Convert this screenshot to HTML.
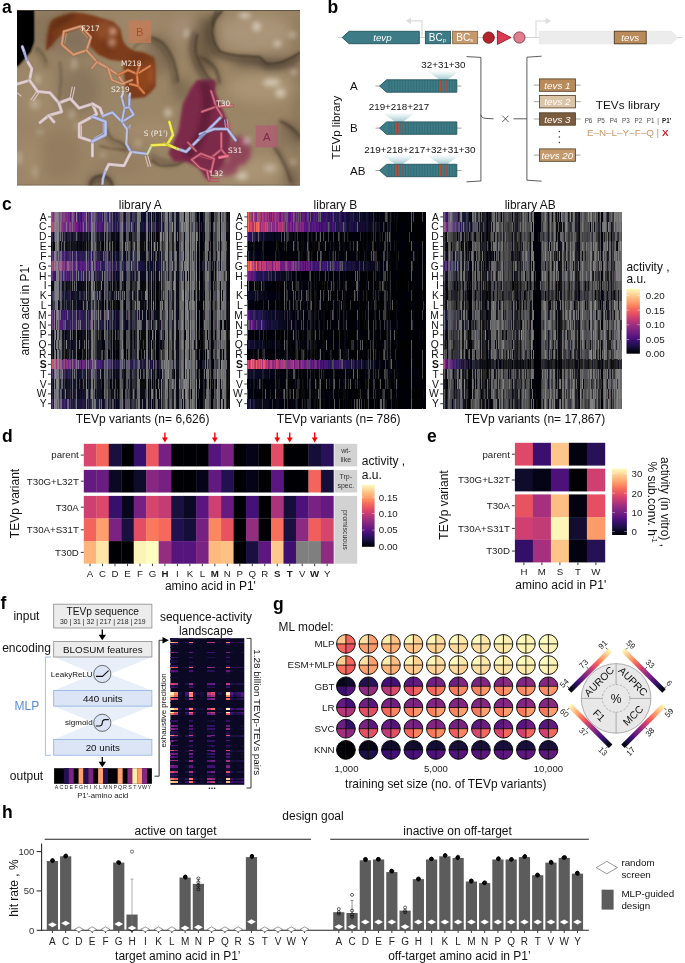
<!DOCTYPE html>
<html lang="en"><head><meta charset="utf-8"><title>Figure</title>
<style>
html,body{margin:0;padding:0;background:#fff}
body{width:685px;height:963px;overflow:hidden}
svg{display:block;font-family:"Liberation Sans",Arial,Helvetica,sans-serif}
</style></head><body>
<svg width="685" height="963" viewBox="0 0 685 963">
<defs>
<linearGradient id="magV" x1="0" y1="0" x2="0" y2="1"><stop offset="0" stop-color="#fcfdbf"/><stop offset="0.06" stop-color="#fde2a3"/><stop offset="0.12" stop-color="#fec488"/><stop offset="0.19" stop-color="#fea772"/><stop offset="0.25" stop-color="#fc8961"/><stop offset="0.31" stop-color="#f56b5c"/><stop offset="0.38" stop-color="#e75263"/><stop offset="0.44" stop-color="#d0416f"/><stop offset="0.5" stop-color="#b73779"/><stop offset="0.56" stop-color="#9c2e7f"/><stop offset="0.62" stop-color="#832681"/><stop offset="0.69" stop-color="#6a1c81"/><stop offset="0.75" stop-color="#51127c"/><stop offset="0.81" stop-color="#36106b"/><stop offset="0.88" stop-color="#1d1147"/><stop offset="0.94" stop-color="#0a0822"/><stop offset="1" stop-color="#000004"/></linearGradient>
<linearGradient id="magH" x1="0" y1="0" x2="1" y2="0"><stop offset="0" stop-color="#000004"/><stop offset="0.06" stop-color="#0a0822"/><stop offset="0.12" stop-color="#1d1147"/><stop offset="0.19" stop-color="#36106b"/><stop offset="0.25" stop-color="#51127c"/><stop offset="0.31" stop-color="#6a1c81"/><stop offset="0.38" stop-color="#832681"/><stop offset="0.44" stop-color="#9c2e7f"/><stop offset="0.5" stop-color="#b73779"/><stop offset="0.56" stop-color="#d0416f"/><stop offset="0.62" stop-color="#e75263"/><stop offset="0.69" stop-color="#f56b5c"/><stop offset="0.75" stop-color="#fc8961"/><stop offset="0.81" stop-color="#fea772"/><stop offset="0.88" stop-color="#fec488"/><stop offset="0.94" stop-color="#fde2a3"/><stop offset="1" stop-color="#fcfdbf"/></linearGradient>
<linearGradient id="fanG" x1="0" y1="0" x2="0" y2="1"><stop offset="0" stop-color="#a9d0d5" stop-opacity="0"/><stop offset="1" stop-color="#9cc8ce" stop-opacity=".95"/></linearGradient>
<filter id="bl6" x="-50%" y="-50%" width="200%" height="200%"><feGaussianBlur stdDeviation="6"/></filter>
<filter id="bl3" x="-50%" y="-50%" width="200%" height="200%"><feGaussianBlur stdDeviation="2.6"/></filter>
<filter id="bl2" x="-20%" y="-20%" width="140%" height="140%"><feGaussianBlur stdDeviation="1.8"/></filter>
<filter id="bl1" x="-20%" y="-20%" width="140%" height="140%"><feGaussianBlur stdDeviation=".8"/></filter>
<clipPath id="clipA"><rect x="17" y="10" width="283" height="175.6"/></clipPath>
</defs>
<text x="2" y="13.2" font-size="17.5" font-weight="bold">a</text>
<g clip-path="url(#clipA)">
<rect x="17" y="10" width="283" height="175.6" fill="#9b8567"/>
<g filter="url(#bl6)">
<ellipse cx="55" cy="30" rx="32" ry="22" fill="#86735b" opacity="0.85"/>
<ellipse cx="80" cy="45" rx="16" ry="12" fill="#7f6f5a" opacity="0.8"/>
<ellipse cx="205" cy="45" rx="11" ry="30" fill="#66553f" opacity="0.85"/>
<ellipse cx="160" cy="55" rx="14" ry="20" fill="#7b6952" opacity="0.7"/>
<ellipse cx="182" cy="90" rx="10" ry="12" fill="#6b5a46" opacity="0.6"/>
<ellipse cx="255" cy="33" rx="36" ry="19" fill="#ab967a" opacity="0.95"/>
<ellipse cx="182" cy="28" rx="11" ry="15" fill="#a5907a" opacity="0.7"/>
<ellipse cx="140" cy="22" rx="18" ry="10" fill="#a08b70" opacity="0.6"/>
<ellipse cx="264" cy="63" rx="32" ry="5" fill="#54453a" opacity="0.85"/>
<ellipse cx="262" cy="88" rx="34" ry="15" fill="#ab9677" opacity="0.85"/>
<ellipse cx="290" cy="135" rx="14" ry="12" fill="#7a6851" opacity="0.7"/>
<ellipse cx="250" cy="170" rx="38" ry="14" fill="#ab9678" opacity="0.85"/>
<ellipse cx="292" cy="178" rx="12" ry="10" fill="#7b6850" opacity="0.7"/>
<ellipse cx="40" cy="95" rx="22" ry="25" fill="#a48d6e" opacity="0.6"/>
<ellipse cx="60" cy="85" rx="5" ry="28" fill="#7d6b55" opacity="0.55"/>
<ellipse cx="82" cy="90" rx="17" ry="24" fill="#82705a" opacity="0.7"/>
<ellipse cx="60" cy="155" rx="20" ry="25" fill="#8d775b" opacity="0.6"/>
<ellipse cx="30" cy="160" rx="12" ry="22" fill="#a58e6e" opacity="0.6"/>
<ellipse cx="150" cy="130" rx="24" ry="10" fill="#a8916f" opacity="0.6"/>
<ellipse cx="120" cy="165" rx="25" ry="10" fill="#8f7a5f" opacity="0.55"/>
<ellipse cx="100" cy="182" rx="10" ry="5" fill="#55463a" opacity="0.85"/>
<ellipse cx="298" cy="100" rx="3" ry="90" fill="#6b5a46" opacity="0.6"/>
</g>
<path d="M17 10 H34 L34 42 L30.5 52 L17 67.5 Z" fill="#000" filter="url(#bl1)"/>
<path d="M17 10 H33.4 L33.4 41 L30 51 L17 66 Z" fill="#000"/>
<g filter="url(#bl3)">
<ellipse cx="187" cy="33.5" rx="2.4" ry="4" fill="#ddd3c2" opacity="0.8"/>
<ellipse cx="244.7" cy="15.4" rx="6" ry="3" fill="#ddd3c2" opacity="0.8"/>
<ellipse cx="256.6" cy="26.6" rx="4" ry="4.5" fill="#ddd3c2" opacity="0.85"/>
<ellipse cx="277.4" cy="43.7" rx="3.6" ry="3" fill="#ddd3c2" opacity="0.85"/>
<ellipse cx="292.3" cy="34.8" rx="4" ry="2.6" fill="#ddd3c2" opacity="0.6"/>
<ellipse cx="293.8" cy="72" rx="3" ry="2.6" fill="#ddd3c2" opacity="0.7"/>
<ellipse cx="271.5" cy="82.5" rx="9" ry="4" fill="#ddd3c2" opacity="0.75"/>
<ellipse cx="280.4" cy="93" rx="5" ry="4.5" fill="#ddd3c2" opacity="0.8"/>
<ellipse cx="37.6" cy="79" rx="3" ry="5" fill="#ddd3c2" opacity="0.45"/>
<ellipse cx="34.7" cy="104" rx="5" ry="5" fill="#ddd3c2" opacity="0.4"/>
<ellipse cx="74" cy="64" rx="2.6" ry="6" fill="#ddd3c2" opacity="0.45"/>
<ellipse cx="72" cy="114" rx="3" ry="5" fill="#ddd3c2" opacity="0.4"/>
<ellipse cx="168" cy="112.7" rx="3.6" ry="4.4" fill="#ddd3c2" opacity="0.7"/>
<ellipse cx="246" cy="141" rx="3.6" ry="3.4" fill="#ddd3c2" opacity="0.75"/>
<ellipse cx="242" cy="176" rx="6" ry="4" fill="#ddd3c2" opacity="0.7"/>
<ellipse cx="270" cy="168" rx="6" ry="4" fill="#ddd3c2" opacity="0.45"/>
<ellipse cx="293" cy="162" rx="2.6" ry="2.6" fill="#ddd3c2" opacity="0.6"/>
<ellipse cx="103" cy="155" rx="3" ry="2.4" fill="#ddd3c2" opacity="0.4"/>
<ellipse cx="77" cy="126" rx="2.4" ry="4" fill="#ddd3c2" opacity="0.3"/>
<ellipse cx="40" cy="132" rx="3.6" ry="2.6" fill="#ddd3c2" opacity="0.35"/>
<ellipse cx="138" cy="143" rx="3" ry="3" fill="#ddd3c2" opacity="0.45"/>
<ellipse cx="19" cy="158" rx="2.4" ry="7" fill="#ddd3c2" opacity="0.5"/>
<ellipse cx="35" cy="172" rx="3" ry="6" fill="#ddd3c2" opacity="0.3"/>
</g>
<g filter="url(#bl3)" fill="none" stroke="#4a3c2d" stroke-linecap="round">
<path d="M219 12 Q209 20 208.5 30 Q208 42 216 53 Q226 58.5 237 59 L259 60.5 Q264 66 268 67 Q277 67.5 284 65 Q292 62 300 56.5" stroke-width="6" opacity=".6"/>
<path d="M194 34 Q191.5 44 192.5 53 Q195 62 199 69 Q204 79 212 87" stroke-width="6" opacity=".55"/>
<path d="M149 39 Q156 41 161 46 Q167 53 170.5 62 Q174 72 175 82" stroke-width="6" opacity=".5"/>
<path d="M203 59 Q211 64 216 71 Q219 77 219.4 84" stroke-width="4" opacity=".45"/>
<path d="M283 123 Q292 128 300 139" stroke-width="6" opacity=".45"/>
<path d="M277 149 Q286 162 293 184" stroke-width="6" opacity=".4"/>
<path d="M91 186 Q92 179 101 178 Q109 178 111.5 186" stroke-width="5" opacity=".6"/>
<path d="M152 157 Q160 162 170 163 Q178 162 184 156" stroke-width="6" opacity=".45"/>
<path d="M36 50 Q44 55 46 66" stroke-width="5" opacity=".35"/>
<path d="M105 131 Q106 140 116 143.5 Q124 145 127 152" stroke-width="4" opacity=".4"/>
</g>
<g filter="url(#bl1)" fill="none" stroke="#33291f" stroke-linecap="round">
<path d="M222.3 10.2 Q214 18 212.5 28 Q211 40 219.4 51.2 Q228 55 237.2 55.6 L259.6 57 Q264 62 267 63.8 Q276 64 283.4 61.6 Q292 58 300 52.7" stroke-width="1.8" opacity=".8"/>
<path d="M216.5 11 Q212 20 212 25.7" stroke-width="1.4" opacity=".6"/>
<path d="M197.3 34.5 Q195 44 195.8 52.2 Q198 60 201.7 67 Q207 77 215 84.7" stroke-width="1.6" opacity=".7"/>
<path d="M200 57 Q209 61 214.9 67.6 Q219 75 219.4 82.5" stroke-width="1.4" opacity=".55"/>
<path d="M151.6 37.5 Q158 39 163.4 43.4 Q170 51 173.7 61 Q177 71 178.1 81.7" stroke-width="1.6" opacity=".7"/>
<path d="M133 49 Q138 42 146 41" stroke-width="1.2" opacity=".5"/>
<path d="M280 121 Q290 125 300 136" stroke-width="1.5" opacity=".6"/>
<path d="M274 147 Q284 160 291 182" stroke-width="1.5" opacity=".55"/>
<path d="M90 185.5 Q91 177 101 175.5 Q110 176 112.5 185.5" stroke-width="1.5" opacity=".85"/>
<path d="M100 146 Q110 149 125 150" stroke-width="1.3" opacity=".6"/>
<path d="M151.7 160.4 Q156 164 160 165.5 Q170 166.5 178 164.5 Q182 162.5 184.5 159.4" stroke-width="1.4" opacity=".7"/>
<path d="M60 62 Q62 80 59 100" stroke-width="1.6" opacity=".35"/>
<path d="M107 129 Q108 138 117 141 Q125 143 128 150" stroke-width="1.3" opacity=".55"/>
<path d="M36 48 Q44 52 46 62" stroke-width="1.3" opacity=".4"/>
</g>
<g filter="url(#bl1)">
<path d="M46.6 49.4 L48.8 31.9 L51.7 21.7 L56 18.5 L61.9 16.6 L69 14.6 L76.5 13.6 L84 14.2 L91.1 15.8 L101.3 18.8 L113 22.4 L119.6 29 L121.8 39.2 L124 44 L127.6 48 L134 51.5 L143.2 53.3 L153.4 57.6 L154.9 66 L154.9 86.3 L150 92 L144.6 96.5 L131.5 98 L126.4 89.2 L125 77 L124.2 64.4 L121.8 60.4 L110 58.9 L98.4 53.8 L91.1 46.5 L90.4 37.7 L80.9 26.8 L69.2 30.4 L61.9 33.4 L54.6 40.7Z" fill="#7d3c1c" stroke="#7d3c1c" stroke-width="1.5" stroke-linejoin="round"/>
</g>
<g filter="url(#bl3)">
<ellipse cx="62" cy="21" rx="15" ry="4" fill="#5a2913" opacity="0.8" transform="rotate(-28 62 21)"/>
<ellipse cx="50.5" cy="38" rx="3" ry="10" fill="#5e2a12" opacity="0.6" transform="rotate(8 50.5 38)"/>
<ellipse cx="104" cy="30" rx="9" ry="9" fill="#99552e" opacity="0.65"/>
<ellipse cx="106" cy="48" rx="6" ry="8" fill="#6f3318" opacity="0.6" transform="rotate(-30 106 48)"/>
<ellipse cx="143" cy="78" rx="8" ry="13" fill="#96481d" opacity="0.7"/>
<ellipse cx="151.5" cy="74" rx="2.2" ry="11" fill="#b96030" opacity="0.6"/>
<ellipse cx="138" cy="57" rx="9" ry="3" fill="#6a2f14" opacity="0.6"/>
<ellipse cx="113.5" cy="31.5" rx="2.6" ry="3.2" fill="#f0c8aa" opacity="0.95"/>
<ellipse cx="112.5" cy="42" rx="2.6" ry="3.2" fill="#f0c8aa" opacity="0.85"/>
</g>
<g filter="url(#bl3)">
<ellipse cx="239" cy="151" rx="12" ry="15" fill="#8d3856" opacity="0.85"/>
<ellipse cx="226" cy="168" rx="12" ry="8" fill="#8d3856" opacity="0.8"/>
</g>
<g filter="url(#bl2)">
<path d="M196.8 80 H215.2 V92.3 L221.3 106.6 L227.4 121 L231 137 L229 152 L222 166 L210 178 L207 180 L198.8 168 L186.6 161.7 L174.3 161.7 L168.2 153.6 L178.4 131 L182.5 104.5 L190.7 88.2 Z" fill="#7b2b49"/>
</g>
<g filter="url(#bl3)">
<path d="M204 82 L208 100 L204 126 L196 146 L186 156" fill="none" stroke="#571c33" stroke-width="9" opacity=".8"/>
<ellipse cx="246" cy="141.5" rx="3" ry="3" fill="#e6cfd0" opacity="0.7"/>
</g>
<rect x="128.6" y="20.4" width="22.6" height="22.6" fill="#c97c55" opacity=".72"/>
<text x="139.9" y="35.8" font-size="11.4" text-anchor="middle" fill="#a4512c">B</text>
<rect x="255.6" y="125.4" width="22.5" height="22" fill="#b05c72" opacity=".75"/>
<text x="266.9" y="140.6" font-size="11.4" text-anchor="middle" fill="#7e2a4b">A</text>
<path d="M63.9 31.4 L80.7 26.2 L90.9 37.2 L86.5 50.3 L73.4 54.7 L61.7 44.5 L63.9 31.4" fill="none" stroke="#895b40" stroke-width="3.5" stroke-linecap="round" stroke-linejoin="round" opacity="0.47"/><path d="M63.9 31.4 L80.7 26.2 L90.9 37.2 L86.5 50.3 L73.4 54.7 L61.7 44.5 L63.9 31.4" fill="none" stroke="#d48d63" stroke-width="2.6" stroke-linecap="round" stroke-linejoin="round" opacity="0.85"/><path d="M63.9 31.4 L80.7 26.2 L90.9 37.2 L86.5 50.3 L73.4 54.7 L61.7 44.5 L63.9 31.4" fill="none" stroke="#e5baa1" stroke-width="0.99" stroke-linecap="round" stroke-linejoin="round" opacity="0.59"/>
<path d="M66.5 33.2 L64.8 43.5" fill="none" stroke="#d48d63" stroke-width="1.1" stroke-linecap="round" stroke-linejoin="round" opacity="0.8"/>
<path d="M80 29 L87.6 37.6" fill="none" stroke="#d48d63" stroke-width="1.1" stroke-linecap="round" stroke-linejoin="round" opacity="0.8"/>
<path d="M86.5 50.3 L97 62 L108 68 L118 75 L124 84" fill="none" stroke="#895b40" stroke-width="3.5" stroke-linecap="round" stroke-linejoin="round" opacity="0.47"/><path d="M86.5 50.3 L97 62 L108 68 L118 75 L124 84" fill="none" stroke="#d48d63" stroke-width="2.6" stroke-linecap="round" stroke-linejoin="round" opacity="0.85"/><path d="M86.5 50.3 L97 62 L108 68 L118 75 L124 84" fill="none" stroke="#e5baa1" stroke-width="0.99" stroke-linecap="round" stroke-linejoin="round" opacity="0.59"/>
<path d="M97 62 L92 68" fill="none" stroke="#895b40" stroke-width="3.4" stroke-linecap="round" stroke-linejoin="round" opacity="0.44"/><path d="M97 62 L92 68" fill="none" stroke="#d48d63" stroke-width="2.5" stroke-linecap="round" stroke-linejoin="round" opacity="0.8"/><path d="M97 62 L92 68" fill="none" stroke="#e5baa1" stroke-width="0.95" stroke-linecap="round" stroke-linejoin="round" opacity="0.56"/>
<path d="M108 68 L112 80 L122 84 L132 80" fill="none" stroke="#895b40" stroke-width="3.3" stroke-linecap="round" stroke-linejoin="round" opacity="0.44"/><path d="M108 68 L112 80 L122 84 L132 80" fill="none" stroke="#d48d63" stroke-width="2.4" stroke-linecap="round" stroke-linejoin="round" opacity="0.8"/><path d="M108 68 L112 80 L122 84 L132 80" fill="none" stroke="#e5baa1" stroke-width="0.91" stroke-linecap="round" stroke-linejoin="round" opacity="0.56"/>
<path d="M108.5 72 L111 79" fill="none" stroke="#d48d63" stroke-width="1" stroke-linecap="round" stroke-linejoin="round" opacity="0.8"/>
<path d="M118 75 L128 70 L137 74 L150 66" fill="none" stroke="#874825" stroke-width="3.5" stroke-linecap="round" stroke-linejoin="round" opacity="0.5"/><path d="M118 75 L128 70 L137 74 L150 66" fill="none" stroke="#d0703a" stroke-width="2.6" stroke-linecap="round" stroke-linejoin="round" opacity="0.9"/><path d="M118 75 L128 70 L137 74 L150 66" fill="none" stroke="#e2a988" stroke-width="0.99" stroke-linecap="round" stroke-linejoin="round" opacity="0.63"/>
<path d="M137 74 L138 86 L144 93" fill="none" stroke="#874825" stroke-width="3.5" stroke-linecap="round" stroke-linejoin="round" opacity="0.5"/><path d="M137 74 L138 86 L144 93" fill="none" stroke="#d0703a" stroke-width="2.6" stroke-linecap="round" stroke-linejoin="round" opacity="0.9"/><path d="M137 74 L138 86 L144 93" fill="none" stroke="#e2a988" stroke-width="0.99" stroke-linecap="round" stroke-linejoin="round" opacity="0.63"/>
<path d="M138 86 L130 84" fill="none" stroke="#874825" stroke-width="3.4" stroke-linecap="round" stroke-linejoin="round" opacity="0.5"/><path d="M138 86 L130 84" fill="none" stroke="#d0703a" stroke-width="2.5" stroke-linecap="round" stroke-linejoin="round" opacity="0.9"/><path d="M138 86 L130 84" fill="none" stroke="#e2a988" stroke-width="0.95" stroke-linecap="round" stroke-linejoin="round" opacity="0.63"/>
<path d="M137 74 L140 64" fill="none" stroke="#874825" stroke-width="3.4" stroke-linecap="round" stroke-linejoin="round" opacity="0.44"/><path d="M137 74 L140 64" fill="none" stroke="#d0703a" stroke-width="2.5" stroke-linecap="round" stroke-linejoin="round" opacity="0.8"/><path d="M137 74 L140 64" fill="none" stroke="#e2a988" stroke-width="0.95" stroke-linecap="round" stroke-linejoin="round" opacity="0.56"/>
<path d="M26.7 60 L31.8 68.8 L29.6 80.4 L17.2 84" fill="none" stroke="#8c7e7e" stroke-width="3.9" stroke-linecap="round" stroke-linejoin="round" opacity="0.55"/><path d="M26.7 60 L31.8 68.8 L29.6 80.4 L17.2 84" fill="none" stroke="#d8c2c3" stroke-width="3" stroke-linecap="round" stroke-linejoin="round"/><path d="M26.7 60 L31.8 68.8 L29.6 80.4 L17.2 84" fill="none" stroke="#e7dadb" stroke-width="1.14" stroke-linecap="round" stroke-linejoin="round" opacity="0.7"/>
<path d="M29.6 80.4 L37.6 91.4 L50 92.8 L58.8 103 L70.5 98.7 L79.2 108.2 L92.4 103.8 L96.8 114 L92.4 116.6" fill="none" stroke="#8c7e7e" stroke-width="3.9" stroke-linecap="round" stroke-linejoin="round" opacity="0.55"/><path d="M29.6 80.4 L37.6 91.4 L50 92.8 L58.8 103 L70.5 98.7 L79.2 108.2 L92.4 103.8 L96.8 114 L92.4 116.6" fill="none" stroke="#d8c2c3" stroke-width="3" stroke-linecap="round" stroke-linejoin="round"/><path d="M29.6 80.4 L37.6 91.4 L50 92.8 L58.8 103 L70.5 98.7 L79.2 108.2 L92.4 103.8 L96.8 114 L92.4 116.6" fill="none" stroke="#e7dadb" stroke-width="1.14" stroke-linecap="round" stroke-linejoin="round" opacity="0.7"/>
<path d="M36.6 91.6 L31 99.6" fill="none" stroke="#d8c2c3" stroke-width="1.1" stroke-linecap="round" stroke-linejoin="round"/>
<path d="M38.9 92.6 L33.4 100.6" fill="none" stroke="#d8c2c3" stroke-width="1.1" stroke-linecap="round" stroke-linejoin="round"/>
<path d="M70 98 L72.2 87" fill="none" stroke="#d8c2c3" stroke-width="1.1" stroke-linecap="round" stroke-linejoin="round"/>
<path d="M72.4 98.4 L74.6 87.4" fill="none" stroke="#d8c2c3" stroke-width="1.1" stroke-linecap="round" stroke-linejoin="round"/>
<path d="M58.8 103 L61.7 111.8 L48.6 115.5 L40 122.6" fill="none" stroke="#8c7e7e" stroke-width="3.9" stroke-linecap="round" stroke-linejoin="round" opacity="0.55"/><path d="M58.8 103 L61.7 111.8 L48.6 115.5 L40 122.6" fill="none" stroke="#d8c2c3" stroke-width="3" stroke-linecap="round" stroke-linejoin="round"/><path d="M58.8 103 L61.7 111.8 L48.6 115.5 L40 122.6" fill="none" stroke="#e7dadb" stroke-width="1.14" stroke-linecap="round" stroke-linejoin="round" opacity="0.7"/>
<path d="M48.6 115.5 L54 122" fill="none" stroke="#8c7e7e" stroke-width="3.9" stroke-linecap="round" stroke-linejoin="round" opacity="0.55"/><path d="M48.6 115.5 L54 122" fill="none" stroke="#d8c2c3" stroke-width="3" stroke-linecap="round" stroke-linejoin="round"/><path d="M48.6 115.5 L54 122" fill="none" stroke="#e7dadb" stroke-width="1.14" stroke-linecap="round" stroke-linejoin="round" opacity="0.7"/>
<path d="M17.5 93 L21 96" fill="none" stroke="#d8c2c3" stroke-width="1.1" stroke-linecap="round" stroke-linejoin="round"/>
<path d="M92.4 116.6 L79.2 123.9 L79.2 137 L92.4 141.4 L92.4 156" fill="none" stroke="#8c7e7e" stroke-width="3.9" stroke-linecap="round" stroke-linejoin="round" opacity="0.55"/><path d="M92.4 116.6 L79.2 123.9 L79.2 137 L92.4 141.4 L92.4 156" fill="none" stroke="#d8c2c3" stroke-width="3" stroke-linecap="round" stroke-linejoin="round"/><path d="M92.4 116.6 L79.2 123.9 L79.2 137 L92.4 141.4 L92.4 156" fill="none" stroke="#e7dadb" stroke-width="1.14" stroke-linecap="round" stroke-linejoin="round" opacity="0.7"/>
<path d="M81.5 125.6 L81.5 135.6" fill="none" stroke="#d8c2c3" stroke-width="1" stroke-linecap="round" stroke-linejoin="round"/>
<path d="M92.4 103.8 L100 108 L103 116" fill="none" stroke="#8c7e7e" stroke-width="3.9" stroke-linecap="round" stroke-linejoin="round" opacity="0.55"/><path d="M92.4 103.8 L100 108 L103 116" fill="none" stroke="#d8c2c3" stroke-width="3" stroke-linecap="round" stroke-linejoin="round"/><path d="M92.4 103.8 L100 108 L103 116" fill="none" stroke="#e7dadb" stroke-width="1.14" stroke-linecap="round" stroke-linejoin="round" opacity="0.7"/>
<path d="M22.3 46.7 L24.6 53" fill="none" stroke="#787a9c" stroke-width="3.5" stroke-linecap="round" stroke-linejoin="round" opacity="0.55"/><path d="M22.3 46.7 L24.6 53" fill="none" stroke="#b9bdf0" stroke-width="2.6" stroke-linecap="round" stroke-linejoin="round"/><path d="M22.3 46.7 L24.6 53" fill="none" stroke="#d5d7f6" stroke-width="0.99" stroke-linecap="round" stroke-linejoin="round" opacity="0.7"/>
<path d="M24.6 53 L26.7 60" fill="none" stroke="#64688c" stroke-width="3.3" stroke-linecap="round" stroke-linejoin="round" opacity="0.55"/><path d="M24.6 53 L26.7 60" fill="none" stroke="#9aa0d8" stroke-width="2.4" stroke-linecap="round" stroke-linejoin="round"/><path d="M24.6 53 L26.7 60" fill="none" stroke="#c2c6e7" stroke-width="0.91" stroke-linecap="round" stroke-linejoin="round" opacity="0.7"/>
<path d="M92.4 116.6 L105.5 121.7 L105.5 134.8 L92.4 141.4" fill="none" stroke="#6d7392" stroke-width="3.9" stroke-linecap="round" stroke-linejoin="round" opacity="0.55"/><path d="M92.4 116.6 L105.5 121.7 L105.5 134.8 L92.4 141.4" fill="none" stroke="#a9b1e2" stroke-width="3" stroke-linecap="round" stroke-linejoin="round"/><path d="M92.4 116.6 L105.5 121.7 L105.5 134.8 L92.4 141.4" fill="none" stroke="#cbd0ed" stroke-width="1.14" stroke-linecap="round" stroke-linejoin="round" opacity="0.7"/>
<path d="M103.2 123.5 L103.2 133.2 L94 138" fill="none" stroke="#a9b1e2" stroke-width="1" stroke-linecap="round" stroke-linejoin="round"/>
<path d="M102.9 116 L112.4 112.4 L121.9 121.9 L127 129.2 L126.3 143.8 L130.7 151.8 L147.4 154" fill="none" stroke="#6d7392" stroke-width="3.4" stroke-linecap="round" stroke-linejoin="round" opacity="0.55"/><path d="M102.9 116 L112.4 112.4 L121.9 121.9 L127 129.2 L126.3 143.8 L130.7 151.8 L147.4 154" fill="none" stroke="#a9b1e2" stroke-width="2.5" stroke-linecap="round" stroke-linejoin="round"/><path d="M102.9 116 L112.4 112.4 L121.9 121.9 L127 129.2 L126.3 143.8 L130.7 151.8 L147.4 154" fill="none" stroke="#cbd0ed" stroke-width="0.95" stroke-linecap="round" stroke-linejoin="round" opacity="0.7"/>
<path d="M121.9 121.9 L133.6 114.6 L129.2 107.3 L129.4 96" fill="none" stroke="#6d7392" stroke-width="3.3" stroke-linecap="round" stroke-linejoin="round" opacity="0.55"/><path d="M121.9 121.9 L133.6 114.6 L129.2 107.3 L129.4 96" fill="none" stroke="#a9b1e2" stroke-width="2.4" stroke-linecap="round" stroke-linejoin="round"/><path d="M121.9 121.9 L133.6 114.6 L129.2 107.3 L129.4 96" fill="none" stroke="#cbd0ed" stroke-width="0.91" stroke-linecap="round" stroke-linejoin="round" opacity="0.7"/>
<path d="M121.9 121.9 L124.5 108 L121.5 97" fill="none" stroke="#6d7392" stroke-width="3.1" stroke-linecap="round" stroke-linejoin="round" opacity="0.55"/><path d="M121.9 121.9 L124.5 108 L121.5 97" fill="none" stroke="#a9b1e2" stroke-width="2.2" stroke-linecap="round" stroke-linejoin="round"/><path d="M121.9 121.9 L124.5 108 L121.5 97" fill="none" stroke="#cbd0ed" stroke-width="0.84" stroke-linecap="round" stroke-linejoin="round" opacity="0.7"/>
<path d="M124.5 108 L129.2 107.3" fill="none" stroke="#6d7392" stroke-width="2.9" stroke-linecap="round" stroke-linejoin="round" opacity="0.55"/><path d="M124.5 108 L129.2 107.3" fill="none" stroke="#a9b1e2" stroke-width="2" stroke-linecap="round" stroke-linejoin="round"/><path d="M124.5 108 L129.2 107.3" fill="none" stroke="#cbd0ed" stroke-width="0.76" stroke-linecap="round" stroke-linejoin="round" opacity="0.7"/>
<path d="M127.5 128 L130.5 125 L129.6 128.4" fill="none" stroke="#a9b1e2" stroke-width="1" stroke-linecap="round" stroke-linejoin="round"/>
<path d="M121.5 97 L123 93" fill="none" stroke="#827c8c" stroke-width="3.1" stroke-linecap="round" stroke-linejoin="round" opacity="0.55"/><path d="M121.5 97 L123 93" fill="none" stroke="#c8bfd8" stroke-width="2.2" stroke-linecap="round" stroke-linejoin="round"/><path d="M121.5 97 L123 93" fill="none" stroke="#ded8e7" stroke-width="0.84" stroke-linecap="round" stroke-linejoin="round" opacity="0.7"/>
<path d="M129.4 96 L130 93.6" fill="none" stroke="#827c8c" stroke-width="3.1" stroke-linecap="round" stroke-linejoin="round" opacity="0.55"/><path d="M129.4 96 L130 93.6" fill="none" stroke="#c8bfd8" stroke-width="2.2" stroke-linecap="round" stroke-linejoin="round"/><path d="M129.4 96 L130 93.6" fill="none" stroke="#ded8e7" stroke-width="0.84" stroke-linecap="round" stroke-linejoin="round" opacity="0.7"/>
<path d="M130.7 152.6 L124.1 165.7 L108.8 164.2 L105 172" fill="none" stroke="#8c7e7e" stroke-width="3.9" stroke-linecap="round" stroke-linejoin="round" opacity="0.55"/><path d="M130.7 152.6 L124.1 165.7 L108.8 164.2 L105 172" fill="none" stroke="#d8c2c3" stroke-width="3" stroke-linecap="round" stroke-linejoin="round"/><path d="M130.7 152.6 L124.1 165.7 L108.8 164.2 L105 172" fill="none" stroke="#e7dadb" stroke-width="1.14" stroke-linecap="round" stroke-linejoin="round" opacity="0.7"/>
<path d="M105 172 L102.9 178.8 L102.5 184" fill="none" stroke="#6d7392" stroke-width="3.4" stroke-linecap="round" stroke-linejoin="round" opacity="0.55"/><path d="M105 172 L102.9 178.8 L102.5 184" fill="none" stroke="#a9b1e2" stroke-width="2.5" stroke-linecap="round" stroke-linejoin="round"/><path d="M105 172 L102.9 178.8 L102.5 184" fill="none" stroke="#cbd0ed" stroke-width="0.95" stroke-linecap="round" stroke-linejoin="round" opacity="0.7"/>
<path d="M145.3 156.2 L148.2 166.6" fill="none" stroke="#d8c2c3" stroke-width="1.1" stroke-linecap="round" stroke-linejoin="round"/>
<path d="M147.7 155.6 L150.6 166" fill="none" stroke="#d8c2c3" stroke-width="1.1" stroke-linecap="round" stroke-linejoin="round"/>
<path d="M147.4 154 L151.8 145.3" fill="none" stroke="#828664" stroke-width="3.3" stroke-linecap="round" stroke-linejoin="round" opacity="0.55"/><path d="M147.4 154 L151.8 145.3" fill="none" stroke="#c9cf9a" stroke-width="2.4" stroke-linecap="round" stroke-linejoin="round"/><path d="M147.4 154 L151.8 145.3" fill="none" stroke="#dee2c2" stroke-width="0.91" stroke-linecap="round" stroke-linejoin="round" opacity="0.7"/>
<path d="M169.3 121.9 L173 135 L167.2 144.5" fill="none" stroke="#9b9628" stroke-width="3.4" stroke-linecap="round" stroke-linejoin="round" opacity="0.55"/><path d="M169.3 121.9 L173 135 L167.2 144.5" fill="none" stroke="#efe73e" stroke-width="2.5" stroke-linecap="round" stroke-linejoin="round"/><path d="M169.3 121.9 L173 135 L167.2 144.5" fill="none" stroke="#f5f08b" stroke-width="0.95" stroke-linecap="round" stroke-linejoin="round" opacity="0.7"/>
<path d="M151.8 145.3 L167.2 144.5 L177.4 148.9" fill="none" stroke="#9b9628" stroke-width="3.4" stroke-linecap="round" stroke-linejoin="round" opacity="0.55"/><path d="M151.8 145.3 L167.2 144.5 L177.4 148.9" fill="none" stroke="#efe73e" stroke-width="2.5" stroke-linecap="round" stroke-linejoin="round"/><path d="M151.8 145.3 L167.2 144.5 L177.4 148.9" fill="none" stroke="#f5f08b" stroke-width="0.95" stroke-linecap="round" stroke-linejoin="round" opacity="0.7"/>
<path d="M164 142.5 L170 147" fill="none" stroke="#c9c22a" stroke-width="1.2" stroke-linecap="round" stroke-linejoin="round"/>
<path d="M177.4 148.9 L181 150" fill="none" stroke="#8a8958" stroke-width="3.3" stroke-linecap="round" stroke-linejoin="round" opacity="0.55"/><path d="M177.4 148.9 L181 150" fill="none" stroke="#d5d488" stroke-width="2.4" stroke-linecap="round" stroke-linejoin="round"/><path d="M177.4 148.9 L181 150" fill="none" stroke="#e5e5b7" stroke-width="0.91" stroke-linecap="round" stroke-linejoin="round" opacity="0.7"/>
<path d="M181 150 L186.1 151.8 L196.8 141.3 L221.3 116.8" fill="none" stroke="#6d7392" stroke-width="3.5" stroke-linecap="round" stroke-linejoin="round" opacity="0.55"/><path d="M181 150 L186.1 151.8 L196.8 141.3 L221.3 116.8" fill="none" stroke="#a9b1e2" stroke-width="2.6" stroke-linecap="round" stroke-linejoin="round"/><path d="M181 150 L186.1 151.8 L196.8 141.3 L221.3 116.8" fill="none" stroke="#cbd0ed" stroke-width="0.99" stroke-linecap="round" stroke-linejoin="round" opacity="0.7"/>
<path d="M199.9 134.2 L214.2 129 L227.4 129 L235.6 140.3" fill="none" stroke="#6d7392" stroke-width="3.5" stroke-linecap="round" stroke-linejoin="round" opacity="0.55"/><path d="M199.9 134.2 L214.2 129 L227.4 129 L235.6 140.3" fill="none" stroke="#a9b1e2" stroke-width="2.6" stroke-linecap="round" stroke-linejoin="round"/><path d="M199.9 134.2 L214.2 129 L227.4 129 L235.6 140.3" fill="none" stroke="#cbd0ed" stroke-width="0.99" stroke-linecap="round" stroke-linejoin="round" opacity="0.7"/>
<path d="M199.5 137.5 L205 133.5" fill="none" stroke="#515577" stroke-width="3.1" stroke-linecap="round" stroke-linejoin="round" opacity="0.55"/><path d="M199.5 137.5 L205 133.5" fill="none" stroke="#7d84b8" stroke-width="2.2" stroke-linecap="round" stroke-linejoin="round"/><path d="M199.5 137.5 L205 133.5" fill="none" stroke="#b1b5d4" stroke-width="0.84" stroke-linecap="round" stroke-linejoin="round" opacity="0.7"/>
<path d="M224.6 120 L225.6 128" fill="none" stroke="#a9b1e2" stroke-width="1" stroke-linecap="round" stroke-linejoin="round"/>
<path d="M227.2 119.6 L228.2 127.6" fill="none" stroke="#a9b1e2" stroke-width="1" stroke-linecap="round" stroke-linejoin="round"/>
<path d="M211.1 91.2 L216.2 106.6 L201.9 111.7" fill="none" stroke="#7c3444" stroke-width="3.5" stroke-linecap="round" stroke-linejoin="round" opacity="0.5"/><path d="M211.1 91.2 L216.2 106.6 L201.9 111.7" fill="none" stroke="#bf5069" stroke-width="2.6" stroke-linecap="round" stroke-linejoin="round" opacity="0.9"/><path d="M211.1 91.2 L216.2 106.6 L201.9 111.7" fill="none" stroke="#d896a5" stroke-width="0.99" stroke-linecap="round" stroke-linejoin="round" opacity="0.63"/>
<path d="M216.2 106.6 L232.6 105.5" fill="none" stroke="#824144" stroke-width="3.5" stroke-linecap="round" stroke-linejoin="round" opacity="0.5"/><path d="M216.2 106.6 L232.6 105.5" fill="none" stroke="#c9646a" stroke-width="2.6" stroke-linecap="round" stroke-linejoin="round" opacity="0.9"/><path d="M216.2 106.6 L232.6 105.5" fill="none" stroke="#dea2a5" stroke-width="0.99" stroke-linecap="round" stroke-linejoin="round" opacity="0.63"/>
<path d="M216.2 106.6 L222 116" fill="none" stroke="#7c3444" stroke-width="3.5" stroke-linecap="round" stroke-linejoin="round" opacity="0.5"/><path d="M216.2 106.6 L222 116" fill="none" stroke="#bf5069" stroke-width="2.6" stroke-linecap="round" stroke-linejoin="round" opacity="0.9"/><path d="M216.2 106.6 L222 116" fill="none" stroke="#d896a5" stroke-width="0.99" stroke-linecap="round" stroke-linejoin="round" opacity="0.63"/>
<path d="M226 124.5 L233 125.5" fill="none" stroke="#c9646a" stroke-width="1.1" stroke-linecap="round" stroke-linejoin="round"/>
<path d="M226 127.2 L233 128.2" fill="none" stroke="#c9646a" stroke-width="1.1" stroke-linecap="round" stroke-linejoin="round"/>
<path d="M221.3 133.1 L221.3 149.5 L211.1 157.7" fill="none" stroke="#7c3444" stroke-width="3.5" stroke-linecap="round" stroke-linejoin="round" opacity="0.52"/><path d="M221.3 133.1 L221.3 149.5 L211.1 157.7" fill="none" stroke="#bf5069" stroke-width="2.6" stroke-linecap="round" stroke-linejoin="round" opacity="0.95"/><path d="M221.3 133.1 L221.3 149.5 L211.1 157.7" fill="none" stroke="#d896a5" stroke-width="0.99" stroke-linecap="round" stroke-linejoin="round" opacity="0.66"/>
<path d="M221.3 149.5 L226 155" fill="none" stroke="#7c3444" stroke-width="3.5" stroke-linecap="round" stroke-linejoin="round" opacity="0.55"/><path d="M221.3 149.5 L226 155" fill="none" stroke="#bf5069" stroke-width="2.6" stroke-linecap="round" stroke-linejoin="round"/><path d="M221.3 149.5 L226 155" fill="none" stroke="#d896a5" stroke-width="0.99" stroke-linecap="round" stroke-linejoin="round" opacity="0.7"/>
<path d="M219.5 157.5 L227.5 156" fill="none" stroke="#913e50" stroke-width="4.1" stroke-linecap="round" stroke-linejoin="round" opacity="0.55"/><path d="M219.5 157.5 L227.5 156" fill="none" stroke="#e0607c" stroke-width="3.2" stroke-linecap="round" stroke-linejoin="round"/><path d="M219.5 157.5 L227.5 156" fill="none" stroke="#ec9fb0" stroke-width="1.22" stroke-linecap="round" stroke-linejoin="round" opacity="0.7"/>
<path d="M191.7 159.7 L200.9 153.6 L214.2 158.7 L211.1 172 L199.9 167.9 L191.7 159.7" fill="none" stroke="#7c3444" stroke-width="3.4" stroke-linecap="round" stroke-linejoin="round" opacity="0.52"/><path d="M191.7 159.7 L200.9 153.6 L214.2 158.7 L211.1 172 L199.9 167.9 L191.7 159.7" fill="none" stroke="#bf5069" stroke-width="2.5" stroke-linecap="round" stroke-linejoin="round" opacity="0.95"/><path d="M191.7 159.7 L200.9 153.6 L214.2 158.7 L211.1 172 L199.9 167.9 L191.7 159.7" fill="none" stroke="#d896a5" stroke-width="0.95" stroke-linecap="round" stroke-linejoin="round" opacity="0.66"/>
<path d="M188 142.5 L196 151" fill="none" stroke="#7c3444" stroke-width="3.4" stroke-linecap="round" stroke-linejoin="round" opacity="0.5"/><path d="M188 142.5 L196 151" fill="none" stroke="#bf5069" stroke-width="2.5" stroke-linecap="round" stroke-linejoin="round" opacity="0.9"/><path d="M188 142.5 L196 151" fill="none" stroke="#d896a5" stroke-width="0.95" stroke-linecap="round" stroke-linejoin="round" opacity="0.63"/>
<path d="M200 156.5 L211 159.5" fill="none" stroke="#bf5069" stroke-width="1" stroke-linecap="round" stroke-linejoin="round" opacity="0.9"/>
<path d="M207 170.5 L209 180" fill="none" stroke="#7c3444" stroke-width="3.4" stroke-linecap="round" stroke-linejoin="round" opacity="0.55"/><path d="M207 170.5 L209 180" fill="none" stroke="#bf5069" stroke-width="2.5" stroke-linecap="round" stroke-linejoin="round"/><path d="M207 170.5 L209 180" fill="none" stroke="#d896a5" stroke-width="0.95" stroke-linecap="round" stroke-linejoin="round" opacity="0.7"/>
<path d="M209 178.6 L219.3 178.6" fill="none" stroke="#bf5069" stroke-width="1.1" stroke-linecap="round" stroke-linejoin="round"/>
<path d="M209 181.2 L219.3 181.2" fill="none" stroke="#bf5069" stroke-width="1.1" stroke-linecap="round" stroke-linejoin="round"/>
<rect x="17" y="184.8" width="283" height="0.9" fill="#4f4335" opacity=".8"/>
<rect x="17" y="10" width="283" height="1" fill="#4f4335" opacity=".75"/>
<text x="81.4" y="30.6" font-size="7.4" fill="#f1ece6" font-family="DejaVu Sans, sans-serif">F217</text>
<text x="121" y="65.8" font-size="7.4" fill="#f1ece6" font-family="DejaVu Sans, sans-serif">M218</text>
<text x="111" y="92.4" font-size="7.4" fill="#f1ece6" font-family="DejaVu Sans, sans-serif">S219</text>
<text x="143.8" y="136.2" font-size="7.4" fill="#f1ece6" font-family="DejaVu Sans, sans-serif">S (P1')</text>
<text x="216.2" y="106.2" font-size="7.4" fill="#f1ece6" font-family="DejaVu Sans, sans-serif">T30</text>
<text x="228" y="153" font-size="7.4" fill="#f1ece6" font-family="DejaVu Sans, sans-serif">S31</text>
<text x="210" y="175.6" font-size="7.4" fill="#f1ece6" font-family="DejaVu Sans, sans-serif">L32</text>
</g>
<text x="327.5" y="13" font-size="17.5" font-weight="bold">b</text>
<line x1="338" y1="37.5" x2="682" y2="37.5" stroke="#cfcfcf" stroke-width="0.9"/>
<path d="M342.2 37.5 L349.1 31.3 H419.3 V43.7 H349.1 Z" fill="#3d7c86" stroke="#24525a" stroke-width=".9"/>
<text x="382.4" y="41.2" font-size="9.7" text-anchor="middle" font-style="italic" fill="#fff">tevp</text>
<path d="M422 37.5 V20.8 H410.5" fill="none" stroke="#dcdcdc" stroke-width="1.2"/><path d="M411 17.6 L406 20.8 L411 24 Z" fill="#dcdcdc"/>
<rect x="425.4" y="31.3" width="25" height="12.4" fill="#3d7c86" stroke="#24525a" stroke-width=".9"/>
<text x="437.3" y="41.2" font-size="10" text-anchor="middle" fill="#fff">BC<tspan font-size="5.5" dy="1">p</tspan></text>
<rect x="452.6" y="31.3" width="25" height="12.4" fill="#c49a6c" stroke="#8a6a45" stroke-width=".9"/>
<text x="464.6" y="41.2" font-size="10" text-anchor="middle" fill="#fff">BC<tspan font-size="5.5" dy="1">s</tspan></text>
<circle cx="488.7" cy="37.6" r="5.6" fill="#b2232b" stroke="#6e1218" stroke-width=".9"/>
<path d="M497.4 30.6 L511 37.5 L497.4 44.4 Z" fill="#dc3a52" stroke="#8e1a2a" stroke-width=".9" stroke-linejoin="round"/>
<circle cx="519.4" cy="37.5" r="5.6" fill="#e27e90" stroke="#7a3444" stroke-width=".9"/>
<path d="M536 37.5 V21 H546" fill="none" stroke="#dcdcdc" stroke-width="1.2"/><path d="M545.6 17.8 L551 21 L545.6 24.2 Z" fill="#dcdcdc"/>
<path d="M539.4 31.3 H671.1 L678 37.5 L671.1 43.8 H539.4 Z" fill="#ececec" stroke="#e0e0e0" stroke-width=".6"/>
<rect x="614.3" y="31.2" width="31.9" height="12.6" fill="#b98b5b" stroke="#4e3a22" stroke-width=".9"/>
<text x="630.2" y="41.2" font-size="9.7" text-anchor="middle" font-style="italic" fill="#fff">tevs</text>
<text font-size="11.6" text-anchor="middle" fill="#111" transform="translate(339.6 127.5) rotate(-90)">TEVp library</text>
<text x="350" y="90.2" font-size="11.6" fill="#111">A</text>
<text x="350" y="132.2" font-size="11.6" fill="#111">B</text>
<text x="350" y="174.8" font-size="11.6" fill="#111">AB</text>
<text x="443.4" y="68" font-size="9.8" text-anchor="middle" fill="#111">32+31+30</text>
<path d="M426.4 70.5 L460.4 70.5 L447 80 L439.8 80 Z" fill="url(#fanG)"/>
<line x1="375.5" y1="86" x2="461.5" y2="86" stroke="#9a9a9a" stroke-width="0.9"/><path d="M379.6 86 L386.6 79.8 H456.8 V92.2 H386.6 Z" fill="#3d7c86" stroke="#24525a" stroke-width=".9"/><path d="M389 80.4V91.6M391.75 80.4V91.6M394.5 80.4V91.6M397.25 80.4V91.6M400 80.4V91.6M402.75 80.4V91.6M405.5 80.4V91.6M408.25 80.4V91.6M411 80.4V91.6M413.75 80.4V91.6M416.5 80.4V91.6M419.25 80.4V91.6M422 80.4V91.6M424.75 80.4V91.6M427.5 80.4V91.6M430.25 80.4V91.6M433 80.4V91.6M435.75 80.4V91.6M438.5 80.4V91.6M441.25 80.4V91.6M444 80.4V91.6M446.75 80.4V91.6M449.5 80.4V91.6M452.25 80.4V91.6M455 80.4V91.6" stroke="#2c626b" stroke-width=".55" fill="none"/><path d="M440.7 80.3V91.7M443.45 80.3V91.7M446.2 80.3V91.7" stroke="#d5402a" stroke-width="1.05" fill="none"/>
<text x="399" y="110.3" font-size="9.8" text-anchor="middle" fill="#111">219+218+217</text>
<path d="M382 112.5 L416 112.5 L402.6 122 L395.4 122 Z" fill="url(#fanG)"/>
<line x1="375.5" y1="128.1" x2="461.5" y2="128.1" stroke="#9a9a9a" stroke-width="0.9"/><path d="M379.6 128.1 L386.6 121.9 H456.8 V134.3 H386.6 Z" fill="#3d7c86" stroke="#24525a" stroke-width=".9"/><path d="M389 122.5V133.7M391.75 122.5V133.7M394.5 122.5V133.7M397.25 122.5V133.7M400 122.5V133.7M402.75 122.5V133.7M405.5 122.5V133.7M408.25 122.5V133.7M411 122.5V133.7M413.75 122.5V133.7M416.5 122.5V133.7M419.25 122.5V133.7M422 122.5V133.7M424.75 122.5V133.7M427.5 122.5V133.7M430.25 122.5V133.7M433 122.5V133.7M435.75 122.5V133.7M438.5 122.5V133.7M441.25 122.5V133.7M444 122.5V133.7M446.75 122.5V133.7M449.5 122.5V133.7M452.25 122.5V133.7M455 122.5V133.7" stroke="#2c626b" stroke-width=".55" fill="none"/><path d="M396.3 122.4V133.8M399.05 122.4V133.8M401.8 122.4V133.8" stroke="#d5402a" stroke-width="1.05" fill="none"/>
<text x="419.9" y="152.5" font-size="9.9" text-anchor="middle" fill="#111">219+218+217+32+31+30</text>
<path d="M382 154.8 L416 154.8 L402.6 164.3 L395.4 164.3 Z" fill="url(#fanG)"/>
<path d="M426.4 154.8 L460.4 154.8 L447 164.3 L439.8 164.3 Z" fill="url(#fanG)"/>
<line x1="375.5" y1="170.5" x2="461.5" y2="170.5" stroke="#9a9a9a" stroke-width="0.9"/><path d="M379.6 170.5 L386.6 164.3 H456.8 V176.7 H386.6 Z" fill="#3d7c86" stroke="#24525a" stroke-width=".9"/><path d="M389 164.9V176.1M391.75 164.9V176.1M394.5 164.9V176.1M397.25 164.9V176.1M400 164.9V176.1M402.75 164.9V176.1M405.5 164.9V176.1M408.25 164.9V176.1M411 164.9V176.1M413.75 164.9V176.1M416.5 164.9V176.1M419.25 164.9V176.1M422 164.9V176.1M424.75 164.9V176.1M427.5 164.9V176.1M430.25 164.9V176.1M433 164.9V176.1M435.75 164.9V176.1M438.5 164.9V176.1M441.25 164.9V176.1M444 164.9V176.1M446.75 164.9V176.1M449.5 164.9V176.1M452.25 164.9V176.1M455 164.9V176.1" stroke="#2c626b" stroke-width=".55" fill="none"/><path d="M396.3 164.8V176.2M399.05 164.8V176.2M401.8 164.8V176.2" stroke="#d5402a" stroke-width="1.05" fill="none"/><path d="M440.7 164.8V176.2M443.45 164.8V176.2M446.2 164.8V176.2" stroke="#d5402a" stroke-width="1.05" fill="none"/>
<path d="M466.5 56.6 L480.9 57.4 V114.5 Q480.9 118 486 118.4 L493.5 118.8 M480.9 114.5 V181 L466.5 181.8" fill="none" stroke="#333" stroke-width=".8"/>
<path d="M502.3 115.6 L508.6 122 M508.6 115.6 L502.3 122" stroke="#333" stroke-width=".8" fill="none"/>
<path d="M541.6 56.2 L526.9 57.2 V180.2 L541.6 181.2 M526.9 118.8 L513.5 118.8" fill="none" stroke="#333" stroke-width=".8"/>
<line x1="533.8" y1="85.1" x2="580.6" y2="85.1" stroke="#9a9a9a" stroke-width="0.9"/>
<rect x="539.4" y="78.9" width="36" height="12.4" fill="#b98b5b" stroke="#4e3a22" stroke-width=".8"/>
<text x="557.4" y="88.6" font-size="9.8" text-anchor="middle" font-style="italic" fill="#fff">tevs 1</text>
<line x1="533.8" y1="101.7" x2="580.6" y2="101.7" stroke="#9a9a9a" stroke-width="0.9"/>
<rect x="539.4" y="95.5" width="36" height="12.4" fill="#dcc4a6" stroke="#4e3a22" stroke-width=".8"/>
<text x="557.4" y="105.2" font-size="9.8" text-anchor="middle" font-style="italic" fill="#fff">tevs 2</text>
<line x1="533.8" y1="119" x2="580.6" y2="119" stroke="#9a9a9a" stroke-width="0.9"/>
<rect x="539.4" y="112.8" width="36" height="12.4" fill="#7c5c3e" stroke="#4e3a22" stroke-width=".8"/>
<text x="557.4" y="122.5" font-size="9.8" text-anchor="middle" font-style="italic" fill="#fff">tevs 3</text>
<line x1="533.8" y1="155.1" x2="580.6" y2="155.1" stroke="#9a9a9a" stroke-width="0.9"/>
<rect x="539.4" y="148.9" width="36" height="12.4" fill="#c49a6c" stroke="#4e3a22" stroke-width=".8"/>
<text x="557.4" y="158.6" font-size="9.8" text-anchor="middle" font-style="italic" fill="#fff">tevs 20</text>
<circle cx="559.4" cy="131.4" r=".75" fill="#333"/>
<circle cx="559.4" cy="136.9" r=".75" fill="#333"/>
<circle cx="559.4" cy="142.4" r=".75" fill="#333"/>
<text x="627.9" y="109.2" font-size="11.8" text-anchor="middle" fill="#111">TEVs library</text>
<text x="588.5" y="122.5" font-size="6.3" text-anchor="middle" fill="#4a4a4a">P6</text>
<text x="601" y="122.5" font-size="6.3" text-anchor="middle" fill="#4a4a4a">P5</text>
<text x="613.5" y="122.5" font-size="6.3" text-anchor="middle" fill="#4a4a4a">P4</text>
<text x="625.9" y="122.5" font-size="6.3" text-anchor="middle" fill="#4a4a4a">P3</text>
<text x="638.4" y="122.5" font-size="6.3" text-anchor="middle" fill="#4a4a4a">P2</text>
<text x="650.6" y="122.5" font-size="6.3" text-anchor="middle" fill="#4a4a4a">P1</text>
<text x="658" y="122.5" font-size="6.3" text-anchor="middle" fill="#4a4a4a">|</text>
<text x="666.6" y="122.5" font-size="6.3" text-anchor="middle" font-weight="bold" fill="#222">P1'</text>
<text x="586.9" y="136" font-size="9.9" fill="#c9976b">E–N–L–Y–F–Q | <tspan font-weight="bold" fill="#c8202c">X</tspan></text>
<text x="2" y="210" font-size="17.5" font-weight="bold">c</text>
<rect x="51" y="212" width="178.5" height="196.6" fill="#1a1a1a"/>
<g fill="none" stroke-width="10.13" shape-rendering="crispEdges"><path d="M51 216.91h1" stroke="#be4678"/><path d="M52 216.91h1M63.03 216.91h1M69.05 266.06h1M69.05 364.37h1" stroke="#8c3c82"/><path d="M53.01 216.91h1M71.06 226.75h1M71.06 266.06h1" stroke="#8c2882"/><path d="M54.01 216.91h1" stroke="#8c5a82"/><path d="M55.01 216.91h3.01M76.07 216.91h1M86.1 216.91h1M91.11 216.91h1M54.01 226.75h2.01M58.02 226.75h1M86.1 226.75h1M56.01 266.06h1M58.02 275.89h1M56.01 325.05h1M95.12 364.37h1" stroke="#8c828c"/><path d="M58.02 216.91h1M91.11 226.75h2.01M86.1 266.06h1M57.02 275.89h1M54.01 315.22h1M56.01 315.22h1M58.02 315.22h1M54.01 325.05h1M58.02 325.05h1M78.08 364.37h1M86.1 364.37h1M92.12 364.37h1M55.01 403.69h1" stroke="#82788c"/><path d="M59.02 216.91h1M64.04 216.91h1M73.06 216.91h1M59.02 226.75h1M70.05 226.75h1M67.04 364.37h1M70.05 364.37h1" stroke="#824682"/><path d="M60.03 216.91h2.01M72.06 216.91h1M72.06 226.75h1M72.06 266.06h1M61.03 364.37h1" stroke="#82648c"/><path d="M62.03 216.91h1M67.04 216.91h1M74.06 226.75h1M62.03 364.37h1" stroke="#823282"/><path d="M65.04 216.91h1M65.04 226.75h1M67.04 226.75h1" stroke="#783282"/><path d="M66.04 216.91h1M66.04 266.06h1M77.07 364.37h1" stroke="#822882"/><path d="M68.05 216.91h2.01M74.06 216.91h1M84.09 216.91h1M64.04 226.75h1M80.08 364.37h1M82.09 364.37h1" stroke="#6e2882"/><path d="M70.05 216.91h1M78.08 226.75h1M53.01 256.24h1M53.01 315.22h1M60.03 325.05h1M87.1 364.37h1" stroke="#5a1482"/><path d="M71.06 216.91h1M63.03 226.75h1M73.06 226.75h1M77.07 266.06h1M83.09 364.37h1" stroke="#782882"/><path d="M75.07 216.91h1M71.06 275.89h1" stroke="#46146e"/><path d="M77.07 216.91h1M77.07 226.75h1M80.08 226.75h1M85.1 226.75h1M87.1 226.75h1M81.08 266.06h1M51 315.22h1M91.11 364.37h1" stroke="#641e82"/><path d="M78.08 216.91h1M81.08 216.91h1M55.01 325.05h1M103.15 364.37h1" stroke="#32146e"/><path d="M79.08 216.91h1M89.11 216.91h1M97.13 216.91h1M99.13 216.91h1M89.11 226.75h1M100.14 226.75h1M69.05 256.24h1M83.09 266.06h1M97.13 266.06h2.01M68.05 275.89h1M65.04 315.22h1M79.08 364.37h1M97.13 364.37h1" stroke="#501e78"/><path d="M80.08 216.91h1M79.08 226.75h1M81.08 226.75h1M102.14 226.75h1M51 256.24h1M78.08 266.06h1M53.01 275.89h1M51 403.69h1" stroke="#461478"/><path d="M82.09 216.91h2.01M90.11 226.75h1M65.04 266.06h1" stroke="#5a2882"/><path d="M85.1 216.91h1M52 256.24h1M57.02 256.24h1M52 275.89h1" stroke="#643282"/><path d="M87.1 216.91h1M103.15 226.75h1M89.11 266.06h1M96.13 266.06h1M54.01 275.89h2.01M55.01 315.22h1M61.03 315.22h1M64.04 315.22h1" stroke="#3c146e"/><path d="M88.1 216.91h1M88.1 226.75h1M109.16 226.75h1M59.02 256.24h1M70.05 275.89h1M63.03 325.05h1" stroke="#5a3c78"/><path d="M90.11 216.91h1M85.1 256.24h1" stroke="#46286e"/><path d="M92.12 216.91h1" stroke="#6e5082"/><path d="M93.12 216.91h1M105.15 266.06h1" stroke="#645082"/><path d="M94.12 216.91h1M121.2 226.75h1M72.06 275.89h1M76.07 275.89h1" stroke="#6e6e82"/><path d="M95.12 216.91h1M95.12 266.06h1" stroke="#644682"/><path d="M96.13 216.91h1M108.16 226.75h1M132.23 226.75h1M88.1 315.22h1M88.1 325.05h1M95.12 325.05h1M133.23 364.37h1M70.05 403.69h1" stroke="#463c64"/><path d="M98.13 216.91h1M67.04 256.24h1M62.03 275.89h1M75.07 275.89h1M75.07 315.22h1M80.08 315.22h1M119.19 364.37h1" stroke="#3c1e64"/><path d="M100.14 216.91h1M84.09 226.75h1M101.14 226.75h1M62.03 256.24h2.01M82.09 266.06h1M51 325.05h1M74.06 325.05h2.01M98.13 364.37h1M101.14 364.37h1" stroke="#461e78"/><path d="M101.14 216.91h1M111.17 226.75h1M99.13 266.06h1M80.08 275.89h1M68.05 315.22h1M62.03 403.69h1" stroke="#321e64"/><path d="M102.14 216.91h1M106.15 216.91h1M100.14 266.06h1M93.12 364.37h1" stroke="#5a5078"/><path d="M103.15 216.91h1M125.21 226.75h1M118.19 266.06h1M125.21 266.06h1M81.08 325.05h1M118.19 364.37h1M132.23 364.37h1M53.01 403.69h1" stroke="#1e1450"/><path d="M104.15 216.91h1M56.01 256.24h1M60.03 256.24h1M76.07 256.24h1M107.16 266.06h1M63.03 275.89h1M104.15 364.37h1M120.19 364.37h1M60.03 374.19h1M68.05 403.69h1" stroke="#6e6482"/><path d="M105.15 216.91h1M127.21 216.91h1M106.15 226.75h1M127.21 226.75h1M106.15 364.37h1" stroke="#5a506e"/><path d="M107.16 216.91h1M119.19 216.91h1M119.19 266.06h1M52 295.56h1M75.07 403.69h1" stroke="#3c325a"/><path d="M108.16 216.91h1M113.17 226.75h2.01M124.21 226.75h1M102.14 266.06h1M113.17 266.06h1M87.1 275.89h1M71.06 315.22h1M78.08 315.22h1M71.06 325.05h1M77.07 325.05h1M102.14 364.37h1M53.01 374.19h1M66.04 403.69h1" stroke="#28145a"/><path d="M109.16 216.91h1M137.24 216.91h1M146.27 216.91h1M167.33 216.91h1M131.22 226.75h1M147.27 226.75h1M151.28 226.75h1M214.46 226.75h1M56.01 236.57h1M186.38 236.57h1M55.01 246.41h1M157.3 246.41h1M58.02 256.24h1M91.11 256.24h1M122.2 256.24h1M137.24 266.06h1M167.33 266.06h1M188.38 266.06h1M206.44 266.06h1M78.08 275.89h1M83.09 275.89h1M89.11 275.89h1M91.11 275.89h2.01M102.14 275.89h1M146.27 275.89h1M175.35 275.89h1M181.37 275.89h1M56.01 285.73h1M58.02 285.73h1M167.33 285.73h1M58.02 295.56h1M132.23 295.56h1M224.49 295.56h1M94.12 315.22h1M122.2 315.22h1M142.26 315.22h1M146.27 315.22h1M80.08 325.05h1M86.1 325.05h1M91.11 325.05h1M94.12 325.05h1M151.28 325.05h1M76.07 344.71h1M175.35 354.53h1M122.2 364.37h1M147.27 364.37h1M54.01 374.19h1M56.01 374.19h1M165.32 374.19h1M206.44 374.19h1M56.01 393.86h1M76.07 393.86h1M174.35 393.86h1M193.4 393.86h1M76.07 403.69h1M94.12 403.69h1" stroke="#787882"/><path d="M110.17 216.91h1" stroke="#50466e"/><path d="M111.17 216.91h1M115.18 226.75h1M123.2 226.75h1M115.18 266.06h1M108.16 275.89h1M136.24 364.37h1" stroke="#322850"/><path d="M112.17 216.91h1M105.15 226.75h1M72.06 325.05h1M78.08 325.05h1M112.17 364.37h1M128.22 364.37h1" stroke="#645a78"/><path d="M113.17 216.91h1M117.19 216.91h1M73.06 256.24h1M87.1 256.24h1M92.12 256.24h1M114.18 266.06h1M83.09 315.22h1M66.04 325.05h1" stroke="#281450"/><path d="M114.18 216.91h1M125.21 216.91h1M145.26 226.75h1M148.27 226.75h1M101.14 256.24h1M124.21 266.06h1M142.26 266.06h1M66.04 295.56h1M114.18 325.05h1M125.21 364.37h1M81.08 374.19h1M73.06 403.69h1M78.08 403.69h1M81.08 403.69h1" stroke="#14143c"/><path d="M115.18 216.91h1M90.11 256.24h1M123.2 266.06h1M64.04 403.69h1" stroke="#3c2864"/><path d="M116.18 216.91h1M116.18 226.75h1M118.19 226.75h1M143.26 226.75h1M117.19 266.06h1M140.25 266.06h1M99.13 275.89h1M51 295.56h1M77.07 315.22h1M87.1 315.22h1M87.1 325.05h1M102.14 325.05h1M113.17 364.37h2.01M116.18 364.37h1M141.25 364.37h1M71.06 403.69h1M80.08 403.69h1M87.1 403.69h1" stroke="#1e1446"/><path d="M118.19 216.91h1M135.24 266.06h1M113.17 315.22h1M70.05 374.19h1" stroke="#323250"/><path d="M120.19 216.91h2.01M129.22 216.91h1M112.17 266.06h1M121.2 266.06h1M126.21 266.06h1M129.22 266.06h1M81.08 275.89h1M121.2 315.22h1M127.21 364.37h1" stroke="#645a6e"/><path d="M122.2 216.91h1M181.37 216.91h1M100.14 315.22h1M104.15 315.22h1M194.4 334.88h1M181.37 364.37h1M99.13 403.69h1" stroke="#786e78"/><path d="M123.2 216.91h1M135.24 216.91h1M162.31 226.75h1M52 236.57h1M108.16 256.24h1M138.24 266.06h1M119.19 315.22h1M119.19 325.05h1M135.24 364.37h1M52 393.86h1" stroke="#322846"/><path d="M124.21 216.91h1M134.23 226.75h1M150.28 226.75h1M156.29 226.75h1M53.01 236.57h1M117.19 256.24h1M157.3 266.06h2.01M113.17 275.89h2.01M117.19 275.89h1M72.06 295.56h1M77.07 295.56h1M103.15 315.22h1M118.19 315.22h1M150.28 364.37h1M152.28 364.37h1M154.29 364.37h1M157.3 364.37h2.01M78.08 374.19h1M87.1 374.19h1M53.01 393.86h1M103.15 403.69h1" stroke="#140a32"/><path d="M126.21 216.91h1M128.22 216.91h1M171.34 216.91h1M222.48 216.91h2.01M171.34 226.75h1M180.36 226.75h1M61.03 246.41h1M121.2 256.24h1M126.21 256.24h1M128.22 256.24h2.01M169.33 256.24h1M171.34 266.06h1M180.36 266.06h1M191.39 266.06h1M121.2 275.89h1M127.21 275.89h1M129.22 275.89h1M169.33 275.89h1M180.36 275.89h1M61.03 285.73h1M121.2 285.73h1M127.21 285.73h1M129.22 285.73h1M61.03 295.56h1M107.16 295.56h1M120.19 295.56h1M127.21 295.56h1M169.33 295.56h1M60.03 305.38h2.01M126.21 305.38h1M128.22 305.38h1M170.33 305.38h1M209.44 305.38h1M120.19 315.22h1M129.22 315.22h1M151.28 315.22h1M112.17 325.05h1M120.19 325.05h1M170.33 325.05h1M180.36 325.05h1M171.34 334.88h1M129.22 344.71h1M218.47 344.71h1M60.03 354.53h1M72.06 354.53h1M112.17 354.53h1M169.33 354.53h1M170.33 364.37h1M191.39 364.37h1M93.12 374.19h1M112.17 374.19h1M121.2 374.19h1M127.21 374.19h1M169.33 384.02h1M182.37 384.02h1M61.03 393.86h1M72.06 393.86h1M216.46 393.86h1M112.17 403.69h1M121.2 403.69h1M125.21 403.69h1M127.21 403.69h1M179.36 403.69h2.01M191.39 403.69h1" stroke="#5a5a64"/><path d="M130.22 216.91h1M82.09 256.24h2.01M89.11 256.24h1M82.09 275.89h1M85.1 275.89h1M90.11 275.89h1M100.14 275.89h1M62.03 295.56h1M84.09 315.22h1M90.11 315.22h1M101.14 315.22h1M99.13 325.05h1M101.14 325.05h1M130.22 364.37h1M67.04 374.19h1M73.06 374.19h1M75.07 374.19h1M83.09 374.19h1M69.05 403.69h1M74.06 403.69h1M82.09 403.69h1" stroke="#281e46"/><path d="M131.22 216.91h1M142.26 216.91h1M140.25 226.75h1M142.26 226.75h1M157.3 226.75h1M160.31 226.75h1M71.06 236.57h1M116.18 256.24h1M141.25 266.06h1M143.26 266.06h2.01M151.28 266.06h1M160.31 266.06h1M73.06 295.56h1M106.15 325.05h1M113.17 325.05h1M124.21 325.05h1M140.25 364.37h1M145.26 364.37h1M71.06 374.19h1M79.08 374.19h2.01M85.1 374.19h1M101.14 374.19h1M111.17 374.19h1M77.07 403.69h1M85.1 403.69h1" stroke="#141432"/><path d="M132.23 216.91h2.01M96.13 256.24h1M133.23 266.06h2.01M88.1 275.89h1M95.12 275.89h1M110.17 275.89h1M96.13 325.05h1M64.04 374.19h1M96.13 374.19h1" stroke="#463c5a"/><path d="M134.23 216.91h1M133.23 226.75h1M59.02 236.57h1M64.04 236.57h1M110.17 256.24h1M132.23 256.24h1M134.23 256.24h1M132.23 266.06h1M153.29 266.06h1M134.23 275.89h1M64.04 295.56h1M79.08 295.56h1M84.09 295.56h1M53.01 305.38h2.01M66.04 305.38h1M128.22 325.05h1M88.1 403.69h1M109.16 403.69h1" stroke="#3c3c50"/><path d="M136.24 216.91h1M119.19 256.24h1M136.24 266.06h1M98.13 275.89h1M115.18 275.89h1M115.18 315.22h1M115.18 325.05h1M72.06 403.69h1M90.11 403.69h1" stroke="#282846"/><path d="M138.24 216.91h1M169.33 216.91h1M190.39 216.91h1M192.4 216.91h1M205.43 216.91h2.01M218.47 216.91h2.01M224.49 216.91h1M138.24 226.75h2.01M161.31 226.75h1M165.32 226.75h3.01M174.35 226.75h2.01M184.37 226.75h1M188.38 226.75h1M190.39 226.75h1M194.4 226.75h1M208.44 226.75h1M217.47 226.75h1M221.48 226.75h1M223.48 226.75h1M122.2 236.57h1M137.24 236.57h1M147.27 236.57h1M151.28 236.57h1M163.31 236.57h1M166.32 236.57h1M185.38 236.57h1M192.4 236.57h3.01M217.47 236.57h1M222.48 236.57h2.01M225.49 236.57h1M58.02 246.41h1M92.12 246.41h1M125.21 246.41h1M127.21 246.41h1M134.23 246.41h1M137.24 246.41h1M160.31 246.41h1M181.37 246.41h1M187.38 246.41h1M192.4 246.41h1M207.44 246.41h1M223.48 246.41h2.01M137.24 256.24h1M139.25 256.24h1M151.28 256.24h1M161.31 256.24h1M171.34 256.24h1M186.38 256.24h1M196.41 256.24h1M205.43 256.24h1M219.47 256.24h1M221.48 256.24h3.01M225.49 256.24h1M155.29 266.06h1M166.32 266.06h1M175.35 266.06h1M181.37 266.06h1M184.37 266.06h1M186.38 266.06h1M190.39 266.06h1M192.4 266.06h2.01M86.1 275.89h1M139.25 275.89h1M151.28 275.89h1M161.31 275.89h1M165.32 275.89h1M194.4 275.89h1M205.43 275.89h1M208.44 275.89h1M222.48 275.89h1M94.12 285.73h1M138.24 285.73h1M161.31 285.73h1M169.33 285.73h1M175.35 285.73h1M181.37 285.73h2.01M185.38 285.73h1M192.4 285.73h2.01M206.44 285.73h1M217.47 285.73h1M221.48 285.73h1M92.12 295.56h1M147.27 295.56h1M151.28 295.56h1M167.33 295.56h1M175.35 295.56h1M186.38 295.56h1M190.39 295.56h1M192.4 295.56h2.01M196.41 295.56h1M205.43 295.56h1M223.48 295.56h1M55.01 305.38h2.01M94.12 305.38h1M122.2 305.38h1M135.24 305.38h1M137.24 305.38h1M139.25 305.38h1M151.28 305.38h1M160.31 305.38h1M166.32 305.38h2.01M174.35 305.38h2.01M190.39 305.38h1M206.44 305.38h1M208.44 305.38h1M222.48 305.38h2.01M225.49 305.38h1M86.1 315.22h1M137.24 315.22h1M160.31 315.22h1M166.32 315.22h1M172.34 315.22h1M174.35 315.22h1M181.37 315.22h2.01M186.38 315.22h1M190.39 315.22h1M218.47 315.22h1M221.48 315.22h1M156.29 325.05h1M165.32 325.05h2.01M181.37 325.05h1M185.38 325.05h2.01M192.4 325.05h2.01M204.43 325.05h1M222.48 325.05h1M91.11 334.88h1M104.15 334.88h1M137.24 334.88h2.01M146.27 334.88h1M161.31 334.88h1M165.32 334.88h1M182.37 334.88h1M187.38 334.88h1M196.41 334.88h1M218.47 334.88h1M221.48 334.88h1M223.48 334.88h1M225.49 334.88h1M56.01 344.71h1M59.02 344.71h2.01M137.24 344.71h1M147.27 344.71h1M151.28 344.71h1M187.38 344.71h1M205.43 344.71h1M207.44 344.71h1M221.48 344.71h1M76.07 354.53h1M86.1 354.53h1M91.11 354.53h1M121.2 354.53h1M146.27 354.53h2.01M165.32 354.53h2.01M174.35 354.53h1M186.38 354.53h2.01M190.39 354.53h1M193.4 354.53h2.01M207.44 354.53h1M217.47 354.53h2.01M225.49 354.53h1M146.27 364.37h1M182.37 364.37h1M189.39 364.37h1M193.4 364.37h1M207.44 364.37h1M219.47 364.37h1M222.48 364.37h1M146.27 374.19h1M151.28 374.19h1M166.32 374.19h2.01M175.35 374.19h1M190.39 374.19h1M194.4 374.19h1M208.44 374.19h1M223.48 374.19h1M225.49 374.19h1M91.11 384.02h2.01M94.12 384.02h1M138.24 384.02h1M147.27 384.02h1M167.33 384.02h1M183.37 384.02h1M187.38 384.02h2.01M199.42 384.02h1M208.44 384.02h1M223.48 384.02h3.01M65.04 393.86h1M87.1 393.86h1M122.2 393.86h1M133.23 393.86h1M151.28 393.86h1M156.29 393.86h1M159.3 393.86h1M167.33 393.86h1M187.38 393.86h1M192.4 393.86h1M207.44 393.86h1M219.47 393.86h1M223.48 393.86h1M122.2 403.69h1M138.24 403.69h2.01M147.27 403.69h1M166.32 403.69h1M186.38 403.69h1M190.39 403.69h1M222.48 403.69h1M224.49 403.69h2.01" stroke="#787878"/><path d="M139.25 216.91h2.01M174.35 216.91h2.01M183.37 216.91h1M126.21 226.75h1M185.38 226.75h1M193.4 226.75h1M207.44 226.75h1M60.03 236.57h1M92.12 236.57h1M94.12 236.57h1M139.25 236.57h1M146.27 236.57h1M224.49 236.57h1M94.12 256.24h1M174.35 256.24h1M182.37 256.24h1M161.31 266.06h1M224.49 266.06h1M104.15 275.89h1M120.19 275.89h1M167.33 275.89h1M151.28 285.73h1M187.38 285.73h1M60.03 295.56h1M91.11 295.56h1M94.12 295.56h1M99.13 295.56h1M104.15 295.56h1M116.18 295.56h1M118.19 295.56h1M122.2 295.56h1M163.31 295.56h1M165.32 295.56h1M188.38 295.56h1M83.09 305.38h1M87.1 305.38h1M219.47 305.38h1M76.07 315.22h1M107.16 315.22h1M139.25 315.22h1M175.35 315.22h1M188.38 315.22h1M208.44 315.22h1M104.15 325.05h1M107.16 325.05h1M137.24 325.05h3.01M205.43 325.05h1M54.01 334.88h1M70.05 334.88h1M147.27 334.88h1M192.4 334.88h1M217.47 334.88h1M181.37 344.71h1M54.01 354.53h1M161.31 354.53h1M138.24 364.37h1M161.31 364.37h2.01M165.32 364.37h1M174.35 364.37h2.01M187.38 364.37h2.01M190.39 364.37h1M224.49 364.37h1M72.06 374.19h1M74.06 374.19h1M92.12 374.19h1M107.16 374.19h1M140.25 374.19h1M192.4 374.19h1M224.49 374.19h1M137.24 384.02h1M55.01 393.86h1M58.02 393.86h1M138.24 393.86h1M208.44 393.86h1M61.03 403.69h1M95.12 403.69h1M101.14 403.69h1M107.16 403.69h1M142.26 403.69h1M175.35 403.69h1M219.47 403.69h1" stroke="#6e6e78"/><path d="M141.25 216.91h1M143.26 216.91h2.01M148.27 216.91h1M150.28 216.91h1M157.3 216.91h1M87.1 236.57h1M109.16 256.24h1M114.18 256.24h1M118.19 256.24h1M124.21 256.24h2.01M145.26 266.06h1M148.27 266.06h1M150.28 266.06h1M152.28 266.06h1M156.29 266.06h1M103.15 275.89h1M118.19 275.89h1M124.21 275.89h2.01M133.23 275.89h1M58.02 305.38h1M102.14 315.22h1M114.18 315.22h1M108.16 325.05h1M116.18 325.05h3.01M125.21 325.05h2.01M142.26 325.05h1M145.26 325.05h1M103.15 374.19h1M118.19 374.19h1M62.03 393.86h1M102.14 403.69h1M117.19 403.69h2.01" stroke="#0a0a28"/><path d="M145.26 216.91h1M158.3 226.75h1M66.04 236.57h1M72.06 236.57h1M113.17 256.24h1M116.18 315.22h2.01M138.24 315.22h1M77.07 374.19h1M71.06 393.86h1M79.08 393.86h1" stroke="#140a28"/><path d="M147.27 216.91h1M193.4 216.91h1M207.44 216.91h2.01M206.44 226.75h1M218.47 226.75h1M222.48 226.75h1M224.49 226.75h2.01M104.15 236.57h1M165.32 236.57h1M175.35 236.57h1M177.35 236.57h1M182.37 236.57h1M197.41 236.57h1M205.43 236.57h4.01M218.47 236.57h1M56.01 246.41h1M64.04 246.41h1M95.12 246.41h1M138.24 246.41h1M165.32 246.41h1M174.35 246.41h2.01M193.4 246.41h2.01M206.44 246.41h1M219.47 246.41h1M222.48 246.41h1M225.49 246.41h1M138.24 256.24h1M146.27 256.24h2.01M176.35 256.24h1M206.44 256.24h2.01M217.47 256.24h1M224.49 256.24h1M146.27 266.06h1M219.47 266.06h1M223.48 266.06h1M225.49 266.06h1M138.24 275.89h1M147.27 275.89h1M192.4 275.89h1M206.44 275.89h1M221.48 275.89h1M54.01 285.73h1M137.24 285.73h1M139.25 285.73h1M146.27 285.73h2.01M165.32 285.73h2.01M168.33 285.73h1M173.34 285.73h1M183.37 285.73h1M186.38 285.73h1M194.4 285.73h1M196.41 285.73h1M205.43 285.73h1M207.44 285.73h1M218.47 285.73h1M222.48 285.73h1M224.49 285.73h2.01M97.13 295.56h1M124.21 295.56h1M166.32 295.56h1M174.35 295.56h1M181.37 295.56h1M187.38 295.56h1M206.44 295.56h3.01M219.47 295.56h1M225.49 295.56h1M91.11 305.38h1M107.16 305.38h1M138.24 305.38h1M147.27 305.38h1M180.36 305.38h4.01M189.39 305.38h1M194.4 305.38h1M203.43 305.38h1M205.43 305.38h1M207.44 305.38h1M217.47 305.38h1M221.48 305.38h1M224.49 305.38h1M161.31 315.22h1M165.32 315.22h1M183.37 315.22h1M192.4 315.22h2.01M205.43 315.22h3.01M224.49 315.22h2.01M140.25 325.05h1M147.27 325.05h1M161.31 325.05h1M167.33 325.05h1M194.4 325.05h1M206.44 325.05h1M208.44 325.05h1M218.47 325.05h1M223.48 325.05h1M76.07 334.88h1M94.12 334.88h1M122.2 334.88h1M166.32 334.88h1M170.33 334.88h1M181.37 334.88h1M193.4 334.88h1M205.43 334.88h2.01M208.44 334.88h1M219.47 334.88h1M222.48 334.88h1M61.03 344.71h1M79.08 344.71h1M91.11 344.71h1M138.24 344.71h1M146.27 344.71h1M165.32 344.71h2.01M183.37 344.71h1M185.38 344.71h1M190.39 344.71h1M193.4 344.71h1M206.44 344.71h1M217.47 344.71h1M219.47 344.71h1M223.48 344.71h1M225.49 344.71h1M107.16 354.53h1M138.24 354.53h1M182.37 354.53h1M192.4 354.53h1M219.47 354.53h1M222.48 354.53h1M153.29 364.37h1M167.33 364.37h1M192.4 364.37h1M194.4 364.37h1M205.43 364.37h1M223.48 364.37h1M226.49 364.37h1M104.15 374.19h1M137.24 374.19h2.01M147.27 374.19h1M181.37 374.19h1M193.4 374.19h1M204.43 374.19h1M207.44 374.19h1M218.47 374.19h2.01M222.48 374.19h1M139.25 384.02h1M158.3 384.02h1M192.4 384.02h1M194.4 384.02h1M207.44 384.02h1M218.47 384.02h2.01M104.15 393.86h1M107.16 393.86h1M139.25 393.86h1M147.27 393.86h1M166.32 393.86h1M175.35 393.86h1M183.37 393.86h1M194.4 393.86h1M218.47 393.86h1M222.48 393.86h1M224.49 393.86h2.01M146.27 403.69h1M151.28 403.69h1M156.29 403.69h1M161.31 403.69h1M165.32 403.69h1M181.37 403.69h1M188.38 403.69h1M193.4 403.69h1M206.44 403.69h3.01M218.47 403.69h1" stroke="#6e6e6e"/><path d="M149.28 216.91h1M162.31 216.91h1M136.24 226.75h1M189.39 226.75h1M77.07 236.57h1M136.24 256.24h1M162.31 266.06h1M183.37 266.06h1M189.39 266.06h1M119.19 275.89h1M123.2 275.89h1M137.24 275.89h1M149.28 275.89h1M80.08 295.56h1M52 305.38h1M123.2 315.22h1M135.24 315.22h1M123.2 325.05h1M52 344.71h1M151.28 364.37h1M159.3 364.37h1M52 384.02h1M55.01 384.02h1M70.05 384.02h1M64.04 393.86h1M119.19 403.69h1M135.24 403.69h1" stroke="#28283c"/><path d="M151.28 216.91h1M161.31 216.91h1M165.32 216.91h2.01M180.36 216.91h1M182.37 216.91h1M186.38 216.91h3.01M137.24 226.75h1M181.37 226.75h1M187.38 226.75h1M205.43 226.75h1M219.47 226.75h1M55.01 236.57h1M91.11 236.57h1M161.31 236.57h1M187.38 236.57h2.01M190.39 236.57h1M219.47 236.57h1M221.48 236.57h1M91.11 246.41h1M122.2 246.41h1M146.27 246.41h1M151.28 246.41h1M166.32 246.41h1M182.37 246.41h1M185.38 246.41h2.01M188.38 246.41h1M190.39 246.41h1M205.43 246.41h1M217.47 246.41h1M133.23 256.24h1M165.32 256.24h3.01M175.35 256.24h1M183.37 256.24h1M185.38 256.24h1M187.38 256.24h2.01M190.39 256.24h1M192.4 256.24h1M218.47 256.24h1M131.22 266.06h1M172.34 266.06h1M182.37 266.06h1M185.38 266.06h1M196.41 266.06h1M205.43 266.06h1M217.47 266.06h1M221.48 266.06h1M122.2 275.89h1M159.3 275.89h1M185.38 275.89h1M188.38 275.89h1M207.44 275.89h1M219.47 275.89h1M226.49 275.89h1M55.01 285.73h1M57.02 285.73h1M86.1 285.73h1M91.11 285.73h2.01M101.14 285.73h1M188.38 285.73h1M190.39 285.73h1M199.42 285.73h1M55.01 295.56h3.01M86.1 295.56h1M93.12 295.56h1M145.26 295.56h2.01M185.38 295.56h1M217.47 295.56h2.01M57.02 305.38h1M153.29 305.38h1M162.31 305.38h1M165.32 305.38h1M185.38 305.38h2.01M192.4 305.38h2.01M196.41 305.38h1M218.47 305.38h1M98.13 315.22h1M185.38 315.22h1M217.47 315.22h1M219.47 315.22h1M122.2 325.05h1M174.35 325.05h2.01M188.38 325.05h1M196.41 325.05h1M217.47 325.05h1M58.02 334.88h1M86.1 334.88h1M92.12 334.88h1M152.28 334.88h1M155.29 334.88h1M167.33 334.88h1M174.35 334.88h2.01M188.38 334.88h1M224.49 334.88h1M57.02 344.71h1M66.04 344.71h1M86.1 344.71h1M92.12 344.71h1M122.2 344.71h1M167.33 344.71h1M182.37 344.71h1M186.38 344.71h1M188.38 344.71h1M192.4 344.71h1M196.41 344.71h1M55.01 354.53h1M57.02 354.53h2.01M92.12 354.53h1M122.2 354.53h1M137.24 354.53h1M151.28 354.53h1M185.38 354.53h1M208.44 354.53h1M164.32 364.37h1M166.32 364.37h1M168.33 364.37h1M196.41 364.37h1M100.14 374.19h1M162.31 374.19h1M182.37 374.19h1M187.38 374.19h2.01M221.48 374.19h1M54.01 384.02h1M56.01 384.02h1M58.02 384.02h1M86.1 384.02h1M161.31 384.02h1M165.32 384.02h2.01M172.34 384.02h1M175.35 384.02h1M179.36 384.02h1M184.37 384.02h3.01M190.39 384.02h1M221.48 384.02h1M54.01 393.86h1M57.02 393.86h1M86.1 393.86h1M91.11 393.86h2.01M152.28 393.86h1M161.31 393.86h1M165.32 393.86h1M185.38 393.86h1M196.41 393.86h1M217.47 393.86h1M92.12 403.69h1M174.35 403.69h1M183.37 403.69h1M187.38 403.69h1M192.4 403.69h1M196.41 403.69h1M205.43 403.69h1" stroke="#828282"/><path d="M152.28 216.91h1M154.29 216.91h1M156.29 216.91h1M158.3 216.91h1M176.35 226.75h1M78.08 236.57h1M81.08 236.57h1M90.11 236.57h1M111.17 236.57h1M114.18 236.57h1M131.22 236.57h1M51 246.41h1M140.25 256.24h2.01M144.26 256.24h2.01M154.29 256.24h1M160.31 256.24h1M178.36 256.24h1M154.29 266.06h1M220.47 266.06h1M116.18 275.89h1M140.25 275.89h1M142.26 275.89h1M144.26 275.89h2.01M150.28 275.89h1M157.3 275.89h1M178.36 275.89h1M184.37 275.89h1M189.39 275.89h1M51 285.73h2.01M62.03 285.73h1M78.08 285.73h1M71.06 295.56h1M78.08 295.56h1M98.13 295.56h1M112.17 295.56h1M131.22 295.56h1M139.25 295.56h1M71.06 305.38h1M78.08 305.38h2.01M111.17 305.38h1M124.21 315.22h2.01M140.25 315.22h2.01M143.26 315.22h3.01M154.29 315.22h1M176.35 315.22h2.01M127.21 325.05h1M143.26 325.05h2.01M177.35 325.05h1M63.03 334.88h1M66.04 334.88h1M79.08 334.88h1M53.01 344.71h1M72.06 344.71h1M83.09 344.71h1M102.14 374.19h1M113.17 374.19h2.01M117.19 374.19h1M125.21 374.19h1M141.25 374.19h1M160.31 374.19h1M53.01 384.02h1M66.04 384.02h1M71.06 384.02h1M77.07 384.02h1M66.04 393.86h1M77.07 393.86h2.01M81.08 393.86h1M89.11 393.86h1M95.12 393.86h1M111.17 393.86h1M114.18 403.69h1M116.18 403.69h1M124.21 403.69h1M140.25 403.69h2.01M144.26 403.69h2.01" stroke="#0a0a1e"/><path d="M153.29 216.91h1M152.28 226.75h3.01M70.05 236.57h1M99.13 236.57h1M104.15 256.24h1M115.18 256.24h1M153.29 256.24h1M149.28 266.06h1M126.21 275.89h1M132.23 275.89h1M96.13 295.56h1M109.16 374.19h1M88.1 384.02h1M59.02 393.86h1M88.1 393.86h1M91.11 403.69h1" stroke="#323246"/><path d="M155.29 216.91h1M155.29 226.75h1M53.01 295.56h1M156.29 364.37h1M105.15 403.69h1M113.17 403.69h1" stroke="#50465a"/><path d="M159.3 216.91h1M172.34 216.91h1M168.33 226.75h1M69.05 236.57h1M74.06 236.57h1M83.09 236.57h1M86.1 236.57h1M108.16 236.57h1M130.22 256.24h1M147.27 266.06h1M168.33 266.06h1M173.34 266.06h1M202.42 266.06h1M130.22 275.89h1M75.07 295.56h2.01M83.09 295.56h1M108.16 295.56h1M130.22 315.22h1M136.24 315.22h1M159.3 315.22h1M130.22 325.05h1M150.28 325.05h1M159.3 325.05h1M173.34 364.37h1M204.43 364.37h1M89.11 374.19h1M98.13 374.19h1M108.16 374.19h1M115.18 374.19h1M122.2 374.19h2.01M136.24 374.19h1M60.03 384.02h1M68.05 393.86h1M75.07 393.86h1M97.13 403.69h2.01M123.2 403.69h1" stroke="#1e1e32"/><path d="M160.31 216.91h1M80.08 236.57h1M177.35 266.06h1M80.08 305.38h1M160.31 325.05h1M80.08 344.71h1M184.37 364.37h1M80.08 384.02h1" stroke="#140a1e"/><path d="M163.31 216.91h2.01M209.44 216.91h1M215.46 216.91h1M192.4 226.75h1M196.41 226.75h1M199.42 226.75h1M209.44 226.75h2.01M95.12 236.57h1M149.28 236.57h1M155.29 236.57h1M209.44 236.57h1M214.46 236.57h1M93.12 246.41h1M155.29 256.24h1M199.42 256.24h1M199.42 266.06h1M209.44 266.06h2.01M218.47 266.06h1M153.29 275.89h1M163.31 275.89h2.01M166.32 275.89h1M93.12 285.73h1M106.15 285.73h1M209.44 285.73h2.01M105.15 295.56h2.01M114.18 295.56h1M170.33 295.56h1M92.12 305.38h1M95.12 305.38h1M106.15 305.38h1M152.28 315.22h1M163.31 315.22h1M216.46 315.22h1M162.31 325.05h1M209.44 325.05h1M214.46 344.71h1M220.47 344.71h1M93.12 354.53h1M105.15 354.53h1M215.46 364.37h1M95.12 374.19h1M132.23 374.19h1M164.32 374.19h1M213.46 374.19h1M106.15 384.02h1M115.18 384.02h1M174.35 384.02h1M93.12 393.86h1M163.31 403.69h1M213.46 403.69h1" stroke="#464650"/><path d="M168.33 216.91h1M176.35 216.91h1M163.31 226.75h1M177.35 226.75h2.01M79.08 236.57h1M84.09 236.57h2.01M97.13 236.57h2.01M100.14 236.57h1M102.14 236.57h1M131.22 256.24h1M136.24 275.89h1M74.06 295.56h1M81.08 295.56h1M85.1 295.56h1M87.1 295.56h1M89.11 295.56h1M101.14 295.56h1M51 305.38h1M59.02 305.38h1M65.04 305.38h1M67.04 305.38h3.01M73.06 305.38h1M75.07 305.38h1M82.09 305.38h1M97.13 305.38h1M131.22 315.22h1M155.29 315.22h1M131.22 325.05h1M68.05 334.88h1M75.07 334.88h1M51 344.71h1M63.03 344.71h1M67.04 344.71h3.01M74.06 344.71h2.01M178.36 364.37h1M97.13 374.19h1M99.13 374.19h1M130.22 374.19h1M51 384.02h1M63.03 384.02h1M65.04 384.02h1M67.04 384.02h3.01M74.06 384.02h2.01M51 393.86h1M63.03 393.86h1M73.06 393.86h1M80.08 393.86h1M84.09 393.86h2.01M97.13 393.86h1M100.14 393.86h1M108.16 403.69h1M111.17 403.69h1M130.22 403.69h1" stroke="#141428"/><path d="M170.33 216.91h1M194.4 216.91h1M225.49 216.91h1M170.33 226.75h1M183.37 226.75h1M76.07 236.57h1M107.16 236.57h1M138.24 236.57h1M94.12 246.41h1M109.16 246.41h1M107.16 256.24h1M112.17 256.24h1M170.33 256.24h1M194.4 256.24h1M120.19 266.06h1M194.4 266.06h1M208.44 266.06h1M222.48 266.06h1M107.16 275.89h1M218.47 275.89h1M223.48 275.89h1M225.49 275.89h1M60.03 285.73h1M74.06 285.73h1M104.15 285.73h1M208.44 285.73h1M219.47 285.73h1M72.06 305.38h1M96.13 315.22h1M194.4 315.22h1M222.48 315.22h1M121.2 325.05h1M183.37 325.05h1M187.38 325.05h1M207.44 325.05h1M219.47 325.05h1M88.1 344.71h1M144.26 354.53h1M183.37 354.53h1M224.49 354.53h1M129.22 364.37h1M139.25 364.37h1M149.28 364.37h1M169.33 364.37h1M172.34 364.37h1M183.37 364.37h1M218.47 364.37h1M225.49 364.37h1M76.07 374.19h1M94.12 374.19h1M62.03 384.02h1M72.06 384.02h1M76.07 384.02h1M104.15 384.02h1M151.28 384.02h1M60.03 393.86h1M94.12 393.86h1M137.24 393.86h1M206.44 393.86h1M120.19 403.69h1M157.3 403.69h1" stroke="#64646e"/><path d="M173.34 216.91h1M173.34 226.75h1M204.43 226.75h1M227.49 226.75h1M115.18 236.57h1M123.2 236.57h1M159.3 236.57h1M203.43 236.57h1M210.45 236.57h1M63.03 246.41h1M123.2 246.41h1M159.3 246.41h1M189.39 246.41h1M204.43 246.41h1M172.34 256.24h2.01M204.43 266.06h1M172.34 275.89h2.01M108.16 285.73h1M115.18 285.73h1M123.2 285.73h1M136.24 285.73h1M159.3 285.73h1M203.43 285.73h1M90.11 295.56h1M115.18 295.56h1M121.2 295.56h1M136.24 295.56h1M159.3 295.56h1M172.34 295.56h1M203.43 295.56h1M90.11 305.38h1M123.2 305.38h1M136.24 305.38h1M144.26 305.38h1M172.34 325.05h2.01M108.16 334.88h1M117.19 334.88h1M123.2 334.88h1M136.24 334.88h1M159.3 334.88h1M189.39 334.88h1M203.43 334.88h1M55.01 344.71h1M123.2 344.71h1M136.24 344.71h1M197.41 344.71h1M203.43 344.71h1M136.24 354.53h1M159.3 354.53h1M189.39 354.53h1M203.43 354.53h1M202.42 364.37h2.01M159.3 374.19h1M172.34 374.19h2.01M203.43 374.19h1M93.12 384.02h1M123.2 384.02h1M128.22 384.02h1M136.24 384.02h1M189.39 384.02h1M204.43 384.02h1M136.24 393.86h1M172.34 393.86h1M189.39 393.86h1M159.3 403.69h1M172.34 403.69h1" stroke="#1e1e28"/><path d="M177.35 216.91h2.01M203.43 226.75h1M101.14 236.57h1M130.22 236.57h1M145.26 236.57h1M168.33 236.57h1M62.03 246.41h1M65.04 246.41h1M67.04 246.41h3.01M72.06 246.41h3.01M76.07 246.41h1M78.08 246.41h1M82.09 246.41h1M97.13 246.41h2.01M168.33 256.24h1M216.46 256.24h1M178.36 266.06h1M213.46 266.06h1M131.22 275.89h1M160.31 275.89h1M168.33 275.89h1M177.35 275.89h1M63.03 285.73h1M67.04 285.73h3.01M73.06 285.73h1M75.07 285.73h1M82.09 285.73h1M84.09 285.73h1M89.11 285.73h2.01M97.13 285.73h1M99.13 285.73h2.01M122.2 285.73h1M130.22 285.73h1M150.28 285.73h1M172.34 285.73h1M197.41 285.73h1M111.17 295.56h1M130.22 295.56h1M168.33 295.56h1M62.03 305.38h2.01M74.06 305.38h1M84.09 305.38h2.01M89.11 305.38h1M99.13 305.38h3.01M108.16 305.38h1M130.22 305.38h1M168.33 305.38h1M173.34 305.38h1M168.33 315.22h1M168.33 325.05h1M176.35 325.05h1M51 334.88h1M56.01 334.88h1M62.03 334.88h1M67.04 334.88h1M69.05 334.88h1M74.06 334.88h1M82.09 334.88h3.01M90.11 334.88h1M99.13 334.88h1M130.22 334.88h1M172.34 334.88h1M62.03 344.71h1M65.04 344.71h1M73.06 344.71h1M82.09 344.71h1M85.1 344.71h1M89.11 344.71h2.01M97.13 344.71h4.01M130.22 344.71h1M163.31 344.71h1M194.4 344.71h1M208.44 344.71h1M213.46 344.71h1M51 354.53h1M62.03 354.53h2.01M65.04 354.53h1M68.05 354.53h1M74.06 354.53h2.01M83.09 354.53h1M90.11 354.53h1M97.13 354.53h2.01M130.22 354.53h1M173.34 354.53h1M176.35 364.37h2.01M199.42 364.37h1M131.22 374.19h1M211.45 374.19h1M73.06 384.02h1M82.09 384.02h1M84.09 384.02h2.01M89.11 384.02h2.01M97.13 384.02h4.01M125.21 384.02h1M130.22 384.02h1M83.09 393.86h1M98.13 393.86h2.01M101.14 393.86h1M112.17 393.86h1M130.22 393.86h1M168.33 393.86h1M168.33 403.69h1M176.35 403.69h1M199.42 403.69h1" stroke="#14141e"/><path d="M179.36 216.91h1M164.32 226.75h1M179.36 226.75h1M191.39 226.75h1M213.46 226.75h1M93.12 236.57h1M106.15 236.57h1M128.22 236.57h1M169.33 246.41h1M214.46 246.41h1M180.36 256.24h1M164.32 266.06h1M174.35 266.06h1M179.36 266.06h1M128.22 275.89h1M135.24 275.89h1M155.29 275.89h1M191.39 275.89h1M180.36 285.73h1M126.21 295.56h1M128.22 295.56h1M214.46 295.56h1M86.1 305.38h1M129.22 305.38h1M169.33 305.38h1M179.36 305.38h1M210.45 305.38h1M126.21 315.22h1M171.34 315.22h1M179.36 315.22h1M191.39 315.22h1M199.42 315.22h1M210.45 315.22h1M213.46 315.22h1M141.25 325.05h1M155.29 325.05h1M179.36 325.05h1M214.46 325.05h1M160.31 334.88h1M191.39 334.88h1M93.12 344.71h1M106.15 344.71h1M112.17 344.71h1M102.14 354.53h1M120.19 354.53h1M129.22 354.53h1M163.31 364.37h1M179.36 364.37h2.01M106.15 374.19h1M129.22 374.19h1M143.26 374.19h1M148.27 374.19h1M155.29 374.19h1M169.33 374.19h1M196.41 374.19h1M83.09 384.02h1M105.15 384.02h1M112.17 384.02h1M170.33 384.02h1M180.36 384.02h1M126.21 393.86h1M146.27 393.86h1M93.12 403.69h1M106.15 403.69h1M128.22 403.69h1M167.33 403.69h1M169.33 403.69h1" stroke="#50505a"/><path d="M184.37 216.91h1M198.41 216.91h1M212.45 216.91h2.01M220.47 216.91h1M227.49 216.91h1M212.45 226.75h1M220.47 226.75h1M228.5 226.75h1M103.15 236.57h1M105.15 236.57h1M112.17 236.57h2.01M116.18 236.57h2.01M125.21 236.57h1M129.22 236.57h1M141.25 236.57h4.01M176.35 236.57h1M178.36 236.57h1M184.37 236.57h1M220.47 236.57h1M226.49 236.57h1M54.01 246.41h1M60.03 246.41h1M66.04 246.41h1M71.06 246.41h1M79.08 246.41h2.01M85.1 246.41h1M105.15 246.41h1M111.17 246.41h1M131.22 246.41h1M176.35 246.41h3.01M184.37 246.41h1M203.43 246.41h1M209.44 246.41h1M220.47 246.41h1M142.26 256.24h2.01M157.3 256.24h2.01M177.35 256.24h1M184.37 256.24h1M220.47 256.24h1M227.49 256.24h2.01M211.45 266.06h1M215.46 266.06h1M227.49 266.06h2.01M141.25 275.89h1M143.26 275.89h1M152.28 275.89h1M154.29 275.89h1M158.3 275.89h1M176.35 275.89h1M215.46 275.89h1M227.49 275.89h1M53.01 285.73h1M66.04 285.73h1M71.06 285.73h1M79.08 285.73h2.01M83.09 285.73h1M111.17 285.73h1M114.18 285.73h1M131.22 285.73h1M160.31 285.73h1M176.35 285.73h2.01M220.47 285.73h1M113.17 295.56h1M117.19 295.56h1M134.23 295.56h1M140.25 295.56h1M142.26 295.56h3.01M160.31 295.56h1M176.35 295.56h3.01M184.37 295.56h1M194.4 295.56h1M220.47 295.56h1M77.07 305.38h1M88.1 305.38h1M109.16 305.38h1M119.19 305.38h1M142.26 305.38h1M150.28 305.38h1M176.35 305.38h1M178.36 305.38h1M184.37 305.38h1M220.47 305.38h1M228.5 305.38h1M148.27 315.22h1M156.29 315.22h3.01M178.36 315.22h1M184.37 315.22h1M228.5 315.22h1M152.28 325.05h1M158.3 325.05h1M184.37 325.05h1M220.47 325.05h1M224.49 325.05h1M227.49 325.05h2.01M71.06 334.88h1M80.08 334.88h1M111.17 334.88h1M134.23 334.88h1M143.26 334.88h1M164.32 334.88h1M177.35 334.88h1M184.37 334.88h1M220.47 334.88h1M71.06 344.71h1M77.07 344.71h1M111.17 344.71h1M131.22 344.71h1M141.25 344.71h1M160.31 344.71h1M176.35 344.71h3.01M56.01 354.53h1M71.06 354.53h1M79.08 354.53h1M85.1 354.53h1M111.17 354.53h1M131.22 354.53h1M148.27 354.53h1M176.35 354.53h1M178.36 354.53h1M184.37 354.53h1M220.47 354.53h1M206.44 364.37h1M211.45 364.37h1M220.47 364.37h1M227.49 364.37h2.01M116.18 374.19h1M124.21 374.19h1M142.26 374.19h1M145.26 374.19h1M154.29 374.19h1M157.3 374.19h1M176.35 374.19h3.01M184.37 374.19h1M228.5 374.19h1M111.17 384.02h1M114.18 384.02h1M117.19 384.02h1M131.22 384.02h1M160.31 384.02h1M177.35 384.02h2.01M220.47 384.02h1M227.49 384.02h1M103.15 393.86h1M113.17 393.86h1M131.22 393.86h1M135.24 393.86h1M140.25 393.86h1M142.26 393.86h1M144.26 393.86h1M160.31 393.86h1M176.35 393.86h3.01M184.37 393.86h1M220.47 393.86h1M143.26 403.69h1M148.27 403.69h1M160.31 403.69h1M177.35 403.69h2.01M182.37 403.69h1M184.37 403.69h1M220.47 403.69h1M228.5 403.69h1" stroke="#0a0a14"/><path d="M185.38 216.91h1M221.48 216.91h1M172.34 226.75h1M182.37 226.75h1M186.38 226.75h1M57.02 236.57h1M160.31 236.57h1M167.33 236.57h1M174.35 236.57h1M196.41 236.57h1M57.02 246.41h1M154.29 246.41h1M167.33 246.41h1M196.41 246.41h1M187.38 266.06h1M174.35 275.89h1M190.39 275.89h1M196.41 275.89h1M217.47 275.89h1M174.35 285.73h1M182.37 295.56h2.01M221.48 295.56h1M187.38 305.38h1M57.02 315.22h1M167.33 315.22h1M187.38 315.22h1M196.41 315.22h1M182.37 325.05h1M190.39 325.05h1M55.01 334.88h1M57.02 334.88h1M186.38 334.88h1M190.39 334.88h1M174.35 344.71h1M167.33 354.53h1M185.38 364.37h2.01M221.48 364.37h1M55.01 374.19h1M86.1 374.19h1M168.33 374.19h1M185.38 374.19h1M217.47 374.19h1M57.02 384.02h1M196.41 384.02h1M217.47 384.02h1M182.37 393.86h1M186.38 393.86h1M54.01 403.69h1M217.47 403.69h1M221.48 403.69h1" stroke="#8c8c8c"/><path d="M189.39 216.91h1M196.41 216.91h1M203.43 216.91h2.01M226.49 216.91h1M201.42 226.75h1M226.49 226.75h1M119.19 236.57h1M135.24 236.57h1M162.31 236.57h1M52 246.41h1M119.19 246.41h1M149.28 246.41h1M149.28 256.24h1M159.3 256.24h1M162.31 256.24h1M203.43 266.06h1M162.31 275.89h1M65.04 285.73h1M70.05 285.73h1M119.19 285.73h1M226.49 285.73h1M119.19 295.56h1M135.24 295.56h1M141.25 295.56h1M149.28 295.56h1M226.49 295.56h1M93.12 305.38h1M215.46 305.38h1M226.49 305.38h1M127.21 315.22h1M149.28 315.22h1M162.31 315.22h1M203.43 315.22h1M226.49 315.22h1M136.24 325.05h1M203.43 325.05h1M52 334.88h1M162.31 334.88h1M228.5 334.88h1M70.05 344.71h1M108.16 344.71h1M119.19 344.71h1M135.24 344.71h1M162.31 344.71h1M70.05 354.53h1M104.15 354.53h1M160.31 364.37h1M197.41 364.37h1M135.24 374.19h1M149.28 374.19h2.01M189.39 374.19h1M209.44 374.19h1M101.14 384.02h1M119.19 384.02h1M149.28 384.02h1M162.31 384.02h1M215.46 384.02h1M119.19 393.86h1M149.28 393.86h1M162.31 393.86h1M115.18 403.69h1M131.22 403.69h1M149.28 403.69h1M162.31 403.69h1M189.39 403.69h1" stroke="#282832"/><path d="M191.39 216.91h1M214.46 216.91h1M217.47 216.91h1M169.33 226.75h1M126.21 236.57h2.01M170.33 236.57h2.01M120.19 246.41h2.01M133.23 246.41h1M161.31 246.41h1M170.33 246.41h2.01M179.36 246.41h1M183.37 246.41h1M213.46 246.41h1M179.36 256.24h1M214.46 256.24h1M169.33 266.06h1M214.46 275.89h1M112.17 285.73h1M126.21 285.73h1M128.22 285.73h1M170.33 285.73h2.01M191.39 285.73h1M213.46 285.73h1M161.31 295.56h1M180.36 295.56h1M112.17 305.38h1M120.19 305.38h1M127.21 305.38h1M161.31 305.38h1M213.46 305.38h1M169.33 315.22h2.01M180.36 315.22h1M223.48 315.22h1M169.33 325.05h1M171.34 325.05h1M191.39 325.05h1M213.46 325.05h1M72.06 334.88h1M112.17 334.88h1M115.18 334.88h1M128.22 334.88h1M169.33 334.88h1M179.36 334.88h1M107.16 344.71h1M120.19 344.71h2.01M126.21 344.71h1M169.33 344.71h1M175.35 344.71h1M180.36 344.71h1M191.39 344.71h1M128.22 354.53h1M170.33 354.53h1M214.46 354.53h1M126.21 374.19h1M128.22 374.19h1M171.34 374.19h1M179.36 374.19h1M214.46 374.19h1M220.47 374.19h1M107.16 384.02h1M121.2 384.02h1M127.21 384.02h1M146.27 384.02h1M171.34 384.02h1M222.48 384.02h1M114.18 393.86h1M120.19 393.86h1M169.33 393.86h1M180.36 393.86h1M214.46 393.86h1M136.24 403.69h1M171.34 403.69h1" stroke="#5a5a5a"/><path d="M195.4 216.91h1M195.4 236.57h1M70.05 246.41h1M96.13 246.41h1M130.22 246.41h1M132.23 246.41h1M144.26 246.41h1M224.49 275.89h1M96.13 285.73h1M132.23 285.73h3.01M153.29 285.73h1M195.4 285.73h1M153.29 295.56h1M132.23 305.38h1M188.38 305.38h1M195.4 315.22h1M96.13 334.88h1M100.14 334.88h1M109.16 334.88h2.01M132.23 334.88h2.01M195.4 334.88h1M195.4 344.71h1M141.25 354.53h1M195.4 354.53h2.01M215.46 354.53h1M133.23 384.02h2.01M153.29 384.02h1M195.4 384.02h1M145.26 393.86h1" stroke="#323232"/><path d="M197.41 216.91h1M200.42 216.91h1M202.42 216.91h1M202.42 226.75h1M211.45 226.75h1M118.19 236.57h1M124.21 236.57h1M53.01 246.41h1M152.28 256.24h1M198.41 266.06h1M200.42 266.06h1M148.27 275.89h1M197.41 275.89h1M77.07 285.73h1M81.08 285.73h1M103.15 295.56h1M81.08 305.38h1M102.14 305.38h1M105.15 305.38h1M198.41 315.22h1M53.01 334.88h1M65.04 334.88h1M73.06 334.88h1M77.07 334.88h1M81.08 344.71h1M87.1 344.71h1M104.15 344.71h1M53.01 354.53h1M77.07 354.53h1M198.41 364.37h1M200.42 364.37h2.01M212.45 364.37h1M139.25 374.19h1M152.28 374.19h1M158.3 374.19h1M78.08 384.02h1M81.08 384.02h1M87.1 384.02h1M124.21 384.02h1M102.14 393.86h1M150.28 403.69h1M152.28 403.69h1M154.29 403.69h1M158.3 403.69h1" stroke="#000014"/><path d="M199.42 216.91h1M179.36 236.57h1M191.39 236.57h1M199.42 236.57h1M213.46 236.57h1M126.21 246.41h1M128.22 246.41h2.01M180.36 246.41h1M191.39 246.41h1M199.42 246.41h1M221.48 246.41h1M226.49 246.41h1M191.39 256.24h1M210.45 256.24h1M213.46 256.24h1M214.46 266.06h1M171.34 275.89h1M199.42 275.89h1M105.15 285.73h1M155.29 285.73h1M179.36 285.73h1M155.29 295.56h1M179.36 295.56h1M191.39 295.56h1M213.46 295.56h1M155.29 305.38h1M171.34 305.38h1M214.46 305.38h1M214.46 315.22h1M220.47 315.22h1M178.36 325.05h1M199.42 325.05h1M210.45 325.05h1M98.13 334.88h1M105.15 334.88h1M126.21 334.88h2.01M129.22 334.88h1M180.36 334.88h1M213.46 334.88h2.01M105.15 344.71h1M127.21 344.71h2.01M170.33 344.71h1M179.36 344.71h1M209.44 344.71h1M106.15 354.53h1M123.2 354.53h1M126.21 354.53h1M155.29 354.53h1M171.34 354.53h1M179.36 354.53h2.01M213.46 354.53h1M214.46 364.37h1M186.38 374.19h1M191.39 374.19h1M199.42 374.19h1M210.45 374.19h1M122.2 384.02h1M126.21 384.02h1M129.22 384.02h1M191.39 384.02h1M210.45 384.02h1M214.46 384.02h1M105.15 393.86h2.01M125.21 393.86h1M128.22 393.86h1M170.33 393.86h2.01M179.36 393.86h1M155.29 403.69h1M214.46 403.69h1" stroke="#505050"/><path d="M201.42 216.91h1M198.41 226.75h1M200.42 226.75h1M150.28 256.24h1M156.29 275.89h1M102.14 295.56h1M147.27 315.22h1M150.28 315.22h1" stroke="#0a0014"/><path d="M210.45 216.91h1M88.1 236.57h1M133.23 236.57h1M215.46 246.41h1M120.19 256.24h1M148.27 256.24h1M163.31 256.24h2.01M216.46 266.06h1M179.36 275.89h1M210.45 275.89h1M64.04 285.73h1M215.46 285.73h1M59.02 295.56h1M88.1 295.56h1M95.12 295.56h1M100.14 295.56h1M109.16 295.56h1M129.22 295.56h1M138.24 295.56h1M209.44 295.56h1M216.46 295.56h1M64.04 305.38h1M76.07 305.38h1M146.27 305.38h1M132.23 315.22h3.01M153.29 315.22h1M164.32 315.22h1M132.23 325.05h1M134.23 325.05h1M148.27 325.05h1M163.31 325.05h2.01M95.12 334.88h1M210.45 334.88h1M58.02 344.71h1M64.04 344.71h1M143.26 344.71h1M59.02 354.53h1M210.45 354.53h1M216.46 364.37h2.01M110.17 374.19h1M144.26 374.19h1M216.46 374.19h1M64.04 384.02h1M79.08 384.02h1M95.12 384.02h2.01M164.32 384.02h1M90.11 393.86h1M117.19 393.86h1M129.22 393.86h1M215.46 393.86h1M110.17 403.69h1M132.23 403.69h2.01M137.24 403.69h1" stroke="#3c3c46"/><path d="M211.45 216.91h1M148.27 236.57h1M150.28 236.57h1M152.28 236.57h1M156.29 236.57h2.01M198.41 236.57h1M200.42 236.57h3.01M204.43 236.57h1M211.45 236.57h2.01M77.07 246.41h1M81.08 246.41h1M87.1 246.41h1M102.14 246.41h2.01M108.16 246.41h1M116.18 246.41h1M118.19 246.41h1M124.21 246.41h1M148.27 246.41h1M150.28 246.41h1M152.28 246.41h1M158.3 246.41h1M197.41 246.41h2.01M200.42 246.41h3.01M211.45 246.41h2.01M197.41 256.24h2.01M200.42 256.24h3.01M208.44 256.24h1M211.45 256.24h2.01M197.41 266.06h1M201.42 266.06h1M198.41 275.89h1M200.42 275.89h3.01M211.45 275.89h2.01M228.5 275.89h1M87.1 285.73h1M102.14 285.73h2.01M117.19 285.73h2.01M124.21 285.73h2.01M142.26 285.73h1M148.27 285.73h1M152.28 285.73h1M156.29 285.73h3.01M200.42 285.73h1M202.42 285.73h1M211.45 285.73h2.01M125.21 295.56h1M148.27 295.56h1M150.28 295.56h1M152.28 295.56h1M156.29 295.56h1M198.41 295.56h1M200.42 295.56h3.01M204.43 295.56h1M211.45 295.56h2.01M103.15 305.38h1M118.19 305.38h1M124.21 305.38h2.01M131.22 305.38h1M148.27 305.38h1M152.28 305.38h1M154.29 305.38h1M156.29 305.38h3.01M197.41 305.38h5.01M211.45 305.38h1M197.41 315.22h1M200.42 315.22h3.01M211.45 315.22h2.01M197.41 325.05h2.01M200.42 325.05h3.01M211.45 325.05h2.01M221.48 325.05h1M225.49 325.05h1M78.08 334.88h1M81.08 334.88h1M87.1 334.88h1M102.14 334.88h2.01M116.18 334.88h1M124.21 334.88h2.01M131.22 334.88h1M139.25 334.88h1M148.27 334.88h1M150.28 334.88h2.01M154.29 334.88h1M156.29 334.88h3.01M178.36 334.88h1M185.38 334.88h1M197.41 334.88h1M200.42 334.88h2.01M207.44 334.88h1M211.45 334.88h2.01M78.08 344.71h1M102.14 344.71h2.01M113.17 344.71h1M118.19 344.71h1M124.21 344.71h2.01M148.27 344.71h1M150.28 344.71h1M152.28 344.71h1M156.29 344.71h3.01M198.41 344.71h2.01M201.42 344.71h1M211.45 344.71h2.01M78.08 354.53h1M80.08 354.53h2.01M87.1 354.53h1M103.15 354.53h1M108.16 354.53h2.01M113.17 354.53h2.01M116.18 354.53h3.01M124.21 354.53h2.01M139.25 354.53h1M150.28 354.53h1M156.29 354.53h3.01M197.41 354.53h2.01M200.42 354.53h3.01M204.43 354.53h1M206.44 354.53h1M211.45 354.53h2.01M223.48 354.53h1M213.46 364.37h1M161.31 374.19h1M174.35 374.19h1M197.41 374.19h1M200.42 374.19h3.01M205.43 374.19h1M212.45 374.19h1M102.14 384.02h2.01M110.17 384.02h1M118.19 384.02h1M148.27 384.02h1M150.28 384.02h1M152.28 384.02h1M156.29 384.02h2.01M197.41 384.02h2.01M200.42 384.02h3.01M205.43 384.02h1M209.44 384.02h1M211.45 384.02h1M213.46 384.02h1M216.46 384.02h1M116.18 393.86h1M118.19 393.86h1M123.2 393.86h2.01M148.27 393.86h1M150.28 393.86h1M154.29 393.86h1M157.3 393.86h2.01M191.39 393.86h1M197.41 393.86h1M199.42 393.86h4.01M211.45 393.86h3.01M197.41 403.69h2.01M200.42 403.69h3.01M211.45 403.69h2.01" stroke="#00000a"/><path d="M216.46 216.91h1M215.46 226.75h2.01M164.32 236.57h1M216.46 236.57h1M86.1 246.41h1M100.14 246.41h1M155.29 246.41h1M163.31 246.41h2.01M210.45 246.41h1M209.44 256.24h1M215.46 256.24h1M209.44 275.89h1M216.46 275.89h1M163.31 285.73h2.01M164.32 295.56h1M199.42 295.56h1M215.46 295.56h1M164.32 305.38h1M209.44 315.22h1M215.46 315.22h1M93.12 334.88h1M106.15 334.88h1M140.25 334.88h1M199.42 334.88h1M209.44 334.88h1M216.46 334.88h1M164.32 344.71h1M210.45 344.71h1M215.46 344.71h1M101.14 354.53h1M152.28 354.53h1M164.32 354.53h1M191.39 354.53h1M199.42 354.53h1M209.44 354.53h1M209.44 364.37h2.01M163.31 374.19h1M180.36 374.19h1M155.29 384.02h1M163.31 384.02h1M155.29 393.86h1M163.31 393.86h2.01M209.44 393.86h2.01M164.32 403.69h1M209.44 403.69h2.01M215.46 403.69h1" stroke="#464646"/><path d="M228.5 216.91h1M140.25 236.57h1M154.29 236.57h1M227.49 236.57h2.01M83.09 246.41h1M113.17 246.41h2.01M140.25 246.41h4.01M145.26 246.41h1M156.29 246.41h1M227.49 246.41h2.01M187.38 275.89h1M95.12 285.73h1M109.16 285.73h1M113.17 285.73h1M140.25 285.73h2.01M143.26 285.73h3.01M178.36 285.73h1M184.37 285.73h1M227.49 285.73h2.01M154.29 295.56h1M158.3 295.56h1M227.49 295.56h2.01M113.17 305.38h2.01M116.18 305.38h2.01M140.25 305.38h2.01M143.26 305.38h1M145.26 305.38h1M227.49 305.38h1M227.49 315.22h1M113.17 334.88h2.01M141.25 334.88h2.01M144.26 334.88h2.01M176.35 334.88h1M215.46 334.88h1M227.49 334.88h1M114.18 344.71h1M116.18 344.71h2.01M134.23 344.71h1M140.25 344.71h1M142.26 344.71h1M144.26 344.71h2.01M161.31 344.71h1M184.37 344.71h1M227.49 344.71h2.01M66.04 354.53h1M127.21 354.53h1M140.25 354.53h1M142.26 354.53h2.01M145.26 354.53h1M227.49 354.53h2.01M227.49 374.19h1M113.17 384.02h1M116.18 384.02h1M140.25 384.02h6.02M154.29 384.02h1M176.35 384.02h1M228.5 384.02h1M141.25 393.86h1M143.26 393.86h1M205.43 393.86h1M227.49 393.86h2.01M223.48 403.69h1M227.49 403.69h1" stroke="#0a0a0a"/><path d="M51 226.75h1" stroke="#c84678"/><path d="M52 226.75h1" stroke="#be5078"/><path d="M53.01 226.75h1" stroke="#be3c78"/><path d="M56.01 226.75h2.01M57.02 364.37h1" stroke="#8c788c"/><path d="M60.03 226.75h1M60.03 266.06h2.01M60.03 364.37h1" stroke="#8c6e8c"/><path d="M61.03 226.75h1M59.02 364.37h1" stroke="#8c4682"/><path d="M62.03 226.75h1M63.03 266.06h1M63.03 364.37h1M75.07 364.37h1" stroke="#8c3282"/><path d="M66.04 226.75h1M76.07 266.06h1M91.11 266.06h1M76.07 364.37h1" stroke="#826e8c"/><path d="M68.05 226.75h1" stroke="#6e1e82"/><path d="M69.05 226.75h1" stroke="#963c82"/><path d="M75.07 226.75h1M82.09 226.75h1M51 275.89h1M65.04 364.37h1M68.05 364.37h1M84.09 364.37h1M90.11 364.37h1" stroke="#642882"/><path d="M76.07 226.75h1" stroke="#781e82"/><path d="M83.09 226.75h1M88.1 364.37h1" stroke="#78648c"/><path d="M93.12 226.75h1M60.03 275.89h1M72.06 315.22h1M65.04 325.05h1M57.02 403.69h1" stroke="#6e5a82"/><path d="M94.12 226.75h1M146.27 226.75h1M186.38 275.89h1M220.47 275.89h1M137.24 295.56h1M76.07 325.05h1M92.12 325.05h1M146.27 325.05h1M57.02 374.19h2.01M91.11 374.19h1M58.02 403.69h1" stroke="#827882"/><path d="M95.12 226.75h1" stroke="#5a3278"/><path d="M96.13 226.75h1M88.1 266.06h1M59.02 315.22h1" stroke="#643c82"/><path d="M97.13 226.75h1M74.06 256.24h2.01M101.14 266.06h1M67.04 275.89h1M62.03 315.22h1M100.14 364.37h1M111.17 364.37h1M65.04 403.69h1" stroke="#3c1e6e"/><path d="M98.13 226.75h1M65.04 256.24h1M68.05 256.24h1M73.06 275.89h2.01M69.05 315.22h1M62.03 325.05h1M89.11 364.37h1" stroke="#461e6e"/><path d="M99.13 226.75h1M73.06 266.06h2.01M80.08 266.06h1M84.09 266.06h2.01M71.06 364.37h1M74.06 364.37h1M85.1 364.37h1M99.13 364.37h1" stroke="#5a1e82"/><path d="M104.15 226.75h1M72.06 256.24h1M94.12 266.06h1M93.12 275.89h1M92.12 315.22h1M107.16 364.37h1" stroke="#786e82"/><path d="M107.16 226.75h1M60.03 315.22h1" stroke="#786e8c"/><path d="M110.17 226.75h1M64.04 325.05h1M109.16 364.37h2.01M59.02 403.69h1" stroke="#503c78"/><path d="M112.17 226.75h1" stroke="#5a5a78"/><path d="M117.19 226.75h1M70.05 325.05h1" stroke="#50326e"/><path d="M119.19 226.75h1" stroke="#463264"/><path d="M120.19 226.75h1M129.22 226.75h1M103.15 256.24h1M127.21 266.06h2.01M61.03 275.89h1M54.01 295.56h1M126.21 364.37h1M61.03 374.19h1M67.04 403.69h1" stroke="#646478"/><path d="M122.2 226.75h1M58.02 236.57h1M54.01 256.24h2.01M86.1 256.24h1M92.12 266.06h1M163.31 266.06h1M56.01 275.89h1M91.11 315.22h1M108.16 315.22h1M98.13 325.05h1M54.01 344.71h1M62.03 374.19h1M56.01 403.69h1M86.1 403.69h1" stroke="#82828c"/><path d="M128.22 226.75h1M112.17 315.22h1M121.2 364.37h1M124.21 364.37h1" stroke="#5a5a6e"/><path d="M130.22 226.75h1M51 236.57h1M84.09 256.24h1M99.13 256.24h1M104.15 266.06h1M111.17 266.06h1M101.14 275.89h1M70.05 315.22h1M73.06 315.22h1M82.09 315.22h1M83.09 325.05h2.01M89.11 325.05h1M51 374.19h1M63.03 374.19h1M69.05 374.19h1" stroke="#281e50"/><path d="M135.24 226.75h1M96.13 275.89h1M97.13 315.22h1M109.16 315.22h1M109.16 325.05h1M142.26 364.37h1" stroke="#3c3250"/><path d="M141.25 226.75h1M94.12 275.89h1M93.12 325.05h1M103.15 325.05h1M144.26 364.37h1M66.04 374.19h1M79.08 403.69h1" stroke="#1e143c"/><path d="M144.26 226.75h1M102.14 256.24h1" stroke="#140a3c"/><path d="M149.28 226.75h1M135.24 325.05h1M119.19 374.19h1" stroke="#32283c"/><path d="M159.3 226.75h1M157.3 325.05h1" stroke="#281e32"/><path d="M195.4 226.75h1M197.41 226.75h1M96.13 236.57h1M109.16 236.57h2.01M134.23 236.57h1M136.24 236.57h1M153.29 236.57h1M59.02 246.41h1M88.1 246.41h1M153.29 246.41h1M195.4 246.41h1M193.4 256.24h1M195.4 256.24h1M165.32 266.06h1M195.4 266.06h1M212.45 266.06h1M182.37 275.89h1M195.4 275.89h1M59.02 285.73h1M110.17 285.73h1M110.17 295.56h1M195.4 295.56h1M70.05 305.38h1M96.13 305.38h1M133.23 305.38h1M195.4 305.38h1M133.23 325.05h1M149.28 325.05h1M153.29 325.05h2.01M195.4 325.05h1M59.02 334.88h1M64.04 334.88h1M88.1 334.88h1M118.19 334.88h1M153.29 334.88h1M96.13 344.71h1M109.16 344.71h2.01M132.23 344.71h1M139.25 344.71h1M153.29 344.71h1M96.13 354.53h1M110.17 354.53h1M132.23 354.53h3.01M153.29 354.53h1M195.4 364.37h1M208.44 364.37h1M134.23 374.19h1M153.29 374.19h1M195.4 374.19h1M109.16 384.02h1M132.23 384.02h1M206.44 384.02h1M96.13 393.86h1M109.16 393.86h2.01M115.18 393.86h1M127.21 393.86h1M132.23 393.86h1M153.29 393.86h1M181.37 393.86h1M195.4 393.86h1M198.41 393.86h1M134.23 403.69h1M153.29 403.69h1M195.4 403.69h1" stroke="#32323c"/><path d="M54.01 236.57h1M95.12 256.24h1M106.15 256.24h1M116.18 266.06h1M137.24 364.37h1" stroke="#504664"/><path d="M61.03 236.57h1M122.2 266.06h1" stroke="#282850"/><path d="M62.03 236.57h1M67.04 315.22h1M60.03 403.69h1" stroke="#6e6478"/><path d="M63.03 236.57h1M82.09 236.57h1M89.11 236.57h1M100.14 256.24h1M111.17 256.24h1M123.2 256.24h1M127.21 256.24h1M139.25 266.06h1M111.17 275.89h1M63.03 295.56h1M65.04 295.56h1M67.04 295.56h1M82.09 295.56h1M67.04 393.86h1M69.05 393.86h1M74.06 393.86h1M82.09 393.86h1M89.11 403.69h1M104.15 403.69h1" stroke="#1e1432"/><path d="M65.04 236.57h1M159.3 266.06h1M97.13 275.89h1M131.22 364.37h1M90.11 374.19h1M84.09 403.69h1" stroke="#281e3c"/><path d="M67.04 236.57h2.01M73.06 236.57h1M75.07 236.57h1M98.13 256.24h1M130.22 266.06h1M68.05 295.56h2.01M89.11 315.22h1M99.13 315.22h1M97.13 325.05h1M100.14 325.05h1M143.26 364.37h1M148.27 364.37h1M84.09 374.19h1M83.09 403.69h1M96.13 403.69h1M100.14 403.69h1" stroke="#1e1e3c"/><path d="M120.19 236.57h2.01M169.33 236.57h1M181.37 236.57h1M183.37 236.57h1M104.15 246.41h1M106.15 246.41h2.01M112.17 246.41h1M139.25 246.41h1M147.27 246.41h1M156.29 256.24h1M181.37 256.24h1M170.33 266.06h1M176.35 266.06h1M170.33 275.89h1M183.37 275.89h1M72.06 285.73h1M76.07 285.73h1M107.16 285.73h1M120.19 285.73h1M223.48 285.73h1M171.34 295.56h1M210.45 295.56h1M98.13 305.38h1M104.15 305.38h1M121.2 305.38h1M191.39 305.38h1M60.03 334.88h2.01M107.16 334.88h1M120.19 334.88h2.01M183.37 334.88h1M84.09 344.71h1M94.12 344.71h1M155.29 344.71h1M171.34 344.71h1M222.48 344.71h1M224.49 344.71h1M61.03 354.53h1M94.12 354.53h1M181.37 354.53h1M188.38 354.53h1M205.43 354.53h1M171.34 364.37h1M120.19 374.19h1M170.33 374.19h1M183.37 374.19h1M215.46 374.19h1M61.03 384.02h1M120.19 384.02h1M173.34 384.02h1M181.37 384.02h1M193.4 384.02h1M121.2 393.86h1M190.39 393.86h1M170.33 403.69h1M185.38 403.69h1M194.4 403.69h1" stroke="#646464"/><path d="M132.23 236.57h1M215.46 236.57h1M110.17 246.41h1M216.46 246.41h1M218.47 246.41h1M88.1 285.73h1M216.46 285.73h1M133.23 295.56h1M110.17 305.38h1M134.23 305.38h1M216.46 305.38h1M215.46 325.05h1M163.31 334.88h1M95.12 344.71h1M133.23 344.71h1M64.04 354.53h1M69.05 354.53h1M82.09 354.53h1M88.1 354.53h1M95.12 354.53h1M160.31 354.53h1M163.31 354.53h1M216.46 354.53h1M133.23 374.19h1M156.29 374.19h1M134.23 393.86h1M216.46 403.69h1" stroke="#3c3c3c"/><path d="M158.3 236.57h1M117.19 246.41h1M154.29 285.73h1M201.42 285.73h1M157.3 295.56h1" stroke="#0a000a"/><path d="M172.34 236.57h2.01M90.11 246.41h1M115.18 246.41h1M136.24 246.41h1M172.34 246.41h2.01M213.46 275.89h1M204.43 285.73h1M173.34 295.56h1M115.18 305.38h1M159.3 305.38h1M172.34 305.38h1M204.43 305.38h1M212.45 305.38h1M173.34 315.22h1M173.34 334.88h1M115.18 344.71h1M154.29 344.71h1M159.3 344.71h1M172.34 344.71h2.01M67.04 354.53h1M115.18 354.53h1M172.34 354.53h1M198.41 374.19h1M159.3 384.02h1M173.34 393.86h1M173.34 403.69h1" stroke="#1e1e1e"/><path d="M180.36 236.57h1" stroke="#504650"/><path d="M189.39 236.57h1M135.24 246.41h1M162.31 246.41h1M189.39 256.24h1M203.43 256.24h2.01M226.49 256.24h1M207.44 266.06h1M226.49 266.06h1M203.43 275.89h2.01M116.18 285.73h1M135.24 285.73h1M149.28 285.73h1M162.31 285.73h1M189.39 285.73h1M214.46 285.73h1M123.2 295.56h1M162.31 295.56h1M189.39 295.56h1M189.39 315.22h1M189.39 325.05h1M226.49 325.05h1M119.19 334.88h1M135.24 334.88h1M149.28 334.88h1M204.43 334.88h1M226.49 334.88h1M149.28 344.71h1M189.39 344.71h1M204.43 344.71h1M226.49 344.71h1M52 354.53h1M119.19 354.53h1M135.24 354.53h1M162.31 354.53h1M226.49 354.53h1M226.49 374.19h1M108.16 384.02h1M135.24 384.02h1M203.43 384.02h1M212.45 384.02h1M226.49 384.02h1M108.16 393.86h1M203.43 393.86h2.01M226.49 393.86h1M203.43 403.69h2.01M226.49 403.69h1" stroke="#282828"/><path d="M75.07 246.41h1M84.09 246.41h1M89.11 246.41h1M99.13 246.41h1M168.33 246.41h1M98.13 285.73h1M197.41 295.56h1M222.48 295.56h1M163.31 305.38h1M177.35 305.38h1M89.11 334.88h1M97.13 334.88h1M101.14 334.88h1M168.33 334.88h1M198.41 334.88h1M101.14 344.71h1M168.33 344.71h1M200.42 344.71h1M73.06 354.53h1M84.09 354.53h1M89.11 354.53h1M99.13 354.53h2.01M154.29 354.53h1M168.33 354.53h1M177.35 354.53h1M168.33 384.02h1M221.48 393.86h1" stroke="#141414"/><path d="M101.14 246.41h1M85.1 285.73h1M85.1 334.88h1" stroke="#140a14"/><path d="M208.44 246.41h1M193.4 275.89h1" stroke="#6e646e"/><path d="M61.03 256.24h1M94.12 364.37h1" stroke="#786482"/><path d="M64.04 256.24h1M64.04 275.89h1" stroke="#5a3c82"/><path d="M66.04 256.24h1M66.04 315.22h1" stroke="#32145a"/><path d="M70.05 256.24h1M59.02 275.89h1" stroke="#463c6e"/><path d="M71.06 256.24h1M77.07 256.24h1M81.08 256.24h1M103.15 266.06h1M77.07 275.89h1M81.08 315.22h1M117.19 364.37h1" stroke="#321464"/><path d="M78.08 256.24h1" stroke="#281464"/><path d="M79.08 256.24h1M111.17 315.22h1M111.17 325.05h1" stroke="#1e1e46"/><path d="M80.08 256.24h1M65.04 275.89h1M69.05 275.89h1M84.09 275.89h1M85.1 315.22h1M67.04 325.05h3.01M73.06 325.05h1M82.09 325.05h1M65.04 374.19h1M68.05 374.19h1M63.03 403.69h1" stroke="#321e5a"/><path d="M88.1 256.24h1M134.23 364.37h1" stroke="#464664"/><path d="M93.12 256.24h1M105.15 275.89h1M129.22 325.05h1M155.29 364.37h1" stroke="#505064"/><path d="M97.13 256.24h1" stroke="#321e50"/><path d="M105.15 256.24h1M109.16 275.89h1M112.17 275.89h1M93.12 315.22h1M105.15 315.22h2.01M105.15 325.05h1" stroke="#5a5064"/><path d="M135.24 256.24h1M70.05 295.56h1M110.17 315.22h1M88.1 374.19h1M59.02 384.02h1M70.05 393.86h1" stroke="#3c3246"/><path d="M51 266.06h1M51 364.37h1" stroke="#a03282"/><path d="M52 266.06h1" stroke="#aa5082"/><path d="M53.01 266.06h1M56.01 364.37h1" stroke="#aa3278"/><path d="M54.01 266.06h1M57.02 266.06h1M54.01 364.37h1M58.02 364.37h1" stroke="#96828c"/><path d="M55.01 266.06h1" stroke="#a05a82"/><path d="M58.02 266.06h1M64.04 364.37h1" stroke="#8c5082"/><path d="M59.02 266.06h1M68.05 266.06h1M72.06 364.37h1" stroke="#8c648c"/><path d="M62.03 266.06h1M66.04 364.37h1" stroke="#963282"/><path d="M64.04 266.06h1" stroke="#784682"/><path d="M67.04 266.06h1" stroke="#965a82"/><path d="M70.05 266.06h1" stroke="#783c82"/><path d="M75.07 266.06h1M73.06 364.37h1" stroke="#6e3282"/><path d="M79.08 266.06h1M93.12 266.06h1M63.03 315.22h1" stroke="#501478"/><path d="M87.1 266.06h1M53.01 325.05h1" stroke="#641482"/><path d="M90.11 266.06h1" stroke="#462878"/><path d="M106.15 266.06h1" stroke="#50506e"/><path d="M108.16 266.06h1M79.08 325.05h1M108.16 364.37h1" stroke="#46326e"/><path d="M109.16 266.06h1" stroke="#504678"/><path d="M110.17 266.06h1M59.02 325.05h1M96.13 364.37h1" stroke="#503c6e"/><path d="M66.04 275.89h1M52 374.19h1M52 403.69h1" stroke="#503278"/><path d="M79.08 275.89h1M85.1 325.05h1" stroke="#281e5a"/><path d="M106.15 275.89h1M95.12 315.22h1M82.09 374.19h1M105.15 374.19h1" stroke="#46465a"/><path d="M198.41 285.73h1M202.42 305.38h1M202.42 334.88h1M202.42 344.71h1" stroke="#000000"/><path d="M149.28 305.38h1M204.43 315.22h1M149.28 354.53h1M221.48 354.53h1" stroke="#281e28"/><path d="M52 315.22h1M52 325.05h1M57.02 325.05h1" stroke="#6e3c82"/><path d="M74.06 315.22h1" stroke="#32285a"/><path d="M79.08 315.22h1M123.2 364.37h1" stroke="#3c3264"/><path d="M128.22 315.22h1M188.38 393.86h1M126.21 403.69h1" stroke="#5a505a"/><path d="M61.03 325.05h1" stroke="#5a1e78"/><path d="M90.11 325.05h1" stroke="#5a466e"/><path d="M110.17 325.05h1M59.02 374.19h1" stroke="#3c3c5a"/><path d="M216.46 325.05h1M216.46 344.71h1" stroke="#463c46"/><path d="M52 364.37h1" stroke="#d25a6e"/><path d="M53.01 364.37h1" stroke="#dc4664"/><path d="M55.01 364.37h1" stroke="#96788c"/><path d="M81.08 364.37h1" stroke="#3c1478"/><path d="M105.15 364.37h1" stroke="#644678"/><path d="M115.18 364.37h1" stroke="#3c285a"/><path d="M129.22 403.69h1" stroke="#645a64"/></g>
<rect x="247.3" y="212" width="178.2" height="196.6" fill="#000004"/>
<g fill="none" stroke-width="10.13" shape-rendering="crispEdges"><path d="M247.3 216.91h1" stroke="#8c5a6e"/><path d="M248.3 216.91h1M256.31 226.75h1M248.3 266.06h1M256.31 266.06h1M256.31 364.37h1" stroke="#f0645a"/><path d="M249.3 216.91h1M293.35 216.91h1M293.35 364.37h1" stroke="#6e646e"/><path d="M250.3 216.91h1M247.3 364.37h1" stroke="#826464"/><path d="M251.3 216.91h1M263.32 216.91h1M265.32 216.91h2M272.33 216.91h1M252.31 226.75h1M262.32 226.75h1M280.34 226.75h2M283.34 226.75h1M267.32 266.06h2M270.33 266.06h1M278.33 266.06h1M249.3 364.37h1M262.32 364.37h1M278.33 364.37h1M282.34 364.37h1" stroke="#aa3278"/><path d="M252.31 216.91h1M281.34 216.91h1M273.33 226.75h1M269.32 364.37h1M275.33 364.37h1M296.36 364.37h1" stroke="#962882"/><path d="M253.31 216.91h1M251.3 266.06h1M264.32 364.37h1" stroke="#f05a64"/><path d="M254.31 216.91h1" stroke="#aa3c78"/><path d="M255.31 216.91h1M264.32 216.91h1M267.32 216.91h1M260.31 226.75h1M270.33 226.75h1M290.35 226.75h1M300.36 226.75h1M257.31 266.06h1M261.32 266.06h1M287.34 266.06h1M272.33 364.37h1M287.34 364.37h1M289.35 364.37h1" stroke="#8c2882"/><path d="M256.31 216.91h1M277.33 226.75h1M291.35 226.75h1M299.36 266.06h1M306.37 364.37h1" stroke="#782882"/><path d="M257.31 216.91h1M271.33 226.75h1M260.31 266.06h1M248.3 364.37h1M250.3 364.37h1" stroke="#d2466e"/><path d="M258.31 216.91h1" stroke="#965a6e"/><path d="M259.31 216.91h1M259.31 266.06h1M265.32 266.06h1M257.31 364.37h1M270.33 364.37h2" stroke="#c83c6e"/><path d="M260.31 216.91h1M255.31 226.75h1M264.32 226.75h1M269.32 226.75h1M273.33 266.06h1M255.31 364.37h1M266.32 364.37h1M285.34 364.37h1" stroke="#b43278"/><path d="M261.32 216.91h1M270.33 216.91h1M272.33 226.75h1M274.33 226.75h1M276.33 226.75h1M287.34 226.75h1M302.36 226.75h2M266.32 266.06h1M249.3 325.05h1M268.32 364.37h1M273.33 364.37h1M288.35 364.37h1M302.36 364.37h2" stroke="#822882"/><path d="M262.32 216.91h1M284.34 364.37h1" stroke="#aa4678"/><path d="M268.32 216.91h1M285.34 216.91h1M269.32 266.06h1M285.34 266.06h1M274.33 364.37h1M292.35 364.37h1" stroke="#a03282"/><path d="M269.32 216.91h1M283.34 216.91h1M291.35 216.91h1M299.36 226.75h1M288.35 266.06h1M248.3 275.89h1M247.3 325.05h1" stroke="#781e82"/><path d="M271.33 216.91h1M279.34 216.91h1M292.35 216.91h1M297.36 216.91h1M302.36 216.91h1M272.33 266.06h1M280.34 266.06h1M282.34 266.06h1M284.34 266.06h1M306.37 266.06h1M308.37 266.06h1M249.3 275.89h2M252.31 325.05h1M294.35 364.37h1M300.36 364.37h1M305.37 364.37h1" stroke="#6e1e82"/><path d="M273.33 216.91h1M301.36 226.75h1M316.38 364.37h1" stroke="#6e2882"/><path d="M274.33 216.91h1M276.33 216.91h1M278.33 216.91h1M282.34 216.91h1M255.31 266.06h1M258.31 266.06h1M280.34 364.37h1M291.35 364.37h1" stroke="#963282"/><path d="M275.33 216.91h1" stroke="#8c4678"/><path d="M277.33 216.91h1M292.35 266.06h1" stroke="#8c3282"/><path d="M280.34 216.91h1M307.37 226.75h1M302.36 266.06h1" stroke="#641482"/><path d="M284.34 216.91h1" stroke="#644678"/><path d="M286.34 216.91h1M268.32 226.75h1M301.36 364.37h1" stroke="#784678"/><path d="M287.34 216.91h1M296.36 226.75h1M298.36 364.37h1" stroke="#824678"/><path d="M288.35 216.91h1M290.35 216.91h1M306.37 216.91h1M292.35 226.75h1M304.36 226.75h1M318.38 226.75h1M307.37 266.06h1M252.31 275.89h1M253.31 325.05h1M299.36 364.37h1" stroke="#5a1482"/><path d="M289.35 216.91h1M306.37 226.75h1M311.37 226.75h1M313.37 226.75h1M317.38 226.75h1M320.38 226.75h1M324.39 226.75h1M327.39 226.75h1M300.36 266.06h1M303.36 266.06h1M323.39 266.06h1M325.39 266.06h1M255.31 275.89h1M248.3 315.22h1M250.3 325.05h1M254.31 325.05h1M313.37 364.37h1M322.38 364.37h1M325.39 364.37h1M327.39 364.37h1" stroke="#501478"/><path d="M294.35 216.91h1M286.34 364.37h1M297.36 364.37h1" stroke="#6e4678"/><path d="M295.35 216.91h1M312.37 266.06h1M254.31 275.89h1M253.31 315.22h1M311.37 364.37h1" stroke="#501e78"/><path d="M296.36 216.91h1M275.33 266.06h1M298.36 266.06h1M309.37 364.37h1" stroke="#6e3c78"/><path d="M298.36 216.91h1M318.38 216.91h1" stroke="#64506e"/><path d="M299.36 216.91h1M285.34 226.75h1M288.35 226.75h1M294.35 226.75h1M281.34 266.06h1M283.34 266.06h1M289.35 266.06h2M297.36 266.06h1M304.36 266.06h1M309.37 266.06h1M304.36 364.37h1M312.37 364.37h1" stroke="#641e82"/><path d="M300.36 216.91h1M310.37 216.91h1M343.41 226.75h1M247.3 275.89h1" stroke="#645a6e"/><path d="M301.36 216.91h1M305.37 216.91h1M315.38 216.91h1M310.37 226.75h1M316.38 226.75h1M323.39 226.75h1M325.39 226.75h1M332.4 226.75h1M316.38 266.06h1M322.38 266.06h1M249.3 315.22h1M257.31 325.05h1M324.39 364.37h1M326.39 364.37h1M329.39 364.37h1M337.4 364.37h1" stroke="#461478"/><path d="M303.36 216.91h2M314.38 216.91h1M305.37 226.75h1M314.38 226.75h2" stroke="#5a1e78"/><path d="M307.37 216.91h1M309.37 226.75h1M296.36 266.06h1M308.37 364.37h1M315.38 364.37h1" stroke="#643c78"/><path d="M308.37 216.91h1M319.38 216.91h1" stroke="#5a3c78"/><path d="M309.37 216.91h1M312.37 216.91h1M317.38 216.91h1M322.38 216.91h1M322.38 226.75h1M248.3 236.57h1M310.37 266.06h1M313.37 266.06h1M318.38 266.06h1M324.39 266.06h1M329.39 266.06h1M331.39 266.06h1M258.31 325.05h1M317.38 364.37h1M320.38 364.37h2M331.39 364.37h1M335.4 364.37h2" stroke="#3c146e"/><path d="M311.37 216.91h1M321.38 216.91h1M324.39 216.91h2M327.39 216.91h1M330.39 216.91h1M340.4 216.91h1M321.38 226.75h1M330.39 226.75h1M334.4 226.75h1M339.4 226.75h2M326.39 266.06h1M335.4 266.06h1M250.3 315.22h1M259.31 315.22h1M259.31 325.05h1M263.32 325.05h1M323.39 364.37h1M334.4 364.37h1M338.4 364.37h1M345.41 364.37h1" stroke="#321464"/><path d="M313.37 216.91h1M251.3 275.89h1M318.38 364.37h1" stroke="#5a1478"/><path d="M316.38 216.91h1" stroke="#502878"/><path d="M320.38 216.91h1M320.38 266.06h1M330.39 266.06h1" stroke="#64646e"/><path d="M323.39 216.91h1M328.39 216.91h1" stroke="#281450"/><path d="M326.39 216.91h1M315.38 266.06h1" stroke="#461e6e"/><path d="M329.39 216.91h1M335.4 216.91h1M255.31 236.57h1M258.31 275.89h1M260.31 275.89h1M264.32 275.89h1M261.32 315.22h1M330.39 364.37h1M346.41 364.37h1" stroke="#1e1450"/><path d="M331.39 216.91h1M337.4 216.91h2M341.41 216.91h1M350.42 216.91h2M336.4 226.75h1M338.4 226.75h1M346.41 226.75h1M349.41 226.75h2M352.42 226.75h1M251.3 236.57h1M257.31 236.57h1M343.41 266.06h2M346.41 266.06h1M350.42 266.06h1M354.42 266.06h1M261.32 275.89h1M265.32 275.89h2M269.32 275.89h1M256.31 315.22h2M265.32 325.05h2M268.32 325.05h1M271.33 325.05h1M248.3 344.71h2M343.41 364.37h1M347.41 364.37h3M352.42 364.37h1M356.42 364.37h1" stroke="#1e1446"/><path d="M332.4 216.91h1M333.4 226.75h1M340.4 364.37h1" stroke="#3c1e64"/><path d="M333.4 216.91h1M332.4 266.06h2M332.4 364.37h1" stroke="#504664"/><path d="M334.4 216.91h1M344.41 216.91h1M331.39 226.75h1M337.4 226.75h1M249.3 236.57h1M321.38 266.06h1M338.4 266.06h1M259.31 275.89h1M262.32 275.89h1M251.3 315.22h2M258.31 315.22h1M260.31 315.22h1M328.39 364.37h1M344.41 364.37h1" stroke="#28145a"/><path d="M336.4 216.91h1M345.41 226.75h1" stroke="#281e50"/><path d="M339.4 216.91h1M339.4 266.06h1" stroke="#3c3250"/><path d="M342.41 216.91h2M347.41 216.91h2M354.42 216.91h1M356.42 216.91h1M348.41 226.75h1M353.42 226.75h1M358.42 226.75h1M360.43 226.75h5.01M256.31 236.57h1M261.32 236.57h1M264.32 236.57h2M351.42 266.06h1M355.42 266.06h1M358.42 266.06h1M360.43 266.06h1M273.33 275.89h1M266.32 315.22h1M269.32 315.22h1M267.32 325.05h1M269.32 325.05h2M273.33 325.05h1M275.33 325.05h1M247.3 344.71h1M251.3 344.71h2M350.42 364.37h1M358.42 364.37h1M362.43 364.37h2M249.3 374.19h1M252.31 374.19h1M252.31 403.69h1M257.31 403.69h1" stroke="#140a32"/><path d="M345.41 216.91h1M254.31 344.71h1M254.31 403.69h1" stroke="#1e1e3c"/><path d="M346.41 216.91h1M349.41 216.91h1M355.42 216.91h1M347.41 226.75h1M354.42 226.75h1M359.43 226.75h1M347.41 266.06h1" stroke="#140a3c"/><path d="M352.42 216.91h1M351.42 226.75h1M356.42 226.75h1M348.41 266.06h2M353.42 266.06h1M267.32 275.89h1M274.33 275.89h1M263.32 315.22h2M272.33 325.05h1M274.33 325.05h1M359.43 364.37h1M248.3 403.69h1" stroke="#14143c"/><path d="M353.42 216.91h1M357.42 364.37h1" stroke="#322846"/><path d="M357.42 216.91h1M355.42 226.75h1M259.31 236.57h2M270.33 275.89h1M354.42 364.37h1M249.3 403.69h1" stroke="#1e143c"/><path d="M358.42 216.91h1M362.43 216.91h1M364.43 216.91h1M368.44 216.91h1M365.43 226.75h1M369.44 226.75h1M262.32 236.57h1M268.32 236.57h2M356.42 266.06h2M361.43 266.06h2M365.43 266.06h1M368.44 266.06h1M272.33 275.89h1M276.33 275.89h2M279.34 275.89h1M281.34 275.89h1M247.3 295.56h1M249.3 295.56h5.01M268.32 315.22h1M270.33 315.22h1M272.33 315.22h1M274.33 315.22h1M276.33 315.22h2M279.34 325.05h2M250.3 344.71h1M255.31 344.71h1M258.31 344.71h1M355.42 364.37h1M360.43 364.37h1M365.43 364.37h1M369.44 364.37h1M248.3 374.19h1M251.3 374.19h1M256.31 374.19h1M258.31 374.19h1M251.3 403.69h1M255.31 403.69h1" stroke="#0a0a28"/><path d="M359.43 216.91h1" stroke="#46465a"/><path d="M360.43 216.91h1M363.43 216.91h1M365.43 216.91h1M370.44 216.91h2M368.44 226.75h1M370.44 226.75h2M266.32 236.57h2M270.33 236.57h4M276.33 236.57h4M247.3 256.24h1M249.3 256.24h2M252.31 256.24h1M364.43 266.06h1M369.44 266.06h1M371.44 266.06h3M282.34 275.89h4M289.35 275.89h1M254.31 295.56h1M256.31 295.56h1M260.31 295.56h4M273.33 315.22h1M279.34 315.22h4M278.33 325.05h1M281.34 325.05h5.01M289.35 325.05h2M256.31 344.71h2M260.31 344.71h1M263.32 344.71h2M271.33 344.71h1M364.43 364.37h1M371.44 364.37h2M374.44 364.37h1M255.31 374.19h1M257.31 374.19h1M259.31 374.19h3M264.32 374.19h3M274.33 374.19h1M256.31 403.69h1M258.31 403.69h4M264.32 403.69h1M267.32 403.69h2M276.33 403.69h1" stroke="#0a0a1e"/><path d="M361.43 216.91h1M366.43 226.75h2M280.34 275.89h1M248.3 295.56h1M265.32 315.22h1M267.32 315.22h1M276.33 325.05h2M367.43 364.37h1M247.3 403.69h1" stroke="#141432"/><path d="M366.43 216.91h2M376.44 226.75h1M366.43 266.06h2M295.35 275.89h1M295.35 315.22h1M259.31 344.71h1M366.43 364.37h1M250.3 374.19h1" stroke="#141428"/><path d="M369.44 216.91h1M372.44 216.91h1M377.45 216.91h2M380.45 216.91h2M380.45 226.75h3M274.33 236.57h1M280.34 236.57h1M282.34 236.57h1M251.3 256.24h1M256.31 256.24h5.01M265.32 256.24h1M381.45 266.06h2M384.45 266.06h1M292.35 275.89h1M294.35 275.89h1M299.36 275.89h1M301.36 275.89h1M267.32 295.56h6.01M274.33 295.56h1M248.3 305.38h2M251.3 305.38h1M288.35 315.22h1M292.35 315.22h1M286.34 325.05h1M294.35 325.05h1M297.36 325.05h4M306.37 325.05h1M265.32 344.71h1M267.32 344.71h1M270.33 344.71h1M272.33 344.71h1M276.33 344.71h1M376.44 364.37h2M381.45 364.37h1M386.46 364.37h1M268.32 374.19h1M270.33 374.19h4M283.34 374.19h1M248.3 384.02h1M252.31 384.02h1M255.31 384.02h1M248.3 393.86h2M251.3 393.86h2M270.33 403.69h1M273.33 403.69h3M280.34 403.69h1" stroke="#000014"/><path d="M373.44 216.91h1M373.44 226.75h1M286.34 236.57h1M288.35 236.57h1M286.34 275.89h1M345.41 285.73h1M422.5 305.38h1M275.33 315.22h1M287.34 315.22h1M298.36 315.22h1M287.34 325.05h1M412.49 325.05h1M275.33 344.71h1M286.34 344.71h1M296.36 344.71h1M264.32 354.53h1M373.44 364.37h1M275.33 374.19h1M287.34 374.19h1M321.38 374.19h1M333.4 374.19h1M272.33 403.69h1" stroke="#32323c"/><path d="M374.44 216.91h1M376.44 216.91h1M379.45 216.91h1M384.45 216.91h1M389.46 216.91h1M394.47 216.91h1M374.44 226.75h1M377.45 226.75h2M388.46 226.75h1M275.33 236.57h1M290.35 236.57h3M301.36 236.57h1M303.36 236.57h1M312.37 236.57h1M343.41 236.57h1M345.41 236.57h1M388.46 236.57h1M301.36 246.41h1M340.4 246.41h1M343.41 246.41h2M349.41 246.41h1M379.45 246.41h1M261.32 256.24h2M278.33 256.24h1M301.36 256.24h1M344.41 256.24h2M359.43 256.24h1M366.43 256.24h1M388.46 256.24h2M374.44 266.06h1M378.45 266.06h1M389.46 266.06h1M290.35 275.89h1M300.36 275.89h1M316.38 275.89h1M343.41 275.89h1M345.41 275.89h1M379.45 275.89h1M389.46 275.89h1M302.36 285.73h1M330.39 285.73h1M343.41 285.73h2M366.43 285.73h1M389.46 285.73h1M259.31 295.56h1M265.32 295.56h2M276.33 295.56h1M278.33 295.56h1M302.36 295.56h1M345.41 295.56h1M379.45 295.56h1M389.46 295.56h1M254.31 305.38h1M337.4 305.38h1M344.41 305.38h2M359.43 305.38h1M379.45 305.38h1M388.46 305.38h2M285.34 315.22h1M290.35 315.22h2M301.36 315.22h1M312.37 315.22h1M316.38 315.22h1M321.38 315.22h1M331.39 315.22h1M359.43 315.22h1M389.46 315.22h1M312.37 325.05h1M315.38 325.05h1M323.39 325.05h1M344.41 325.05h2M379.45 325.05h1M388.46 325.05h2M396.47 325.05h1M344.41 334.88h2M375.44 334.88h1M388.46 334.88h2M261.32 344.71h1M266.32 344.71h1M268.32 344.71h2M274.33 344.71h1M277.33 344.71h3M301.36 344.71h1M312.37 344.71h2M344.41 344.71h2M388.46 344.71h2M343.41 354.53h3M359.43 354.53h1M367.43 354.53h1M379.45 354.53h1M389.46 354.53h1M375.44 364.37h1M380.45 364.37h1M396.47 364.37h1M267.32 374.19h1M277.33 374.19h1M279.34 374.19h1M312.37 374.19h1M348.41 374.19h1M359.43 374.19h1M365.43 374.19h1M379.45 374.19h1M389.46 374.19h1M250.3 384.02h1M278.33 384.02h1M285.34 384.02h1M343.41 384.02h2M379.45 384.02h1M389.46 384.02h1M303.36 393.86h1M343.41 393.86h3M359.43 393.86h1M379.45 393.86h1M265.32 403.69h2M277.33 403.69h2M293.35 403.69h1M329.39 403.69h1M343.41 403.69h1M345.41 403.69h1M351.42 403.69h1M379.45 403.69h1" stroke="#0a0a14"/><path d="M375.44 216.91h1M255.31 256.24h1M370.44 266.06h1M264.32 295.56h1M283.34 315.22h1M286.34 315.22h1M288.35 325.05h1M292.35 325.05h2M378.45 364.37h1M269.32 403.69h1" stroke="#0a0014"/><path d="M382.45 216.91h2M388.46 216.91h1M392.46 216.91h2M395.47 216.91h1M398.47 216.91h2M403.48 216.91h1M405.48 216.91h1M408.48 216.91h1M410.48 216.91h1M412.49 216.91h1M414.49 216.91h1M419.49 216.91h2M422.5 216.91h2M385.46 226.75h2M391.46 226.75h5.01M400.47 226.75h3M404.48 226.75h1M406.48 226.75h1M409.48 226.75h1M412.49 226.75h2M415.49 226.75h1M420.49 226.75h2M423.5 226.75h1M283.34 236.57h1M285.34 236.57h1M293.35 236.57h1M296.36 236.57h1M298.36 236.57h3M302.36 236.57h1M304.36 236.57h3M309.37 236.57h2M313.37 236.57h2M317.38 236.57h2M321.38 236.57h2M325.39 236.57h3M329.39 236.57h4M334.4 236.57h4M340.4 236.57h2M346.41 236.57h1M349.41 236.57h2M352.42 236.57h1M354.42 236.57h1M356.42 236.57h4M361.43 236.57h2M365.43 236.57h2M369.44 236.57h1M372.44 236.57h1M374.44 236.57h1M376.44 236.57h2M381.45 236.57h1M384.45 236.57h1M392.46 236.57h2M395.47 236.57h2M398.47 236.57h3M404.48 236.57h1M408.48 236.57h1M411.48 236.57h5.01M417.49 236.57h1M421.5 236.57h1M248.3 246.41h5.01M255.31 246.41h7.01M264.32 246.41h5.01M270.33 246.41h6.01M279.34 246.41h1M281.34 246.41h3M287.34 246.41h6.01M295.35 246.41h2M299.36 246.41h1M304.36 246.41h3M309.37 246.41h1M311.37 246.41h1M313.37 246.41h1M315.38 246.41h1M317.38 246.41h1M320.38 246.41h1M326.39 246.41h1M328.39 246.41h2M334.4 246.41h3M341.41 246.41h2M347.41 246.41h2M351.42 246.41h1M354.42 246.41h1M359.43 246.41h1M362.43 246.41h1M364.43 246.41h1M368.44 246.41h4M375.44 246.41h1M377.45 246.41h2M380.45 246.41h2M383.45 246.41h1M386.46 246.41h1M388.46 246.41h2M392.46 246.41h2M395.47 246.41h1M397.47 246.41h8.01M406.48 246.41h1M412.49 246.41h3M416.49 246.41h3M420.49 246.41h1M264.32 256.24h1M266.32 256.24h9.01M277.33 256.24h1M280.34 256.24h6.01M287.34 256.24h7.01M295.35 256.24h3M300.36 256.24h1M303.36 256.24h3M310.37 256.24h1M314.38 256.24h2M318.38 256.24h1M322.38 256.24h1M327.39 256.24h2M330.39 256.24h2M336.4 256.24h2M341.41 256.24h3M348.41 256.24h1M351.42 256.24h2M354.42 256.24h2M358.42 256.24h1M361.43 256.24h3M365.43 256.24h1M367.43 256.24h1M370.44 256.24h1M372.44 256.24h1M379.45 256.24h4M385.46 256.24h1M391.46 256.24h3M395.47 256.24h1M400.47 256.24h1M404.48 256.24h2M407.48 256.24h3M411.48 256.24h2M415.49 256.24h1M418.49 256.24h3M423.5 256.24h2M380.45 266.06h1M385.46 266.06h1M388.46 266.06h1M391.46 266.06h5.01M398.47 266.06h5.01M406.48 266.06h1M408.48 266.06h1M413.49 266.06h2M416.49 266.06h1M418.49 266.06h1M420.49 266.06h1M423.5 266.06h1M293.35 275.89h1M297.36 275.89h2M302.36 275.89h7.01M311.37 275.89h3M315.38 275.89h1M317.38 275.89h2M320.38 275.89h4M326.39 275.89h2M329.39 275.89h4M334.4 275.89h5.01M340.4 275.89h3M344.41 275.89h1M346.41 275.89h2M349.41 275.89h4M354.42 275.89h1M358.42 275.89h1M360.43 275.89h2M363.43 275.89h4M371.44 275.89h1M374.44 275.89h1M377.45 275.89h2M380.45 275.89h1M382.45 275.89h1M388.46 275.89h1M391.46 275.89h1M393.46 275.89h2M396.47 275.89h4M403.48 275.89h1M405.48 275.89h1M407.48 275.89h4M412.49 275.89h3M416.49 275.89h2M420.49 275.89h1M422.5 275.89h3M247.3 285.73h1M249.3 285.73h5.01M255.31 285.73h1M257.31 285.73h1M259.31 285.73h2M262.32 285.73h1M265.32 285.73h11.01M277.33 285.73h1M280.34 285.73h2M283.34 285.73h1M285.34 285.73h1M287.34 285.73h2M290.35 285.73h1M293.35 285.73h2M300.36 285.73h1M303.36 285.73h5.01M309.37 285.73h1M312.37 285.73h1M317.38 285.73h2M323.39 285.73h1M325.39 285.73h1M329.39 285.73h1M332.4 285.73h1M336.4 285.73h1M338.4 285.73h1M341.41 285.73h2M348.41 285.73h2M351.42 285.73h3M355.42 285.73h1M360.43 285.73h1M363.43 285.73h1M365.43 285.73h1M367.43 285.73h1M369.44 285.73h3M374.44 285.73h2M377.45 285.73h1M381.45 285.73h1M388.46 285.73h1M391.46 285.73h5.01M397.47 285.73h1M399.47 285.73h1M403.48 285.73h1M405.48 285.73h1M407.48 285.73h1M411.48 285.73h6.01M418.49 285.73h2M423.5 285.73h1M273.33 295.56h1M275.33 295.56h1M277.33 295.56h1M280.34 295.56h4M285.34 295.56h1M288.35 295.56h5.01M294.35 295.56h1M296.36 295.56h2M300.36 295.56h1M304.36 295.56h2M309.37 295.56h1M313.37 295.56h1M318.38 295.56h2M321.38 295.56h2M326.39 295.56h2M331.39 295.56h3M335.4 295.56h2M339.4 295.56h2M343.41 295.56h1M346.41 295.56h2M349.41 295.56h3M353.42 295.56h1M356.42 295.56h1M358.42 295.56h1M360.43 295.56h1M370.44 295.56h2M374.44 295.56h1M377.45 295.56h1M380.45 295.56h1M388.46 295.56h1M391.46 295.56h1M393.46 295.56h5.01M399.47 295.56h2M404.48 295.56h1M406.48 295.56h1M408.48 295.56h1M410.48 295.56h1M413.49 295.56h1M418.49 295.56h3M250.3 305.38h1M252.31 305.38h2M255.31 305.38h8.01M264.32 305.38h4M269.32 305.38h6.01M277.33 305.38h2M280.34 305.38h1M283.34 305.38h1M285.34 305.38h1M287.34 305.38h2M291.35 305.38h2M294.35 305.38h1M298.36 305.38h1M302.36 305.38h1M304.36 305.38h3M308.37 305.38h1M317.38 305.38h2M321.38 305.38h4M329.39 305.38h4M334.4 305.38h3M338.4 305.38h1M340.4 305.38h1M346.41 305.38h2M351.42 305.38h1M355.42 305.38h4M361.43 305.38h1M364.43 305.38h2M369.44 305.38h2M372.44 305.38h1M377.45 305.38h2M381.45 305.38h1M383.45 305.38h1M387.46 305.38h1M393.46 305.38h1M395.47 305.38h1M398.47 305.38h7.01M408.48 305.38h1M411.48 305.38h4M416.49 305.38h2M419.49 305.38h1M421.5 305.38h1M423.5 305.38h2M293.35 315.22h2M296.36 315.22h1M299.36 315.22h1M302.36 315.22h1M304.36 315.22h4M313.37 315.22h1M317.38 315.22h1M319.38 315.22h2M322.38 315.22h1M325.39 315.22h5.01M334.4 315.22h3M340.4 315.22h3M348.41 315.22h1M350.42 315.22h1M354.42 315.22h1M358.42 315.22h1M361.43 315.22h1M363.43 315.22h2M366.43 315.22h1M369.44 315.22h5.01M376.44 315.22h2M380.45 315.22h1M382.45 315.22h1M391.46 315.22h1M393.46 315.22h3M397.47 315.22h2M402.47 315.22h1M405.48 315.22h1M408.48 315.22h2M412.49 315.22h1M418.49 315.22h1M423.5 315.22h2M302.36 325.05h1M304.36 325.05h2M308.37 325.05h1M313.37 325.05h1M316.38 325.05h2M320.38 325.05h3M325.39 325.05h2M328.39 325.05h2M331.39 325.05h7.01M340.4 325.05h3M347.41 325.05h5.01M353.42 325.05h4M358.42 325.05h1M361.43 325.05h1M363.43 325.05h1M365.43 325.05h1M369.44 325.05h3M374.44 325.05h1M377.45 325.05h2M382.45 325.05h2M392.46 325.05h4M398.47 325.05h8.01M409.48 325.05h2M413.49 325.05h5.01M421.5 325.05h4M248.3 334.88h6.01M255.31 334.88h4M260.31 334.88h3M264.32 334.88h2M267.32 334.88h4M272.33 334.88h3M278.33 334.88h2M281.34 334.88h1M285.34 334.88h2M289.35 334.88h4M294.35 334.88h1M297.36 334.88h1M299.36 334.88h3M304.36 334.88h3M316.38 334.88h2M320.38 334.88h1M326.39 334.88h2M330.39 334.88h3M335.4 334.88h1M337.4 334.88h1M341.41 334.88h1M343.41 334.88h1M346.41 334.88h1M349.41 334.88h2M353.42 334.88h1M358.42 334.88h1M360.43 334.88h1M362.43 334.88h2M365.43 334.88h3M370.44 334.88h2M374.44 334.88h1M376.44 334.88h4M381.45 334.88h3M392.46 334.88h2M397.47 334.88h1M400.47 334.88h1M402.47 334.88h2M405.48 334.88h3M410.48 334.88h4M418.49 334.88h1M420.49 334.88h1M273.33 344.71h1M280.34 344.71h4M285.34 344.71h1M288.35 344.71h2M291.35 344.71h4M298.36 344.71h1M300.36 344.71h1M302.36 344.71h1M304.36 344.71h1M306.37 344.71h1M309.37 344.71h1M318.38 344.71h3M322.38 344.71h1M325.39 344.71h1M327.39 344.71h2M331.39 344.71h2M335.4 344.71h2M338.4 344.71h1M342.41 344.71h2M346.41 344.71h2M349.41 344.71h1M354.42 344.71h1M358.42 344.71h2M363.43 344.71h1M365.43 344.71h1M367.43 344.71h3M371.44 344.71h1M374.44 344.71h2M377.45 344.71h3M382.45 344.71h2M393.46 344.71h3M398.47 344.71h2M401.47 344.71h1M407.48 344.71h1M412.49 344.71h2M415.49 344.71h1M418.49 344.71h1M420.49 344.71h1M247.3 354.53h6.01M254.31 354.53h3M259.31 354.53h3M265.32 354.53h5.01M271.33 354.53h4M276.33 354.53h3M280.34 354.53h4M285.34 354.53h1M288.35 354.53h3M293.35 354.53h2M305.37 354.53h2M308.37 354.53h1M315.38 354.53h1M317.38 354.53h2M321.38 354.53h2M325.39 354.53h2M328.39 354.53h2M332.4 354.53h2M336.4 354.53h1M342.41 354.53h1M350.42 354.53h2M353.42 354.53h1M355.42 354.53h1M360.43 354.53h1M364.43 354.53h2M369.44 354.53h1M371.44 354.53h1M377.45 354.53h2M381.45 354.53h1M388.46 354.53h1M391.46 354.53h4M396.47 354.53h1M399.47 354.53h2M405.48 354.53h1M408.48 354.53h2M412.49 354.53h2M416.49 354.53h1M419.49 354.53h2M422.5 354.53h3M382.45 364.37h3M387.46 364.37h1M392.46 364.37h4M397.47 364.37h3M401.47 364.37h2M404.48 364.37h2M409.48 364.37h2M412.49 364.37h4M417.49 364.37h1M419.49 364.37h1M422.5 364.37h2M276.33 374.19h1M278.33 374.19h1M280.34 374.19h3M284.34 374.19h2M288.35 374.19h1M290.35 374.19h1M292.35 374.19h1M296.36 374.19h2M299.36 374.19h2M303.36 374.19h4M308.37 374.19h2M311.37 374.19h1M313.37 374.19h1M315.38 374.19h1M317.38 374.19h2M320.38 374.19h1M322.38 374.19h1M325.39 374.19h2M328.39 374.19h5.01M335.4 374.19h2M338.4 374.19h7.01M346.41 374.19h2M349.41 374.19h4M356.42 374.19h1M361.43 374.19h4M366.43 374.19h1M370.44 374.19h3M374.44 374.19h1M377.45 374.19h1M380.45 374.19h4M388.46 374.19h1M390.46 374.19h4M398.47 374.19h6.01M406.48 374.19h5.01M412.49 374.19h8.01M422.5 374.19h1M247.3 384.02h1M249.3 384.02h1M251.3 384.02h1M256.31 384.02h1M258.31 384.02h1M261.32 384.02h1M263.32 384.02h12.01M280.34 384.02h5.01M289.35 384.02h1M291.35 384.02h4M296.36 384.02h1M300.36 384.02h2M304.36 384.02h3M311.37 384.02h2M314.38 384.02h1M321.38 384.02h1M323.39 384.02h1M325.39 384.02h1M327.39 384.02h1M330.39 384.02h3M335.4 384.02h1M337.4 384.02h2M340.4 384.02h3M349.41 384.02h1M353.42 384.02h2M356.42 384.02h1M360.43 384.02h1M363.43 384.02h2M371.44 384.02h2M376.44 384.02h2M383.45 384.02h1M391.46 384.02h2M395.47 384.02h1M398.47 384.02h2M403.48 384.02h3M407.48 384.02h1M409.48 384.02h2M412.49 384.02h4M418.49 384.02h5.01M424.5 384.02h1M250.3 393.86h1M254.31 393.86h8.01M263.32 393.86h2M266.32 393.86h4M271.33 393.86h4M280.34 393.86h3M285.34 393.86h1M291.35 393.86h1M295.35 393.86h1M299.36 393.86h1M305.37 393.86h2M308.37 393.86h1M311.37 393.86h1M313.37 393.86h2M317.38 393.86h1M322.38 393.86h1M324.39 393.86h5.01M330.39 393.86h3M334.4 393.86h4M341.41 393.86h2M348.41 393.86h2M351.42 393.86h3M355.42 393.86h1M357.42 393.86h1M361.43 393.86h1M364.43 393.86h3M370.44 393.86h1M374.44 393.86h1M376.44 393.86h2M380.45 393.86h2M385.46 393.86h1M387.46 393.86h1M389.46 393.86h1M393.46 393.86h3M397.47 393.86h2M400.47 393.86h2M404.48 393.86h5.01M412.49 393.86h2M417.49 393.86h1M423.5 393.86h1M271.33 403.69h1M279.34 403.69h1M281.34 403.69h3M285.34 403.69h2M288.35 403.69h2M292.35 403.69h1M294.35 403.69h1M298.36 403.69h3M303.36 403.69h1M306.37 403.69h1M311.37 403.69h3M316.38 403.69h1M321.38 403.69h2M325.39 403.69h4M330.39 403.69h4M335.4 403.69h4M341.41 403.69h1M344.41 403.69h1M346.41 403.69h1M349.41 403.69h1M352.42 403.69h2M355.42 403.69h1M360.43 403.69h1M369.44 403.69h5.01M377.45 403.69h2M382.45 403.69h1M387.46 403.69h3M392.46 403.69h3M396.47 403.69h1M399.47 403.69h1M402.47 403.69h5.01M408.48 403.69h1M412.49 403.69h2M415.49 403.69h1M418.49 403.69h1M420.49 403.69h2M423.5 403.69h2" stroke="#00000a"/><path d="M385.46 216.91h1M413.49 216.91h1M421.5 216.91h1M316.38 236.57h1M323.39 236.57h1M421.5 246.41h1M335.4 256.24h1M383.45 256.24h2M413.49 256.24h1M421.5 256.24h1M383.45 266.06h1M421.5 266.06h1M325.39 275.89h1M385.46 275.89h1M421.5 275.89h1M368.44 285.73h1M421.5 285.73h1M295.35 295.56h1M330.39 295.56h1M342.41 295.56h1M268.32 305.38h1M289.35 305.38h1M368.44 315.22h1M421.5 315.22h1M301.36 325.05h1M327.39 325.05h1M346.41 325.05h1M303.36 354.53h1M345.41 374.19h1M384.45 374.19h1M421.5 374.19h1M333.4 384.02h1M368.44 384.02h1M361.43 403.69h1M368.44 403.69h1" stroke="#464646"/><path d="M386.46 216.91h1M338.4 236.57h1M247.3 246.41h1M371.44 256.24h1M386.46 266.06h1M310.37 275.89h1M254.31 285.73h1M341.41 305.38h1M368.44 305.38h1M338.4 325.05h1M315.38 334.88h1M368.44 334.88h1M390.46 334.88h1M411.48 354.53h1M421.5 354.53h1M421.5 364.37h1M294.35 374.19h1M259.31 384.02h1M326.39 384.02h1M345.41 384.02h1M247.3 393.86h1M320.38 393.86h1M354.42 403.69h1" stroke="#505050"/><path d="M387.46 216.91h1M297.36 236.57h1M339.4 236.57h1M373.44 236.57h1M286.34 246.41h1M297.36 246.41h2M319.38 246.41h1M339.4 246.41h1M373.44 246.41h1M387.46 246.41h1M298.36 256.24h1M387.46 256.24h1M412.49 266.06h1M309.37 275.89h1M339.4 275.89h1M359.43 275.89h1M373.44 275.89h1M387.46 275.89h1M286.34 285.73h1M296.36 285.73h1M298.36 285.73h1M373.44 285.73h1M390.46 285.73h1M286.34 295.56h2M308.37 295.56h1M387.46 295.56h1M286.34 305.38h1M296.36 305.38h1M319.38 305.38h1M350.42 305.38h1M297.36 315.22h1M387.46 325.05h1M275.33 334.88h1M319.38 334.88h1M287.34 344.71h1M307.37 344.71h1M353.42 344.71h1M370.44 344.71h1M390.46 344.71h1M275.33 354.53h1M287.34 354.53h1M297.36 354.53h1M339.4 354.53h1M387.46 354.53h1M286.34 374.19h1M307.37 374.19h1M319.38 374.19h1M368.44 374.19h1M373.44 374.19h1M386.46 374.19h2M275.33 384.02h1M287.34 384.02h1M309.37 384.02h1M319.38 384.02h1M339.4 384.02h1M348.41 384.02h1M357.42 384.02h1M373.44 384.02h1M387.46 384.02h1M286.34 393.86h2M290.35 393.86h1M296.36 393.86h1M309.37 393.86h2M319.38 393.86h1M360.43 393.86h1M367.43 393.86h1M287.34 403.69h1M302.36 403.69h1M319.38 403.69h1" stroke="#323232"/><path d="M390.46 216.91h1M308.37 236.57h1M360.43 236.57h1M382.45 236.57h1M390.46 236.57h1M318.38 246.41h1M299.36 256.24h1M309.37 256.24h1M375.44 256.24h2M375.44 275.89h1M390.46 275.89h1M297.36 285.73h1M379.45 285.73h2M373.44 295.56h1M375.44 295.56h1M390.46 295.56h1M307.37 305.38h1M339.4 305.38h1M375.44 305.38h1M390.46 305.38h1M309.37 315.22h1M339.4 315.22h1M307.37 325.05h1M330.39 325.05h1M375.44 325.05h1M380.45 325.05h1M259.31 334.88h1M298.36 334.88h1M308.37 334.88h3M310.37 344.71h1M351.42 344.71h1M387.46 344.71h1M263.32 354.53h1M296.36 354.53h1M301.36 354.53h2M330.39 354.53h1M368.44 354.53h1M375.44 354.53h1M390.46 354.53h1M395.47 354.53h1M390.46 364.37h1M375.44 374.19h1M394.47 374.19h1M297.36 384.02h2M307.37 384.02h1M355.42 384.02h1M375.44 393.86h1M382.45 393.86h1M390.46 393.86h1M307.37 403.69h1M339.4 403.69h1M374.44 403.69h1M391.46 403.69h1" stroke="#282828"/><path d="M391.46 216.91h1M344.41 295.56h1M314.38 305.38h1M315.38 344.71h1M315.38 403.69h1" stroke="#140a14"/><path d="M396.47 216.91h2M396.47 226.75h1M289.35 236.57h1M324.39 236.57h1M342.41 236.57h1M348.41 236.57h1M363.43 236.57h1M367.43 236.57h1M371.44 236.57h1M379.45 236.57h1M277.33 246.41h2M302.36 246.41h2M312.37 246.41h1M314.38 246.41h1M323.39 246.41h2M363.43 246.41h1M366.43 246.41h2M376.44 246.41h1M396.47 246.41h1M276.33 256.24h1M279.34 256.24h1M286.34 256.24h1M302.36 256.24h1M306.37 256.24h1M312.37 256.24h1M324.39 256.24h1M396.47 256.24h1M417.49 256.24h1M390.46 266.06h1M396.47 266.06h2M324.39 275.89h1M376.44 275.89h1M276.33 285.73h1M279.34 285.73h1M289.35 285.73h1M291.35 285.73h1M299.36 285.73h1M301.36 285.73h1M316.38 285.73h1M322.38 285.73h1M340.4 285.73h1M359.43 285.73h1M376.44 285.73h1M387.46 285.73h1M396.47 285.73h1M279.34 295.56h1M303.36 295.56h1M316.38 295.56h1M324.39 295.56h1M334.4 295.56h1M359.43 295.56h1M367.43 295.56h1M372.44 295.56h1M376.44 295.56h1M383.45 295.56h1M412.49 295.56h1M276.33 305.38h1M279.34 305.38h1M290.35 305.38h1M301.36 305.38h1M303.36 305.38h1M309.37 305.38h1M316.38 305.38h1M326.39 305.38h2M366.43 305.38h2M371.44 305.38h1M396.47 305.38h2M323.39 315.22h2M344.41 315.22h1M347.41 315.22h1M362.43 315.22h1M367.43 315.22h1M387.46 315.22h1M396.47 315.22h1M413.49 315.22h1M309.37 325.05h1M324.39 325.05h1M359.43 325.05h1M364.43 325.05h1M366.43 325.05h2M385.46 325.05h1M280.34 334.88h1M302.36 334.88h2M311.37 334.88h2M322.38 334.88h2M347.41 334.88h1M359.43 334.88h1M396.47 334.88h1M419.49 334.88h1M421.5 334.88h1M290.35 344.71h1M303.36 344.71h1M305.37 344.71h1M316.38 344.71h1M323.39 344.71h2M366.43 344.71h1M376.44 344.71h1M396.47 344.71h2M279.34 354.53h1M284.34 354.53h1M291.35 354.53h1M298.36 354.53h1M312.37 354.53h1M316.38 354.53h1M323.39 354.53h2M338.4 354.53h1M347.41 354.53h1M376.44 354.53h1M388.46 364.37h2M289.35 374.19h1M291.35 374.19h1M301.36 374.19h2M324.39 374.19h1M367.43 374.19h1M376.44 374.19h1M396.47 374.19h2M276.33 384.02h2M303.36 384.02h1M324.39 384.02h1M346.41 384.02h1M359.43 384.02h1M366.43 384.02h2M390.46 384.02h1M397.47 384.02h1M276.33 393.86h2M279.34 393.86h1M301.36 393.86h2M304.36 393.86h1M307.37 393.86h1M312.37 393.86h1M316.38 393.86h1M323.39 393.86h1M338.4 393.86h1M347.41 393.86h1M358.42 393.86h1M362.43 393.86h1M388.46 393.86h1M422.5 393.86h1M291.35 403.69h1M301.36 403.69h1M323.39 403.69h2M366.43 403.69h2M376.44 403.69h1M395.47 403.69h1M397.47 403.69h1" stroke="#0a0a0a"/><path d="M400.47 216.91h3M404.48 216.91h1M406.48 216.91h2M409.48 216.91h1M415.49 216.91h4M424.5 216.91h1M397.47 226.75h3M403.48 226.75h1M405.48 226.75h1M407.48 226.75h2M410.48 226.75h1M414.49 226.75h1M416.49 226.75h4M422.5 226.75h1M424.5 226.75h1M351.42 236.57h1M353.42 236.57h1M355.42 236.57h1M364.43 236.57h1M368.44 236.57h1M370.44 236.57h1M378.45 236.57h1M383.45 236.57h1M391.46 236.57h1M394.47 236.57h1M397.47 236.57h1M401.47 236.57h3M405.48 236.57h3M410.48 236.57h1M416.49 236.57h1M418.49 236.57h3M423.5 236.57h2M269.32 246.41h1M280.34 246.41h1M285.34 246.41h1M300.36 246.41h1M310.37 246.41h1M321.38 246.41h2M327.39 246.41h1M331.39 246.41h2M337.4 246.41h2M345.41 246.41h2M352.42 246.41h1M355.42 246.41h1M358.42 246.41h1M360.43 246.41h2M365.43 246.41h1M374.44 246.41h1M382.45 246.41h1M391.46 246.41h1M405.48 246.41h1M407.48 246.41h4M415.49 246.41h1M419.49 246.41h1M422.5 246.41h3M294.35 256.24h1M313.37 256.24h1M316.38 256.24h1M319.38 256.24h1M325.39 256.24h2M334.4 256.24h1M339.4 256.24h2M347.41 256.24h1M349.41 256.24h2M353.42 256.24h1M360.43 256.24h1M368.44 256.24h2M377.45 256.24h2M390.46 256.24h1M394.47 256.24h1M397.47 256.24h1M399.47 256.24h1M401.47 256.24h3M406.48 256.24h1M410.48 256.24h1M416.49 256.24h1M422.5 256.24h1M403.48 266.06h3M407.48 266.06h1M409.48 266.06h2M415.49 266.06h1M417.49 266.06h1M419.49 266.06h1M422.5 266.06h1M424.5 266.06h1M348.41 275.89h1M353.42 275.89h1M356.42 275.89h1M362.43 275.89h1M368.44 275.89h3M372.44 275.89h1M381.45 275.89h1M386.46 275.89h1M392.46 275.89h1M395.47 275.89h1M400.47 275.89h3M404.48 275.89h1M406.48 275.89h1M415.49 275.89h1M418.49 275.89h2M282.34 285.73h1M313.37 285.73h1M315.38 285.73h1M319.38 285.73h3M326.39 285.73h1M328.39 285.73h1M335.4 285.73h1M347.41 285.73h1M350.42 285.73h1M354.42 285.73h1M361.43 285.73h2M364.43 285.73h1M372.44 285.73h1M378.45 285.73h1M385.46 285.73h1M398.47 285.73h1M400.47 285.73h3M404.48 285.73h1M406.48 285.73h1M409.48 285.73h2M417.49 285.73h1M420.49 285.73h1M422.5 285.73h1M424.5 285.73h1M312.37 295.56h1M317.38 295.56h1M325.39 295.56h1M329.39 295.56h1M338.4 295.56h1M341.41 295.56h1M348.41 295.56h1M352.42 295.56h1M361.43 295.56h1M364.43 295.56h2M368.44 295.56h2M381.45 295.56h2M392.46 295.56h1M398.47 295.56h1M401.47 295.56h3M405.48 295.56h1M407.48 295.56h1M409.48 295.56h1M414.49 295.56h4M422.5 295.56h3M281.34 305.38h2M299.36 305.38h1M312.37 305.38h2M325.39 305.38h1M328.39 305.38h1M342.41 305.38h1M348.41 305.38h2M352.42 305.38h3M360.43 305.38h1M362.43 305.38h2M373.44 305.38h1M380.45 305.38h1M382.45 305.38h1M391.46 305.38h1M394.47 305.38h1M405.48 305.38h3M409.48 305.38h2M415.49 305.38h1M418.49 305.38h1M420.49 305.38h1M338.4 315.22h1M345.41 315.22h1M349.41 315.22h1M351.42 315.22h3M355.42 315.22h2M360.43 315.22h1M378.45 315.22h1M381.45 315.22h1M388.46 315.22h1M390.46 315.22h1M392.46 315.22h1M399.47 315.22h3M403.48 315.22h2M406.48 315.22h2M410.48 315.22h1M414.49 315.22h4M419.49 315.22h2M422.5 315.22h1M352.42 325.05h1M360.43 325.05h1M362.43 325.05h1M372.44 325.05h1M381.45 325.05h1M391.46 325.05h1M406.48 325.05h3M418.49 325.05h3M271.33 334.88h1M276.33 334.88h1M282.34 334.88h2M288.35 334.88h1M313.37 334.88h1M318.38 334.88h1M321.38 334.88h1M324.39 334.88h2M328.39 334.88h2M334.4 334.88h1M336.4 334.88h1M338.4 334.88h1M340.4 334.88h1M342.41 334.88h1M348.41 334.88h1M351.42 334.88h2M354.42 334.88h2M361.43 334.88h1M364.43 334.88h1M372.44 334.88h1M384.45 334.88h2M391.46 334.88h1M395.47 334.88h1M398.47 334.88h2M401.47 334.88h1M404.48 334.88h1M408.48 334.88h2M414.49 334.88h4M422.5 334.88h3M317.38 344.71h1M321.38 344.71h1M329.39 344.71h2M334.4 344.71h1M337.4 344.71h1M340.4 344.71h2M348.41 344.71h1M350.42 344.71h1M355.42 344.71h2M361.43 344.71h1M364.43 344.71h1M380.45 344.71h2M391.46 344.71h2M400.47 344.71h1M402.47 344.71h5.01M408.48 344.71h3M414.49 344.71h1M416.49 344.71h2M419.49 344.71h1M421.5 344.71h4M270.33 354.53h1M292.35 354.53h1M299.36 354.53h2M309.37 354.53h1M313.37 354.53h1M327.39 354.53h1M334.4 354.53h2M337.4 354.53h1M341.41 354.53h1M349.41 354.53h1M352.42 354.53h1M354.42 354.53h1M356.42 354.53h1M358.42 354.53h1M361.43 354.53h2M366.43 354.53h1M372.44 354.53h1M374.44 354.53h1M380.45 354.53h1M382.45 354.53h1M397.47 354.53h2M401.47 354.53h4M406.48 354.53h2M410.48 354.53h1M414.49 354.53h2M417.49 354.53h2M400.47 364.37h1M403.48 364.37h1M406.48 364.37h3M416.49 364.37h1M418.49 364.37h1M420.49 364.37h1M424.5 364.37h1M316.38 374.19h1M327.39 374.19h1M337.4 374.19h1M354.42 374.19h2M358.42 374.19h1M360.43 374.19h1M395.47 374.19h1M404.48 374.19h2M420.49 374.19h1M423.5 374.19h2M288.35 384.02h1M290.35 384.02h1M308.37 384.02h1M313.37 384.02h1M317.38 384.02h2M322.38 384.02h1M328.39 384.02h1M336.4 384.02h1M347.41 384.02h1M351.42 384.02h2M358.42 384.02h1M361.43 384.02h2M369.44 384.02h2M375.44 384.02h1M378.45 384.02h1M381.45 384.02h2M384.45 384.02h1M393.46 384.02h1M400.47 384.02h3M406.48 384.02h1M408.48 384.02h1M416.49 384.02h2M423.5 384.02h1M288.35 393.86h1M292.35 393.86h1M294.35 393.86h1M300.36 393.86h1M321.38 393.86h1M329.39 393.86h1M339.4 393.86h2M346.41 393.86h1M350.42 393.86h1M354.42 393.86h1M356.42 393.86h1M363.43 393.86h1M369.44 393.86h1M371.44 393.86h2M378.45 393.86h1M386.46 393.86h1M392.46 393.86h1M399.47 393.86h1M402.47 393.86h2M409.48 393.86h2M414.49 393.86h3M418.49 393.86h4M424.5 393.86h1M318.38 403.69h1M340.4 403.69h1M342.41 403.69h1M348.41 403.69h1M350.42 403.69h1M358.42 403.69h1M362.43 403.69h2M365.43 403.69h1M375.44 403.69h1M390.46 403.69h1M398.47 403.69h1M400.47 403.69h2M407.48 403.69h1M409.48 403.69h2M414.49 403.69h1M416.49 403.69h2M419.49 403.69h1M422.5 403.69h1" stroke="#000000"/><path d="M411.48 216.91h1M387.46 236.57h1M389.46 236.57h1M307.37 246.41h1M325.39 246.41h1M411.48 246.41h1M308.37 256.24h1M317.38 256.24h1M320.38 256.24h1M346.41 256.24h1M373.44 256.24h1M387.46 266.06h1M411.48 266.06h1M355.42 275.89h1M411.48 275.89h1M248.3 285.73h1M261.32 285.73h1M356.42 285.73h1M382.45 285.73h1M301.36 295.56h1M306.37 295.56h1M354.42 295.56h1M247.3 305.38h1M284.34 305.38h1M300.36 305.38h1M311.37 305.38h1M392.46 305.38h1M357.42 315.22h1M291.35 325.05h1M368.44 325.05h1M411.48 325.05h1M247.3 334.88h1M357.42 334.88h1M394.47 334.88h1M362.43 344.71h1M411.48 344.71h1M340.4 354.53h1M357.42 354.53h1M384.45 354.53h1M357.42 374.19h1M411.48 374.19h1M286.34 384.02h1M315.38 384.02h1M334.4 384.02h1M350.42 384.02h1M380.45 384.02h1M396.47 384.02h1M411.48 384.02h1M265.32 393.86h1M318.38 393.86h1M368.44 393.86h1M320.38 403.69h1M334.4 403.69h1M357.42 403.69h1M383.45 403.69h1M411.48 403.69h1" stroke="#5a5a5a"/><path d="M247.3 226.75h1M247.3 266.06h1" stroke="#825a6e"/><path d="M248.3 226.75h1M258.31 226.75h1" stroke="#fa6e5a"/><path d="M249.3 226.75h1M263.32 266.06h1" stroke="#a04678"/><path d="M250.3 226.75h1M265.32 226.75h1M267.32 226.75h1" stroke="#dc466e"/><path d="M251.3 226.75h1M259.31 226.75h1M249.3 266.06h1" stroke="#dc4664"/><path d="M253.31 226.75h1" stroke="#963c78"/><path d="M254.31 226.75h1" stroke="#dc6e5a"/><path d="M257.31 226.75h1" stroke="#e6645a"/><path d="M261.32 226.75h1M274.33 266.06h1M277.33 364.37h1" stroke="#c83c78"/><path d="M263.32 226.75h1" stroke="#aa466e"/><path d="M266.32 226.75h1M278.33 226.75h1M282.34 226.75h1M252.31 266.06h1M262.32 266.06h1M264.32 266.06h1M276.33 266.06h2M279.34 266.06h1M254.31 364.37h1M260.31 364.37h1M265.32 364.37h1M267.32 364.37h1" stroke="#be3c78"/><path d="M275.33 226.75h1" stroke="#a0506e"/><path d="M279.34 226.75h1" stroke="#a03278"/><path d="M284.34 226.75h1" stroke="#6e506e"/><path d="M286.34 226.75h1" stroke="#825078"/><path d="M289.35 226.75h1M312.37 226.75h1" stroke="#5a1e82"/><path d="M293.35 226.75h1" stroke="#823c78"/><path d="M295.35 226.75h1M291.35 266.06h1" stroke="#6e3278"/><path d="M297.36 226.75h1" stroke="#64466e"/><path d="M298.36 226.75h1" stroke="#643278"/><path d="M308.37 226.75h1" stroke="#5a3278"/><path d="M319.38 226.75h1M341.41 226.75h1M314.38 266.06h1M336.4 266.06h1M255.31 315.22h1M255.31 325.05h1M260.31 325.05h1" stroke="#32146e"/><path d="M326.39 226.75h1M305.37 266.06h1M317.38 266.06h1" stroke="#3c1478"/><path d="M328.39 226.75h1M342.41 266.06h1M320.38 305.38h1" stroke="#5a5a64"/><path d="M329.39 226.75h1M339.4 364.37h1" stroke="#463264"/><path d="M335.4 226.75h1" stroke="#463c5a"/><path d="M342.41 226.75h1M253.31 236.57h1" stroke="#281e46"/><path d="M344.41 226.75h1M263.32 275.89h1M262.32 325.05h1M353.42 364.37h1" stroke="#322850"/><path d="M357.42 226.75h1M411.48 226.75h1M252.31 236.57h1M258.31 236.57h1M284.34 236.57h1M320.38 236.57h1M293.35 246.41h1M357.42 246.41h1M357.42 275.89h1M284.34 285.73h1M292.35 285.73h1M357.42 285.73h1M284.34 295.56h1M320.38 295.56h1M328.39 295.56h1M303.36 315.22h1M261.32 325.05h1M293.35 334.88h1M284.34 344.71h1M326.39 344.71h1M320.38 354.53h1M391.46 364.37h1M411.48 364.37h1M353.42 374.19h1M320.38 384.02h1M275.33 393.86h1M284.34 393.86h1M293.35 393.86h1M359.43 403.69h1M380.45 403.69h2" stroke="#646464"/><path d="M372.44 226.75h1M352.42 266.06h1M271.33 315.22h1" stroke="#1e1432"/><path d="M375.44 226.75h1" stroke="#281e32"/><path d="M379.45 226.75h1M384.45 226.75h1M294.35 236.57h2M311.37 236.57h1M319.38 236.57h1M294.35 246.41h1M330.39 246.41h1M333.4 246.41h1M394.47 246.41h1M254.31 256.24h1M329.39 256.24h1M338.4 256.24h1M386.46 256.24h1M379.45 266.06h1M287.34 275.89h1M264.32 285.73h1M295.35 285.73h1M337.4 285.73h1M358.42 285.73h1M386.46 285.73h1M258.31 295.56h1M386.46 295.56h1M295.35 305.38h1M343.41 305.38h1M386.46 305.38h1M300.36 315.22h1M311.37 315.22h1M346.41 315.22h1M296.36 325.05h1M311.37 325.05h1M314.38 325.05h1M318.38 325.05h1M386.46 325.05h1M295.35 334.88h1M295.35 344.71h1M311.37 344.71h1M386.46 344.71h1M253.31 354.53h1M257.31 354.53h1M295.35 354.53h1M331.39 354.53h1M386.46 354.53h1M379.45 364.37h1M295.35 374.19h1M253.31 384.02h2M295.35 384.02h1M365.43 384.02h1M386.46 384.02h1M253.31 393.86h1M295.35 403.69h1M317.38 403.69h1M386.46 403.69h1" stroke="#14141e"/><path d="M383.45 226.75h1M328.39 236.57h1M248.3 256.24h1M321.38 256.24h1M383.45 285.73h1M323.39 295.56h1M333.4 315.22h1M384.45 325.05h1M348.41 354.53h1M361.43 364.37h1M369.44 374.19h1M385.46 374.19h1M384.45 393.86h1M250.3 403.69h1M262.32 403.69h1" stroke="#3c3c46"/><path d="M387.46 226.75h1M390.46 226.75h1M307.37 236.57h1M375.44 236.57h1M308.37 246.41h1M390.46 246.41h1M275.33 256.24h1M307.37 256.24h1M375.44 266.06h1M296.36 275.89h1M319.38 275.89h1M328.39 275.89h1M308.37 285.73h1M310.37 285.73h1M339.4 285.73h1M298.36 295.56h1M307.37 295.56h1M310.37 295.56h1M275.33 305.38h1M297.36 305.38h1M284.34 315.22h1M308.37 315.22h1M310.37 315.22h1M310.37 325.05h1M390.46 325.05h1M263.32 334.88h1M287.34 334.88h1M296.36 334.88h1M307.37 334.88h1M339.4 334.88h1M387.46 334.88h1M297.36 344.71h1M308.37 344.71h1M339.4 344.71h1M352.42 344.71h1M286.34 354.53h1M310.37 374.19h1M260.31 384.02h1M310.37 384.02h1M297.36 393.86h1M296.36 403.69h1M308.37 403.69h3" stroke="#282832"/><path d="M389.46 226.75h1M315.38 236.57h1M380.45 236.57h1M386.46 236.57h1M253.31 246.41h2M311.37 256.24h1M314.38 275.89h1M367.43 275.89h1M256.31 285.73h1M258.31 285.73h1M311.37 285.73h1M314.38 285.73h1M324.39 285.73h1M334.4 285.73h1M384.45 285.73h1M408.48 285.73h1M299.36 295.56h1M311.37 295.56h1M314.38 295.56h2M421.5 295.56h1M315.38 305.38h1M314.38 315.22h2M330.39 315.22h1M337.4 315.22h1M374.44 315.22h1M386.46 315.22h1M339.4 325.05h1M376.44 325.05h1M397.47 325.05h1M254.31 334.88h1M266.32 334.88h1M314.38 334.88h1M356.42 334.88h1M386.46 334.88h1M299.36 344.71h1M314.38 344.71h1M304.36 354.53h1M310.37 354.53h2M314.38 354.53h1M319.38 354.53h1M346.41 354.53h1M385.46 354.53h1M314.38 374.19h1M257.31 384.02h1M279.34 384.02h1M302.36 384.02h1M316.38 384.02h1M388.46 384.02h1M394.47 384.02h1M315.38 393.86h1M297.36 403.69h1M304.36 403.69h2M314.38 403.69h1M385.46 403.69h1" stroke="#141414"/><path d="M247.3 236.57h1" stroke="#5a5a6e"/><path d="M250.3 236.57h1M328.39 266.06h1M256.31 275.89h2M264.32 325.05h1" stroke="#281464"/><path d="M254.31 236.57h1" stroke="#321e5a"/><path d="M263.32 236.57h1M288.35 275.89h1M255.31 295.56h1M257.31 295.56h1M262.32 315.22h1" stroke="#28283c"/><path d="M281.34 236.57h1M363.43 266.06h1M293.35 305.38h1M303.36 325.05h1M370.44 364.37h1M411.48 393.86h1M284.34 403.69h1" stroke="#464650"/><path d="M287.34 236.57h1M333.4 236.57h1M344.41 236.57h1M385.46 236.57h1M409.48 236.57h1M353.42 246.41h1M372.44 246.41h1M384.45 246.41h2M333.4 256.24h1M377.45 266.06h1M333.4 275.89h1M383.45 275.89h2M333.4 285.73h1M346.41 285.73h1M337.4 295.56h1M384.45 295.56h2M411.48 295.56h1M310.37 305.38h1M333.4 305.38h1M374.44 305.38h1M384.45 305.38h2M379.45 315.22h1M383.45 315.22h3M373.44 325.05h1M284.34 334.88h1M333.4 334.88h1M373.44 334.88h1M333.4 344.71h1M373.44 344.71h1M384.45 344.71h1M258.31 354.53h1M370.44 354.53h1M383.45 354.53h1M385.46 364.37h1M378.45 374.19h1M374.44 384.02h1M385.46 384.02h1M283.34 393.86h1M333.4 393.86h1M373.44 393.86h1M383.45 393.86h1M391.46 393.86h1M356.42 403.69h1M384.45 403.69h1" stroke="#3c3c3c"/><path d="M347.41 236.57h1M253.31 256.24h1M332.4 256.24h1M414.49 256.24h1M376.44 266.06h1M263.32 285.73h1M363.43 295.56h1M378.45 295.56h1M289.35 315.22h1M318.38 315.22h1M343.41 315.22h1M375.44 315.22h1M295.35 325.05h1M319.38 325.05h1M357.42 325.05h1M263.32 374.19h1M269.32 374.19h1M396.47 393.86h1" stroke="#1e1e28"/><path d="M422.5 236.57h1M316.38 246.41h1M323.39 256.24h1M278.33 285.73h1M362.43 295.56h1M277.33 334.88h1M363.43 354.53h1M278.33 393.86h1M290.35 403.69h1M347.41 403.69h1" stroke="#0a000a"/><path d="M262.32 246.41h2M276.33 246.41h1M284.34 246.41h1M350.42 246.41h1M356.42 246.41h1M263.32 256.24h1M356.42 256.24h2M364.43 256.24h1M398.47 256.24h1M327.39 285.73h1M355.42 295.56h1M366.43 295.56h1M263.32 305.38h1M376.44 305.38h1M365.43 315.22h1M343.41 325.05h1M369.44 334.88h1M380.45 334.88h1M357.42 344.71h1M372.44 344.71h1M262.32 354.53h1M307.37 354.53h1M298.36 374.19h1M323.39 374.19h1M334.4 374.19h1M262.32 384.02h1M299.36 384.02h1M329.39 384.02h1M262.32 393.86h1M270.33 393.86h1M289.35 393.86h1M298.36 393.86h1M364.43 403.69h1" stroke="#1e1e1e"/><path d="M374.44 256.24h1" stroke="#322832"/><path d="M250.3 266.06h1" stroke="#fa785a"/><path d="M253.31 266.06h1" stroke="#d25a64"/><path d="M254.31 266.06h1" stroke="#a03c78"/><path d="M271.33 266.06h1M295.35 266.06h1" stroke="#8c3c78"/><path d="M286.34 266.06h1" stroke="#8c5078"/><path d="M293.35 266.06h1M247.3 315.22h1M248.3 325.05h1" stroke="#6e5a6e"/><path d="M294.35 266.06h1M253.31 275.89h1M310.37 364.37h1" stroke="#5a2878"/><path d="M301.36 266.06h1" stroke="#642878"/><path d="M311.37 266.06h1" stroke="#6e2878"/><path d="M319.38 266.06h1M319.38 364.37h1M333.4 364.37h1M341.41 364.37h1" stroke="#503c64"/><path d="M327.39 266.06h1M251.3 325.05h1" stroke="#5a506e"/><path d="M334.4 266.06h1" stroke="#46286e"/><path d="M337.4 266.06h1" stroke="#3c2864"/><path d="M340.4 266.06h1" stroke="#5a5064"/><path d="M341.41 266.06h1" stroke="#3c325a"/><path d="M345.41 266.06h1" stroke="#282846"/><path d="M359.43 266.06h1M271.33 275.89h1" stroke="#323246"/><path d="M268.32 275.89h1" stroke="#463c50"/><path d="M275.33 275.89h1M368.44 364.37h1" stroke="#3c3c50"/><path d="M278.33 275.89h1M278.33 315.22h1M253.31 344.71h1" stroke="#140a28"/><path d="M291.35 275.89h1M262.32 344.71h1M253.31 374.19h2M262.32 374.19h1M253.31 403.69h1" stroke="#1e1e32"/><path d="M331.39 285.73h1M293.35 295.56h1M357.42 295.56h1M360.43 344.71h1M373.44 354.53h1M351.42 364.37h1M247.3 374.19h1M293.35 374.19h1" stroke="#50505a"/><path d="M254.31 315.22h1" stroke="#3c285a"/><path d="M332.4 315.22h1M411.48 315.22h1" stroke="#5a505a"/><path d="M256.31 325.05h1" stroke="#503c6e"/><path d="M385.46 344.71h1" stroke="#463c46"/><path d="M251.3 364.37h1" stroke="#f06e5a"/><path d="M252.31 364.37h1M259.31 364.37h1" stroke="#dc5064"/><path d="M253.31 364.37h1" stroke="#dc6464"/><path d="M258.31 364.37h1M276.33 364.37h1" stroke="#c8466e"/><path d="M261.32 364.37h1" stroke="#f05a5a"/><path d="M263.32 364.37h1" stroke="#e65a64"/><path d="M279.34 364.37h1" stroke="#823278"/><path d="M281.34 364.37h1" stroke="#b43c78"/><path d="M283.34 364.37h1" stroke="#96506e"/><path d="M290.35 364.37h1M295.35 364.37h1" stroke="#823282"/><path d="M307.37 364.37h1" stroke="#783c78"/><path d="M314.38 364.37h1" stroke="#642882"/><path d="M342.41 364.37h1" stroke="#645a64"/><path d="M263.32 403.69h1" stroke="#0a001e"/></g>
<rect x="443.3" y="212" width="178.7" height="196.6" fill="#1a1a1a"/>
<g fill="none" stroke-width="10.13" shape-rendering="crispEdges"><path d="M443.3 216.91h1" stroke="#643c82"/><path d="M444.3 216.91h1M448.29 216.91h1M448.29 266.06h1" stroke="#6e5a82"/><path d="M445.3 216.91h1M452.28 364.37h1" stroke="#502878"/><path d="M446.29 216.91h1" stroke="#3c146e"/><path d="M447.29 216.91h1" stroke="#321464"/><path d="M449.29 216.91h1" stroke="#646478"/><path d="M450.29 216.91h1M545.13 216.91h1M561.1 216.91h1M570.09 216.91h1M588.06 216.91h1M614.01 216.91h1M619.01 216.91h1M533.15 226.75h1M566.09 226.75h1M604.03 226.75h1M608.02 226.75h1M614.01 226.75h1M532.15 246.41h1M554.11 246.41h1M563.1 246.41h1M593.05 246.41h1M449.29 256.24h1M455.28 256.24h1M526.16 256.24h1M550.12 256.24h1M559.11 256.24h1M570.09 256.24h1M590.05 256.24h2M595.05 256.24h1M598.04 256.24h1M603.03 256.24h1M618.01 256.24h1M464.26 266.06h1M472.25 266.06h1M533.15 266.06h1M554.11 266.06h1M556.11 266.06h1M582.07 266.06h1M590.05 266.06h1M593.05 266.06h1M604.03 266.06h1M616.01 266.06h1M619.01 266.06h1M461.27 275.89h1M502.2 275.89h1M532.15 275.89h1M542.13 275.89h1M545.13 275.89h1M573.08 275.89h1M582.07 275.89h1M591.05 275.89h1M617.01 275.89h1M619.01 275.89h1M493.22 305.38h1M544.13 305.38h1M582.07 305.38h1M590.05 305.38h2M502.2 315.22h1M545.13 315.22h1M566.09 315.22h1M570.09 315.22h1M573.08 315.22h1M590.05 315.22h1M604.03 315.22h1M617.01 315.22h1M545.13 325.05h1M570.09 325.05h1M591.05 325.05h1M617.01 325.05h2M464.26 334.88h1M485.23 334.88h1M532.15 334.88h1M566.09 334.88h1M591.05 334.88h1M593.05 334.88h1M595.05 334.88h1M618.01 334.88h2M503.2 344.71h1M531.15 344.71h1M550.12 344.71h1M582.07 344.71h1M595.05 344.71h1M598.04 344.71h1M606.03 344.71h1M614.01 344.71h1M618.01 344.71h1M461.27 354.53h1M545.13 354.53h1M590.05 354.53h1M595.05 354.53h1M617.01 354.53h1M461.27 374.19h1M570.09 374.19h1M590.05 374.19h1M607.03 374.19h1M617.01 374.19h2.99M457.28 384.02h1M459.27 384.02h1M464.26 384.02h1M503.2 384.02h1M566.09 384.02h1M573.08 384.02h1M595.05 384.02h1M604.03 384.02h1M619.01 384.02h1M472.25 393.86h1M545.13 393.86h1M550.12 393.86h1M570.09 393.86h1M572.08 393.86h1M593.05 393.86h1M619.01 393.86h1M554.11 403.69h1M573.08 403.69h1M590.05 403.69h2.99M604.03 403.69h1M608.02 403.69h1M617.01 403.69h1" stroke="#828282"/><path d="M451.29 216.91h1M463.27 226.75h1M591.05 226.75h1M595.05 246.41h1M457.28 266.06h1M599.04 266.06h1M571.09 275.89h1M586.06 275.89h1M590.05 325.05h1M604.03 344.71h1" stroke="#787882"/><path d="M452.28 216.91h1M461.27 226.75h1M452.28 266.06h1" stroke="#5a5a6e"/><path d="M453.28 216.91h1" stroke="#503c64"/><path d="M454.28 216.91h1M456.28 226.75h1M446.29 266.06h1" stroke="#463c64"/><path d="M455.28 216.91h2M443.3 315.22h1" stroke="#463c5a"/><path d="M457.28 216.91h1M466.26 226.75h1M472.25 226.75h1M447.29 315.22h1M453.28 325.05h1" stroke="#3c3c50"/><path d="M458.27 216.91h1M447.29 275.89h1" stroke="#140a32"/><path d="M459.27 216.91h1M467.26 226.75h1M443.3 256.24h1M466.26 266.06h1M454.28 275.89h1M472.25 364.37h1" stroke="#323246"/><path d="M460.27 216.91h1M472.25 216.91h1M475.25 216.91h1M523.17 216.91h1M529.16 216.91h1M533.15 216.91h1M550.12 216.91h1M554.11 216.91h1M565.1 216.91h2M573.08 216.91h1M590.05 216.91h1M595.05 216.91h1M604.03 216.91h1M615.01 216.91h2.99M620 216.91h2M493.22 226.75h1M496.21 226.75h2.99M531.15 226.75h1M550.12 226.75h1M554.11 226.75h1M562.1 226.75h1M565.1 226.75h1M582.07 226.75h1M593.05 226.75h1M603.03 226.75h1M605.03 226.75h1M617.01 226.75h1M619.01 226.75h2M554.11 236.57h1M464.26 246.41h1M493.22 246.41h1M495.21 246.41h1M498.21 246.41h1M502.2 246.41h1M545.13 246.41h1M549.12 246.41h1M556.11 246.41h1M566.09 246.41h1M570.09 246.41h1M582.07 246.41h1M586.06 246.41h1M591.05 246.41h1M596.04 246.41h1M604.03 246.41h1M618.01 246.41h1M472.25 256.24h1M482.23 256.24h1M531.15 256.24h2.99M562.1 256.24h1M566.09 256.24h1M614.01 256.24h1M616.01 256.24h1M461.27 266.06h1M502.2 266.06h1M515.18 266.06h1M523.17 266.06h1M550.12 266.06h1M557.11 266.06h1M562.1 266.06h1M570.09 266.06h1M594.05 266.06h1M617.01 266.06h2M464.26 275.89h1M475.25 275.89h1M487.23 275.89h1M494.21 275.89h1M498.21 275.89h1M500.2 275.89h1M524.16 275.89h1M554.11 275.89h1M556.11 275.89h1M566.09 275.89h1M594.05 275.89h1M604.03 275.89h1M618.01 275.89h1M461.27 305.38h1M502.2 305.38h1M513.18 305.38h1M545.13 305.38h1M554.11 305.38h1M570.09 305.38h2M578.07 305.38h1M594.05 305.38h1M617.01 305.38h1M619.01 305.38h1M464.26 315.22h1M491.22 315.22h1M493.22 315.22h1M513.18 315.22h1M533.15 315.22h1M554.11 315.22h1M569.09 315.22h1M578.07 315.22h1M595.05 315.22h1M598.04 315.22h1M620 315.22h2M460.27 325.05h2M490.22 325.05h1M497.21 325.05h2M502.2 325.05h1M523.17 325.05h1M531.15 325.05h1M549.12 325.05h2M568.09 325.05h1M574.08 325.05h1M581.07 325.05h1M600.04 325.05h1M604.03 325.05h1M614.01 325.05h2M619.01 325.05h1M461.27 334.88h1M475.25 334.88h1M498.21 334.88h1M523.17 334.88h1M554.11 334.88h2M571.09 334.88h1M573.08 334.88h1M621 334.88h1M466.26 344.71h1M478.24 344.71h1M498.21 344.71h1M565.1 344.71h1M573.08 344.71h1M617.01 344.71h1M464.26 354.53h1M491.22 354.53h1M502.2 354.53h1M508.19 354.53h1M531.15 354.53h1M533.15 354.53h1M554.11 354.53h1M562.1 354.53h1M573.08 354.53h1M589.06 354.53h1M593.05 354.53h1M614.01 354.53h1M616.01 354.53h1M619.01 354.53h1M621 354.53h1M447.29 374.19h1M451.29 374.19h1M531.15 374.19h1M542.13 374.19h1M545.13 374.19h1M547.13 374.19h1M550.12 374.19h1M553.12 374.19h2M591.05 374.19h1M593.05 374.19h1M598.04 374.19h1M616.01 374.19h1M621 374.19h1M460.27 384.02h2M472.25 384.02h1M498.21 384.02h1M509.19 384.02h1M545.13 384.02h1M550.12 384.02h1M560.1 384.02h1M590.05 384.02h1M608.02 384.02h1M614.01 384.02h1M618.01 384.02h1M449.29 393.86h1M461.27 393.86h1M464.26 393.86h1M493.22 393.86h1M502.2 393.86h1M525.16 393.86h1M554.11 393.86h1M562.1 393.86h1M565.1 393.86h1M590.05 393.86h1M595.05 393.86h1M597.04 393.86h1M604.03 393.86h2M614.01 393.86h1M621 393.86h1M496.21 403.69h1M499.21 403.69h1M502.2 403.69h1M549.12 403.69h2M552.12 403.69h1M560.1 403.69h1M562.1 403.69h1M566.09 403.69h1M580.07 403.69h1M593.05 403.69h2M616.01 403.69h1M619.01 403.69h1" stroke="#787878"/><path d="M461.27 216.91h1M595.05 325.05h1M616.01 384.02h1" stroke="#82828c"/><path d="M462.27 216.91h1M445.3 315.22h1M467.26 364.37h1" stroke="#1e1e3c"/><path d="M463.27 216.91h1M466.26 364.37h1" stroke="#1e1432"/><path d="M464.26 216.91h1M468.26 226.75h1M459.27 266.06h1M463.27 364.37h1" stroke="#141432"/><path d="M465.26 216.91h1M468.26 216.91h1M470.25 226.75h1M445.3 275.89h1M457.28 325.05h1M477.24 364.37h1M445.3 403.69h1" stroke="#1e1e32"/><path d="M466.26 216.91h1M500.2 216.91h1M518.17 226.75h1M471.25 236.57h1M501.2 236.57h1M504.2 236.57h1M524.16 236.57h1M547.13 236.57h1M571.09 236.57h1M597.04 236.57h1M617.01 236.57h1M509.19 246.41h1M456.28 256.24h1M503.2 256.24h1M509.19 256.24h1M549.12 256.24h1M483.23 266.06h1M509.19 266.06h2M529.16 266.06h1M612.02 266.06h1M457.28 275.89h1M549.12 275.89h1M597.04 275.89h1M466.26 285.73h1M473.25 285.73h1M498.21 285.73h2M571.09 285.73h1M444.3 295.56h1M499.21 295.56h1M546.13 295.56h1M588.06 295.56h1M600.04 295.56h1M608.02 295.56h1M454.28 315.22h2M589.06 315.22h1M455.28 325.05h1M458.27 325.05h1M476.24 325.05h1M508.19 325.05h1M552.12 325.05h1M621 325.05h1M454.28 334.88h1M511.19 334.88h1M518.17 334.88h1M458.27 354.53h1M488.22 354.53h1M550.12 354.53h1M568.09 354.53h1M498.21 364.37h1M593.05 364.37h1M529.16 374.19h1M552.12 374.19h1M458.27 384.02h1M520.17 384.02h1M541.14 384.02h1M552.12 384.02h1M611.02 384.02h1M509.19 393.86h2M529.16 393.86h1M453.28 403.69h2M568.09 403.69h2" stroke="#3c3c46"/><path d="M467.26 216.91h1M476.24 216.91h1M491.22 216.91h1M518.17 216.91h2M521.17 226.75h1M542.13 226.75h1M571.09 226.75h1M509.19 236.57h1M569.09 236.57h1M614.01 236.57h1M481.24 246.41h1M514.18 246.41h1M613.02 246.41h1M459.27 256.24h1M465.26 256.24h1M467.26 256.24h1M514.18 256.24h1M602.03 256.24h1M613.02 256.24h1M467.26 266.06h1M498.21 266.06h2M518.17 266.06h2M455.28 275.89h1M488.22 275.89h1M568.09 275.89h1M452.28 285.73h1M476.24 285.73h1M485.23 285.73h1M500.2 285.73h1M506.19 285.73h1M531.15 285.73h1M476.24 295.56h1M506.19 295.56h1M543.13 295.56h1M612.02 295.56h1M455.28 305.38h1M511.19 305.38h1M519.17 305.38h1M555.11 305.38h1M457.28 315.22h1M459.27 315.22h1M467.26 315.22h1M592.05 315.22h1M609.02 315.22h1M466.26 325.05h1M471.25 325.05h2M487.23 325.05h1M543.13 325.05h1M620 325.05h1M505.2 334.88h1M530.15 334.88h1M552.12 334.88h1M592.05 334.88h1M568.09 344.71h1M581.07 344.71h1M592.05 344.71h1M455.28 354.53h2M555.11 354.53h1M494.21 364.37h1M562.1 364.37h1M573.08 364.37h1M456.28 374.19h1M464.26 374.19h1M518.17 374.19h1M455.28 384.02h1M568.09 384.02h2M617.01 384.02h1M453.28 393.86h1M466.26 393.86h1M456.28 403.69h1M518.17 403.69h2M570.09 403.69h1M595.05 403.69h1M607.03 403.69h1" stroke="#32323c"/><path d="M469.26 216.91h2M490.22 216.91h1M558.11 216.91h1M598.04 216.91h1M486.23 226.75h1M557.11 226.75h1M559.11 226.75h1M561.1 226.75h1M594.05 226.75h1M482.23 236.57h1M489.22 236.57h1M559.11 236.57h1M480.24 246.41h1M486.23 246.41h1M490.22 246.41h1M512.18 246.41h1M530.15 246.41h1M558.11 246.41h2M565.1 246.41h1M577.08 246.41h1M468.26 256.24h1M474.25 256.24h1M486.23 256.24h1M489.22 256.24h1M512.18 256.24h1M530.15 256.24h1M474.25 266.06h1M480.24 266.06h1M486.23 266.06h1M530.15 266.06h1M558.11 266.06h2M468.26 275.89h1M486.23 275.89h1M512.18 275.89h1M514.18 275.89h1M530.15 275.89h1M559.11 275.89h1M454.28 285.73h1M463.27 285.73h1M480.24 285.73h1M489.22 285.73h2M517.18 285.73h1M530.15 285.73h1M578.07 285.73h1M463.27 295.56h1M467.26 295.56h1M482.23 295.56h1M517.18 295.56h1M520.17 295.56h1M560.1 295.56h2M578.07 295.56h1M607.03 295.56h1M611.02 295.56h1M482.23 305.38h1M486.23 305.38h1M489.22 305.38h2M499.21 305.38h1M512.18 305.38h1M530.15 305.38h1M558.11 305.38h2M585.06 305.38h1M468.26 315.22h1M480.24 315.22h1M486.23 315.22h1M512.18 315.22h1M558.11 315.22h2M596.04 315.22h1M483.23 325.05h1M486.23 325.05h1M489.22 325.05h1M512.18 325.05h1M558.11 325.05h2M486.23 334.88h1M558.11 334.88h2M480.24 344.71h1M486.23 344.71h1M490.22 344.71h1M497.21 344.71h1M512.18 344.71h1M558.11 344.71h2M585.06 344.71h1M486.23 354.53h1M489.22 354.53h1M530.15 354.53h1M558.11 354.53h2M480.24 364.37h1M482.23 364.37h1M484.23 364.37h1M488.22 364.37h2M503.2 364.37h1M516.18 364.37h1M523.17 364.37h1M548.12 364.37h1M555.11 364.37h1M576.08 364.37h1M598.04 364.37h2M618.01 364.37h1M476.24 374.19h1M494.21 374.19h1M510.19 374.19h1M558.11 374.19h1M480.24 384.02h1M486.23 384.02h1M490.22 384.02h1M512.18 384.02h1M530.15 384.02h1M558.11 384.02h1M486.23 393.86h1M490.22 393.86h1M512.18 393.86h1M530.15 393.86h1M535.15 393.86h1M558.11 393.86h2M465.26 403.69h1M467.26 403.69h1M483.23 403.69h1M486.23 403.69h1M489.22 403.69h2M492.22 403.69h1M498.21 403.69h1M512.18 403.69h1M558.11 403.69h1" stroke="#0a0a14"/><path d="M471.25 216.91h1M470.25 266.06h2M452.28 403.69h1" stroke="#000014"/><path d="M473.25 216.91h1M481.24 216.91h1M492.22 216.91h1M513.18 216.91h1M525.16 216.91h1M544.13 216.91h1M559.11 216.91h1M567.09 216.91h1M583.07 216.91h1M593.05 216.91h1M603.03 216.91h1M477.24 226.75h1M512.18 226.75h1M522.17 226.75h1M530.15 226.75h1M543.13 226.75h1M555.11 226.75h1M567.09 226.75h1M583.07 226.75h1M595.05 226.75h1M606.03 226.75h1M609.02 226.75h1M621 226.75h1M461.27 236.57h1M495.21 236.57h2M531.15 236.57h2.99M555.11 236.57h1M560.1 236.57h1M590.05 236.57h1M594.05 236.57h2M615.01 236.57h2M619.01 236.57h2M449.29 246.41h1M479.24 246.41h1M491.22 246.41h1M525.16 246.41h1M544.13 246.41h1M551.12 246.41h1M567.09 246.41h1M583.07 246.41h1M588.06 246.41h1M603.03 246.41h1M460.27 256.24h1M464.26 256.24h1M471.25 256.24h1M476.24 256.24h1M496.21 256.24h1M501.2 256.24h1M543.13 256.24h1M548.12 256.24h1M572.08 256.24h1M580.07 256.24h1M583.07 256.24h1M596.04 256.24h1M600.04 256.24h1M620 256.24h1M477.24 266.06h2M491.22 266.06h1M495.21 266.06h1M525.16 266.06h1M527.16 266.06h1M563.1 266.06h1M565.1 266.06h1M574.08 266.06h1M581.07 266.06h1M583.07 266.06h1M588.06 266.06h1M591.05 266.06h1M601.04 266.06h1M603.03 266.06h1M605.03 266.06h1M610.02 266.06h1M450.29 275.89h1M463.27 275.89h1M478.24 275.89h2M481.24 275.89h1M491.22 275.89h1M513.18 275.89h1M521.17 275.89h1M551.12 275.89h1M603.03 275.89h1M609.02 275.89h1M464.26 285.73h1M472.25 285.73h1M475.25 285.73h1M540.14 285.73h1M553.12 285.73h2M573.08 285.73h1M591.05 285.73h1M593.05 285.73h1M595.05 285.73h2M618.01 285.73h2M621 285.73h1M532.15 295.56h1M573.08 295.56h1M450.29 305.38h1M460.27 305.38h1M476.24 305.38h1M479.24 305.38h1M491.22 305.38h1M494.21 305.38h1M501.2 305.38h1M563.1 305.38h1M580.07 305.38h2M603.03 305.38h1M605.03 305.38h1M609.02 305.38h1M466.26 315.22h1M477.24 315.22h2.99M492.22 315.22h1M498.21 315.22h1M567.09 315.22h1M580.07 315.22h2M594.05 315.22h1M599.04 315.22h1M610.02 315.22h1M456.28 325.05h1M479.24 325.05h1M495.21 325.05h2M501.2 325.05h1M503.2 325.05h1M505.2 325.05h1M511.19 325.05h1M522.17 325.05h1M567.09 325.05h1M572.08 325.05h1M603.03 325.05h1M610.02 325.05h1M448.29 334.88h1M458.27 334.88h1M465.26 334.88h1M472.25 334.88h1M477.24 334.88h1M492.22 334.88h2M512.18 334.88h1M551.12 334.88h1M553.12 334.88h1M565.1 334.88h1M572.08 334.88h1M577.08 334.88h1M580.07 334.88h2M590.05 334.88h1M594.05 334.88h1M596.04 334.88h1M609.02 334.88h1M449.29 344.71h1M460.27 344.71h1M488.22 344.71h1M491.22 344.71h2.99M496.21 344.71h1M501.2 344.71h1M522.17 344.71h2M544.13 344.71h1M556.11 344.71h1M567.09 344.71h1M574.08 344.71h1M580.07 344.71h1M591.05 344.71h1M600.04 344.71h1M603.03 344.71h1M605.03 344.71h1M615.01 344.71h1M619.01 344.71h1M621 344.71h1M444.3 354.53h1M481.24 354.53h1M493.22 354.53h1M501.2 354.53h1M510.19 354.53h1M544.13 354.53h1M553.12 354.53h1M572.08 354.53h1M580.07 354.53h1M594.05 354.53h1M598.04 354.53h1M602.03 354.53h1M610.02 354.53h1M615.01 354.53h1M460.27 374.19h1M477.24 374.19h1M481.24 374.19h1M491.22 374.19h1M496.21 374.19h1M513.18 374.19h1M522.17 374.19h1M563.1 374.19h1M565.1 374.19h1M567.09 374.19h1M603.03 374.19h2M610.02 374.19h1M615.01 374.19h1M448.29 384.02h1M475.25 384.02h1M478.24 384.02h1M492.22 384.02h1M494.21 384.02h2.99M523.17 384.02h1M580.07 384.02h1M594.05 384.02h1M598.04 384.02h1M603.03 384.02h1M609.02 384.02h1M615.01 384.02h1M620 384.02h1M475.25 393.86h2M491.22 393.86h2M498.21 393.86h1M505.2 393.86h1M518.17 393.86h1M522.17 393.86h1M543.13 393.86h1M551.12 393.86h1M553.12 393.86h1M567.09 393.86h1M574.08 393.86h1M594.05 393.86h1M603.03 393.86h1M609.02 393.86h1M612.02 393.86h1M448.29 403.69h1M461.27 403.69h1M471.25 403.69h1M476.24 403.69h1M478.24 403.69h1M495.21 403.69h1M501.2 403.69h1M525.16 403.69h1M559.11 403.69h1M563.1 403.69h1M583.07 403.69h1M605.03 403.69h1M621 403.69h1" stroke="#646464"/><path d="M474.25 216.91h1M474.25 226.75h1M476.24 226.75h1M483.23 226.75h1M585.06 226.75h1M587.06 226.75h1M563.1 236.57h1M583.07 236.57h1M621 236.57h1M587.06 246.41h1M600.04 246.41h1M452.28 256.24h1M551.12 256.24h1M571.09 256.24h1M504.2 266.06h1M526.16 266.06h1M452.28 275.89h1M522.17 275.89h1M527.16 275.89h1M564.1 275.89h1M572.08 275.89h1M492.22 285.73h1M574.08 285.73h1M580.07 285.73h1M531.15 295.56h1M582.07 295.56h1M473.25 305.38h1M527.16 305.38h1M547.13 305.38h1M597.04 305.38h1M451.29 315.22h2M456.28 315.22h1M526.16 315.22h1M588.06 315.22h1M452.28 325.05h1M477.24 325.05h1M563.1 325.05h1M476.24 334.88h1M588.06 334.88h1M507.19 344.71h1M543.13 344.71h1M586.06 344.71h1M448.29 354.53h1M496.21 354.53h1M524.16 354.53h1M551.12 354.53h1M566.09 354.53h1M584.06 354.53h1M512.18 374.19h1M546.13 374.19h1M557.11 374.19h1M584.06 374.19h1M449.29 384.02h1M479.24 384.02h1M557.11 384.02h1M450.29 393.86h1M479.24 393.86h1M589.06 393.86h1M596.04 393.86h1M450.29 403.69h1M462.27 403.69h1M485.23 403.69h1M523.17 403.69h1M596.04 403.69h1" stroke="#50505a"/><path d="M477.24 216.91h1M485.23 216.91h1M531.15 216.91h1M599.04 216.91h1M484.23 226.75h2M503.2 226.75h1M564.1 226.75h1M570.09 226.75h1M577.08 226.75h1M453.28 236.57h1M514.18 236.57h1M552.12 236.57h1M592.05 236.57h1M575.08 246.41h1M465.26 266.06h1M503.2 266.06h1M522.17 266.06h1M490.22 275.89h1M577.08 275.89h1M462.27 285.73h1M564.1 285.73h1M452.28 295.56h1M466.26 295.56h1M508.19 295.56h1M518.17 295.56h1M541.14 295.56h1M552.12 295.56h1M569.09 295.56h1M577.08 295.56h1M584.06 295.56h1M443.3 305.38h1M467.26 305.38h1M475.25 305.38h1M496.21 305.38h1M564.1 305.38h1M481.24 315.22h1M549.12 315.22h1M510.19 325.05h1M599.04 325.05h1M529.16 334.88h1M564.1 334.88h1M472.25 344.71h2M599.04 344.71h1M616.01 344.71h1M459.27 354.53h1M503.2 354.53h1M473.25 364.37h2M478.24 364.37h1M491.22 364.37h1M502.2 364.37h1M526.16 364.37h1M544.13 364.37h1M553.12 364.37h1M617.01 364.37h1M620 364.37h1M443.3 384.02h1M467.26 384.02h1M499.21 384.02h1M459.27 393.86h1M462.27 393.86h1M480.24 393.86h1M447.29 403.69h1M459.27 403.69h1M503.2 403.69h1" stroke="#282832"/><path d="M478.24 216.91h1M498.21 216.91h2M507.19 216.91h1M522.17 216.91h1M542.13 216.91h1M546.13 216.91h1M563.1 216.91h1M587.06 216.91h1M589.06 216.91h1M594.05 216.91h1M597.04 216.91h1M609.02 216.91h1M479.24 226.75h1M501.2 226.75h1M526.16 226.75h1M546.13 226.75h1M558.11 226.75h1M580.07 226.75h2M589.06 226.75h1M615.01 226.75h1M464.26 236.57h1M472.25 236.57h1M491.22 236.57h2.99M513.18 236.57h1M523.17 236.57h1M526.16 236.57h1M545.13 236.57h1M566.09 236.57h1M570.09 236.57h1M574.08 236.57h2M580.07 236.57h2M603.03 236.57h1M605.03 236.57h1M448.29 246.41h1M450.29 246.41h1M456.28 246.41h1M473.25 246.41h1M476.24 246.41h1M478.24 246.41h1M499.21 246.41h1M507.19 246.41h1M526.16 246.41h1M528.16 246.41h1M546.13 246.41h1M553.12 246.41h1M572.08 246.41h1M581.07 246.41h1M594.05 246.41h1M606.03 246.41h1M614.01 246.41h1M502.2 256.24h1M527.16 256.24h1M542.13 256.24h1M544.13 256.24h1M563.1 256.24h1M567.09 256.24h1M581.07 256.24h1M586.06 256.24h1M588.06 256.24h1M619.01 256.24h1M473.25 266.06h1M481.24 266.06h1M513.18 266.06h1M516.18 266.06h1M546.13 266.06h1M551.12 266.06h1M567.09 266.06h1M571.09 266.06h1M600.04 266.06h1M609.02 266.06h1M477.24 275.89h1M499.21 275.89h1M501.2 275.89h1M528.16 275.89h1M543.13 275.89h1M563.1 275.89h1M567.09 275.89h1M581.07 275.89h1M583.07 275.89h1M600.04 275.89h1M448.29 285.73h1M461.27 285.73h1M483.23 285.73h1M525.16 285.73h1M532.15 285.73h1M565.1 285.73h2M570.09 285.73h1M590.05 285.73h1M598.04 285.73h1M602.03 285.73h1M604.03 285.73h1M607.03 285.73h1M614.01 285.73h1M616.01 285.73h1M620 285.73h1M461.27 295.56h1M472.25 295.56h1M512.18 295.56h1M528.16 295.56h1M559.11 295.56h1M562.1 295.56h1M566.09 295.56h1M589.06 295.56h2M593.05 295.56h1M617.01 295.56h1M619.01 295.56h1M448.29 305.38h2M477.24 305.38h1M488.22 305.38h1M507.19 305.38h1M516.18 305.38h1M542.13 305.38h1M551.12 305.38h1M553.12 305.38h1M567.09 305.38h1M572.08 305.38h1M584.06 305.38h1M610.02 305.38h1M507.19 315.22h1M522.17 315.22h1M527.16 315.22h2M542.13 315.22h2M546.13 315.22h1M551.12 315.22h1M583.07 315.22h2.99M600.04 315.22h1M606.03 315.22h1M478.24 325.05h1M481.24 325.05h1M499.21 325.05h1M507.19 325.05h1M526.16 325.05h1M528.16 325.05h1M546.13 325.05h2M551.12 325.05h1M553.12 325.05h2M580.07 325.05h1M582.07 325.05h2M587.06 325.05h1M474.25 334.88h1M499.21 334.88h1M501.2 334.88h1M522.17 334.88h1M542.13 334.88h2M563.1 334.88h1M600.04 334.88h1M603.03 334.88h1M610.02 334.88h1M615.01 334.88h1M448.29 344.71h1M474.25 344.71h1M476.24 344.71h2M551.12 344.71h1M563.1 344.71h1M577.08 344.71h1M587.06 344.71h1M594.05 344.71h1M611.02 344.71h1M449.29 354.53h2M473.25 354.53h2M476.24 354.53h2.99M492.22 354.53h1M499.21 354.53h1M522.17 354.53h1M527.16 354.53h1M542.13 354.53h1M546.13 354.53h1M567.09 354.53h1M582.07 354.53h1M444.3 374.19h1M448.29 374.19h2M458.27 374.19h1M479.24 374.19h1M499.21 374.19h1M507.19 374.19h1M527.16 374.19h1M544.13 374.19h1M551.12 374.19h1M574.08 374.19h1M581.07 374.19h1M583.07 374.19h1M587.06 374.19h1M600.04 374.19h1M609.02 374.19h1M473.25 384.02h1M481.24 384.02h1M501.2 384.02h1M507.19 384.02h1M522.17 384.02h1M528.16 384.02h1M543.13 384.02h2M567.09 384.02h1M572.08 384.02h1M581.07 384.02h1M588.06 384.02h1M444.3 393.86h1M448.29 393.86h1M478.24 393.86h1M499.21 393.86h1M526.16 393.86h2M542.13 393.86h1M544.13 393.86h1M546.13 393.86h2.99M557.11 393.86h1M586.06 393.86h1M610.02 393.86h1M474.25 403.69h1M477.24 403.69h1M506.19 403.69h1M527.16 403.69h1M542.13 403.69h1M546.13 403.69h1M553.12 403.69h1M567.09 403.69h1M603.03 403.69h1M610.02 403.69h1M615.01 403.69h1" stroke="#5a5a5a"/><path d="M479.24 216.91h1M551.12 216.91h1M580.07 216.91h1M469.26 226.75h1M473.25 226.75h1M475.25 226.75h1M553.12 226.75h1M600.04 226.75h1M610.02 226.75h1M448.29 256.24h1M473.25 256.24h1M479.24 256.24h1M468.26 266.06h1M544.13 266.06h1M444.3 275.89h1M449.29 275.89h1M495.21 275.89h1M615.01 275.89h1M617.01 285.73h1M481.24 305.38h1M589.06 305.38h1M604.03 305.38h1M448.29 315.22h1M450.29 315.22h1M476.24 315.22h1M603.03 315.22h1M449.29 325.05h1M491.22 325.05h1M444.3 334.88h1M478.24 334.88h1M481.24 334.88h1M550.12 334.88h1M479.24 344.71h1M481.24 344.71h1M542.13 344.71h1M572.08 344.71h1M479.24 354.53h1M583.07 354.53h1M609.02 354.53h1M515.18 374.19h1M494.21 393.86h1M581.07 393.86h1M444.3 403.69h1M493.22 403.69h1M513.18 403.69h1M581.07 403.69h1" stroke="#5a5a64"/><path d="M480.24 216.91h1M578.07 216.91h1M489.22 226.75h1M513.18 226.75h1M517.18 226.75h1M548.12 226.75h1M560.1 226.75h1M563.1 226.75h1M578.07 226.75h1M445.3 236.57h1M463.27 236.57h1M465.26 236.57h1M474.25 236.57h1M488.22 236.57h1M520.17 236.57h1M538.14 236.57h1M548.12 236.57h1M578.07 236.57h1M608.02 236.57h1M462.27 246.41h1M482.23 246.41h1M488.22 246.41h1M517.18 246.41h1M520.17 246.41h1M561.1 246.41h1M616.01 246.41h1M481.24 256.24h1M511.19 256.24h1M517.18 256.24h1M558.11 256.24h1M560.1 256.24h1M482.23 266.06h1M512.18 266.06h1M517.18 266.06h1M520.17 266.06h1M560.1 266.06h2M573.08 266.06h1M462.27 275.89h1M469.26 275.89h1M480.24 275.89h1M482.23 275.89h1M496.21 275.89h1M517.18 275.89h1M520.17 275.89h1M561.1 275.89h1M576.08 275.89h1M578.07 275.89h1M445.3 285.73h1M488.22 285.73h1M501.2 285.73h1M520.17 285.73h1M535.15 285.73h1M548.12 285.73h1M560.1 285.73h2M579.07 285.73h1M608.02 285.73h1M611.02 285.73h1M465.26 295.56h1M485.23 295.56h1M488.22 295.56h1M497.21 295.56h1M502.2 295.56h1M515.18 295.56h2M525.16 295.56h1M548.12 295.56h1M603.03 295.56h1M618.01 295.56h1M462.27 305.38h2M520.17 305.38h1M561.1 305.38h1M618.01 305.38h1M482.23 315.22h1M490.22 315.22h1M496.21 315.22h1M503.2 315.22h1M517.18 315.22h1M520.17 315.22h1M560.1 315.22h2M614.01 315.22h1M480.24 325.05h1M482.23 325.05h1M520.17 325.05h1M560.1 325.05h2M578.07 325.05h1M462.27 334.88h2M469.26 334.88h1M482.23 334.88h1M489.22 334.88h2M517.18 334.88h1M520.17 334.88h1M561.1 334.88h1M567.09 334.88h1M578.07 334.88h1M608.02 334.88h1M462.27 344.71h2M482.23 344.71h1M489.22 344.71h1M517.18 344.71h1M520.17 344.71h1M560.1 344.71h2M578.07 344.71h1M590.05 344.71h1M462.27 354.53h1M482.23 354.53h1M506.19 354.53h1M517.18 354.53h1M520.17 354.53h1M560.1 354.53h2M596.04 354.53h1M599.04 354.53h1M483.23 364.37h1M497.21 364.37h1M506.19 364.37h1M508.19 364.37h1M514.18 364.37h2M519.17 364.37h1M525.16 364.37h1M529.16 364.37h1M547.13 364.37h1M549.12 364.37h1M568.09 364.37h1M612.02 364.37h2M462.27 374.19h2M480.24 374.19h1M482.23 374.19h1M486.23 374.19h1M488.22 374.19h1M490.22 374.19h1M517.18 374.19h1M578.07 374.19h1M462.27 384.02h2M466.26 384.02h1M482.23 384.02h1M488.22 384.02h1M561.1 384.02h1M578.07 384.02h1M463.27 393.86h1M482.23 393.86h1M488.22 393.86h2M517.18 393.86h1M531.15 393.86h1M560.1 393.86h2M480.24 403.69h1M482.23 403.69h1M509.19 403.69h1M517.18 403.69h1M520.17 403.69h1M530.15 403.69h1M536.14 403.69h1M561.1 403.69h1M578.07 403.69h1" stroke="#141414"/><path d="M482.23 216.91h1M486.23 216.91h1M488.22 216.91h1M517.18 216.91h1M528.16 216.91h1M548.12 216.91h1M568.09 216.91h1M607.03 216.91h2M480.24 226.75h1M482.23 226.75h1M488.22 226.75h1M492.22 226.75h1M607.03 226.75h1M611.02 226.75h1M515.18 236.57h1M465.26 246.41h1M522.17 246.41h1M548.12 246.41h1M560.1 246.41h1M578.07 246.41h1M611.02 246.41h1M462.27 256.24h2M488.22 256.24h1M561.1 256.24h1M578.07 256.24h1M607.03 256.24h1M611.02 256.24h1M476.24 266.06h1M488.22 266.06h1M456.28 275.89h1M560.1 275.89h1M593.05 275.89h1M607.03 275.89h1M611.02 275.89h1M470.25 285.73h1M494.21 285.73h1M515.18 285.73h1M569.09 285.73h1M588.06 285.73h1M483.23 295.56h2M575.08 295.56h2M445.3 305.38h1M465.26 305.38h1M483.23 305.38h1M608.02 305.38h1M460.27 315.22h1M462.27 315.22h1M488.22 315.22h1M531.15 315.22h1M548.12 315.22h1M607.03 315.22h2M611.02 315.22h1M462.27 325.05h1M475.25 325.05h1M488.22 325.05h1M445.3 334.88h1M488.22 334.88h1M548.12 334.88h1M560.1 334.88h1M611.02 334.88h1M445.3 344.71h1M548.12 344.71h1M607.03 344.71h1M509.19 354.53h1M548.12 354.53h1M570.09 354.53h1M578.07 354.53h1M485.23 364.37h1M510.19 364.37h1M518.17 364.37h1M521.17 364.37h2M551.12 364.37h1M592.05 364.37h1M600.04 364.37h1M607.03 364.37h1M445.3 374.19h1M465.26 374.19h1M548.12 374.19h1M555.11 374.19h1M608.02 374.19h1M611.02 374.19h1M445.3 384.02h1M548.12 384.02h1M577.08 384.02h1M607.03 384.02h1M454.28 393.86h1M611.02 393.86h1M463.27 403.69h2M548.12 403.69h1M611.02 403.69h1" stroke="#14141e"/><path d="M483.23 216.91h1M497.21 216.91h1M515.18 216.91h1M576.08 216.91h1M481.24 226.75h1M516.18 226.75h1M576.08 226.75h1M459.27 236.57h1M470.25 236.57h1M484.23 236.57h2M484.23 246.41h1M497.21 246.41h1M576.08 246.41h1M485.23 256.24h1M492.22 256.24h1M520.17 256.24h1M575.08 256.24h1M575.08 266.06h1M577.08 266.06h1M459.27 275.89h1M483.23 275.89h2.99M515.18 275.89h2M575.08 275.89h1M443.3 285.73h1M454.28 295.56h2M457.28 295.56h1M503.2 295.56h1M613.02 295.56h1M484.23 305.38h1M575.08 305.38h1M497.21 315.22h1M516.18 315.22h1M575.08 315.22h1M465.26 325.05h1M515.18 325.05h2M575.08 325.05h2M516.18 334.88h1M598.04 334.88h1M607.03 334.88h1M575.08 344.71h1M483.23 354.53h1M490.22 354.53h1M516.18 354.53h1M575.08 354.53h1M475.25 364.37h2M492.22 364.37h1M501.2 364.37h1M505.2 364.37h1M546.13 364.37h1M557.11 364.37h1M566.09 364.37h1M586.06 364.37h2M601.04 364.37h1M605.03 364.37h1M615.01 364.37h1M474.25 374.19h1M495.21 374.19h1M497.21 374.19h1M576.08 374.19h1M444.3 384.02h1M516.18 384.02h1M525.16 384.02h1M575.08 384.02h1M456.28 393.86h1M483.23 393.86h1M497.21 393.86h1M513.18 393.86h1M516.18 393.86h1M575.08 393.86h1M484.23 403.69h1M516.18 403.69h1M575.08 403.69h2" stroke="#1e1e28"/><path d="M484.23 216.91h1M495.21 216.91h1M503.2 216.91h1M516.18 216.91h1M521.17 216.91h1M598.04 226.75h2M612.02 226.75h1M443.3 236.57h1M467.26 236.57h1M543.13 236.57h1M564.1 236.57h1M618.01 236.57h1M459.27 246.41h1M467.26 246.41h1M483.23 246.41h1M485.23 246.41h1M503.2 246.41h1M516.18 246.41h1M598.04 246.41h1M477.24 256.24h1M484.23 256.24h1M516.18 256.24h1M565.1 256.24h1M568.09 256.24h1M577.08 256.24h1M599.04 256.24h1M479.24 266.06h1M485.23 266.06h1M576.08 266.06h1M598.04 266.06h1M614.01 266.06h1M466.26 275.89h1M497.21 275.89h1M503.2 275.89h1M598.04 275.89h2M453.28 285.73h1M456.28 285.73h1M459.27 285.73h2M510.19 285.73h1M518.17 285.73h1M555.11 285.73h1M577.08 285.73h1M453.28 295.56h1M509.19 295.56h1M511.19 295.56h1M514.18 295.56h1M519.17 295.56h1M529.16 295.56h1M555.11 295.56h1M564.1 295.56h1M568.09 295.56h1M478.24 305.38h1M480.24 305.38h1M503.2 305.38h1M579.07 305.38h1M598.04 305.38h1M484.23 315.22h2M505.2 315.22h1M601.04 315.22h1M605.03 315.22h1M485.23 325.05h1M518.17 325.05h1M565.1 325.05h1M598.04 325.05h1M453.28 334.88h1M459.27 334.88h1M483.23 334.88h2M503.2 334.88h1M513.18 334.88h1M575.08 334.88h2M599.04 334.88h1M620 334.88h1M446.29 344.71h1M454.28 344.71h1M459.27 344.71h1M484.23 344.71h2M571.09 344.71h1M602.03 344.71h1M484.23 354.53h2M497.21 354.53h1M525.16 354.53h2M574.08 354.53h1M607.03 354.53h1M611.02 354.53h1M507.19 364.37h1M524.16 364.37h1M542.13 364.37h1M552.12 364.37h1M554.11 364.37h1M563.1 364.37h1M567.09 364.37h1M570.09 364.37h2M580.07 364.37h1M584.06 364.37h1M589.06 364.37h1M594.05 364.37h1M606.03 364.37h1M616.01 364.37h1M483.23 374.19h2.99M503.2 374.19h1M516.18 374.19h1M564.1 374.19h1M573.08 374.19h1M483.23 384.02h2M591.05 384.02h1M596.04 384.02h1M599.04 384.02h2M474.25 393.86h1M485.23 393.86h1M496.21 393.86h1M503.2 393.86h1M598.04 393.86h1M598.04 403.69h2" stroke="#282828"/><path d="M487.23 216.91h1M501.2 216.91h1M512.18 216.91h1M534.15 216.91h2.99M538.14 216.91h2.99M560.1 216.91h1M487.23 226.75h1M532.15 226.75h1M534.15 226.75h1M536.14 226.75h1M538.14 226.75h2.99M590.05 226.75h1M601.04 226.75h1M457.28 236.57h1M462.27 236.57h1M469.26 236.57h1M487.23 236.57h1M534.15 236.57h3.99M539.14 236.57h1M556.11 236.57h1M601.04 236.57h2M611.02 236.57h1M446.29 246.41h2M451.29 246.41h1M461.27 246.41h1M470.25 246.41h1M534.15 246.41h1M536.14 246.41h1M538.14 246.41h2.99M550.12 246.41h1M602.03 246.41h1M617.01 246.41h1M466.26 256.24h1M470.25 256.24h1M475.25 256.24h1M487.23 256.24h1M490.22 256.24h1M493.22 256.24h1M495.21 256.24h1M536.14 256.24h4.99M484.23 266.06h1M487.23 266.06h1M535.15 266.06h5.99M566.09 266.06h1M470.25 275.89h2M534.15 275.89h1M536.14 275.89h2M540.14 275.89h1M601.04 275.89h2M446.29 285.73h2M457.28 285.73h1M467.26 285.73h1M513.18 285.73h1M534.15 285.73h1M536.14 285.73h2.99M601.04 285.73h1M446.29 295.56h2M469.26 295.56h2.99M487.23 295.56h1M493.22 295.56h1M524.16 295.56h1M534.15 295.56h1M536.14 295.56h2.99M540.14 295.56h1M545.13 295.56h1M595.05 295.56h1M601.04 295.56h2M446.29 305.38h1M469.26 305.38h1M471.25 305.38h1M485.23 305.38h1M517.18 305.38h1M533.15 305.38h2M536.14 305.38h2M539.14 305.38h2M574.08 305.38h1M600.04 305.38h1M602.03 305.38h1M606.03 305.38h1M469.26 315.22h2.99M487.23 315.22h1M535.15 315.22h5.99M602.03 315.22h1M469.26 325.05h2M521.17 325.05h1M534.15 325.05h6.99M589.06 325.05h1M601.04 325.05h2M446.29 334.88h1M487.23 334.88h1M506.19 334.88h1M535.15 334.88h2M539.14 334.88h2M447.29 344.71h1M534.15 344.71h1M536.14 344.71h2.99M540.14 344.71h1M601.04 344.71h1M447.29 354.53h1M466.26 354.53h1M475.25 354.53h1M487.23 354.53h1M513.18 354.53h1M532.15 354.53h1M535.15 354.53h2.99M539.14 354.53h2M601.04 354.53h1M487.23 364.37h1M496.21 364.37h1M500.2 364.37h1M512.18 364.37h1M536.14 364.37h2M539.14 364.37h2M556.11 364.37h1M559.11 364.37h1M561.1 364.37h1M579.07 364.37h1M602.03 364.37h1M446.29 374.19h1M453.28 374.19h1M459.27 374.19h1M469.26 374.19h1M471.25 374.19h1M487.23 374.19h1M508.19 374.19h1M534.15 374.19h1M536.14 374.19h2M539.14 374.19h2M601.04 374.19h2M446.29 384.02h2M454.28 384.02h1M468.26 384.02h2M474.25 384.02h1M476.24 384.02h1M533.15 384.02h1M535.15 384.02h2.99M540.14 384.02h1M583.07 384.02h1M602.03 384.02h1M469.26 393.86h1M471.25 393.86h1M481.24 393.86h1M533.15 393.86h2M536.14 393.86h4.99M578.07 393.86h1M469.26 403.69h1M487.23 403.69h1M491.22 403.69h1M532.15 403.69h1M534.15 403.69h2M539.14 403.69h2M601.04 403.69h2" stroke="#00000a"/><path d="M489.22 216.91h1M490.22 226.75h1M463.27 246.41h1M490.22 266.06h1M482.23 285.73h1M489.22 315.22h1M530.15 325.05h1M480.24 354.53h1" stroke="#140a14"/><path d="M493.22 216.91h2M496.21 216.91h1M502.2 216.91h1M530.15 216.91h1M532.15 216.91h1M574.08 216.91h1M600.04 216.91h1M611.02 216.91h1M618.01 216.91h1M491.22 226.75h1M494.21 226.75h1M502.2 226.75h1M520.17 226.75h1M523.17 226.75h1M525.16 226.75h1M544.13 226.75h2M572.08 226.75h2M602.03 226.75h1M618.01 226.75h1M447.29 236.57h1M502.2 236.57h1M505.2 236.57h1M561.1 236.57h1M565.1 236.57h1M573.08 236.57h1M593.05 236.57h1M607.03 236.57h1M457.28 246.41h1M472.25 246.41h1M475.25 246.41h1M494.21 246.41h1M501.2 246.41h1M523.17 246.41h1M531.15 246.41h1M573.08 246.41h2M590.05 246.41h1M605.03 246.41h1M615.01 246.41h1M619.01 246.41h1M621 246.41h1M461.27 256.24h1M523.17 256.24h1M525.16 256.24h1M574.08 256.24h1M594.05 256.24h1M605.03 256.24h1M609.02 256.24h2M615.01 256.24h1M621 256.24h1M460.27 266.06h1M475.25 266.06h1M492.22 266.06h2M501.2 266.06h1M531.15 266.06h1M572.08 266.06h1M615.01 266.06h1M620 266.06h2M460.27 275.89h1M472.25 275.89h1M493.22 275.89h1M523.17 275.89h1M531.15 275.89h1M544.13 275.89h1M550.12 275.89h1M553.12 275.89h1M558.11 275.89h1M562.1 275.89h1M565.1 275.89h1M570.09 275.89h1M574.08 275.89h1M580.07 275.89h1M620 275.89h2M502.2 285.73h1M550.12 285.73h1M582.07 285.73h1M464.26 305.38h1M472.25 305.38h1M492.22 305.38h1M495.21 305.38h1M498.21 305.38h1M532.15 305.38h1M543.13 305.38h1M556.11 305.38h1M560.1 305.38h1M562.1 305.38h1M565.1 305.38h1M615.01 305.38h2M620 305.38h2M463.27 315.22h1M475.25 315.22h1M494.21 315.22h2M501.2 315.22h1M532.15 315.22h1M544.13 315.22h1M563.1 315.22h1M565.1 315.22h1M593.05 315.22h1M615.01 315.22h2M618.01 315.22h1M459.27 325.05h1M492.22 325.05h1M494.21 325.05h1M513.18 325.05h1M525.16 325.05h1M532.15 325.05h1M548.12 325.05h1M594.05 325.05h1M596.04 325.05h1M605.03 325.05h1M607.03 325.05h1M460.27 334.88h1M491.22 334.88h1M494.21 334.88h2M525.16 334.88h1M531.15 334.88h1M533.15 334.88h1M544.13 334.88h1M562.1 334.88h1M574.08 334.88h1M583.07 334.88h1M605.03 334.88h1M616.01 334.88h2M450.29 344.71h1M461.27 344.71h1M464.26 344.71h1M475.25 344.71h1M502.2 344.71h1M513.18 344.71h1M525.16 344.71h1M532.15 344.71h1M554.11 344.71h1M566.09 344.71h1M583.07 344.71h1M593.05 344.71h1M613.02 344.71h1M620 344.71h1M460.27 354.53h1M472.25 354.53h1M494.21 354.53h1M512.18 354.53h1M523.17 354.53h1M549.12 354.53h1M600.04 354.53h1M605.03 354.53h2M618.01 354.53h1M620 354.53h1M457.28 374.19h1M472.25 374.19h1M475.25 374.19h1M492.22 374.19h1M498.21 374.19h1M501.2 374.19h2M525.16 374.19h1M532.15 374.19h2M562.1 374.19h1M566.09 374.19h1M572.08 374.19h1M580.07 374.19h1M582.07 374.19h1M588.06 374.19h1M594.05 374.19h1M605.03 374.19h1M612.02 374.19h1M450.29 384.02h1M487.23 384.02h1M491.22 384.02h1M502.2 384.02h1M513.18 384.02h1M531.15 384.02h1M553.12 384.02h2M559.11 384.02h1M562.1 384.02h2M565.1 384.02h1M570.09 384.02h1M574.08 384.02h1M576.08 384.02h1M605.03 384.02h1M613.02 384.02h1M621 384.02h1M477.24 393.86h1M501.2 393.86h1M523.17 393.86h1M532.15 393.86h1M556.11 393.86h1M563.1 393.86h1M583.07 393.86h1M587.06 393.86h1M591.05 393.86h1M607.03 393.86h1M616.01 393.86h1M618.01 393.86h1M620 393.86h1M455.28 403.69h1M475.25 403.69h1M494.21 403.69h1M531.15 403.69h1M533.15 403.69h1M544.13 403.69h1M565.1 403.69h1M572.08 403.69h1M574.08 403.69h1M597.04 403.69h1M614.01 403.69h1M618.01 403.69h1M620 403.69h1" stroke="#6e6e6e"/><path d="M504.2 216.91h1M520.17 216.91h1M541.14 216.91h1M543.13 216.91h1M585.06 216.91h1M592.05 216.91h1M596.04 216.91h1M612.02 216.91h1M500.2 226.75h1M505.2 226.75h2M510.19 226.75h2M514.18 226.75h1M529.16 226.75h1M547.13 226.75h1M584.06 226.75h1M588.06 226.75h1M597.04 226.75h1M451.29 236.57h2M473.25 236.57h1M476.24 236.57h1M478.24 236.57h2M498.21 236.57h1M507.19 236.57h1M527.16 236.57h1M540.14 236.57h1M557.11 236.57h1M572.08 236.57h1M584.06 236.57h2.99M589.06 236.57h1M606.03 236.57h1M610.02 236.57h1M444.3 246.41h1M452.28 246.41h1M460.27 246.41h1M500.2 246.41h1M506.19 246.41h1M511.19 246.41h1M541.14 246.41h1M552.12 246.41h1M500.2 256.24h1M504.2 256.24h1M508.19 256.24h1M510.19 256.24h1M524.16 256.24h1M529.16 256.24h1M541.14 256.24h1M489.22 266.06h1M500.2 266.06h1M553.12 266.06h1M569.09 266.06h1M585.06 266.06h1M473.25 275.89h1M504.2 275.89h1M509.19 275.89h2M552.12 275.89h1M450.29 285.73h2M465.26 285.73h1M479.24 285.73h1M493.22 285.73h1M522.17 285.73h1M526.16 285.73h1M546.13 285.73h1M572.08 285.73h1M583.07 285.73h1M589.06 285.73h1M603.03 285.73h1M612.02 285.73h1M449.29 295.56h2M460.27 295.56h1M462.27 295.56h1M464.26 295.56h1M473.25 295.56h1M477.24 295.56h1M481.24 295.56h1M491.22 295.56h1M494.21 295.56h1M498.21 295.56h1M501.2 295.56h1M513.18 295.56h1M521.17 295.56h1M523.17 295.56h1M530.15 295.56h1M550.12 295.56h1M563.1 295.56h1M583.07 295.56h1M594.05 295.56h1M610.02 295.56h1M616.01 295.56h1M444.3 305.38h1M451.29 305.38h2M508.19 305.38h1M510.19 305.38h1M524.16 305.38h2M529.16 305.38h1M541.14 305.38h1M588.06 305.38h1M458.27 315.22h1M500.2 315.22h1M509.19 315.22h2.99M552.12 315.22h1M571.09 315.22h1M587.06 315.22h1M597.04 315.22h1M613.02 315.22h1M500.2 325.05h1M509.19 325.05h1M524.16 325.05h1M541.14 325.05h1M584.06 325.05h1M593.05 325.05h1M452.28 334.88h1M500.2 334.88h1M504.2 334.88h1M508.19 334.88h2.99M569.09 334.88h1M500.2 344.71h1M505.2 344.71h1M508.19 344.71h1M510.19 344.71h2M541.14 344.71h1M549.12 344.71h1M588.06 344.71h1M596.04 344.71h2M445.3 354.53h1M468.26 354.53h1M504.2 354.53h1M541.14 354.53h1M563.1 354.53h1M576.08 354.53h1M585.06 354.53h2M612.02 354.53h1M583.07 364.37h1M604.03 364.37h1M608.02 364.37h1M500.2 374.19h1M509.19 374.19h1M511.19 374.19h1M549.12 374.19h1M569.09 374.19h1M595.05 374.19h1M597.04 374.19h1M451.29 384.02h1M500.2 384.02h1M508.19 384.02h1M510.19 384.02h2M524.16 384.02h1M529.16 384.02h1M549.12 384.02h1M585.06 384.02h2M593.05 384.02h1M597.04 384.02h1M451.29 393.86h2M484.23 393.86h1M495.21 393.86h1M500.2 393.86h1M506.19 393.86h1M541.14 393.86h1M549.12 393.86h1M552.12 393.86h1M472.25 403.69h1M511.19 403.69h1M541.14 403.69h1M586.06 403.69h1M589.06 403.69h1" stroke="#464646"/><path d="M505.2 216.91h2M524.16 216.91h1M526.16 216.91h2M549.12 216.91h1M557.11 216.91h1M564.1 216.91h1M581.07 216.91h1M584.06 216.91h1M586.06 216.91h1M610.02 216.91h1M504.2 226.75h1M524.16 226.75h1M528.16 226.75h1M541.14 226.75h1M551.12 226.75h1M586.06 226.75h1M448.29 236.57h2.99M477.24 236.57h1M481.24 236.57h1M499.21 236.57h1M517.18 236.57h1M522.17 236.57h1M525.16 236.57h1M553.12 236.57h1M567.09 236.57h1M591.05 236.57h1M600.04 236.57h1M609.02 236.57h1M458.27 246.41h1M474.25 246.41h1M477.24 246.41h1M487.23 246.41h1M504.2 246.41h2M524.16 246.41h1M543.13 246.41h1M547.13 246.41h1M571.09 246.41h1M580.07 246.41h1M584.06 246.41h1M589.06 246.41h1M597.04 246.41h1M612.02 246.41h1M478.24 256.24h1M505.2 256.24h2.99M546.13 256.24h2M557.11 256.24h1M584.06 256.24h1M587.06 256.24h1M589.06 256.24h1M604.03 256.24h1M606.03 256.24h1M617.01 256.24h1M506.19 266.06h2M528.16 266.06h1M541.14 266.06h2.99M547.13 266.06h1M584.06 266.06h1M586.06 266.06h2M589.06 266.06h1M596.04 266.06h2M606.03 266.06h1M608.02 266.06h1M458.27 275.89h1M474.25 275.89h1M505.2 275.89h2.99M518.17 275.89h1M526.16 275.89h1M546.13 275.89h2M584.06 275.89h2M587.06 275.89h2M612.02 275.89h1M614.01 275.89h1M449.29 285.73h1M474.25 285.73h1M478.24 285.73h1M481.24 285.73h1M495.21 285.73h2M533.15 285.73h1M544.13 285.73h1M547.13 285.73h1M551.12 285.73h1M562.1 285.73h2M567.09 285.73h1M581.07 285.73h1M594.05 285.73h1M600.04 285.73h1M605.03 285.73h1M609.02 285.73h1M495.21 295.56h2M544.13 295.56h1M554.11 295.56h1M565.1 295.56h1M570.09 295.56h1M572.08 295.56h1M591.05 295.56h1M605.03 295.56h1M621 295.56h1M474.25 305.38h1M504.2 305.38h1M506.19 305.38h1M528.16 305.38h1M546.13 305.38h1M566.09 305.38h1M573.08 305.38h1M586.06 305.38h1M593.05 305.38h1M596.04 305.38h1M612.02 305.38h1M473.25 315.22h1M499.21 315.22h1M506.19 315.22h1M521.17 315.22h1M524.16 315.22h1M541.14 315.22h1M547.13 315.22h1M562.1 315.22h1M586.06 315.22h1M474.25 325.05h1M506.19 325.05h1M542.13 325.05h1M557.11 325.05h1M566.09 325.05h1M571.09 325.05h1M586.06 325.05h1M588.06 325.05h1M597.04 325.05h1M606.03 325.05h1M611.02 325.05h2M449.29 334.88h2M473.25 334.88h1M479.24 334.88h1M515.18 334.88h1M524.16 334.88h1M526.16 334.88h2.99M546.13 334.88h2M557.11 334.88h1M584.06 334.88h2M587.06 334.88h1M589.06 334.88h1M597.04 334.88h1M602.03 334.88h1M612.02 334.88h1M451.29 344.71h2M499.21 344.71h1M504.2 344.71h1M526.16 344.71h2.99M547.13 344.71h1M557.11 344.71h1M584.06 344.71h1M589.06 344.71h1M612.02 344.71h1M446.29 354.53h1M505.2 354.53h1M507.19 354.53h1M528.16 354.53h1M543.13 354.53h1M547.13 354.53h1M557.11 354.53h1M603.03 354.53h1M467.26 374.19h1M478.24 374.19h1M489.22 374.19h1M504.2 374.19h2.99M528.16 374.19h1M543.13 374.19h1M585.06 374.19h2M589.06 374.19h1M606.03 374.19h1M452.28 384.02h1M477.24 384.02h1M504.2 384.02h2.99M526.16 384.02h2M542.13 384.02h1M584.06 384.02h1M587.06 384.02h1M589.06 384.02h1M606.03 384.02h1M612.02 384.02h1M504.2 393.86h1M507.19 393.86h1M519.17 393.86h1M528.16 393.86h1M571.09 393.86h1M584.06 393.86h1M588.06 393.86h1M600.04 393.86h1M606.03 393.86h1M615.01 393.86h1M473.25 403.69h1M481.24 403.69h1M505.2 403.69h1M524.16 403.69h1M526.16 403.69h1M528.16 403.69h1M571.09 403.69h1M582.07 403.69h1M584.06 403.69h1M587.06 403.69h1M600.04 403.69h1M612.02 403.69h1" stroke="#505050"/><path d="M508.19 216.91h1M511.19 216.91h1M606.03 216.91h1M499.21 226.75h1M527.16 226.75h1M549.12 226.75h1M596.04 226.75h1M468.26 236.57h1M542.13 236.57h1M544.13 236.57h1M546.13 236.57h1M551.12 236.57h1M588.06 236.57h1M451.29 256.24h1M458.27 256.24h1M469.26 256.24h1M528.16 256.24h1M597.04 256.24h1M612.02 256.24h1M505.2 266.06h1M524.16 266.06h1M549.12 266.06h1M541.14 275.89h1M557.11 275.89h1M589.06 275.89h1M596.04 275.89h1M444.3 285.73h1M542.13 285.73h2M610.02 285.73h1M615.01 285.73h1M458.27 295.56h1M492.22 295.56h1M604.03 295.56h1M609.02 295.56h1M620 295.56h1M505.2 305.38h1M453.28 315.22h1M504.2 315.22h1M508.19 315.22h1M557.11 315.22h1M616.01 325.05h1M541.14 334.88h1M586.06 334.88h1M606.03 334.88h1M458.27 344.71h1M506.19 344.71h1M524.16 344.71h1M546.13 344.71h1M588.06 354.53h1M597.04 354.53h1M452.28 374.19h1M571.09 374.19h1M547.13 384.02h1M571.09 384.02h1M524.16 393.86h1M585.06 393.86h1M451.29 403.69h1M458.27 403.69h1M504.2 403.69h1M510.19 403.69h1M547.13 403.69h1M606.03 403.69h1" stroke="#464650"/><path d="M509.19 216.91h2M514.18 216.91h1M547.13 216.91h1M569.09 216.91h1M572.08 216.91h1M507.19 226.75h1M509.19 226.75h1M519.17 226.75h1M552.12 226.75h1M568.09 226.75h1M592.05 226.75h1M613.02 226.75h1M444.3 236.57h1M456.28 236.57h1M458.27 236.57h1M506.19 236.57h1M508.19 236.57h1M510.19 236.57h1M518.17 236.57h1M528.16 236.57h1M541.14 236.57h1M549.12 236.57h1M582.07 236.57h1M587.06 236.57h1M596.04 236.57h1M612.02 236.57h1M455.28 246.41h1M510.19 246.41h1M519.17 246.41h1M521.17 246.41h1M527.16 246.41h1M529.16 246.41h1M568.09 246.41h2M585.06 246.41h1M497.21 256.24h1M552.12 256.24h1M569.09 256.24h1M496.21 266.06h1M508.19 266.06h1M511.19 266.06h1M521.17 266.06h1M534.15 266.06h1M568.09 266.06h1M511.19 275.89h1M519.17 275.89h1M529.16 275.89h1M535.15 275.89h1M569.09 275.89h1M579.07 275.89h1M606.03 275.89h1M504.2 285.73h2M507.19 285.73h2.99M523.17 285.73h2M528.16 285.73h1M557.11 285.73h1M586.06 285.73h2M597.04 285.73h1M606.03 285.73h1M448.29 295.56h1M478.24 295.56h2M504.2 295.56h2M507.19 295.56h1M522.17 295.56h1M527.16 295.56h1M542.13 295.56h1M547.13 295.56h1M553.12 295.56h1M557.11 295.56h1M567.09 295.56h1M581.07 295.56h1M585.06 295.56h2M596.04 295.56h2M453.28 305.38h1M458.27 305.38h1M487.23 305.38h1M509.19 305.38h1M514.18 305.38h1M521.17 305.38h1M568.09 305.38h2M613.02 305.38h1M474.25 315.22h1M518.17 315.22h2M523.17 315.22h1M568.09 315.22h1M504.2 325.05h1M529.16 325.05h1M555.11 325.05h1M569.09 325.05h1M592.05 325.05h1M613.02 325.05h1M455.28 334.88h1M457.28 334.88h1M466.26 334.88h1M471.25 334.88h1M549.12 334.88h1M568.09 334.88h1M570.09 334.88h1M613.02 334.88h1M444.3 344.71h1M465.26 344.71h1M509.19 344.71h1M514.18 344.71h1M519.17 344.71h1M521.17 344.71h1M529.16 344.71h1M545.13 344.71h1M552.12 344.71h1M453.28 354.53h1M500.2 354.53h1M511.19 354.53h1M518.17 354.53h2M529.16 354.53h1M565.1 354.53h1M569.09 354.53h1M571.09 354.53h1M581.07 354.53h1M587.06 354.53h1M608.02 354.53h1M613.02 354.53h1M531.15 364.37h1M565.1 364.37h1M591.05 364.37h1M609.02 364.37h1M619.01 364.37h1M514.18 374.19h1M530.15 374.19h1M568.09 374.19h1M613.02 374.19h1M453.28 384.02h1M493.22 384.02h1M514.18 384.02h1M517.18 384.02h2.99M551.12 384.02h1M592.05 384.02h1M508.19 393.86h1M511.19 393.86h1M521.17 393.86h1M568.09 393.86h2M613.02 393.86h1M457.28 403.69h1M466.26 403.69h1M479.24 403.69h1M500.2 403.69h1M508.19 403.69h1M514.18 403.69h1M521.17 403.69h1M529.16 403.69h1M551.12 403.69h1M585.06 403.69h1" stroke="#3c3c3c"/><path d="M537.14 216.91h1M535.15 226.75h1M537.14 226.75h1M446.29 236.57h1M480.24 236.57h1M469.26 246.41h1M471.25 246.41h1M489.22 246.41h1M533.15 246.41h1M535.15 246.41h1M537.14 246.41h1M534.15 256.24h2M532.15 266.06h1M538.14 275.89h2M469.26 285.73h1M471.25 285.73h1M539.14 285.73h1M535.15 295.56h1M539.14 295.56h1M470.25 305.38h1M535.15 305.38h1M538.14 305.38h1M534.15 315.22h1M533.15 325.05h1M470.25 334.88h1M534.15 334.88h1M537.14 334.88h2M469.26 344.71h2.99M533.15 344.71h1M539.14 344.71h1M470.25 354.53h2M534.15 354.53h1M538.14 354.53h1M528.16 364.37h1M534.15 364.37h2M538.14 364.37h1M470.25 374.19h1M535.15 374.19h1M538.14 374.19h1M470.25 384.02h1M532.15 384.02h1M534.15 384.02h1M538.14 384.02h2M470.25 393.86h1M538.14 403.69h1" stroke="#000000"/><path d="M552.12 216.91h1M556.11 216.91h1M579.07 216.91h1M556.11 226.75h1M579.07 226.75h1M475.25 236.57h1M483.23 236.57h1M486.23 236.57h1M494.21 236.57h1M512.18 236.57h1M530.15 236.57h1M558.11 236.57h1M579.07 236.57h1M466.26 246.41h1M468.26 246.41h1M579.07 246.41h1M483.23 256.24h1M491.22 256.24h1M499.21 256.24h1M519.17 256.24h1M556.11 256.24h1M579.07 256.24h1M582.07 256.24h1M552.12 266.06h1M579.07 266.06h1M476.24 275.89h1M525.16 275.89h1M548.12 275.89h1M486.23 285.73h1M512.18 285.73h1M558.11 285.73h2M585.06 285.73h1M475.25 295.56h1M480.24 295.56h1M486.23 295.56h1M489.22 295.56h2M533.15 295.56h1M556.11 295.56h1M558.11 295.56h1M614.01 295.56h1M456.28 305.38h1M518.17 305.38h1M523.17 305.38h1M549.12 305.38h2M557.11 305.38h1M530.15 315.22h1M556.11 315.22h1M579.07 315.22h1M556.11 325.05h1M579.07 325.05h1M447.29 334.88h1M468.26 334.88h1M480.24 334.88h1M502.2 334.88h1M556.11 334.88h1M579.07 334.88h1M468.26 344.71h1M487.23 344.71h1M495.21 344.71h1M535.15 344.71h1M579.07 344.71h1M467.26 354.53h1M552.12 354.53h1M556.11 354.53h1M579.07 354.53h1M486.23 364.37h1M490.22 364.37h1M499.21 364.37h1M517.18 364.37h1M520.17 364.37h1M530.15 364.37h1M558.11 364.37h1M560.1 364.37h1M575.08 364.37h1M577.08 364.37h1M588.06 364.37h1M611.02 364.37h1M468.26 374.19h1M556.11 374.19h1M560.1 374.19h2M579.07 374.19h1M456.28 384.02h1M471.25 384.02h1M485.23 384.02h1M556.11 384.02h1M579.07 384.02h1M446.29 393.86h1M468.26 393.86h1M520.17 393.86h1M579.07 393.86h1M601.04 393.86h2M468.26 403.69h1M537.14 403.69h1M556.11 403.69h1M579.07 403.69h1" stroke="#0a0a0a"/><path d="M553.12 216.91h1M562.1 216.91h1M574.08 226.75h1M460.27 236.57h1M562.1 236.57h1M496.21 246.41h1M609.02 246.41h2M494.21 256.24h1M498.21 256.24h1M522.17 256.24h1M553.12 256.24h1M494.21 266.06h1M448.29 275.89h1M533.15 275.89h1M545.13 285.73h1M522.17 305.38h1M583.07 305.38h1M449.29 315.22h1M472.25 315.22h1M525.16 315.22h1M448.29 325.05h1M450.29 325.05h1M468.26 325.05h1M493.22 325.05h1M544.13 325.05h1M609.02 325.05h1M494.21 344.71h1M570.09 344.71h1M469.26 354.53h1M519.17 374.19h1M523.17 374.19h1M596.04 374.19h1M620 374.19h1M546.13 384.02h1M610.02 384.02h1M460.27 393.86h1M487.23 393.86h1M460.27 403.69h1M609.02 403.69h1" stroke="#64646e"/><path d="M555.11 216.91h1M577.08 216.91h1M613.02 216.91h1M495.21 226.75h1M508.19 226.75h1M454.28 236.57h2M466.26 236.57h1M490.22 236.57h1M500.2 236.57h1M511.19 236.57h1M519.17 236.57h1M521.17 236.57h1M529.16 236.57h1M568.09 236.57h1M576.08 236.57h1M613.02 236.57h1M443.3 246.41h1M453.28 246.41h2M518.17 246.41h1M555.11 246.41h1M564.1 246.41h1M592.05 246.41h1M457.28 256.24h1M521.17 256.24h1M555.11 256.24h1M564.1 256.24h1M592.05 256.24h1M514.18 266.06h1M548.12 266.06h1M555.11 266.06h1M564.1 266.06h1M592.05 266.06h1M467.26 275.89h1M508.19 275.89h1M555.11 275.89h1M595.05 275.89h1M605.03 275.89h1M610.02 275.89h1M613.02 275.89h1M458.27 285.73h1M487.23 285.73h1M503.2 285.73h1M511.19 285.73h1M519.17 285.73h1M529.16 285.73h1M541.14 285.73h1M549.12 285.73h1M552.12 285.73h1M568.09 285.73h1M584.06 285.73h1M592.05 285.73h1M613.02 285.73h1M474.25 295.56h1M500.2 295.56h1M510.19 295.56h1M526.16 295.56h1M549.12 295.56h1M551.12 295.56h1M571.09 295.56h1M574.08 295.56h1M587.06 295.56h1M592.05 295.56h1M606.03 295.56h1M615.01 295.56h1M454.28 305.38h1M457.28 305.38h1M459.27 305.38h1M466.26 305.38h1M500.2 305.38h1M552.12 305.38h1M576.08 305.38h2M592.05 305.38h1M599.04 305.38h1M514.18 315.22h1M529.16 315.22h1M555.11 315.22h1M564.1 315.22h1M572.08 315.22h1M577.08 315.22h1M619.01 315.22h1M467.26 325.05h1M517.18 325.05h1M519.17 325.05h1M527.16 325.05h1M562.1 325.05h1M564.1 325.05h1M577.08 325.05h1M451.29 334.88h1M456.28 334.88h1M496.21 334.88h1M514.18 334.88h1M443.3 344.71h1M455.28 344.71h2.99M467.26 344.71h1M518.17 344.71h1M530.15 344.71h1M555.11 344.71h1M564.1 344.71h1M569.09 344.71h1M443.3 354.53h1M451.29 354.53h1M454.28 354.53h1M457.28 354.53h1M463.27 354.53h1M514.18 354.53h1M564.1 354.53h1M577.08 354.53h1M592.05 354.53h1M495.21 364.37h1M513.18 364.37h1M532.15 364.37h1M541.14 364.37h1M543.13 364.37h1M578.07 364.37h1M590.05 364.37h1M595.05 364.37h2M603.03 364.37h1M443.3 374.19h1M454.28 374.19h2M466.26 374.19h1M521.17 374.19h1M524.16 374.19h1M577.08 374.19h1M592.05 374.19h1M614.01 374.19h1M489.22 384.02h1M555.11 384.02h1M564.1 384.02h1M601.04 384.02h1M443.3 393.86h1M455.28 393.86h1M457.28 393.86h1M467.26 393.86h1M514.18 393.86h1M555.11 393.86h1M564.1 393.86h1M566.09 393.86h1M577.08 393.86h1M592.05 393.86h1M599.04 393.86h1M564.1 403.69h1M577.08 403.69h1M588.06 403.69h1M613.02 403.69h1" stroke="#323232"/><path d="M571.09 216.91h1M575.08 216.91h1M515.18 226.75h1M575.08 226.75h1M497.21 236.57h1M503.2 236.57h1M516.18 236.57h1M598.04 236.57h2M604.03 236.57h1M492.22 246.41h1M515.18 246.41h1M608.02 246.41h1M480.24 256.24h1M513.18 256.24h1M515.18 256.24h1M554.11 256.24h1M576.08 256.24h1M593.05 256.24h1M608.02 256.24h1M497.21 266.06h1M545.13 266.06h1M607.03 266.06h1M611.02 266.06h1M465.26 275.89h1M489.22 275.89h1M592.05 275.89h1M608.02 275.89h1M468.26 285.73h1M484.23 285.73h1M497.21 285.73h1M514.18 285.73h1M516.18 285.73h1M575.08 285.73h2M599.04 285.73h1M443.3 295.56h1M445.3 295.56h1M451.29 295.56h1M456.28 295.56h1M459.27 295.56h1M598.04 295.56h2M468.26 305.38h1M497.21 305.38h1M515.18 305.38h1M526.16 305.38h1M531.15 305.38h1M587.06 305.38h1M607.03 305.38h1M611.02 305.38h1M465.26 315.22h1M515.18 315.22h1M473.25 325.05h1M514.18 325.05h1M608.02 325.05h1M443.3 334.88h1M453.28 344.71h1M515.18 344.71h1M553.12 344.71h1M576.08 344.71h1M608.02 344.71h2.99M452.28 354.53h1M465.26 354.53h1M498.21 354.53h1M515.18 354.53h1M493.22 364.37h1M504.2 364.37h1M509.19 364.37h1M511.19 364.37h1M527.16 364.37h1M533.15 364.37h1M545.13 364.37h1M550.12 364.37h1M564.1 364.37h1M569.09 364.37h1M572.08 364.37h1M574.08 364.37h1M581.07 364.37h2M585.06 364.37h1M597.04 364.37h1M610.02 364.37h1M614.01 364.37h1M473.25 374.19h1M520.17 374.19h1M526.16 374.19h1M541.14 374.19h1M575.08 374.19h1M465.26 384.02h1M497.21 384.02h1M515.18 384.02h1M521.17 384.02h1M445.3 393.86h1M447.29 393.86h1M465.26 393.86h1M473.25 393.86h1M515.18 393.86h1M576.08 393.86h1M582.07 393.86h1M470.25 403.69h1M497.21 403.69h1M515.18 403.69h1M543.13 403.69h1M555.11 403.69h1M557.11 403.69h1" stroke="#1e1e1e"/><path d="M582.07 216.91h1M605.03 216.91h1M616.01 226.75h1M550.12 236.57h1M542.13 246.41h1M557.11 246.41h1M562.1 246.41h1M455.28 266.06h1M578.07 266.06h1M595.05 266.06h1M447.29 305.38h1M444.3 315.22h1M461.27 315.22h1M550.12 315.22h1M553.12 315.22h1M574.08 315.22h1M576.08 315.22h1M444.3 325.05h1M464.26 325.05h1M519.17 334.88h1M601.04 334.88h1M614.01 334.88h1M495.21 354.53h1M450.29 374.19h1M493.22 374.19h1M522.17 403.69h1" stroke="#6e6e78"/><path d="M591.05 216.91h1M607.03 246.41h1M620 246.41h1M545.13 256.24h1M573.08 256.24h1M590.05 275.89h1M595.05 305.38h1M614.01 305.38h1M582.07 315.22h1M591.05 315.22h1M521.17 334.88h1M545.13 334.88h1M582.07 334.88h1M604.03 334.88h1M591.05 354.53h1M604.03 354.53h1M582.07 384.02h1M573.08 393.86h1M580.07 393.86h1M617.01 393.86h1M545.13 403.69h1" stroke="#8c8c8c"/><path d="M601.04 216.91h2M601.04 246.41h1M601.04 256.24h1M602.03 266.06h1M527.16 285.73h1M556.11 285.73h1M468.26 295.56h1M579.07 295.56h1" stroke="#0a000a"/><path d="M443.3 226.75h1" stroke="#824682"/><path d="M444.3 226.75h1" stroke="#8c648c"/><path d="M445.3 226.75h1M444.3 364.37h1" stroke="#aa4682"/><path d="M446.29 226.75h1" stroke="#782882"/><path d="M447.29 226.75h1" stroke="#6e1e82"/><path d="M448.29 226.75h1M451.29 226.75h1" stroke="#785a82"/><path d="M449.29 226.75h1" stroke="#78648c"/><path d="M450.29 226.75h1" stroke="#786e8c"/><path d="M452.28 226.75h1" stroke="#6e5082"/><path d="M453.28 226.75h2M445.3 266.06h1" stroke="#5a3c78"/><path d="M455.28 226.75h1" stroke="#645082"/><path d="M457.28 226.75h1M455.28 364.37h1" stroke="#463264"/><path d="M458.27 226.75h1" stroke="#5a4678"/><path d="M459.27 226.75h1" stroke="#645a6e"/><path d="M460.27 226.75h1" stroke="#1e1450"/><path d="M462.27 226.75h1M456.28 364.37h1M459.27 364.37h1" stroke="#281e50"/><path d="M464.26 226.75h1" stroke="#323250"/><path d="M465.26 226.75h1" stroke="#1e1e46"/><path d="M471.25 226.75h1M478.24 226.75h1M453.28 256.24h1M468.26 364.37h1M470.25 364.37h1M446.29 403.69h1" stroke="#0a0a1e"/><path d="M569.09 226.75h1M613.02 266.06h1M601.04 305.38h1M585.06 325.05h1M521.17 354.53h1" stroke="#3c323c"/><path d="M577.08 236.57h1M599.04 246.41h1M518.17 256.24h1M585.06 256.24h1M492.22 275.89h1M483.23 315.22h1M484.23 325.05h1M497.21 334.88h1M483.23 344.71h1M516.18 344.71h1M599.04 374.19h1" stroke="#281e28"/><path d="M445.3 246.41h1M455.28 285.73h1M477.24 285.73h1M548.12 305.38h1M608.02 393.86h1" stroke="#1e141e"/><path d="M508.19 246.41h1M580.07 295.56h1M458.27 393.86h1M488.22 403.69h1" stroke="#463c46"/><path d="M513.18 246.41h1M612.02 315.22h1M449.29 403.69h1" stroke="#645a64"/><path d="M444.3 256.24h1" stroke="#6e646e"/><path d="M445.3 256.24h1" stroke="#28283c"/><path d="M446.29 256.24h2M446.29 325.05h1" stroke="#0a0a28"/><path d="M450.29 256.24h1M580.07 266.06h1M507.19 334.88h1M507.19 403.69h1" stroke="#5a505a"/><path d="M454.28 256.24h1M479.24 364.37h1" stroke="#1e1428"/><path d="M443.3 266.06h1" stroke="#5a3c82"/><path d="M444.3 266.06h1M453.28 364.37h1" stroke="#461478"/><path d="M447.29 266.06h1" stroke="#28145a"/><path d="M449.29 266.06h1" stroke="#6e6482"/><path d="M450.29 266.06h1" stroke="#3c325a"/><path d="M451.29 266.06h1" stroke="#5a506e"/><path d="M453.28 266.06h1" stroke="#463c50"/><path d="M454.28 266.06h1" stroke="#3c3c5a"/><path d="M456.28 266.06h1M446.29 315.22h1M447.29 325.05h1" stroke="#14143c"/><path d="M458.27 266.06h1M451.29 275.89h1" stroke="#46465a"/><path d="M462.27 266.06h2M463.27 325.05h1M481.24 364.37h1" stroke="#141428"/><path d="M469.26 266.06h1M471.25 364.37h1" stroke="#0a0014"/><path d="M443.3 275.89h1M443.3 325.05h1" stroke="#3c3250"/><path d="M446.29 275.89h1" stroke="#140a28"/><path d="M453.28 275.89h1M454.28 325.05h1M443.3 403.69h1" stroke="#3c3246"/><path d="M616.01 275.89h1" stroke="#827882"/><path d="M491.22 285.73h1" stroke="#504650"/><path d="M521.17 285.73h1M573.08 325.05h1M467.26 334.88h1M621 364.37h1M559.11 374.19h1" stroke="#322832"/><path d="M445.3 325.05h1" stroke="#322850"/><path d="M451.29 325.05h1" stroke="#505064"/><path d="M562.1 344.71h1" stroke="#786e78"/><path d="M443.3 364.37h1" stroke="#be4678"/><path d="M445.3 364.37h1" stroke="#642882"/><path d="M446.29 364.37h1" stroke="#5a1482"/><path d="M447.29 364.37h1" stroke="#501482"/><path d="M448.29 364.37h1" stroke="#784682"/><path d="M449.29 364.37h1" stroke="#783c82"/><path d="M450.29 364.37h1" stroke="#643282"/><path d="M451.29 364.37h1" stroke="#5a3282"/><path d="M454.28 364.37h1" stroke="#501e78"/><path d="M457.28 364.37h2" stroke="#3c2864"/><path d="M460.27 364.37h1" stroke="#32285a"/><path d="M461.27 364.37h1" stroke="#1e1446"/><path d="M462.27 364.37h1M469.26 364.37h1" stroke="#281e3c"/><path d="M464.26 364.37h2" stroke="#322846"/></g>
<line x1="48" y1="216.91" x2="51" y2="216.91" stroke="#222" stroke-width="0.9"/>
<text x="46.5" y="220.51" font-size="10.3" text-anchor="end" fill="#111">A</text>
<line x1="48" y1="226.75" x2="51" y2="226.75" stroke="#222" stroke-width="0.9"/>
<text x="46.5" y="230.34" font-size="10.3" text-anchor="end" fill="#111">C</text>
<line x1="48" y1="236.57" x2="51" y2="236.57" stroke="#222" stroke-width="0.9"/>
<text x="46.5" y="240.17" font-size="10.3" text-anchor="end" fill="#111">D</text>
<line x1="48" y1="246.41" x2="51" y2="246.41" stroke="#222" stroke-width="0.9"/>
<text x="46.5" y="250" font-size="10.3" text-anchor="end" fill="#111">E</text>
<line x1="48" y1="256.24" x2="51" y2="256.24" stroke="#222" stroke-width="0.9"/>
<text x="46.5" y="259.84" font-size="10.3" text-anchor="end" fill="#111">F</text>
<line x1="48" y1="266.06" x2="51" y2="266.06" stroke="#222" stroke-width="0.9"/>
<text x="46.5" y="269.67" font-size="10.3" text-anchor="end" fill="#111">G</text>
<line x1="48" y1="275.89" x2="51" y2="275.89" stroke="#222" stroke-width="0.9"/>
<text x="46.5" y="279.5" font-size="10.3" text-anchor="end" fill="#111">H</text>
<line x1="48" y1="285.73" x2="51" y2="285.73" stroke="#222" stroke-width="0.9"/>
<text x="46.5" y="289.33" font-size="10.3" text-anchor="end" fill="#111">I</text>
<line x1="48" y1="295.56" x2="51" y2="295.56" stroke="#222" stroke-width="0.9"/>
<text x="46.5" y="299.16" font-size="10.3" text-anchor="end" fill="#111">K</text>
<line x1="48" y1="305.38" x2="51" y2="305.38" stroke="#222" stroke-width="0.9"/>
<text x="46.5" y="308.99" font-size="10.3" text-anchor="end" fill="#111">L</text>
<line x1="48" y1="315.22" x2="51" y2="315.22" stroke="#222" stroke-width="0.9"/>
<text x="46.5" y="318.82" font-size="10.3" text-anchor="end" fill="#111">M</text>
<line x1="48" y1="325.05" x2="51" y2="325.05" stroke="#222" stroke-width="0.9"/>
<text x="46.5" y="328.65" font-size="10.3" text-anchor="end" fill="#111">N</text>
<line x1="48" y1="334.88" x2="51" y2="334.88" stroke="#222" stroke-width="0.9"/>
<text x="46.5" y="338.48" font-size="10.3" text-anchor="end" fill="#111">P</text>
<line x1="48" y1="344.71" x2="51" y2="344.71" stroke="#222" stroke-width="0.9"/>
<text x="46.5" y="348.31" font-size="10.3" text-anchor="end" fill="#111">Q</text>
<line x1="48" y1="354.53" x2="51" y2="354.53" stroke="#222" stroke-width="0.9"/>
<text x="46.5" y="358.13" font-size="10.3" text-anchor="end" fill="#111">R</text>
<line x1="48" y1="364.37" x2="51" y2="364.37" stroke="#222" stroke-width="0.9"/>
<text x="46.5" y="367.97" font-size="10.3" text-anchor="end" font-weight="bold" fill="#111">S</text>
<line x1="48" y1="374.19" x2="51" y2="374.19" stroke="#222" stroke-width="0.9"/>
<text x="46.5" y="377.8" font-size="10.3" text-anchor="end" fill="#111">T</text>
<line x1="48" y1="384.02" x2="51" y2="384.02" stroke="#222" stroke-width="0.9"/>
<text x="46.5" y="387.62" font-size="10.3" text-anchor="end" fill="#111">V</text>
<line x1="48" y1="393.86" x2="51" y2="393.86" stroke="#222" stroke-width="0.9"/>
<text x="46.5" y="397.46" font-size="10.3" text-anchor="end" fill="#111">W</text>
<line x1="48" y1="403.69" x2="51" y2="403.69" stroke="#222" stroke-width="0.9"/>
<text x="46.5" y="407.29" font-size="10.3" text-anchor="end" fill="#111">Y</text>
<line x1="244.3" y1="216.91" x2="247.3" y2="216.91" stroke="#222" stroke-width="0.9"/>
<text x="242.8" y="220.51" font-size="10.3" text-anchor="end" fill="#111">A</text>
<line x1="244.3" y1="226.75" x2="247.3" y2="226.75" stroke="#222" stroke-width="0.9"/>
<text x="242.8" y="230.34" font-size="10.3" text-anchor="end" fill="#111">C</text>
<line x1="244.3" y1="236.57" x2="247.3" y2="236.57" stroke="#222" stroke-width="0.9"/>
<text x="242.8" y="240.17" font-size="10.3" text-anchor="end" fill="#111">D</text>
<line x1="244.3" y1="246.41" x2="247.3" y2="246.41" stroke="#222" stroke-width="0.9"/>
<text x="242.8" y="250" font-size="10.3" text-anchor="end" fill="#111">E</text>
<line x1="244.3" y1="256.24" x2="247.3" y2="256.24" stroke="#222" stroke-width="0.9"/>
<text x="242.8" y="259.84" font-size="10.3" text-anchor="end" fill="#111">F</text>
<line x1="244.3" y1="266.06" x2="247.3" y2="266.06" stroke="#222" stroke-width="0.9"/>
<text x="242.8" y="269.67" font-size="10.3" text-anchor="end" fill="#111">G</text>
<line x1="244.3" y1="275.89" x2="247.3" y2="275.89" stroke="#222" stroke-width="0.9"/>
<text x="242.8" y="279.5" font-size="10.3" text-anchor="end" fill="#111">H</text>
<line x1="244.3" y1="285.73" x2="247.3" y2="285.73" stroke="#222" stroke-width="0.9"/>
<text x="242.8" y="289.33" font-size="10.3" text-anchor="end" fill="#111">I</text>
<line x1="244.3" y1="295.56" x2="247.3" y2="295.56" stroke="#222" stroke-width="0.9"/>
<text x="242.8" y="299.16" font-size="10.3" text-anchor="end" fill="#111">K</text>
<line x1="244.3" y1="305.38" x2="247.3" y2="305.38" stroke="#222" stroke-width="0.9"/>
<text x="242.8" y="308.99" font-size="10.3" text-anchor="end" fill="#111">L</text>
<line x1="244.3" y1="315.22" x2="247.3" y2="315.22" stroke="#222" stroke-width="0.9"/>
<text x="242.8" y="318.82" font-size="10.3" text-anchor="end" fill="#111">M</text>
<line x1="244.3" y1="325.05" x2="247.3" y2="325.05" stroke="#222" stroke-width="0.9"/>
<text x="242.8" y="328.65" font-size="10.3" text-anchor="end" fill="#111">N</text>
<line x1="244.3" y1="334.88" x2="247.3" y2="334.88" stroke="#222" stroke-width="0.9"/>
<text x="242.8" y="338.48" font-size="10.3" text-anchor="end" fill="#111">P</text>
<line x1="244.3" y1="344.71" x2="247.3" y2="344.71" stroke="#222" stroke-width="0.9"/>
<text x="242.8" y="348.31" font-size="10.3" text-anchor="end" fill="#111">Q</text>
<line x1="244.3" y1="354.53" x2="247.3" y2="354.53" stroke="#222" stroke-width="0.9"/>
<text x="242.8" y="358.13" font-size="10.3" text-anchor="end" fill="#111">R</text>
<line x1="244.3" y1="364.37" x2="247.3" y2="364.37" stroke="#222" stroke-width="0.9"/>
<text x="242.8" y="367.97" font-size="10.3" text-anchor="end" font-weight="bold" fill="#111">S</text>
<line x1="244.3" y1="374.19" x2="247.3" y2="374.19" stroke="#222" stroke-width="0.9"/>
<text x="242.8" y="377.8" font-size="10.3" text-anchor="end" fill="#111">T</text>
<line x1="244.3" y1="384.02" x2="247.3" y2="384.02" stroke="#222" stroke-width="0.9"/>
<text x="242.8" y="387.62" font-size="10.3" text-anchor="end" fill="#111">V</text>
<line x1="244.3" y1="393.86" x2="247.3" y2="393.86" stroke="#222" stroke-width="0.9"/>
<text x="242.8" y="397.46" font-size="10.3" text-anchor="end" fill="#111">W</text>
<line x1="244.3" y1="403.69" x2="247.3" y2="403.69" stroke="#222" stroke-width="0.9"/>
<text x="242.8" y="407.29" font-size="10.3" text-anchor="end" fill="#111">Y</text>
<line x1="440.3" y1="216.91" x2="443.3" y2="216.91" stroke="#222" stroke-width="0.9"/>
<text x="438.8" y="220.51" font-size="10.3" text-anchor="end" fill="#111">A</text>
<line x1="440.3" y1="226.75" x2="443.3" y2="226.75" stroke="#222" stroke-width="0.9"/>
<text x="438.8" y="230.34" font-size="10.3" text-anchor="end" fill="#111">C</text>
<line x1="440.3" y1="236.57" x2="443.3" y2="236.57" stroke="#222" stroke-width="0.9"/>
<text x="438.8" y="240.17" font-size="10.3" text-anchor="end" fill="#111">D</text>
<line x1="440.3" y1="246.41" x2="443.3" y2="246.41" stroke="#222" stroke-width="0.9"/>
<text x="438.8" y="250" font-size="10.3" text-anchor="end" fill="#111">E</text>
<line x1="440.3" y1="256.24" x2="443.3" y2="256.24" stroke="#222" stroke-width="0.9"/>
<text x="438.8" y="259.84" font-size="10.3" text-anchor="end" fill="#111">F</text>
<line x1="440.3" y1="266.06" x2="443.3" y2="266.06" stroke="#222" stroke-width="0.9"/>
<text x="438.8" y="269.67" font-size="10.3" text-anchor="end" fill="#111">G</text>
<line x1="440.3" y1="275.89" x2="443.3" y2="275.89" stroke="#222" stroke-width="0.9"/>
<text x="438.8" y="279.5" font-size="10.3" text-anchor="end" fill="#111">H</text>
<line x1="440.3" y1="285.73" x2="443.3" y2="285.73" stroke="#222" stroke-width="0.9"/>
<text x="438.8" y="289.33" font-size="10.3" text-anchor="end" fill="#111">I</text>
<line x1="440.3" y1="295.56" x2="443.3" y2="295.56" stroke="#222" stroke-width="0.9"/>
<text x="438.8" y="299.16" font-size="10.3" text-anchor="end" fill="#111">K</text>
<line x1="440.3" y1="305.38" x2="443.3" y2="305.38" stroke="#222" stroke-width="0.9"/>
<text x="438.8" y="308.99" font-size="10.3" text-anchor="end" fill="#111">L</text>
<line x1="440.3" y1="315.22" x2="443.3" y2="315.22" stroke="#222" stroke-width="0.9"/>
<text x="438.8" y="318.82" font-size="10.3" text-anchor="end" fill="#111">M</text>
<line x1="440.3" y1="325.05" x2="443.3" y2="325.05" stroke="#222" stroke-width="0.9"/>
<text x="438.8" y="328.65" font-size="10.3" text-anchor="end" fill="#111">N</text>
<line x1="440.3" y1="334.88" x2="443.3" y2="334.88" stroke="#222" stroke-width="0.9"/>
<text x="438.8" y="338.48" font-size="10.3" text-anchor="end" fill="#111">P</text>
<line x1="440.3" y1="344.71" x2="443.3" y2="344.71" stroke="#222" stroke-width="0.9"/>
<text x="438.8" y="348.31" font-size="10.3" text-anchor="end" fill="#111">Q</text>
<line x1="440.3" y1="354.53" x2="443.3" y2="354.53" stroke="#222" stroke-width="0.9"/>
<text x="438.8" y="358.13" font-size="10.3" text-anchor="end" fill="#111">R</text>
<line x1="440.3" y1="364.37" x2="443.3" y2="364.37" stroke="#222" stroke-width="0.9"/>
<text x="438.8" y="367.97" font-size="10.3" text-anchor="end" font-weight="bold" fill="#111">S</text>
<line x1="440.3" y1="374.19" x2="443.3" y2="374.19" stroke="#222" stroke-width="0.9"/>
<text x="438.8" y="377.8" font-size="10.3" text-anchor="end" fill="#111">T</text>
<line x1="440.3" y1="384.02" x2="443.3" y2="384.02" stroke="#222" stroke-width="0.9"/>
<text x="438.8" y="387.62" font-size="10.3" text-anchor="end" fill="#111">V</text>
<line x1="440.3" y1="393.86" x2="443.3" y2="393.86" stroke="#222" stroke-width="0.9"/>
<text x="438.8" y="397.46" font-size="10.3" text-anchor="end" fill="#111">W</text>
<line x1="440.3" y1="403.69" x2="443.3" y2="403.69" stroke="#222" stroke-width="0.9"/>
<text x="438.8" y="407.29" font-size="10.3" text-anchor="end" fill="#111">Y</text>
<text x="140.25" y="209.2" font-size="11.9" text-anchor="middle" fill="#111">library A</text>
<text x="335.4" y="209.2" font-size="11.9" text-anchor="middle" fill="#111">library B</text>
<text x="530.15" y="209.2" font-size="11.9" text-anchor="middle" fill="#111">library AB</text>
<text x="142.55" y="422.6" font-size="12" text-anchor="middle" fill="#111">TEVp variants (n= 6,626)</text>
<text x="338.7" y="422.6" font-size="12" text-anchor="middle" fill="#111">TEVp variants (n= 786)</text>
<text x="534.95" y="422.6" font-size="12" text-anchor="middle" fill="#111">TEVp variants (n= 17,867)</text>
<text font-size="12" text-anchor="middle" fill="#111" transform="translate(28.5 310) rotate(-90)">amino acid in P1'</text>
<text x="626.5" y="270.6" font-size="11.9" fill="#111">activity ,</text>
<text x="626.5" y="282.8" font-size="11.9" fill="#111">a.u.</text>
<rect x="626.5" y="288.6" width="13.4" height="65.1" fill="url(#magV)"/>
<text x="645.7" y="298.9" font-size="9.8" fill="#1a1a1a">0.20</text>
<line x1="626.5" y1="295.5" x2="629.2" y2="295.5" stroke="#fff" stroke-width="0.6" opacity=".7"/>
<line x1="637.2" y1="295.5" x2="639.9" y2="295.5" stroke="#fff" stroke-width="0.6" opacity=".7"/>
<text x="645.7" y="313.6" font-size="9.8" fill="#1a1a1a">0.15</text>
<line x1="626.5" y1="310.2" x2="629.2" y2="310.2" stroke="#fff" stroke-width="0.6" opacity=".7"/>
<line x1="637.2" y1="310.2" x2="639.9" y2="310.2" stroke="#fff" stroke-width="0.6" opacity=".7"/>
<text x="645.7" y="328.2" font-size="9.8" fill="#1a1a1a">0.10</text>
<line x1="626.5" y1="324.8" x2="629.2" y2="324.8" stroke="#fff" stroke-width="0.6" opacity=".7"/>
<line x1="637.2" y1="324.8" x2="639.9" y2="324.8" stroke="#fff" stroke-width="0.6" opacity=".7"/>
<text x="645.7" y="342.9" font-size="9.8" fill="#1a1a1a">0.05</text>
<line x1="626.5" y1="339.5" x2="629.2" y2="339.5" stroke="#fff" stroke-width="0.6" opacity=".7"/>
<line x1="637.2" y1="339.5" x2="639.9" y2="339.5" stroke="#fff" stroke-width="0.6" opacity=".7"/>
<text x="645.7" y="356.8" font-size="9.8" fill="#1a1a1a">0.00</text>
<text x="2" y="441.5" font-size="17.5" font-weight="bold">d</text>
<rect x="83.8" y="443.8" width="12.78" height="22.6" fill="#d9466b"/><rect x="96.28" y="443.8" width="12.78" height="22.6" fill="#f2645c"/><rect x="108.76" y="443.8" width="12.78" height="22.6" fill="#19103f"/><rect x="121.24" y="443.8" width="12.78" height="22.6" fill="#000004"/><rect x="133.72" y="443.8" width="12.78" height="22.6" fill="#36106b"/><rect x="146.2" y="443.8" width="12.78" height="22.6" fill="#eb5760"/><rect x="158.68" y="443.8" width="12.78" height="22.6" fill="#762181"/><rect x="171.16" y="443.8" width="12.78" height="22.6" fill="#000004"/><rect x="183.64" y="443.8" width="12.78" height="22.6" fill="#000004"/><rect x="196.12" y="443.8" width="12.78" height="22.6" fill="#000004"/><rect x="208.6" y="443.8" width="12.78" height="22.6" fill="#56147d"/><rect x="221.08" y="443.8" width="12.78" height="22.6" fill="#792282"/><rect x="233.56" y="443.8" width="12.78" height="22.6" fill="#000004"/><rect x="246.04" y="443.8" width="12.78" height="22.6" fill="#050416"/><rect x="258.52" y="443.8" width="12.78" height="22.6" fill="#000004"/><rect x="271" y="443.8" width="12.78" height="22.6" fill="#e24d66"/><rect x="283.48" y="443.8" width="12.78" height="22.6" fill="#000004"/><rect x="295.96" y="443.8" width="12.78" height="22.6" fill="#000004"/><rect x="308.44" y="443.8" width="12.78" height="22.6" fill="#150e38"/><rect x="320.92" y="443.8" width="12.78" height="22.6" fill="#29115a"/>
<line x1="80.8" y1="455.1" x2="83.8" y2="455.1" stroke="#222" stroke-width="0.9"/>
<text x="78.8" y="458.4" font-size="9.7" text-anchor="end" fill="#1a1a1a">parent</text>
<rect x="83.8" y="469.9" width="12.78" height="22.6" fill="#641a80"/><rect x="96.28" y="469.9" width="12.78" height="22.6" fill="#6a1c81"/><rect x="108.76" y="469.9" width="12.78" height="22.6" fill="#0a0822"/><rect x="121.24" y="469.9" width="12.78" height="22.6" fill="#000004"/><rect x="133.72" y="469.9" width="12.78" height="22.6" fill="#0e0b2b"/><rect x="146.2" y="469.9" width="12.78" height="22.6" fill="#882781"/><rect x="158.68" y="469.9" width="12.78" height="22.6" fill="#762181"/><rect x="171.16" y="469.9" width="12.78" height="22.6" fill="#000004"/><rect x="183.64" y="469.9" width="12.78" height="22.6" fill="#000004"/><rect x="196.12" y="469.9" width="12.78" height="22.6" fill="#050416"/><rect x="208.6" y="469.9" width="12.78" height="22.6" fill="#621980"/><rect x="221.08" y="469.9" width="12.78" height="22.6" fill="#21114e"/><rect x="233.56" y="469.9" width="12.78" height="22.6" fill="#000004"/><rect x="246.04" y="469.9" width="12.78" height="22.6" fill="#050416"/><rect x="258.52" y="469.9" width="12.78" height="22.6" fill="#000004"/><rect x="271" y="469.9" width="12.78" height="22.6" fill="#5c167f"/><rect x="283.48" y="469.9" width="12.78" height="22.6" fill="#000004"/><rect x="295.96" y="469.9" width="12.78" height="22.6" fill="#000004"/><rect x="308.44" y="469.9" width="12.78" height="22.6" fill="#f2645c"/><rect x="320.92" y="469.9" width="12.78" height="22.6" fill="#150e38"/>
<line x1="80.8" y1="481.2" x2="83.8" y2="481.2" stroke="#222" stroke-width="0.9"/>
<text x="78.8" y="484.5" font-size="9.7" text-anchor="end" fill="#1a1a1a">T30G+L32T</text>
<rect x="83.8" y="495.9" width="12.78" height="22.75" fill="#cd4071"/><rect x="96.28" y="495.9" width="12.78" height="22.75" fill="#dc4869"/><rect x="108.76" y="495.9" width="12.78" height="22.75" fill="#36106b"/><rect x="121.24" y="495.9" width="12.78" height="22.75" fill="#07061c"/><rect x="133.72" y="495.9" width="12.78" height="22.75" fill="#762181"/><rect x="146.2" y="495.9" width="12.78" height="22.75" fill="#d6456c"/><rect x="158.68" y="495.9" width="12.78" height="22.75" fill="#c53c74"/><rect x="171.16" y="495.9" width="12.78" height="22.75" fill="#19103f"/><rect x="183.64" y="495.9" width="12.78" height="22.75" fill="#0a0822"/><rect x="196.12" y="495.9" width="12.78" height="22.75" fill="#5a167e"/><rect x="208.6" y="495.9" width="12.78" height="22.75" fill="#cd4071"/><rect x="221.08" y="495.9" width="12.78" height="22.75" fill="#671b80"/><rect x="233.56" y="495.9" width="12.78" height="22.75" fill="#000004"/><rect x="246.04" y="495.9" width="12.78" height="22.75" fill="#451077"/><rect x="258.52" y="495.9" width="12.78" height="22.75" fill="#000004"/><rect x="271" y="495.9" width="12.78" height="22.75" fill="#ab337c"/><rect x="283.48" y="495.9" width="12.78" height="22.75" fill="#150e38"/><rect x="295.96" y="495.9" width="12.78" height="22.75" fill="#4c117a"/><rect x="308.44" y="495.9" width="12.78" height="22.75" fill="#792282"/><rect x="320.92" y="495.9" width="12.78" height="22.75" fill="#641a80"/>
<line x1="80.8" y1="507.2" x2="83.8" y2="507.2" stroke="#222" stroke-width="0.9"/>
<text x="78.8" y="510.5" font-size="9.7" text-anchor="end" fill="#1a1a1a">T30A</text>
<rect x="83.8" y="518.5" width="12.78" height="22.75" fill="#f2645c"/><rect x="96.28" y="518.5" width="12.78" height="22.75" fill="#fe9f6d"/><rect x="108.76" y="518.5" width="12.78" height="22.75" fill="#7c2382"/><rect x="121.24" y="518.5" width="12.78" height="22.75" fill="#19103f"/><rect x="133.72" y="518.5" width="12.78" height="22.75" fill="#e34e65"/><rect x="146.2" y="518.5" width="12.78" height="22.75" fill="#f9795d"/><rect x="158.68" y="518.5" width="12.78" height="22.75" fill="#f4695c"/><rect x="171.16" y="518.5" width="12.78" height="22.75" fill="#21114e"/><rect x="183.64" y="518.5" width="12.78" height="22.75" fill="#150e38"/><rect x="196.12" y="518.5" width="12.78" height="22.75" fill="#762181"/><rect x="208.6" y="518.5" width="12.78" height="22.75" fill="#fb8761"/><rect x="221.08" y="518.5" width="12.78" height="22.75" fill="#e85362"/><rect x="233.56" y="518.5" width="12.78" height="22.75" fill="#000004"/><rect x="246.04" y="518.5" width="12.78" height="22.75" fill="#942c80"/><rect x="258.52" y="518.5" width="12.78" height="22.75" fill="#000004"/><rect x="271" y="518.5" width="12.78" height="22.75" fill="#f7705c"/><rect x="283.48" y="518.5" width="12.78" height="22.75" fill="#19103f"/><rect x="295.96" y="518.5" width="12.78" height="22.75" fill="#8c2981"/><rect x="308.44" y="518.5" width="12.78" height="22.75" fill="#f05f5e"/><rect x="320.92" y="518.5" width="12.78" height="22.75" fill="#d8456c"/>
<line x1="80.8" y1="529.8" x2="83.8" y2="529.8" stroke="#222" stroke-width="0.9"/>
<text x="78.8" y="533.1" font-size="9.7" text-anchor="end" fill="#1a1a1a">T30A+S31T</text>
<rect x="83.8" y="541.1" width="12.78" height="22.6" fill="#feb47b"/><rect x="96.28" y="541.1" width="12.78" height="22.6" fill="#fde5a7"/><rect x="108.76" y="541.1" width="12.78" height="22.6" fill="#000004"/><rect x="121.24" y="541.1" width="12.78" height="22.6" fill="#000004"/><rect x="133.72" y="541.1" width="12.78" height="22.6" fill="#fcf4b6"/><rect x="146.2" y="541.1" width="12.78" height="22.6" fill="#fcfdbf"/><rect x="158.68" y="541.1" width="12.78" height="22.6" fill="#942c80"/><rect x="171.16" y="541.1" width="12.78" height="22.6" fill="#56147d"/><rect x="183.64" y="541.1" width="12.78" height="22.6" fill="#56147d"/><rect x="196.12" y="541.1" width="12.78" height="22.6" fill="#7b2382"/><rect x="208.6" y="541.1" width="12.78" height="22.6" fill="#feb97f"/><rect x="221.08" y="541.1" width="12.78" height="22.6" fill="#fec185"/><rect x="233.56" y="541.1" width="12.78" height="22.6" fill="#000004"/><rect x="246.04" y="541.1" width="12.78" height="22.6" fill="#19103f"/><rect x="258.52" y="541.1" width="12.78" height="22.6" fill="#5d177f"/><rect x="271" y="541.1" width="12.78" height="22.6" fill="#fec88c"/><rect x="283.48" y="541.1" width="12.78" height="22.6" fill="#3f0f72"/><rect x="295.96" y="541.1" width="12.78" height="22.6" fill="#7f7f7f"/><rect x="308.44" y="541.1" width="12.78" height="22.6" fill="#7f7f7f"/><rect x="320.92" y="541.1" width="12.78" height="22.6" fill="#8e2a81"/>
<line x1="80.8" y1="552.4" x2="83.8" y2="552.4" stroke="#222" stroke-width="0.9"/>
<text x="78.8" y="555.7" font-size="9.7" text-anchor="end" fill="#1a1a1a">T30D</text>
<rect x="334.4" y="443.8" width="22.8" height="22.6" fill="#d2d2d2"/>
<rect x="334.4" y="469.9" width="22.8" height="22.6" fill="#d2d2d2"/>
<rect x="334.4" y="495.9" width="22.8" height="67.8" fill="#d2d2d2"/>
<text x="345.8" y="453" font-size="7" text-anchor="middle" fill="#333">wt-</text>
<text x="345.8" y="462" font-size="7" text-anchor="middle" fill="#333">like</text>
<text x="345.8" y="479" font-size="7" text-anchor="middle" fill="#333">Trp-</text>
<text x="345.8" y="488.2" font-size="7" text-anchor="middle" fill="#333">spec.</text>
<text font-size="7" text-anchor="middle" fill="#333" transform="translate(343.4 529.8) rotate(90)">promiscuous</text>
<line x1="90.04" y1="563.7" x2="90.04" y2="566.2" stroke="#222" stroke-width="0.9"/>
<text x="90.04" y="577.2" font-size="9.7" text-anchor="middle" fill="#1a1a1a">A</text>
<line x1="102.52" y1="563.7" x2="102.52" y2="566.2" stroke="#222" stroke-width="0.9"/>
<text x="102.52" y="577.2" font-size="9.7" text-anchor="middle" fill="#1a1a1a">C</text>
<line x1="115" y1="563.7" x2="115" y2="566.2" stroke="#222" stroke-width="0.9"/>
<text x="115" y="577.2" font-size="9.7" text-anchor="middle" fill="#1a1a1a">D</text>
<line x1="127.48" y1="563.7" x2="127.48" y2="566.2" stroke="#222" stroke-width="0.9"/>
<text x="127.48" y="577.2" font-size="9.7" text-anchor="middle" fill="#1a1a1a">E</text>
<line x1="139.96" y1="563.7" x2="139.96" y2="566.2" stroke="#222" stroke-width="0.9"/>
<text x="139.96" y="577.2" font-size="9.7" text-anchor="middle" fill="#1a1a1a">F</text>
<line x1="152.44" y1="563.7" x2="152.44" y2="566.2" stroke="#222" stroke-width="0.9"/>
<text x="152.44" y="577.2" font-size="9.7" text-anchor="middle" fill="#1a1a1a">G</text>
<line x1="164.92" y1="563.7" x2="164.92" y2="566.2" stroke="#222" stroke-width="0.9"/>
<text x="164.92" y="577.2" font-size="9.7" text-anchor="middle" font-weight="bold" fill="#1a1a1a">H</text>
<line x1="177.4" y1="563.7" x2="177.4" y2="566.2" stroke="#222" stroke-width="0.9"/>
<text x="177.4" y="577.2" font-size="9.7" text-anchor="middle" fill="#1a1a1a">I</text>
<line x1="189.88" y1="563.7" x2="189.88" y2="566.2" stroke="#222" stroke-width="0.9"/>
<text x="189.88" y="577.2" font-size="9.7" text-anchor="middle" fill="#1a1a1a">K</text>
<line x1="202.36" y1="563.7" x2="202.36" y2="566.2" stroke="#222" stroke-width="0.9"/>
<text x="202.36" y="577.2" font-size="9.7" text-anchor="middle" fill="#1a1a1a">L</text>
<line x1="214.84" y1="563.7" x2="214.84" y2="566.2" stroke="#222" stroke-width="0.9"/>
<text x="214.84" y="577.2" font-size="9.7" text-anchor="middle" font-weight="bold" fill="#1a1a1a">M</text>
<line x1="227.32" y1="563.7" x2="227.32" y2="566.2" stroke="#222" stroke-width="0.9"/>
<text x="227.32" y="577.2" font-size="9.7" text-anchor="middle" fill="#1a1a1a">N</text>
<line x1="239.8" y1="563.7" x2="239.8" y2="566.2" stroke="#222" stroke-width="0.9"/>
<text x="239.8" y="577.2" font-size="9.7" text-anchor="middle" fill="#1a1a1a">P</text>
<line x1="252.28" y1="563.7" x2="252.28" y2="566.2" stroke="#222" stroke-width="0.9"/>
<text x="252.28" y="577.2" font-size="9.7" text-anchor="middle" fill="#1a1a1a">Q</text>
<line x1="264.76" y1="563.7" x2="264.76" y2="566.2" stroke="#222" stroke-width="0.9"/>
<text x="264.76" y="577.2" font-size="9.7" text-anchor="middle" fill="#1a1a1a">R</text>
<line x1="277.24" y1="563.7" x2="277.24" y2="566.2" stroke="#222" stroke-width="0.9"/>
<text x="277.24" y="577.2" font-size="9.7" text-anchor="middle" font-weight="bold" fill="#1a1a1a">S</text>
<line x1="289.72" y1="563.7" x2="289.72" y2="566.2" stroke="#222" stroke-width="0.9"/>
<text x="289.72" y="577.2" font-size="9.7" text-anchor="middle" font-weight="bold" fill="#1a1a1a">T</text>
<line x1="302.2" y1="563.7" x2="302.2" y2="566.2" stroke="#222" stroke-width="0.9"/>
<text x="302.2" y="577.2" font-size="9.7" text-anchor="middle" fill="#1a1a1a">V</text>
<line x1="314.68" y1="563.7" x2="314.68" y2="566.2" stroke="#222" stroke-width="0.9"/>
<text x="314.68" y="577.2" font-size="9.7" text-anchor="middle" font-weight="bold" fill="#1a1a1a">W</text>
<line x1="327.16" y1="563.7" x2="327.16" y2="566.2" stroke="#222" stroke-width="0.9"/>
<text x="327.16" y="577.2" font-size="9.7" text-anchor="middle" fill="#1a1a1a">Y</text>
<text x="210.4" y="589.6" font-size="12" text-anchor="middle" fill="#111">amino acid in P1'</text>
<text font-size="12" text-anchor="middle" fill="#111" transform="translate(19 503.5) rotate(-90)">TEVp variant</text>
<path d="M164.92 432.4V440" stroke="#f00" stroke-width="1.4" fill="none"/><path d="M162.02 437.6L164.92 442.6L167.82 437.6Z" fill="#f00"/>
<path d="M214.84 432.4V440" stroke="#f00" stroke-width="1.4" fill="none"/><path d="M211.94 437.6L214.84 442.6L217.74 437.6Z" fill="#f00"/>
<path d="M277.24 432.4V440" stroke="#f00" stroke-width="1.4" fill="none"/><path d="M274.34 437.6L277.24 442.6L280.14 437.6Z" fill="#f00"/>
<path d="M289.72 432.4V440" stroke="#f00" stroke-width="1.4" fill="none"/><path d="M286.82 437.6L289.72 442.6L292.62 437.6Z" fill="#f00"/>
<path d="M314.68 432.4V440" stroke="#f00" stroke-width="1.4" fill="none"/><path d="M311.78 437.6L314.68 442.6L317.58 437.6Z" fill="#f00"/>
<text x="361.8" y="465" font-size="12" fill="#111">activity ,</text>
<text x="361.8" y="479.2" font-size="12" fill="#111">a.u.</text>
<rect x="362" y="484.6" width="12.6" height="62.2" fill="url(#magV)"/>
<text x="378.8" y="500.5" font-size="9.7" fill="#1a1a1a">0.15</text>
<line x1="362" y1="497.2" x2="364.5" y2="497.2" stroke="#fff" stroke-width="0.6" opacity=".7"/>
<line x1="372.1" y1="497.2" x2="374.6" y2="497.2" stroke="#fff" stroke-width="0.6" opacity=".7"/>
<text x="378.8" y="516.9" font-size="9.7" fill="#1a1a1a">0.10</text>
<line x1="362" y1="513.6" x2="364.5" y2="513.6" stroke="#fff" stroke-width="0.6" opacity=".7"/>
<line x1="372.1" y1="513.6" x2="374.6" y2="513.6" stroke="#fff" stroke-width="0.6" opacity=".7"/>
<text x="378.8" y="533.4" font-size="9.7" fill="#1a1a1a">0.05</text>
<line x1="362" y1="530.1" x2="364.5" y2="530.1" stroke="#fff" stroke-width="0.6" opacity=".7"/>
<line x1="372.1" y1="530.1" x2="374.6" y2="530.1" stroke="#fff" stroke-width="0.6" opacity=".7"/>
<text x="378.8" y="549.8" font-size="9.7" fill="#1a1a1a">0.00</text>
<text x="427" y="441.5" font-size="17.5" font-weight="bold">e</text>
<rect x="514.9" y="442.8" width="18.3" height="22.8" fill="#de4968"/><rect x="532.9" y="442.8" width="18.3" height="22.8" fill="#3b0f70"/><rect x="550.9" y="442.8" width="18.3" height="22.8" fill="#fec68a"/><rect x="568.9" y="442.8" width="18.3" height="22.8" fill="#03030f"/><rect x="586.9" y="442.8" width="18.3" height="22.8" fill="#29115a"/>
<line x1="511.9" y1="454.2" x2="514.9" y2="454.2" stroke="#222" stroke-width="0.9"/>
<text x="509.9" y="457.5" font-size="9.7" text-anchor="end" fill="#1a1a1a">parent</text>
<rect x="514.9" y="468.6" width="18.3" height="22.8" fill="#0e0b2b"/><rect x="532.9" y="468.6" width="18.3" height="22.8" fill="#050416"/><rect x="550.9" y="468.6" width="18.3" height="22.8" fill="#4c117a"/><rect x="568.9" y="468.6" width="18.3" height="22.8" fill="#000004"/><rect x="586.9" y="468.6" width="18.3" height="22.8" fill="#cf4070"/>
<line x1="511.9" y1="480" x2="514.9" y2="480" stroke="#222" stroke-width="0.9"/>
<text x="509.9" y="483.3" font-size="9.7" text-anchor="end" fill="#1a1a1a">T30G+L32T</text>
<rect x="514.9" y="494.4" width="18.3" height="22.82" fill="#e85362"/><rect x="532.9" y="494.4" width="18.3" height="22.82" fill="#a5317e"/><rect x="550.9" y="494.4" width="18.3" height="22.82" fill="#febd82"/><rect x="568.9" y="494.4" width="18.3" height="22.82" fill="#03030f"/><rect x="586.9" y="494.4" width="18.3" height="22.82" fill="#e44f64"/>
<line x1="511.9" y1="505.73" x2="514.9" y2="505.73" stroke="#222" stroke-width="0.9"/>
<text x="509.9" y="509.03" font-size="9.7" text-anchor="end" fill="#1a1a1a">T30A</text>
<rect x="514.9" y="517.07" width="18.3" height="22.82" fill="#cf4070"/><rect x="532.9" y="517.07" width="18.3" height="22.82" fill="#c23b75"/><rect x="550.9" y="517.07" width="18.3" height="22.82" fill="#fcf7b9"/><rect x="568.9" y="517.07" width="18.3" height="22.82" fill="#120d31"/><rect x="586.9" y="517.07" width="18.3" height="22.82" fill="#fd9b6b"/>
<line x1="511.9" y1="528.4" x2="514.9" y2="528.4" stroke="#222" stroke-width="0.9"/>
<text x="509.9" y="531.7" font-size="9.7" text-anchor="end" fill="#1a1a1a">T30A+S31T</text>
<rect x="514.9" y="539.73" width="18.3" height="22.67" fill="#331067"/><rect x="532.9" y="539.73" width="18.3" height="22.67" fill="#a5317e"/><rect x="550.9" y="539.73" width="18.3" height="22.67" fill="#fec488"/><rect x="568.9" y="539.73" width="18.3" height="22.67" fill="#03030f"/><rect x="586.9" y="539.73" width="18.3" height="22.67" fill="#251255"/>
<line x1="511.9" y1="551.07" x2="514.9" y2="551.07" stroke="#222" stroke-width="0.9"/>
<text x="509.9" y="554.37" font-size="9.7" text-anchor="end" fill="#1a1a1a">T30D</text>
<line x1="523.9" y1="562.4" x2="523.9" y2="565" stroke="#222" stroke-width="0.9"/>
<text x="523.9" y="575.2" font-size="9.7" text-anchor="middle" fill="#1a1a1a">H</text>
<line x1="541.9" y1="562.4" x2="541.9" y2="565" stroke="#222" stroke-width="0.9"/>
<text x="541.9" y="575.2" font-size="9.7" text-anchor="middle" fill="#1a1a1a">M</text>
<line x1="559.9" y1="562.4" x2="559.9" y2="565" stroke="#222" stroke-width="0.9"/>
<text x="559.9" y="575.2" font-size="9.7" text-anchor="middle" fill="#1a1a1a">S</text>
<line x1="577.9" y1="562.4" x2="577.9" y2="565" stroke="#222" stroke-width="0.9"/>
<text x="577.9" y="575.2" font-size="9.7" text-anchor="middle" fill="#1a1a1a">T</text>
<line x1="595.9" y1="562.4" x2="595.9" y2="565" stroke="#222" stroke-width="0.9"/>
<text x="595.9" y="575.2" font-size="9.7" text-anchor="middle" fill="#1a1a1a">W</text>
<text x="560.8" y="589.4" font-size="12" text-anchor="middle" fill="#111">amino acid in P1'</text>
<text font-size="12" text-anchor="middle" fill="#111" transform="translate(447.5 505) rotate(-90)">TEVp variant</text>
<rect x="612.1" y="468.6" width="14.8" height="66.4" fill="url(#magV)"/>
<text x="631.5" y="476.9" font-size="9.7" fill="#1a1a1a">30</text>
<line x1="612.1" y1="473.6" x2="615" y2="473.6" stroke="#fff" stroke-width="0.6" opacity=".7"/>
<line x1="624" y1="473.6" x2="626.9" y2="473.6" stroke="#fff" stroke-width="0.6" opacity=".7"/>
<text x="631.5" y="496.5" font-size="9.7" fill="#1a1a1a">20</text>
<line x1="612.1" y1="493.2" x2="615" y2="493.2" stroke="#fff" stroke-width="0.6" opacity=".7"/>
<line x1="624" y1="493.2" x2="626.9" y2="493.2" stroke="#fff" stroke-width="0.6" opacity=".7"/>
<text x="631.5" y="515.7" font-size="9.7" fill="#1a1a1a">10</text>
<line x1="612.1" y1="512.4" x2="615" y2="512.4" stroke="#fff" stroke-width="0.6" opacity=".7"/>
<line x1="624" y1="512.4" x2="626.9" y2="512.4" stroke="#fff" stroke-width="0.6" opacity=".7"/>
<text x="631.5" y="534.9" font-size="9.7" fill="#1a1a1a">0</text>
<line x1="612.1" y1="531.6" x2="615" y2="531.6" stroke="#fff" stroke-width="0.6" opacity=".7"/>
<line x1="624" y1="531.6" x2="626.9" y2="531.6" stroke="#fff" stroke-width="0.6" opacity=".7"/>
<text font-size="12" text-anchor="middle" fill="#111" transform="translate(660.5 502) rotate(90)">activity (in vitro) ,</text>
<text font-size="12" text-anchor="middle" fill="#111" transform="translate(647.5 502) rotate(90)">% sub.conv. h<tspan font-size="7.5" dy="-4">-1</tspan></text>
<text x="0.6" y="609.3" font-size="17.5" font-weight="bold">f</text>
<path d="M53.7 657 H151.9 L110 674 L151.9 690.5 H53.7 L94 674 Z" fill="#e9eff8"/>
<path d="M53.7 706 H151.9 L110 722.8 L151.9 739.6 H53.7 L94 722.8 Z" fill="#e9eff8"/>
<rect x="53.7" y="604.2" width="98.2" height="23.8" fill="#ececec" stroke="#8a8a8a" stroke-width=".8"/>
<text x="102.8" y="614.8" font-size="10.2" text-anchor="middle" fill="#111">TEVp sequence</text>
<text x="102.8" y="624.4" font-size="6.9" text-anchor="middle" fill="#222">30 | 31 | 32 | 217 | 218 | 219</text>
<rect x="53.7" y="641.4" width="98.2" height="15.6" fill="#ececec" stroke="#8a8a8a" stroke-width=".8"/>
<text x="102.8" y="652.6" font-size="9.8" text-anchor="middle" fill="#111">BLOSUM features</text>
<rect x="53.7" y="690.5" width="98.2" height="15.6" fill="#dbe5f5" stroke="#8eaede" stroke-width=".8"/>
<text x="102.8" y="701.8" font-size="9.8" text-anchor="middle" fill="#111">440 units</text>
<rect x="53.7" y="739.6" width="98.2" height="15.6" fill="#dbe5f5" stroke="#8eaede" stroke-width=".8"/>
<text x="102.8" y="750.9" font-size="9.8" text-anchor="middle" fill="#111">20 units</text>
<path d="M102.3 629.5V637.2" stroke="#000" stroke-width="1.3" fill="none"/><path d="M98.6 634.8L102.3 640.2L106 634.8Z" fill="#000"/>
<path d="M102.3 757V764.2" stroke="#000" stroke-width="1.3" fill="none"/><path d="M98.6 761.8L102.3 767.2L106 761.8Z" fill="#000"/>
<circle cx="102.3" cy="674" r="8.6" fill="#dbe5f5" stroke="#333" stroke-width=".7"/><path d="M96 676.4 H102.4 L108.6 670.6" fill="none" stroke="#111" stroke-width="1.1"/>
<text x="92.6" y="676.8" font-size="8" text-anchor="end" fill="#111">LeakyReLU</text>
<circle cx="102.3" cy="722.8" r="8.6" fill="#dbe5f5" stroke="#333" stroke-width=".7"/><path d="M95.8 726 H99.5 Q102.2 726 102.3 722.8 Q102.4 719.6 105.2 719.6 H108.8" fill="none" stroke="#111" stroke-width="1.1"/>
<text x="92.6" y="725.4" font-size="8" text-anchor="end" fill="#111">sigmoid</text>
<path d="M51 657 H45.4 V755.3 H51" fill="none" stroke="#8eaede" stroke-width=".8"/>
<text x="14.6" y="709.6" font-size="12" fill="#5b8dd6">MLP</text>
<text x="13.4" y="619.8" font-size="12" fill="#111">input</text>
<text x="2.2" y="652.4" font-size="12" fill="#111">encoding</text>
<text x="9.8" y="779.6" font-size="12" fill="#111">output</text>
<rect x="54.1" y="768.2" width="97.8" height="15.6" fill="#000004"/>
<rect x="63.88" y="768.2" width="4.99" height="15.6" fill="#21114e"/>
<rect x="68.77" y="768.2" width="4.99" height="15.6" fill="#7c2382"/>
<rect x="78.55" y="768.2" width="4.99" height="15.6" fill="#fe9f6d"/>
<rect x="83.44" y="768.2" width="4.99" height="15.6" fill="#21114e"/>
<rect x="88.33" y="768.2" width="4.99" height="15.6" fill="#7c2382"/>
<rect x="98.11" y="768.2" width="4.99" height="15.6" fill="#fe9f6d"/>
<rect x="103" y="768.2" width="4.99" height="15.6" fill="#21114e"/>
<rect x="117.67" y="768.2" width="4.99" height="15.6" fill="#fe9f6d"/>
<rect x="127.45" y="768.2" width="4.99" height="15.6" fill="#8c2981"/>
<rect x="132.34" y="768.2" width="4.99" height="15.6" fill="#fdebac"/>
<rect x="137.23" y="768.2" width="4.99" height="15.6" fill="#fe9f6d"/>
<rect x="142.12" y="768.2" width="4.99" height="15.6" fill="#842681"/>
<text x="56.55" y="789.3" font-size="5.3" text-anchor="middle" fill="#222">A</text>
<text x="61.44" y="789.3" font-size="5.3" text-anchor="middle" fill="#222">C</text>
<text x="66.33" y="789.3" font-size="5.3" text-anchor="middle" fill="#222">D</text>
<text x="71.22" y="789.3" font-size="5.3" text-anchor="middle" fill="#222">E</text>
<text x="76.11" y="789.3" font-size="5.3" text-anchor="middle" fill="#222">F</text>
<text x="81" y="789.3" font-size="5.3" text-anchor="middle" fill="#222">G</text>
<text x="85.88" y="789.3" font-size="5.3" text-anchor="middle" fill="#222">H</text>
<text x="90.78" y="789.3" font-size="5.3" text-anchor="middle" fill="#222">I</text>
<text x="95.66" y="789.3" font-size="5.3" text-anchor="middle" fill="#222">K</text>
<text x="100.56" y="789.3" font-size="5.3" text-anchor="middle" fill="#222">L</text>
<text x="105.44" y="789.3" font-size="5.3" text-anchor="middle" fill="#222">M</text>
<text x="110.34" y="789.3" font-size="5.3" text-anchor="middle" fill="#222">N</text>
<text x="115.22" y="789.3" font-size="5.3" text-anchor="middle" fill="#222">P</text>
<text x="120.12" y="789.3" font-size="5.3" text-anchor="middle" fill="#222">Q</text>
<text x="125" y="789.3" font-size="5.3" text-anchor="middle" fill="#222">R</text>
<text x="129.9" y="789.3" font-size="5.3" text-anchor="middle" fill="#222">S</text>
<text x="134.78" y="789.3" font-size="5.3" text-anchor="middle" fill="#222">T</text>
<text x="139.67" y="789.3" font-size="5.3" text-anchor="middle" fill="#222">V</text>
<text x="144.56" y="789.3" font-size="5.3" text-anchor="middle" fill="#222">W</text>
<text x="149.45" y="789.3" font-size="5.3" text-anchor="middle" fill="#222">Y</text>
<text x="102.8" y="797.6" font-size="7.8" text-anchor="middle" fill="#222">P1'-amino acid</text>
<path d="M154.5 776.2 H159.1 V640.3 H164" fill="none" stroke="#000" stroke-width=".8"/><path d="M162.5 637 L168.8 640.3 L162.5 643.6 Z" fill="#000"/>
<text font-size="7.9" text-anchor="middle" fill="#111" transform="translate(165.9 710.5) rotate(-90)">exhaustive prediction</text>
<text x="206" y="620.8" font-size="11.9" text-anchor="middle" fill="#111">sequence-activity</text>
<text x="206" y="635.2" font-size="11.9" text-anchor="middle" fill="#111">landscape</text>
<rect x="170.4" y="638.2" width="73.9" height="146.6" fill="#0b0823"/>
<g shape-rendering="crispEdges"><rect x="170.4" y="638.2" width="3.75" height="1.72" fill="#1c1044"/><rect x="174.09" y="638.2" width="3.75" height="1.72" fill="#1d1147"/><rect x="188.88" y="638.2" width="3.75" height="1.72" fill="#160f3b"/><rect x="207.35" y="638.2" width="3.75" height="1.72" fill="#0e0b2b"/><rect x="211.05" y="638.2" width="3.75" height="1.72" fill="#130d34"/><rect x="225.83" y="638.2" width="3.75" height="1.72" fill="#29115a"/><rect x="174.09" y="639.87" width="3.75" height="1.72" fill="#0c0926"/><rect x="170.4" y="641.53" width="3.75" height="1.72" fill="#febf84"/><rect x="174.09" y="641.53" width="3.75" height="1.72" fill="#fb835f"/><rect x="177.79" y="641.53" width="3.75" height="1.72" fill="#1a1042"/><rect x="185.18" y="641.53" width="3.75" height="1.72" fill="#311165"/><rect x="188.88" y="641.53" width="3.75" height="1.72" fill="#f4695c"/><rect x="192.57" y="641.53" width="3.75" height="1.72" fill="#20114b"/><rect x="199.96" y="641.53" width="3.75" height="1.72" fill="#0e0b2b"/><rect x="207.35" y="641.53" width="3.75" height="1.72" fill="#ae347b"/><rect x="211.05" y="641.53" width="3.75" height="1.72" fill="#bd3977"/><rect x="218.44" y="641.53" width="3.75" height="1.72" fill="#120d31"/><rect x="225.83" y="641.53" width="3.75" height="1.72" fill="#fa7d5e"/><rect x="229.52" y="641.53" width="3.75" height="1.72" fill="#400f74"/><rect x="233.22" y="641.53" width="3.75" height="1.72" fill="#1c1044"/><rect x="236.91" y="641.53" width="3.75" height="1.72" fill="#2c115f"/><rect x="240.61" y="641.53" width="3.75" height="1.72" fill="#451077"/><rect x="170.4" y="643.2" width="3.75" height="1.72" fill="#271258"/><rect x="174.09" y="643.2" width="3.75" height="1.72" fill="#20114b"/><rect x="188.88" y="643.2" width="3.75" height="1.72" fill="#1a1042"/><rect x="207.35" y="643.2" width="3.75" height="1.72" fill="#0e0b2b"/><rect x="211.05" y="643.2" width="3.75" height="1.72" fill="#120d31"/><rect x="225.83" y="643.2" width="3.75" height="1.72" fill="#2c115f"/><rect x="170.4" y="646.53" width="3.75" height="1.72" fill="#1e1149"/><rect x="188.88" y="646.53" width="3.75" height="1.72" fill="#0e0b2b"/><rect x="225.83" y="646.53" width="3.75" height="1.72" fill="#140e36"/><rect x="170.4" y="651.53" width="3.75" height="1.72" fill="#962c80"/><rect x="174.09" y="651.53" width="3.75" height="1.72" fill="#601880"/><rect x="185.18" y="651.53" width="3.75" height="1.72" fill="#140e36"/><rect x="188.88" y="651.53" width="3.75" height="1.72" fill="#651a80"/><rect x="192.57" y="651.53" width="3.75" height="1.72" fill="#120d31"/><rect x="207.35" y="651.53" width="3.75" height="1.72" fill="#3f0f72"/><rect x="211.05" y="651.53" width="3.75" height="1.72" fill="#440f76"/><rect x="225.83" y="651.53" width="3.75" height="1.72" fill="#7c2382"/><rect x="229.52" y="651.53" width="3.75" height="1.72" fill="#19103f"/><rect x="233.22" y="651.53" width="3.75" height="1.72" fill="#0d0a29"/><rect x="236.91" y="651.53" width="3.75" height="1.72" fill="#0c0926"/><rect x="240.61" y="651.53" width="3.75" height="1.72" fill="#1a1042"/><rect x="188.88" y="654.86" width="3.75" height="1.72" fill="#0c0926"/><rect x="225.83" y="654.86" width="3.75" height="1.72" fill="#110c2f"/><rect x="170.4" y="656.53" width="3.75" height="1.72" fill="#471078"/><rect x="174.09" y="656.53" width="3.75" height="1.72" fill="#311165"/><rect x="188.88" y="656.53" width="3.75" height="1.72" fill="#38106c"/><rect x="207.35" y="656.53" width="3.75" height="1.72" fill="#1e1149"/><rect x="211.05" y="656.53" width="3.75" height="1.72" fill="#1c1044"/><rect x="225.83" y="656.53" width="3.75" height="1.72" fill="#491078"/><rect x="170.4" y="659.86" width="3.75" height="1.72" fill="#19103f"/><rect x="174.09" y="659.86" width="3.75" height="1.72" fill="#130d34"/><rect x="188.88" y="659.86" width="3.75" height="1.72" fill="#0d0a29"/><rect x="225.83" y="659.86" width="3.75" height="1.72" fill="#150e38"/><rect x="170.4" y="661.52" width="3.75" height="1.72" fill="#251255"/><rect x="174.09" y="661.52" width="3.75" height="1.72" fill="#160f3b"/><rect x="188.88" y="661.52" width="3.75" height="1.72" fill="#21114e"/><rect x="211.05" y="661.52" width="3.75" height="1.72" fill="#110c2f"/><rect x="225.83" y="661.52" width="3.75" height="1.72" fill="#19103f"/><rect x="170.4" y="664.85" width="3.75" height="1.72" fill="#271258"/><rect x="174.09" y="664.85" width="3.75" height="1.72" fill="#21114e"/><rect x="188.88" y="664.85" width="3.75" height="1.72" fill="#1d1147"/><rect x="207.35" y="664.85" width="3.75" height="1.72" fill="#110c2f"/><rect x="211.05" y="664.85" width="3.75" height="1.72" fill="#0d0a29"/><rect x="225.83" y="664.85" width="3.75" height="1.72" fill="#1d1147"/><rect x="170.4" y="666.52" width="3.75" height="1.72" fill="#f4695c"/><rect x="174.09" y="666.52" width="3.75" height="1.72" fill="#e95462"/><rect x="177.79" y="666.52" width="3.75" height="1.72" fill="#100b2d"/><rect x="185.18" y="666.52" width="3.75" height="1.72" fill="#241253"/><rect x="188.88" y="666.52" width="3.75" height="1.72" fill="#f56b5c"/><rect x="192.57" y="666.52" width="3.75" height="1.72" fill="#1c1044"/><rect x="199.96" y="666.52" width="3.75" height="1.72" fill="#110c2f"/><rect x="207.35" y="666.52" width="3.75" height="1.72" fill="#9c2e7f"/><rect x="211.05" y="666.52" width="3.75" height="1.72" fill="#832681"/><rect x="218.44" y="666.52" width="3.75" height="1.72" fill="#140e36"/><rect x="225.83" y="666.52" width="3.75" height="1.72" fill="#f7725c"/><rect x="229.52" y="666.52" width="3.75" height="1.72" fill="#331067"/><rect x="233.22" y="666.52" width="3.75" height="1.72" fill="#1d1147"/><rect x="236.91" y="666.52" width="3.75" height="1.72" fill="#331067"/><rect x="240.61" y="666.52" width="3.75" height="1.72" fill="#341069"/><rect x="170.4" y="669.85" width="3.75" height="1.72" fill="#5c167f"/><rect x="174.09" y="669.85" width="3.75" height="1.72" fill="#4c117a"/><rect x="188.88" y="669.85" width="3.75" height="1.72" fill="#440f76"/><rect x="207.35" y="669.85" width="3.75" height="1.72" fill="#271258"/><rect x="211.05" y="669.85" width="3.75" height="1.72" fill="#241253"/><rect x="225.83" y="669.85" width="3.75" height="1.72" fill="#651a80"/><rect x="229.52" y="669.85" width="3.75" height="1.72" fill="#140e36"/><rect x="240.61" y="669.85" width="3.75" height="1.72" fill="#100b2d"/><rect x="170.4" y="671.52" width="3.75" height="1.72" fill="#1e1149"/><rect x="174.09" y="671.52" width="3.75" height="1.72" fill="#150e38"/><rect x="188.88" y="671.52" width="3.75" height="1.72" fill="#100b2d"/><rect x="225.83" y="671.52" width="3.75" height="1.72" fill="#150e38"/><rect x="225.83" y="673.18" width="3.75" height="1.72" fill="#100b2d"/><rect x="170.4" y="676.52" width="3.75" height="1.72" fill="#1c1044"/><rect x="174.09" y="676.52" width="3.75" height="1.72" fill="#160f3b"/><rect x="188.88" y="676.52" width="3.75" height="1.72" fill="#0d0a29"/><rect x="225.83" y="676.52" width="3.75" height="1.72" fill="#130d34"/><rect x="170.4" y="683.18" width="3.75" height="1.72" fill="#d9466b"/><rect x="174.09" y="683.18" width="3.75" height="1.72" fill="#bc3978"/><rect x="177.79" y="683.18" width="3.75" height="1.72" fill="#100b2d"/><rect x="185.18" y="683.18" width="3.75" height="1.72" fill="#20114b"/><rect x="188.88" y="683.18" width="3.75" height="1.72" fill="#932b80"/><rect x="192.57" y="683.18" width="3.75" height="1.72" fill="#180f3d"/><rect x="196.27" y="683.18" width="3.75" height="1.72" fill="#0c0926"/><rect x="207.35" y="683.18" width="3.75" height="1.72" fill="#5f187f"/><rect x="211.05" y="683.18" width="3.75" height="1.72" fill="#671b80"/><rect x="218.44" y="683.18" width="3.75" height="1.72" fill="#100b2d"/><rect x="225.83" y="683.18" width="3.75" height="1.72" fill="#bf3a77"/><rect x="229.52" y="683.18" width="3.75" height="1.72" fill="#1e1149"/><rect x="233.22" y="683.18" width="3.75" height="1.72" fill="#160f3b"/><rect x="236.91" y="683.18" width="3.75" height="1.72" fill="#20114b"/><rect x="240.61" y="683.18" width="3.75" height="1.72" fill="#21114e"/><rect x="170.4" y="684.85" width="3.75" height="1.72" fill="#2a115c"/><rect x="174.09" y="684.85" width="3.75" height="1.72" fill="#160f3b"/><rect x="188.88" y="684.85" width="3.75" height="1.72" fill="#1c1044"/><rect x="207.35" y="684.85" width="3.75" height="1.72" fill="#120d31"/><rect x="211.05" y="684.85" width="3.75" height="1.72" fill="#110c2f"/><rect x="225.83" y="684.85" width="3.75" height="1.72" fill="#1d1147"/><rect x="170.4" y="686.51" width="3.75" height="1.72" fill="#491078"/><rect x="174.09" y="686.51" width="3.75" height="1.72" fill="#2f1163"/><rect x="188.88" y="686.51" width="3.75" height="1.72" fill="#420f75"/><rect x="207.35" y="686.51" width="3.75" height="1.72" fill="#251255"/><rect x="211.05" y="686.51" width="3.75" height="1.72" fill="#221150"/><rect x="225.83" y="686.51" width="3.75" height="1.72" fill="#471078"/><rect x="229.52" y="686.51" width="3.75" height="1.72" fill="#0d0a29"/><rect x="170.4" y="691.51" width="3.75" height="1.72" fill="#fcf4b6"/><rect x="174.09" y="691.51" width="3.75" height="1.72" fill="#fd9668"/><rect x="177.79" y="691.51" width="3.75" height="1.72" fill="#1c1044"/><rect x="185.18" y="691.51" width="3.75" height="1.72" fill="#52137c"/><rect x="188.88" y="691.51" width="3.75" height="1.72" fill="#feb078"/><rect x="192.57" y="691.51" width="3.75" height="1.72" fill="#2d1161"/><rect x="196.27" y="691.51" width="3.75" height="1.72" fill="#100b2d"/><rect x="199.96" y="691.51" width="3.75" height="1.72" fill="#180f3d"/><rect x="207.35" y="691.51" width="3.75" height="1.72" fill="#a5317e"/><rect x="211.05" y="691.51" width="3.75" height="1.72" fill="#e85362"/><rect x="218.44" y="691.51" width="3.75" height="1.72" fill="#21114e"/><rect x="225.83" y="691.51" width="3.75" height="1.72" fill="#fdda9c"/><rect x="229.52" y="691.51" width="3.75" height="1.72" fill="#57157e"/><rect x="233.22" y="691.51" width="3.75" height="1.72" fill="#241253"/><rect x="236.91" y="691.51" width="3.75" height="1.72" fill="#400f74"/><rect x="240.61" y="691.51" width="3.75" height="1.72" fill="#451077"/><rect x="170.4" y="693.17" width="3.75" height="1.72" fill="#fcf4b6"/><rect x="174.09" y="693.17" width="3.75" height="1.72" fill="#fc8a62"/><rect x="177.79" y="693.17" width="3.75" height="1.72" fill="#150e38"/><rect x="185.18" y="693.17" width="3.75" height="1.72" fill="#4e117b"/><rect x="188.88" y="693.17" width="3.75" height="1.72" fill="#fa7d5e"/><rect x="192.57" y="693.17" width="3.75" height="1.72" fill="#311165"/><rect x="196.27" y="693.17" width="3.75" height="1.72" fill="#140e36"/><rect x="199.96" y="693.17" width="3.75" height="1.72" fill="#150e38"/><rect x="207.35" y="693.17" width="3.75" height="1.72" fill="#c03a76"/><rect x="211.05" y="693.17" width="3.75" height="1.72" fill="#d6456c"/><rect x="218.44" y="693.17" width="3.75" height="1.72" fill="#221150"/><rect x="225.83" y="693.17" width="3.75" height="1.72" fill="#fcf4b6"/><rect x="229.52" y="693.17" width="3.75" height="1.72" fill="#54137d"/><rect x="233.22" y="693.17" width="3.75" height="1.72" fill="#2c115f"/><rect x="236.91" y="693.17" width="3.75" height="1.72" fill="#390f6e"/><rect x="240.61" y="693.17" width="3.75" height="1.72" fill="#5a167e"/><rect x="170.4" y="694.84" width="3.75" height="1.72" fill="#febf84"/><rect x="174.09" y="694.84" width="3.75" height="1.72" fill="#ef5d5e"/><rect x="177.79" y="694.84" width="3.75" height="1.72" fill="#100b2d"/><rect x="185.18" y="694.84" width="3.75" height="1.72" fill="#2c115f"/><rect x="188.88" y="694.84" width="3.75" height="1.72" fill="#fc8c63"/><rect x="192.57" y="694.84" width="3.75" height="1.72" fill="#251255"/><rect x="199.96" y="694.84" width="3.75" height="1.72" fill="#120d31"/><rect x="207.35" y="694.84" width="3.75" height="1.72" fill="#862781"/><rect x="211.05" y="694.84" width="3.75" height="1.72" fill="#a8327d"/><rect x="218.44" y="694.84" width="3.75" height="1.72" fill="#0d0a29"/><rect x="225.83" y="694.84" width="3.75" height="1.72" fill="#fc8c63"/><rect x="229.52" y="694.84" width="3.75" height="1.72" fill="#3b0f70"/><rect x="233.22" y="694.84" width="3.75" height="1.72" fill="#160f3b"/><rect x="236.91" y="694.84" width="3.75" height="1.72" fill="#271258"/><rect x="240.61" y="694.84" width="3.75" height="1.72" fill="#4c117a"/><rect x="170.4" y="698.17" width="3.75" height="1.72" fill="#e44f64"/><rect x="174.09" y="698.17" width="3.75" height="1.72" fill="#c43c75"/><rect x="185.18" y="698.17" width="3.75" height="1.72" fill="#1e1149"/><rect x="188.88" y="698.17" width="3.75" height="1.72" fill="#b73779"/><rect x="192.57" y="698.17" width="3.75" height="1.72" fill="#1c1044"/><rect x="199.96" y="698.17" width="3.75" height="1.72" fill="#0e0b2b"/><rect x="207.35" y="698.17" width="3.75" height="1.72" fill="#681c81"/><rect x="211.05" y="698.17" width="3.75" height="1.72" fill="#832681"/><rect x="218.44" y="698.17" width="3.75" height="1.72" fill="#0d0a29"/><rect x="225.83" y="698.17" width="3.75" height="1.72" fill="#f66c5c"/><rect x="229.52" y="698.17" width="3.75" height="1.72" fill="#241253"/><rect x="233.22" y="698.17" width="3.75" height="1.72" fill="#130d34"/><rect x="236.91" y="698.17" width="3.75" height="1.72" fill="#21114e"/><rect x="240.61" y="698.17" width="3.75" height="1.72" fill="#311165"/><rect x="170.4" y="701.5" width="3.75" height="1.72" fill="#0d0a29"/><rect x="174.09" y="701.5" width="3.75" height="1.72" fill="#100b2d"/><rect x="225.83" y="701.5" width="3.75" height="1.72" fill="#0d0a29"/><rect x="225.83" y="703.17" width="3.75" height="1.72" fill="#0d0a29"/><rect x="170.4" y="706.5" width="3.75" height="1.72" fill="#221150"/><rect x="174.09" y="706.5" width="3.75" height="1.72" fill="#19103f"/><rect x="188.88" y="706.5" width="3.75" height="1.72" fill="#1a1042"/><rect x="207.35" y="706.5" width="3.75" height="1.72" fill="#110c2f"/><rect x="211.05" y="706.5" width="3.75" height="1.72" fill="#100b2d"/><rect x="225.83" y="706.5" width="3.75" height="1.72" fill="#1d1147"/><rect x="170.4" y="708.17" width="3.75" height="1.72" fill="#fcf4b6"/><rect x="174.09" y="708.17" width="3.75" height="1.72" fill="#fea571"/><rect x="177.79" y="708.17" width="3.75" height="1.72" fill="#21114e"/><rect x="185.18" y="708.17" width="3.75" height="1.72" fill="#4c117a"/><rect x="188.88" y="708.17" width="3.75" height="1.72" fill="#fb835f"/><rect x="192.57" y="708.17" width="3.75" height="1.72" fill="#2f1163"/><rect x="196.27" y="708.17" width="3.75" height="1.72" fill="#110c2f"/><rect x="199.96" y="708.17" width="3.75" height="1.72" fill="#150e38"/><rect x="207.35" y="708.17" width="3.75" height="1.72" fill="#bd3977"/><rect x="211.05" y="708.17" width="3.75" height="1.72" fill="#f4695c"/><rect x="218.44" y="708.17" width="3.75" height="1.72" fill="#180f3d"/><rect x="225.83" y="708.17" width="3.75" height="1.72" fill="#fcf4b6"/><rect x="229.52" y="708.17" width="3.75" height="1.72" fill="#51127c"/><rect x="233.22" y="708.17" width="3.75" height="1.72" fill="#2a115c"/><rect x="236.91" y="708.17" width="3.75" height="1.72" fill="#451077"/><rect x="240.61" y="708.17" width="3.75" height="1.72" fill="#52137c"/><rect x="170.4" y="711.5" width="3.75" height="1.72" fill="#fcf4b6"/><rect x="174.09" y="711.5" width="3.75" height="1.72" fill="#f66e5c"/><rect x="177.79" y="711.5" width="3.75" height="1.72" fill="#180f3d"/><rect x="185.18" y="711.5" width="3.75" height="1.72" fill="#491078"/><rect x="188.88" y="711.5" width="3.75" height="1.72" fill="#f7725c"/><rect x="192.57" y="711.5" width="3.75" height="1.72" fill="#341069"/><rect x="196.27" y="711.5" width="3.75" height="1.72" fill="#100b2d"/><rect x="199.96" y="711.5" width="3.75" height="1.72" fill="#110c2f"/><rect x="207.35" y="711.5" width="3.75" height="1.72" fill="#a1307e"/><rect x="211.05" y="711.5" width="3.75" height="1.72" fill="#cd4071"/><rect x="218.44" y="711.5" width="3.75" height="1.72" fill="#20114b"/><rect x="225.83" y="711.5" width="3.75" height="1.72" fill="#fcf4b6"/><rect x="229.52" y="711.5" width="3.75" height="1.72" fill="#4c117a"/><rect x="233.22" y="711.5" width="3.75" height="1.72" fill="#29115a"/><rect x="236.91" y="711.5" width="3.75" height="1.72" fill="#400f74"/><rect x="240.61" y="711.5" width="3.75" height="1.72" fill="#52137c"/><rect x="170.4" y="713.17" width="3.75" height="1.72" fill="#f56b5c"/><rect x="174.09" y="713.17" width="3.75" height="1.72" fill="#b83779"/><rect x="177.79" y="713.17" width="3.75" height="1.72" fill="#100b2d"/><rect x="185.18" y="713.17" width="3.75" height="1.72" fill="#251255"/><rect x="188.88" y="713.17" width="3.75" height="1.72" fill="#b2357b"/><rect x="192.57" y="713.17" width="3.75" height="1.72" fill="#180f3d"/><rect x="199.96" y="713.17" width="3.75" height="1.72" fill="#0d0a29"/><rect x="207.35" y="713.17" width="3.75" height="1.72" fill="#641a80"/><rect x="211.05" y="713.17" width="3.75" height="1.72" fill="#812581"/><rect x="225.83" y="713.17" width="3.75" height="1.72" fill="#ed5a5f"/><rect x="229.52" y="713.17" width="3.75" height="1.72" fill="#36106b"/><rect x="233.22" y="713.17" width="3.75" height="1.72" fill="#1a1042"/><rect x="236.91" y="713.17" width="3.75" height="1.72" fill="#21114e"/><rect x="240.61" y="713.17" width="3.75" height="1.72" fill="#2c115f"/><rect x="225.83" y="714.83" width="3.75" height="1.72" fill="#0d0a29"/><rect x="225.83" y="718.16" width="3.75" height="1.72" fill="#0d0a29"/><rect x="170.4" y="719.83" width="3.75" height="1.72" fill="#331067"/><rect x="174.09" y="719.83" width="3.75" height="1.72" fill="#341069"/><rect x="188.88" y="719.83" width="3.75" height="1.72" fill="#2f1163"/><rect x="207.35" y="719.83" width="3.75" height="1.72" fill="#130d34"/><rect x="211.05" y="719.83" width="3.75" height="1.72" fill="#1a1042"/><rect x="225.83" y="719.83" width="3.75" height="1.72" fill="#390f6e"/><rect x="170.4" y="724.83" width="3.75" height="1.72" fill="#842681"/><rect x="174.09" y="724.83" width="3.75" height="1.72" fill="#651a80"/><rect x="188.88" y="724.83" width="3.75" height="1.72" fill="#5a167e"/><rect x="207.35" y="724.83" width="3.75" height="1.72" fill="#2f1163"/><rect x="211.05" y="724.83" width="3.75" height="1.72" fill="#2c115f"/><rect x="225.83" y="724.83" width="3.75" height="1.72" fill="#671b80"/><rect x="236.91" y="724.83" width="3.75" height="1.72" fill="#0d0a29"/><rect x="240.61" y="724.83" width="3.75" height="1.72" fill="#150e38"/><rect x="170.4" y="728.16" width="3.75" height="1.72" fill="#8c2981"/><rect x="174.09" y="728.16" width="3.75" height="1.72" fill="#671b80"/><rect x="185.18" y="728.16" width="3.75" height="1.72" fill="#110c2f"/><rect x="188.88" y="728.16" width="3.75" height="1.72" fill="#4f127b"/><rect x="192.57" y="728.16" width="3.75" height="1.72" fill="#0e0b2b"/><rect x="207.35" y="728.16" width="3.75" height="1.72" fill="#331067"/><rect x="211.05" y="728.16" width="3.75" height="1.72" fill="#36106b"/><rect x="225.83" y="728.16" width="3.75" height="1.72" fill="#8b2981"/><rect x="229.52" y="728.16" width="3.75" height="1.72" fill="#130d34"/><rect x="236.91" y="728.16" width="3.75" height="1.72" fill="#0d0a29"/><rect x="240.61" y="728.16" width="3.75" height="1.72" fill="#160f3b"/><rect x="170.4" y="731.49" width="3.75" height="1.72" fill="#2c115f"/><rect x="174.09" y="731.49" width="3.75" height="1.72" fill="#1e1149"/><rect x="188.88" y="731.49" width="3.75" height="1.72" fill="#1a1042"/><rect x="207.35" y="731.49" width="3.75" height="1.72" fill="#110c2f"/><rect x="211.05" y="731.49" width="3.75" height="1.72" fill="#140e36"/><rect x="225.83" y="731.49" width="3.75" height="1.72" fill="#160f3b"/><rect x="170.4" y="733.16" width="3.75" height="1.72" fill="#251255"/><rect x="174.09" y="733.16" width="3.75" height="1.72" fill="#160f3b"/><rect x="188.88" y="733.16" width="3.75" height="1.72" fill="#1c1044"/><rect x="211.05" y="733.16" width="3.75" height="1.72" fill="#120d31"/><rect x="225.83" y="733.16" width="3.75" height="1.72" fill="#271258"/><rect x="170.4" y="734.82" width="3.75" height="1.72" fill="#fc8c63"/><rect x="174.09" y="734.82" width="3.75" height="1.72" fill="#bd3977"/><rect x="177.79" y="734.82" width="3.75" height="1.72" fill="#120d31"/><rect x="185.18" y="734.82" width="3.75" height="1.72" fill="#271258"/><rect x="188.88" y="734.82" width="3.75" height="1.72" fill="#cd4071"/><rect x="192.57" y="734.82" width="3.75" height="1.72" fill="#1a1042"/><rect x="207.35" y="734.82" width="3.75" height="1.72" fill="#641a80"/><rect x="211.05" y="734.82" width="3.75" height="1.72" fill="#7c2382"/><rect x="218.44" y="734.82" width="3.75" height="1.72" fill="#0d0a29"/><rect x="225.83" y="734.82" width="3.75" height="1.72" fill="#e95462"/><rect x="229.52" y="734.82" width="3.75" height="1.72" fill="#20114b"/><rect x="233.22" y="734.82" width="3.75" height="1.72" fill="#1a1042"/><rect x="236.91" y="734.82" width="3.75" height="1.72" fill="#1e1149"/><rect x="240.61" y="734.82" width="3.75" height="1.72" fill="#29115a"/><rect x="170.4" y="736.49" width="3.75" height="1.72" fill="#2a115c"/><rect x="174.09" y="736.49" width="3.75" height="1.72" fill="#20114b"/><rect x="188.88" y="736.49" width="3.75" height="1.72" fill="#1d1147"/><rect x="211.05" y="736.49" width="3.75" height="1.72" fill="#120d31"/><rect x="225.83" y="736.49" width="3.75" height="1.72" fill="#1d1147"/><rect x="170.4" y="738.15" width="3.75" height="1.72" fill="#100b2d"/><rect x="170.4" y="739.82" width="3.75" height="1.72" fill="#721f81"/><rect x="174.09" y="739.82" width="3.75" height="1.72" fill="#4f127b"/><rect x="185.18" y="739.82" width="3.75" height="1.72" fill="#0d0a29"/><rect x="188.88" y="739.82" width="3.75" height="1.72" fill="#54137d"/><rect x="192.57" y="739.82" width="3.75" height="1.72" fill="#0d0a29"/><rect x="207.35" y="739.82" width="3.75" height="1.72" fill="#311165"/><rect x="211.05" y="739.82" width="3.75" height="1.72" fill="#2d1161"/><rect x="225.83" y="739.82" width="3.75" height="1.72" fill="#5c167f"/><rect x="229.52" y="739.82" width="3.75" height="1.72" fill="#0e0b2b"/><rect x="240.61" y="739.82" width="3.75" height="1.72" fill="#0c0926"/><rect x="174.09" y="741.49" width="3.75" height="1.72" fill="#0c0926"/><rect x="225.83" y="741.49" width="3.75" height="1.72" fill="#0d0a29"/><rect x="188.88" y="743.15" width="3.75" height="1.72" fill="#0d0a29"/><rect x="170.4" y="744.82" width="3.75" height="1.72" fill="#57157e"/><rect x="174.09" y="744.82" width="3.75" height="1.72" fill="#491078"/><rect x="185.18" y="744.82" width="3.75" height="1.72" fill="#100b2d"/><rect x="188.88" y="744.82" width="3.75" height="1.72" fill="#3b0f70"/><rect x="192.57" y="744.82" width="3.75" height="1.72" fill="#0d0a29"/><rect x="207.35" y="744.82" width="3.75" height="1.72" fill="#221150"/><rect x="211.05" y="744.82" width="3.75" height="1.72" fill="#2d1161"/><rect x="225.83" y="744.82" width="3.75" height="1.72" fill="#4a1079"/><rect x="229.52" y="744.82" width="3.75" height="1.72" fill="#110c2f"/><rect x="240.61" y="744.82" width="3.75" height="1.72" fill="#120d31"/><rect x="170.4" y="746.48" width="3.75" height="1.72" fill="#160f3b"/><rect x="174.09" y="746.48" width="3.75" height="1.72" fill="#100b2d"/><rect x="188.88" y="746.48" width="3.75" height="1.72" fill="#140e36"/><rect x="207.35" y="746.48" width="3.75" height="1.72" fill="#100b2d"/><rect x="225.83" y="746.48" width="3.75" height="1.72" fill="#160f3b"/><rect x="170.4" y="748.15" width="3.75" height="1.72" fill="#110c2f"/><rect x="170.4" y="749.82" width="3.75" height="1.72" fill="#e55064"/><rect x="174.09" y="749.82" width="3.75" height="1.72" fill="#902a81"/><rect x="177.79" y="749.82" width="3.75" height="1.72" fill="#0e0b2b"/><rect x="185.18" y="749.82" width="3.75" height="1.72" fill="#180f3d"/><rect x="188.88" y="749.82" width="3.75" height="1.72" fill="#a1307e"/><rect x="192.57" y="749.82" width="3.75" height="1.72" fill="#19103f"/><rect x="207.35" y="749.82" width="3.75" height="1.72" fill="#6a1c81"/><rect x="211.05" y="749.82" width="3.75" height="1.72" fill="#6a1c81"/><rect x="225.83" y="749.82" width="3.75" height="1.72" fill="#d9466b"/><rect x="229.52" y="749.82" width="3.75" height="1.72" fill="#180f3d"/><rect x="233.22" y="749.82" width="3.75" height="1.72" fill="#110c2f"/><rect x="236.91" y="749.82" width="3.75" height="1.72" fill="#160f3b"/><rect x="240.61" y="749.82" width="3.75" height="1.72" fill="#180f3d"/><rect x="170.4" y="751.48" width="3.75" height="1.72" fill="#160f3b"/><rect x="174.09" y="751.48" width="3.75" height="1.72" fill="#120d31"/><rect x="188.88" y="751.48" width="3.75" height="1.72" fill="#100b2d"/><rect x="207.35" y="751.48" width="3.75" height="1.72" fill="#0e0b2b"/><rect x="225.83" y="751.48" width="3.75" height="1.72" fill="#140e36"/><rect x="170.4" y="753.15" width="3.75" height="1.72" fill="#752181"/><rect x="174.09" y="753.15" width="3.75" height="1.72" fill="#681c81"/><rect x="185.18" y="753.15" width="3.75" height="1.72" fill="#100b2d"/><rect x="188.88" y="753.15" width="3.75" height="1.72" fill="#6e1e81"/><rect x="207.35" y="753.15" width="3.75" height="1.72" fill="#29115a"/><rect x="211.05" y="753.15" width="3.75" height="1.72" fill="#420f75"/><rect x="225.83" y="753.15" width="3.75" height="1.72" fill="#671b80"/><rect x="229.52" y="753.15" width="3.75" height="1.72" fill="#130d34"/><rect x="240.61" y="753.15" width="3.75" height="1.72" fill="#130d34"/><rect x="170.4" y="756.48" width="3.75" height="1.72" fill="#5d177f"/><rect x="174.09" y="756.48" width="3.75" height="1.72" fill="#3f0f72"/><rect x="188.88" y="756.48" width="3.75" height="1.72" fill="#400f74"/><rect x="207.35" y="756.48" width="3.75" height="1.72" fill="#19103f"/><rect x="211.05" y="756.48" width="3.75" height="1.72" fill="#251255"/><rect x="225.83" y="756.48" width="3.75" height="1.72" fill="#4a1079"/><rect x="229.52" y="756.48" width="3.75" height="1.72" fill="#0e0b2b"/><rect x="240.61" y="756.48" width="3.75" height="1.72" fill="#0e0b2b"/><rect x="170.4" y="758.15" width="3.75" height="1.72" fill="#100b2d"/><rect x="225.83" y="758.15" width="3.75" height="1.72" fill="#0e0b2b"/><rect x="170.4" y="759.81" width="3.75" height="1.72" fill="#aa337d"/><rect x="174.09" y="759.81" width="3.75" height="1.72" fill="#a3307e"/><rect x="177.79" y="759.81" width="3.75" height="1.72" fill="#110c2f"/><rect x="185.18" y="759.81" width="3.75" height="1.72" fill="#19103f"/><rect x="188.88" y="759.81" width="3.75" height="1.72" fill="#a02f7f"/><rect x="192.57" y="759.81" width="3.75" height="1.72" fill="#120d31"/><rect x="207.35" y="759.81" width="3.75" height="1.72" fill="#59157e"/><rect x="211.05" y="759.81" width="3.75" height="1.72" fill="#721f81"/><rect x="218.44" y="759.81" width="3.75" height="1.72" fill="#0e0b2b"/><rect x="225.83" y="759.81" width="3.75" height="1.72" fill="#a6317d"/><rect x="229.52" y="759.81" width="3.75" height="1.72" fill="#1c1044"/><rect x="233.22" y="759.81" width="3.75" height="1.72" fill="#180f3d"/><rect x="236.91" y="759.81" width="3.75" height="1.72" fill="#1d1147"/><rect x="240.61" y="759.81" width="3.75" height="1.72" fill="#21114e"/><rect x="170.4" y="761.48" width="3.75" height="1.72" fill="#120d31"/><rect x="174.09" y="761.48" width="3.75" height="1.72" fill="#100b2d"/><rect x="170.4" y="763.14" width="3.75" height="1.72" fill="#120d31"/><rect x="188.88" y="763.14" width="3.75" height="1.72" fill="#0d0a29"/><rect x="225.83" y="763.14" width="3.75" height="1.72" fill="#150e38"/><rect x="170.4" y="764.81" width="3.75" height="1.72" fill="#802582"/><rect x="174.09" y="764.81" width="3.75" height="1.72" fill="#621980"/><rect x="185.18" y="764.81" width="3.75" height="1.72" fill="#120d31"/><rect x="188.88" y="764.81" width="3.75" height="1.72" fill="#54137d"/><rect x="207.35" y="764.81" width="3.75" height="1.72" fill="#311165"/><rect x="211.05" y="764.81" width="3.75" height="1.72" fill="#341069"/><rect x="225.83" y="764.81" width="3.75" height="1.72" fill="#762181"/><rect x="236.91" y="764.81" width="3.75" height="1.72" fill="#110c2f"/><rect x="240.61" y="764.81" width="3.75" height="1.72" fill="#0d0a29"/><rect x="170.4" y="766.47" width="3.75" height="1.72" fill="#681c81"/><rect x="174.09" y="766.47" width="3.75" height="1.72" fill="#5d177f"/><rect x="185.18" y="766.47" width="3.75" height="1.72" fill="#140e36"/><rect x="188.88" y="766.47" width="3.75" height="1.72" fill="#5a167e"/><rect x="192.57" y="766.47" width="3.75" height="1.72" fill="#0e0b2b"/><rect x="207.35" y="766.47" width="3.75" height="1.72" fill="#3f0f72"/><rect x="211.05" y="766.47" width="3.75" height="1.72" fill="#3f0f72"/><rect x="225.83" y="766.47" width="3.75" height="1.72" fill="#7e2482"/><rect x="229.52" y="766.47" width="3.75" height="1.72" fill="#0e0b2b"/><rect x="236.91" y="766.47" width="3.75" height="1.72" fill="#0d0a29"/><rect x="240.61" y="766.47" width="3.75" height="1.72" fill="#110c2f"/><rect x="170.4" y="768.14" width="3.75" height="1.72" fill="#140e36"/><rect x="174.09" y="768.14" width="3.75" height="1.72" fill="#130d34"/><rect x="188.88" y="768.14" width="3.75" height="1.72" fill="#0e0b2b"/><rect x="225.83" y="768.14" width="3.75" height="1.72" fill="#1a1042"/><rect x="170.4" y="769.81" width="3.75" height="1.72" fill="#100b2d"/><rect x="174.09" y="769.81" width="3.75" height="1.72" fill="#100b2d"/><rect x="170.4" y="771.47" width="3.75" height="1.72" fill="#df4a68"/><rect x="174.09" y="771.47" width="3.75" height="1.72" fill="#ad347c"/><rect x="185.18" y="771.47" width="3.75" height="1.72" fill="#1d1147"/><rect x="188.88" y="771.47" width="3.75" height="1.72" fill="#ab337c"/><rect x="192.57" y="771.47" width="3.75" height="1.72" fill="#1e1149"/><rect x="196.27" y="771.47" width="3.75" height="1.72" fill="#0d0a29"/><rect x="207.35" y="771.47" width="3.75" height="1.72" fill="#54137d"/><rect x="211.05" y="771.47" width="3.75" height="1.72" fill="#732081"/><rect x="218.44" y="771.47" width="3.75" height="1.72" fill="#110c2f"/><rect x="225.83" y="771.47" width="3.75" height="1.72" fill="#e04c67"/><rect x="229.52" y="771.47" width="3.75" height="1.72" fill="#271258"/><rect x="233.22" y="771.47" width="3.75" height="1.72" fill="#0e0b2b"/><rect x="236.91" y="771.47" width="3.75" height="1.72" fill="#1e1149"/><rect x="240.61" y="771.47" width="3.75" height="1.72" fill="#1a1042"/><rect x="170.4" y="773.14" width="3.75" height="1.72" fill="#251255"/><rect x="174.09" y="773.14" width="3.75" height="1.72" fill="#130d34"/><rect x="188.88" y="773.14" width="3.75" height="1.72" fill="#150e38"/><rect x="207.35" y="773.14" width="3.75" height="1.72" fill="#110c2f"/><rect x="211.05" y="773.14" width="3.75" height="1.72" fill="#100b2d"/><rect x="225.83" y="773.14" width="3.75" height="1.72" fill="#20114b"/><rect x="170.4" y="774.8" width="3.75" height="1.72" fill="#341069"/><rect x="174.09" y="774.8" width="3.75" height="1.72" fill="#36106b"/><rect x="188.88" y="774.8" width="3.75" height="1.72" fill="#2f1163"/><rect x="207.35" y="774.8" width="3.75" height="1.72" fill="#1c1044"/><rect x="211.05" y="774.8" width="3.75" height="1.72" fill="#1d1147"/><rect x="225.83" y="774.8" width="3.75" height="1.72" fill="#2d1161"/><rect x="170.4" y="776.47" width="3.75" height="1.72" fill="#1e1149"/><rect x="174.09" y="776.47" width="3.75" height="1.72" fill="#140e36"/><rect x="188.88" y="776.47" width="3.75" height="1.72" fill="#0e0b2b"/><rect x="225.83" y="776.47" width="3.75" height="1.72" fill="#100b2d"/><rect x="170.4" y="778.14" width="3.75" height="1.72" fill="#fa815f"/><rect x="174.09" y="778.14" width="3.75" height="1.72" fill="#ea5661"/><rect x="177.79" y="778.14" width="3.75" height="1.72" fill="#150e38"/><rect x="185.18" y="778.14" width="3.75" height="1.72" fill="#2f1163"/><rect x="188.88" y="778.14" width="3.75" height="1.72" fill="#fa7f5e"/><rect x="192.57" y="778.14" width="3.75" height="1.72" fill="#2a115c"/><rect x="196.27" y="778.14" width="3.75" height="1.72" fill="#100b2d"/><rect x="199.96" y="778.14" width="3.75" height="1.72" fill="#120d31"/><rect x="207.35" y="778.14" width="3.75" height="1.72" fill="#a02f7f"/><rect x="211.05" y="778.14" width="3.75" height="1.72" fill="#8c2981"/><rect x="218.44" y="778.14" width="3.75" height="1.72" fill="#140e36"/><rect x="225.83" y="778.14" width="3.75" height="1.72" fill="#fecc8f"/><rect x="229.52" y="778.14" width="3.75" height="1.72" fill="#440f76"/><rect x="233.22" y="778.14" width="3.75" height="1.72" fill="#180f3d"/><rect x="236.91" y="778.14" width="3.75" height="1.72" fill="#20114b"/><rect x="240.61" y="778.14" width="3.75" height="1.72" fill="#36106b"/><rect x="170.4" y="781.47" width="3.75" height="1.72" fill="#fed395"/><rect x="174.09" y="781.47" width="3.75" height="1.72" fill="#feb67c"/><rect x="177.79" y="781.47" width="3.75" height="1.72" fill="#140e36"/><rect x="185.18" y="781.47" width="3.75" height="1.72" fill="#400f74"/><rect x="188.88" y="781.47" width="3.75" height="1.72" fill="#f7725c"/><rect x="192.57" y="781.47" width="3.75" height="1.72" fill="#2a115c"/><rect x="196.27" y="781.47" width="3.75" height="1.72" fill="#0c0926"/><rect x="199.96" y="781.47" width="3.75" height="1.72" fill="#150e38"/><rect x="203.66" y="781.47" width="3.75" height="1.72" fill="#0d0a29"/><rect x="207.35" y="781.47" width="3.75" height="1.72" fill="#912b81"/><rect x="211.05" y="781.47" width="3.75" height="1.72" fill="#bd3977"/><rect x="218.44" y="781.47" width="3.75" height="1.72" fill="#1c1044"/><rect x="225.83" y="781.47" width="3.75" height="1.72" fill="#febb81"/><rect x="229.52" y="781.47" width="3.75" height="1.72" fill="#471078"/><rect x="233.22" y="781.47" width="3.75" height="1.72" fill="#2a115c"/><rect x="236.91" y="781.47" width="3.75" height="1.72" fill="#331067"/><rect x="240.61" y="781.47" width="3.75" height="1.72" fill="#3d0f71"/></g>
<path d="M246.5 638.4 H251 V788 H246.5" fill="none" stroke="#000" stroke-width=".8"/>
<text font-size="9.9" text-anchor="middle" fill="#111" transform="translate(254.4 712.2) rotate(90)">1.28 billion TEVp-TEVs pairs</text>
<circle cx="209.4" cy="788.3" r=".8" fill="#111"/>
<circle cx="212" cy="788.3" r=".8" fill="#111"/>
<circle cx="214.6" cy="788.3" r=".8" fill="#111"/>
<text x="273" y="610" font-size="17.5" font-weight="bold">g</text>
<text x="278.6" y="631.2" font-size="11.9" fill="#111">ML model:</text>
<text x="334.6" y="647.2" font-size="9.8" text-anchor="end" fill="#1a1a1a">MLP</text>
<path d="M336.5 643.9A9.4 9.4 0 0 1 345.9 634.5V643.9Z" fill="#fec68a"/><path d="M345.9 634.5A9.4 9.4 0 0 1 355.3 643.9H345.9Z" fill="#f4675c"/><path d="M355.3 643.9A9.4 9.4 0 0 1 345.9 653.3V643.9Z" fill="#e85362"/><path d="M345.9 653.3A9.4 9.4 0 0 1 336.5 643.9H345.9Z" fill="#f4675c"/><path d="M336.5 643.9H355.3M345.9 634.5V653.3" stroke="#000" stroke-width=".85" fill="none"/><circle cx="345.9" cy="643.9" r="9.4" fill="none" stroke="#000" stroke-width=".9"/>
<path d="M359 643.9A9.4 9.4 0 0 1 368.4 634.5V643.9Z" fill="#fde2a3"/><path d="M368.4 634.5A9.4 9.4 0 0 1 377.8 643.9H368.4Z" fill="#fe9f6d"/><path d="M377.8 643.9A9.4 9.4 0 0 1 368.4 653.3V643.9Z" fill="#fd9668"/><path d="M368.4 653.3A9.4 9.4 0 0 1 359 643.9H368.4Z" fill="#fe9f6d"/><path d="M359 643.9H377.8M368.4 634.5V653.3" stroke="#000" stroke-width=".85" fill="none"/><circle cx="368.4" cy="643.9" r="9.4" fill="none" stroke="#000" stroke-width=".9"/>
<path d="M381.5 643.9A9.4 9.4 0 0 1 390.9 634.5V643.9Z" fill="#fde9aa"/><path d="M390.9 634.5A9.4 9.4 0 0 1 400.3 643.9H390.9Z" fill="#fec185"/><path d="M400.3 643.9A9.4 9.4 0 0 1 390.9 653.3V643.9Z" fill="#feae77"/><path d="M390.9 653.3A9.4 9.4 0 0 1 381.5 643.9H390.9Z" fill="#feb47b"/><path d="M381.5 643.9H400.3M390.9 634.5V653.3" stroke="#000" stroke-width=".85" fill="none"/><circle cx="390.9" cy="643.9" r="9.4" fill="none" stroke="#000" stroke-width=".9"/>
<path d="M404 643.9A9.4 9.4 0 0 1 413.4 634.5V643.9Z" fill="#fcf2b4"/><path d="M413.4 634.5A9.4 9.4 0 0 1 422.8 643.9H413.4Z" fill="#fed395"/><path d="M422.8 643.9A9.4 9.4 0 0 1 413.4 653.3V643.9Z" fill="#fec68a"/><path d="M413.4 653.3A9.4 9.4 0 0 1 404 643.9H413.4Z" fill="#fec68a"/><path d="M404 643.9H422.8M413.4 634.5V653.3" stroke="#000" stroke-width=".85" fill="none"/><circle cx="413.4" cy="643.9" r="9.4" fill="none" stroke="#000" stroke-width=".9"/>
<path d="M426.5 643.9A9.4 9.4 0 0 1 435.9 634.5V643.9Z" fill="#fcf7b9"/><path d="M435.9 634.5A9.4 9.4 0 0 1 445.3 643.9H435.9Z" fill="#fddea0"/><path d="M445.3 643.9A9.4 9.4 0 0 1 435.9 653.3V643.9Z" fill="#fed194"/><path d="M435.9 653.3A9.4 9.4 0 0 1 426.5 643.9H435.9Z" fill="#fed194"/><path d="M426.5 643.9H445.3M435.9 634.5V653.3" stroke="#000" stroke-width=".85" fill="none"/><circle cx="435.9" cy="643.9" r="9.4" fill="none" stroke="#000" stroke-width=".9"/>
<path d="M449 643.9A9.4 9.4 0 0 1 458.4 634.5V643.9Z" fill="#fcf9bb"/><path d="M458.4 634.5A9.4 9.4 0 0 1 467.8 643.9H458.4Z" fill="#fde7a9"/><path d="M467.8 643.9A9.4 9.4 0 0 1 458.4 653.3V643.9Z" fill="#fed89a"/><path d="M458.4 653.3A9.4 9.4 0 0 1 449 643.9H458.4Z" fill="#fed89a"/><path d="M449 643.9H467.8M458.4 634.5V653.3" stroke="#000" stroke-width=".85" fill="none"/><circle cx="458.4" cy="643.9" r="9.4" fill="none" stroke="#000" stroke-width=".9"/>
<path d="M471.5 643.9A9.4 9.4 0 0 1 480.9 634.5V643.9Z" fill="#fcf9bb"/><path d="M480.9 634.5A9.4 9.4 0 0 1 490.3 643.9H480.9Z" fill="#fde9aa"/><path d="M490.3 643.9A9.4 9.4 0 0 1 480.9 653.3V643.9Z" fill="#fddea0"/><path d="M480.9 653.3A9.4 9.4 0 0 1 471.5 643.9H480.9Z" fill="#fddea0"/><path d="M471.5 643.9H490.3M480.9 634.5V653.3" stroke="#000" stroke-width=".85" fill="none"/><circle cx="480.9" cy="643.9" r="9.4" fill="none" stroke="#000" stroke-width=".9"/>
<path d="M494 643.9A9.4 9.4 0 0 1 503.4 634.5V643.9Z" fill="#fcfbbd"/><path d="M503.4 634.5A9.4 9.4 0 0 1 512.8 643.9H503.4Z" fill="#fceeb0"/><path d="M512.8 643.9A9.4 9.4 0 0 1 503.4 653.3V643.9Z" fill="#fde7a9"/><path d="M503.4 653.3A9.4 9.4 0 0 1 494 643.9H503.4Z" fill="#fde7a9"/><path d="M494 643.9H512.8M503.4 634.5V653.3" stroke="#000" stroke-width=".85" fill="none"/><circle cx="503.4" cy="643.9" r="9.4" fill="none" stroke="#000" stroke-width=".9"/>
<path d="M516.5 643.9A9.4 9.4 0 0 1 525.9 634.5V643.9Z" fill="#fcfbbd"/><path d="M525.9 634.5A9.4 9.4 0 0 1 535.3 643.9H525.9Z" fill="#fcf2b4"/><path d="M535.3 643.9A9.4 9.4 0 0 1 525.9 653.3V643.9Z" fill="#fcf2b4"/><path d="M525.9 653.3A9.4 9.4 0 0 1 516.5 643.9H525.9Z" fill="#fcf2b4"/><path d="M516.5 643.9H535.3M525.9 634.5V653.3" stroke="#000" stroke-width=".85" fill="none"/><circle cx="525.9" cy="643.9" r="9.4" fill="none" stroke="#000" stroke-width=".9"/>
<path d="M539 643.9A9.4 9.4 0 0 1 548.4 634.5V643.9Z" fill="#fcfdbf"/><path d="M548.4 634.5A9.4 9.4 0 0 1 557.8 643.9H548.4Z" fill="#fcf4b6"/><path d="M557.8 643.9A9.4 9.4 0 0 1 548.4 653.3V643.9Z" fill="#fcf4b6"/><path d="M548.4 653.3A9.4 9.4 0 0 1 539 643.9H548.4Z" fill="#fcf4b6"/><path d="M539 643.9H557.8M548.4 634.5V653.3" stroke="#000" stroke-width=".85" fill="none"/><circle cx="548.4" cy="643.9" r="9.4" fill="none" stroke="#000" stroke-width=".9"/>
<text x="334.6" y="668.4" font-size="9.8" text-anchor="end" fill="#1a1a1a">ESM+MLP</text>
<path d="M336.5 665.1A9.4 9.4 0 0 1 345.9 655.7V665.1Z" fill="#fecf92"/><path d="M345.9 655.7A9.4 9.4 0 0 1 355.3 665.1H345.9Z" fill="#f4675c"/><path d="M355.3 665.1A9.4 9.4 0 0 1 345.9 674.5V665.1Z" fill="#ef5d5e"/><path d="M345.9 674.5A9.4 9.4 0 0 1 336.5 665.1H345.9Z" fill="#f7705c"/><path d="M336.5 665.1H355.3M345.9 655.7V674.5" stroke="#000" stroke-width=".85" fill="none"/><circle cx="345.9" cy="665.1" r="9.4" fill="none" stroke="#000" stroke-width=".9"/>
<path d="M359 665.1A9.4 9.4 0 0 1 368.4 655.7V665.1Z" fill="#fde2a3"/><path d="M368.4 655.7A9.4 9.4 0 0 1 377.8 665.1H368.4Z" fill="#fe9f6d"/><path d="M377.8 665.1A9.4 9.4 0 0 1 368.4 674.5V665.1Z" fill="#fe9f6d"/><path d="M368.4 674.5A9.4 9.4 0 0 1 359 665.1H368.4Z" fill="#fe9f6d"/><path d="M359 665.1H377.8M368.4 655.7V674.5" stroke="#000" stroke-width=".85" fill="none"/><circle cx="368.4" cy="665.1" r="9.4" fill="none" stroke="#000" stroke-width=".9"/>
<path d="M381.5 665.1A9.4 9.4 0 0 1 390.9 655.7V665.1Z" fill="#fdebac"/><path d="M390.9 655.7A9.4 9.4 0 0 1 400.3 665.1H390.9Z" fill="#febd82"/><path d="M400.3 665.1A9.4 9.4 0 0 1 390.9 674.5V665.1Z" fill="#feae77"/><path d="M390.9 674.5A9.4 9.4 0 0 1 381.5 665.1H390.9Z" fill="#feb47b"/><path d="M381.5 665.1H400.3M390.9 655.7V674.5" stroke="#000" stroke-width=".85" fill="none"/><circle cx="390.9" cy="665.1" r="9.4" fill="none" stroke="#000" stroke-width=".9"/>
<path d="M404 665.1A9.4 9.4 0 0 1 413.4 655.7V665.1Z" fill="#fcf2b4"/><path d="M413.4 655.7A9.4 9.4 0 0 1 422.8 665.1H413.4Z" fill="#fed395"/><path d="M422.8 665.1A9.4 9.4 0 0 1 413.4 674.5V665.1Z" fill="#feca8d"/><path d="M413.4 674.5A9.4 9.4 0 0 1 404 665.1H413.4Z" fill="#feca8d"/><path d="M404 665.1H422.8M413.4 655.7V674.5" stroke="#000" stroke-width=".85" fill="none"/><circle cx="413.4" cy="665.1" r="9.4" fill="none" stroke="#000" stroke-width=".9"/>
<path d="M426.5 665.1A9.4 9.4 0 0 1 435.9 655.7V665.1Z" fill="#fcf7b9"/><path d="M435.9 655.7A9.4 9.4 0 0 1 445.3 665.1H435.9Z" fill="#fde0a1"/><path d="M445.3 665.1A9.4 9.4 0 0 1 435.9 674.5V665.1Z" fill="#fed395"/><path d="M435.9 674.5A9.4 9.4 0 0 1 426.5 665.1H435.9Z" fill="#fed395"/><path d="M426.5 665.1H445.3M435.9 655.7V674.5" stroke="#000" stroke-width=".85" fill="none"/><circle cx="435.9" cy="665.1" r="9.4" fill="none" stroke="#000" stroke-width=".9"/>
<path d="M449 665.1A9.4 9.4 0 0 1 458.4 655.7V665.1Z" fill="#fcf9bb"/><path d="M458.4 655.7A9.4 9.4 0 0 1 467.8 665.1H458.4Z" fill="#fde7a9"/><path d="M467.8 665.1A9.4 9.4 0 0 1 458.4 674.5V665.1Z" fill="#fecf92"/><path d="M458.4 674.5A9.4 9.4 0 0 1 449 665.1H458.4Z" fill="#fed89a"/><path d="M449 665.1H467.8M458.4 655.7V674.5" stroke="#000" stroke-width=".85" fill="none"/><circle cx="458.4" cy="665.1" r="9.4" fill="none" stroke="#000" stroke-width=".9"/>
<path d="M471.5 665.1A9.4 9.4 0 0 1 480.9 655.7V665.1Z" fill="#fcf9bb"/><path d="M480.9 655.7A9.4 9.4 0 0 1 490.3 665.1H480.9Z" fill="#fde7a9"/><path d="M490.3 665.1A9.4 9.4 0 0 1 480.9 674.5V665.1Z" fill="#fed89a"/><path d="M480.9 674.5A9.4 9.4 0 0 1 471.5 665.1H480.9Z" fill="#fddea0"/><path d="M471.5 665.1H490.3M480.9 655.7V674.5" stroke="#000" stroke-width=".85" fill="none"/><circle cx="480.9" cy="665.1" r="9.4" fill="none" stroke="#000" stroke-width=".9"/>
<path d="M494 665.1A9.4 9.4 0 0 1 503.4 655.7V665.1Z" fill="#fcf9bb"/><path d="M503.4 655.7A9.4 9.4 0 0 1 512.8 665.1H503.4Z" fill="#fdebac"/><path d="M512.8 665.1A9.4 9.4 0 0 1 503.4 674.5V665.1Z" fill="#fde2a3"/><path d="M503.4 674.5A9.4 9.4 0 0 1 494 665.1H503.4Z" fill="#fde2a3"/><path d="M494 665.1H512.8M503.4 655.7V674.5" stroke="#000" stroke-width=".85" fill="none"/><circle cx="503.4" cy="665.1" r="9.4" fill="none" stroke="#000" stroke-width=".9"/>
<path d="M516.5 665.1A9.4 9.4 0 0 1 525.9 655.7V665.1Z" fill="#fcfbbd"/><path d="M525.9 655.7A9.4 9.4 0 0 1 535.3 665.1H525.9Z" fill="#fcf0b2"/><path d="M535.3 665.1A9.4 9.4 0 0 1 525.9 674.5V665.1Z" fill="#fdebac"/><path d="M525.9 674.5A9.4 9.4 0 0 1 516.5 665.1H525.9Z" fill="#fdebac"/><path d="M516.5 665.1H535.3M525.9 655.7V674.5" stroke="#000" stroke-width=".85" fill="none"/><circle cx="525.9" cy="665.1" r="9.4" fill="none" stroke="#000" stroke-width=".9"/>
<path d="M539 665.1A9.4 9.4 0 0 1 548.4 655.7V665.1Z" fill="#fcfbbd"/><path d="M548.4 655.7A9.4 9.4 0 0 1 557.8 665.1H548.4Z" fill="#fcf4b6"/><path d="M557.8 665.1A9.4 9.4 0 0 1 548.4 674.5V665.1Z" fill="#fdebac"/><path d="M548.4 674.5A9.4 9.4 0 0 1 539 665.1H548.4Z" fill="#fcf0b2"/><path d="M539 665.1H557.8M548.4 655.7V674.5" stroke="#000" stroke-width=".85" fill="none"/><circle cx="548.4" cy="665.1" r="9.4" fill="none" stroke="#000" stroke-width=".9"/>
<text x="334.6" y="689.6" font-size="9.8" text-anchor="end" fill="#1a1a1a">GBT</text>
<path d="M336.5 686.3A9.4 9.4 0 0 1 345.9 676.9V686.3Z" fill="#06051a"/><path d="M345.9 676.9A9.4 9.4 0 0 1 355.3 686.3H345.9Z" fill="#0e0b2b"/><path d="M355.3 686.3A9.4 9.4 0 0 1 345.9 695.7V686.3Z" fill="#54137d"/><path d="M345.9 695.7A9.4 9.4 0 0 1 336.5 686.3H345.9Z" fill="#3b0f70"/><path d="M336.5 686.3H355.3M345.9 676.9V695.7" stroke="#000" stroke-width=".85" fill="none"/><circle cx="345.9" cy="686.3" r="9.4" fill="none" stroke="#000" stroke-width=".9"/>
<path d="M359 686.3A9.4 9.4 0 0 1 368.4 676.9V686.3Z" fill="#21114e"/><path d="M368.4 676.9A9.4 9.4 0 0 1 377.8 686.3H368.4Z" fill="#2d1161"/><path d="M377.8 686.3A9.4 9.4 0 0 1 368.4 695.7V686.3Z" fill="#942c80"/><path d="M368.4 695.7A9.4 9.4 0 0 1 359 686.3H368.4Z" fill="#8c2981"/><path d="M359 686.3H377.8M368.4 676.9V695.7" stroke="#000" stroke-width=".85" fill="none"/><circle cx="368.4" cy="686.3" r="9.4" fill="none" stroke="#000" stroke-width=".9"/>
<path d="M381.5 686.3A9.4 9.4 0 0 1 390.9 676.9V686.3Z" fill="#440f76"/><path d="M390.9 676.9A9.4 9.4 0 0 1 400.3 686.3H390.9Z" fill="#440f76"/><path d="M400.3 686.3A9.4 9.4 0 0 1 390.9 695.7V686.3Z" fill="#de4968"/><path d="M390.9 695.7A9.4 9.4 0 0 1 381.5 686.3H390.9Z" fill="#b73779"/><path d="M381.5 686.3H400.3M390.9 676.9V695.7" stroke="#000" stroke-width=".85" fill="none"/><circle cx="390.9" cy="686.3" r="9.4" fill="none" stroke="#000" stroke-width=".9"/>
<path d="M404 686.3A9.4 9.4 0 0 1 413.4 676.9V686.3Z" fill="#59157e"/><path d="M413.4 676.9A9.4 9.4 0 0 1 422.8 686.3H413.4Z" fill="#641a80"/><path d="M422.8 686.3A9.4 9.4 0 0 1 413.4 695.7V686.3Z" fill="#f4675c"/><path d="M413.4 695.7A9.4 9.4 0 0 1 404 686.3H413.4Z" fill="#de4968"/><path d="M404 686.3H422.8M413.4 676.9V695.7" stroke="#000" stroke-width=".85" fill="none"/><circle cx="413.4" cy="686.3" r="9.4" fill="none" stroke="#000" stroke-width=".9"/>
<path d="M426.5 686.3A9.4 9.4 0 0 1 435.9 676.9V686.3Z" fill="#701f81"/><path d="M435.9 676.9A9.4 9.4 0 0 1 445.3 686.3H435.9Z" fill="#782281"/><path d="M445.3 686.3A9.4 9.4 0 0 1 435.9 695.7V686.3Z" fill="#f9795d"/><path d="M435.9 695.7A9.4 9.4 0 0 1 426.5 686.3H435.9Z" fill="#f4675c"/><path d="M426.5 686.3H445.3M435.9 676.9V695.7" stroke="#000" stroke-width=".85" fill="none"/><circle cx="435.9" cy="686.3" r="9.4" fill="none" stroke="#000" stroke-width=".9"/>
<path d="M449 686.3A9.4 9.4 0 0 1 458.4 676.9V686.3Z" fill="#701f81"/><path d="M458.4 676.9A9.4 9.4 0 0 1 467.8 686.3H458.4Z" fill="#802582"/><path d="M467.8 686.3A9.4 9.4 0 0 1 458.4 695.7V686.3Z" fill="#fc8c63"/><path d="M458.4 695.7A9.4 9.4 0 0 1 449 686.3H458.4Z" fill="#f9795d"/><path d="M449 686.3H467.8M458.4 676.9V695.7" stroke="#000" stroke-width=".85" fill="none"/><circle cx="458.4" cy="686.3" r="9.4" fill="none" stroke="#000" stroke-width=".9"/>
<path d="M471.5 686.3A9.4 9.4 0 0 1 480.9 676.9V686.3Z" fill="#782281"/><path d="M480.9 676.9A9.4 9.4 0 0 1 490.3 686.3H480.9Z" fill="#842681"/><path d="M490.3 686.3A9.4 9.4 0 0 1 480.9 695.7V686.3Z" fill="#fd9668"/><path d="M480.9 695.7A9.4 9.4 0 0 1 471.5 686.3H480.9Z" fill="#fb835f"/><path d="M471.5 686.3H490.3M480.9 676.9V695.7" stroke="#000" stroke-width=".85" fill="none"/><circle cx="480.9" cy="686.3" r="9.4" fill="none" stroke="#000" stroke-width=".9"/>
<path d="M494 686.3A9.4 9.4 0 0 1 503.4 676.9V686.3Z" fill="#7c2382"/><path d="M503.4 676.9A9.4 9.4 0 0 1 512.8 686.3H503.4Z" fill="#8c2981"/><path d="M512.8 686.3A9.4 9.4 0 0 1 503.4 695.7V686.3Z" fill="#fd9668"/><path d="M503.4 695.7A9.4 9.4 0 0 1 494 686.3H503.4Z" fill="#fb835f"/><path d="M494 686.3H512.8M503.4 676.9V695.7" stroke="#000" stroke-width=".85" fill="none"/><circle cx="503.4" cy="686.3" r="9.4" fill="none" stroke="#000" stroke-width=".9"/>
<path d="M516.5 686.3A9.4 9.4 0 0 1 525.9 676.9V686.3Z" fill="#802582"/><path d="M525.9 676.9A9.4 9.4 0 0 1 535.3 686.3H525.9Z" fill="#8c2981"/><path d="M535.3 686.3A9.4 9.4 0 0 1 525.9 695.7V686.3Z" fill="#fd9668"/><path d="M525.9 695.7A9.4 9.4 0 0 1 516.5 686.3H525.9Z" fill="#fc8c63"/><path d="M516.5 686.3H535.3M525.9 676.9V695.7" stroke="#000" stroke-width=".85" fill="none"/><circle cx="525.9" cy="686.3" r="9.4" fill="none" stroke="#000" stroke-width=".9"/>
<path d="M539 686.3A9.4 9.4 0 0 1 548.4 676.9V686.3Z" fill="#842681"/><path d="M548.4 676.9A9.4 9.4 0 0 1 557.8 686.3H548.4Z" fill="#8c2981"/><path d="M557.8 686.3A9.4 9.4 0 0 1 548.4 695.7V686.3Z" fill="#fd9668"/><path d="M548.4 695.7A9.4 9.4 0 0 1 539 686.3H548.4Z" fill="#fc8c63"/><path d="M539 686.3H557.8M548.4 676.9V695.7" stroke="#000" stroke-width=".85" fill="none"/><circle cx="548.4" cy="686.3" r="9.4" fill="none" stroke="#000" stroke-width=".9"/>
<text x="334.6" y="710.8" font-size="9.8" text-anchor="end" fill="#1a1a1a">LR</text>
<path d="M336.5 707.5A9.4 9.4 0 0 1 345.9 698.1V707.5Z" fill="#641a80"/><path d="M345.9 698.1A9.4 9.4 0 0 1 355.3 707.5H345.9Z" fill="#440f76"/><path d="M355.3 707.5A9.4 9.4 0 0 1 345.9 716.9V707.5Z" fill="#ad347c"/><path d="M345.9 716.9A9.4 9.4 0 0 1 336.5 707.5H345.9Z" fill="#b73779"/><path d="M336.5 707.5H355.3M345.9 698.1V716.9" stroke="#000" stroke-width=".85" fill="none"/><circle cx="345.9" cy="707.5" r="9.4" fill="none" stroke="#000" stroke-width=".9"/>
<path d="M359 707.5A9.4 9.4 0 0 1 368.4 698.1V707.5Z" fill="#701f81"/><path d="M368.4 698.1A9.4 9.4 0 0 1 377.8 707.5H368.4Z" fill="#5c167f"/><path d="M377.8 707.5A9.4 9.4 0 0 1 368.4 716.9V707.5Z" fill="#e44f64"/><path d="M368.4 716.9A9.4 9.4 0 0 1 359 707.5H368.4Z" fill="#e44f64"/><path d="M359 707.5H377.8M368.4 698.1V716.9" stroke="#000" stroke-width=".85" fill="none"/><circle cx="368.4" cy="707.5" r="9.4" fill="none" stroke="#000" stroke-width=".9"/>
<path d="M381.5 707.5A9.4 9.4 0 0 1 390.9 698.1V707.5Z" fill="#782281"/><path d="M390.9 698.1A9.4 9.4 0 0 1 400.3 707.5H390.9Z" fill="#701f81"/><path d="M400.3 707.5A9.4 9.4 0 0 1 390.9 716.9V707.5Z" fill="#fb835f"/><path d="M390.9 716.9A9.4 9.4 0 0 1 381.5 707.5H390.9Z" fill="#f4675c"/><path d="M381.5 707.5H400.3M390.9 698.1V716.9" stroke="#000" stroke-width=".85" fill="none"/><circle cx="390.9" cy="707.5" r="9.4" fill="none" stroke="#000" stroke-width=".9"/>
<path d="M404 707.5A9.4 9.4 0 0 1 413.4 698.1V707.5Z" fill="#7c2382"/><path d="M413.4 698.1A9.4 9.4 0 0 1 422.8 707.5H413.4Z" fill="#7c2382"/><path d="M422.8 707.5A9.4 9.4 0 0 1 413.4 716.9V707.5Z" fill="#fd9668"/><path d="M413.4 716.9A9.4 9.4 0 0 1 404 707.5H413.4Z" fill="#f9795d"/><path d="M404 707.5H422.8M413.4 698.1V716.9" stroke="#000" stroke-width=".85" fill="none"/><circle cx="413.4" cy="707.5" r="9.4" fill="none" stroke="#000" stroke-width=".9"/>
<path d="M426.5 707.5A9.4 9.4 0 0 1 435.9 698.1V707.5Z" fill="#802582"/><path d="M435.9 698.1A9.4 9.4 0 0 1 445.3 707.5H435.9Z" fill="#842681"/><path d="M445.3 707.5A9.4 9.4 0 0 1 435.9 716.9V707.5Z" fill="#fe9f6d"/><path d="M435.9 716.9A9.4 9.4 0 0 1 426.5 707.5H435.9Z" fill="#fb835f"/><path d="M426.5 707.5H445.3M435.9 698.1V716.9" stroke="#000" stroke-width=".85" fill="none"/><circle cx="435.9" cy="707.5" r="9.4" fill="none" stroke="#000" stroke-width=".9"/>
<path d="M449 707.5A9.4 9.4 0 0 1 458.4 698.1V707.5Z" fill="#802582"/><path d="M458.4 698.1A9.4 9.4 0 0 1 467.8 707.5H458.4Z" fill="#842681"/><path d="M467.8 707.5A9.4 9.4 0 0 1 458.4 716.9V707.5Z" fill="#fe9f6d"/><path d="M458.4 716.9A9.4 9.4 0 0 1 449 707.5H458.4Z" fill="#fb835f"/><path d="M449 707.5H467.8M458.4 698.1V716.9" stroke="#000" stroke-width=".85" fill="none"/><circle cx="458.4" cy="707.5" r="9.4" fill="none" stroke="#000" stroke-width=".9"/>
<path d="M471.5 707.5A9.4 9.4 0 0 1 480.9 698.1V707.5Z" fill="#802582"/><path d="M480.9 698.1A9.4 9.4 0 0 1 490.3 707.5H480.9Z" fill="#882781"/><path d="M490.3 707.5A9.4 9.4 0 0 1 480.9 716.9V707.5Z" fill="#fe9f6d"/><path d="M480.9 716.9A9.4 9.4 0 0 1 471.5 707.5H480.9Z" fill="#f9795d"/><path d="M471.5 707.5H490.3M480.9 698.1V716.9" stroke="#000" stroke-width=".85" fill="none"/><circle cx="480.9" cy="707.5" r="9.4" fill="none" stroke="#000" stroke-width=".9"/>
<path d="M494 707.5A9.4 9.4 0 0 1 503.4 698.1V707.5Z" fill="#802582"/><path d="M503.4 698.1A9.4 9.4 0 0 1 512.8 707.5H503.4Z" fill="#882781"/><path d="M512.8 707.5A9.4 9.4 0 0 1 503.4 716.9V707.5Z" fill="#fe9f6d"/><path d="M503.4 716.9A9.4 9.4 0 0 1 494 707.5H503.4Z" fill="#f9795d"/><path d="M494 707.5H512.8M503.4 698.1V716.9" stroke="#000" stroke-width=".85" fill="none"/><circle cx="503.4" cy="707.5" r="9.4" fill="none" stroke="#000" stroke-width=".9"/>
<path d="M516.5 707.5A9.4 9.4 0 0 1 525.9 698.1V707.5Z" fill="#802582"/><path d="M525.9 698.1A9.4 9.4 0 0 1 535.3 707.5H525.9Z" fill="#8c2981"/><path d="M535.3 707.5A9.4 9.4 0 0 1 525.9 716.9V707.5Z" fill="#fe9f6d"/><path d="M525.9 716.9A9.4 9.4 0 0 1 516.5 707.5H525.9Z" fill="#f9795d"/><path d="M516.5 707.5H535.3M525.9 698.1V716.9" stroke="#000" stroke-width=".85" fill="none"/><circle cx="525.9" cy="707.5" r="9.4" fill="none" stroke="#000" stroke-width=".9"/>
<path d="M539 707.5A9.4 9.4 0 0 1 548.4 698.1V707.5Z" fill="#842681"/><path d="M548.4 698.1A9.4 9.4 0 0 1 557.8 707.5H548.4Z" fill="#8c2981"/><path d="M557.8 707.5A9.4 9.4 0 0 1 548.4 716.9V707.5Z" fill="#fe9f6d"/><path d="M548.4 716.9A9.4 9.4 0 0 1 539 707.5H548.4Z" fill="#f9795d"/><path d="M539 707.5H557.8M548.4 698.1V716.9" stroke="#000" stroke-width=".85" fill="none"/><circle cx="548.4" cy="707.5" r="9.4" fill="none" stroke="#000" stroke-width=".9"/>
<text x="334.6" y="732" font-size="9.8" text-anchor="end" fill="#1a1a1a">SVC</text>
<path d="M336.5 728.7A9.4 9.4 0 0 1 345.9 719.3V728.7Z" fill="#6b1d81"/><path d="M345.9 719.3A9.4 9.4 0 0 1 355.3 728.7H345.9Z" fill="#331067"/><path d="M355.3 728.7A9.4 9.4 0 0 1 345.9 738.1V728.7Z" fill="#8c2981"/><path d="M345.9 738.1A9.4 9.4 0 0 1 336.5 728.7H345.9Z" fill="#a5317e"/><path d="M336.5 728.7H355.3M345.9 719.3V738.1" stroke="#000" stroke-width=".85" fill="none"/><circle cx="345.9" cy="728.7" r="9.4" fill="none" stroke="#000" stroke-width=".9"/>
<path d="M359 728.7A9.4 9.4 0 0 1 368.4 719.3V728.7Z" fill="#782281"/><path d="M368.4 719.3A9.4 9.4 0 0 1 377.8 728.7H368.4Z" fill="#5c167f"/><path d="M377.8 728.7A9.4 9.4 0 0 1 368.4 738.1V728.7Z" fill="#e44f64"/><path d="M368.4 738.1A9.4 9.4 0 0 1 359 728.7H368.4Z" fill="#e44f64"/><path d="M359 728.7H377.8M368.4 719.3V738.1" stroke="#000" stroke-width=".85" fill="none"/><circle cx="368.4" cy="728.7" r="9.4" fill="none" stroke="#000" stroke-width=".9"/>
<path d="M381.5 728.7A9.4 9.4 0 0 1 390.9 719.3V728.7Z" fill="#641a80"/><path d="M390.9 719.3A9.4 9.4 0 0 1 400.3 728.7H390.9Z" fill="#54137d"/><path d="M400.3 728.7A9.4 9.4 0 0 1 390.9 738.1V728.7Z" fill="#e44f64"/><path d="M390.9 738.1A9.4 9.4 0 0 1 381.5 728.7H390.9Z" fill="#bf3a77"/><path d="M381.5 728.7H400.3M390.9 719.3V738.1" stroke="#000" stroke-width=".85" fill="none"/><circle cx="390.9" cy="728.7" r="9.4" fill="none" stroke="#000" stroke-width=".9"/>
<path d="M404 728.7A9.4 9.4 0 0 1 413.4 719.3V728.7Z" fill="#7c2382"/><path d="M413.4 719.3A9.4 9.4 0 0 1 422.8 728.7H413.4Z" fill="#752181"/><path d="M422.8 728.7A9.4 9.4 0 0 1 413.4 738.1V728.7Z" fill="#fb835f"/><path d="M413.4 738.1A9.4 9.4 0 0 1 404 728.7H413.4Z" fill="#f4675c"/><path d="M404 728.7H422.8M413.4 719.3V738.1" stroke="#000" stroke-width=".85" fill="none"/><circle cx="413.4" cy="728.7" r="9.4" fill="none" stroke="#000" stroke-width=".9"/>
<path d="M426.5 728.7A9.4 9.4 0 0 1 435.9 719.3V728.7Z" fill="#842681"/><path d="M435.9 719.3A9.4 9.4 0 0 1 445.3 728.7H435.9Z" fill="#802582"/><path d="M445.3 728.7A9.4 9.4 0 0 1 435.9 738.1V728.7Z" fill="#fc8c63"/><path d="M435.9 738.1A9.4 9.4 0 0 1 426.5 728.7H435.9Z" fill="#f9795d"/><path d="M426.5 728.7H445.3M435.9 719.3V738.1" stroke="#000" stroke-width=".85" fill="none"/><circle cx="435.9" cy="728.7" r="9.4" fill="none" stroke="#000" stroke-width=".9"/>
<path d="M449 728.7A9.4 9.4 0 0 1 458.4 719.3V728.7Z" fill="#752181"/><path d="M458.4 719.3A9.4 9.4 0 0 1 467.8 728.7H458.4Z" fill="#7c2382"/><path d="M467.8 728.7A9.4 9.4 0 0 1 458.4 738.1V728.7Z" fill="#fb835f"/><path d="M458.4 738.1A9.4 9.4 0 0 1 449 728.7H458.4Z" fill="#ef5d5e"/><path d="M449 728.7H467.8M458.4 719.3V738.1" stroke="#000" stroke-width=".85" fill="none"/><circle cx="458.4" cy="728.7" r="9.4" fill="none" stroke="#000" stroke-width=".9"/>
<path d="M471.5 728.7A9.4 9.4 0 0 1 480.9 719.3V728.7Z" fill="#5c167f"/><path d="M480.9 719.3A9.4 9.4 0 0 1 490.3 728.7H480.9Z" fill="#6b1d81"/><path d="M490.3 728.7A9.4 9.4 0 0 1 480.9 738.1V728.7Z" fill="#f4675c"/><path d="M480.9 738.1A9.4 9.4 0 0 1 471.5 728.7H480.9Z" fill="#d6456c"/><path d="M471.5 728.7H490.3M480.9 719.3V738.1" stroke="#000" stroke-width=".85" fill="none"/><circle cx="480.9" cy="728.7" r="9.4" fill="none" stroke="#000" stroke-width=".9"/>
<path d="M494 728.7A9.4 9.4 0 0 1 503.4 719.3V728.7Z" fill="#5c167f"/><path d="M503.4 719.3A9.4 9.4 0 0 1 512.8 728.7H503.4Z" fill="#6b1d81"/><path d="M512.8 728.7A9.4 9.4 0 0 1 503.4 738.1V728.7Z" fill="#f4675c"/><path d="M503.4 738.1A9.4 9.4 0 0 1 494 728.7H503.4Z" fill="#d6456c"/><path d="M494 728.7H512.8M503.4 719.3V738.1" stroke="#000" stroke-width=".85" fill="none"/><circle cx="503.4" cy="728.7" r="9.4" fill="none" stroke="#000" stroke-width=".9"/>
<path d="M516.5 728.7A9.4 9.4 0 0 1 525.9 719.3V728.7Z" fill="#59157e"/><path d="M525.9 719.3A9.4 9.4 0 0 1 535.3 728.7H525.9Z" fill="#6b1d81"/><path d="M535.3 728.7A9.4 9.4 0 0 1 525.9 738.1V728.7Z" fill="#f4675c"/><path d="M525.9 738.1A9.4 9.4 0 0 1 516.5 728.7H525.9Z" fill="#d2426f"/><path d="M516.5 728.7H535.3M525.9 719.3V738.1" stroke="#000" stroke-width=".85" fill="none"/><circle cx="525.9" cy="728.7" r="9.4" fill="none" stroke="#000" stroke-width=".9"/>
<path d="M539 728.7A9.4 9.4 0 0 1 548.4 719.3V728.7Z" fill="#59157e"/><path d="M548.4 719.3A9.4 9.4 0 0 1 557.8 728.7H548.4Z" fill="#641a80"/><path d="M557.8 728.7A9.4 9.4 0 0 1 548.4 738.1V728.7Z" fill="#f4675c"/><path d="M548.4 738.1A9.4 9.4 0 0 1 539 728.7H548.4Z" fill="#d2426f"/><path d="M539 728.7H557.8M548.4 719.3V738.1" stroke="#000" stroke-width=".85" fill="none"/><circle cx="548.4" cy="728.7" r="9.4" fill="none" stroke="#000" stroke-width=".9"/>
<text x="334.6" y="753.2" font-size="9.8" text-anchor="end" fill="#1a1a1a">KNN</text>
<path d="M336.5 749.9A9.4 9.4 0 0 1 345.9 740.5V749.9Z" fill="#000004"/><path d="M345.9 740.5A9.4 9.4 0 0 1 355.3 749.9H345.9Z" fill="#000004"/><path d="M355.3 749.9A9.4 9.4 0 0 1 345.9 759.3V749.9Z" fill="#000004"/><path d="M345.9 759.3A9.4 9.4 0 0 1 336.5 749.9H345.9Z" fill="#000004"/><path d="M336.5 749.9H355.3M345.9 740.5V759.3" stroke="#000" stroke-width=".85" fill="none"/><circle cx="345.9" cy="749.9" r="9.4" fill="none" stroke="#000" stroke-width=".9"/>
<path d="M359 749.9A9.4 9.4 0 0 1 368.4 740.5V749.9Z" fill="#06051a"/><path d="M368.4 740.5A9.4 9.4 0 0 1 377.8 749.9H368.4Z" fill="#06051a"/><path d="M377.8 749.9A9.4 9.4 0 0 1 368.4 759.3V749.9Z" fill="#21114e"/><path d="M368.4 759.3A9.4 9.4 0 0 1 359 749.9H368.4Z" fill="#1a1042"/><path d="M359 749.9H377.8M368.4 740.5V759.3" stroke="#000" stroke-width=".85" fill="none"/><circle cx="368.4" cy="749.9" r="9.4" fill="none" stroke="#000" stroke-width=".9"/>
<path d="M381.5 749.9A9.4 9.4 0 0 1 390.9 740.5V749.9Z" fill="#0e0b2b"/><path d="M390.9 740.5A9.4 9.4 0 0 1 400.3 749.9H390.9Z" fill="#0e0b2b"/><path d="M400.3 749.9A9.4 9.4 0 0 1 390.9 759.3V749.9Z" fill="#440f76"/><path d="M390.9 759.3A9.4 9.4 0 0 1 381.5 749.9H390.9Z" fill="#3b0f70"/><path d="M381.5 749.9H400.3M390.9 740.5V759.3" stroke="#000" stroke-width=".85" fill="none"/><circle cx="390.9" cy="749.9" r="9.4" fill="none" stroke="#000" stroke-width=".9"/>
<path d="M404 749.9A9.4 9.4 0 0 1 413.4 740.5V749.9Z" fill="#120d31"/><path d="M413.4 740.5A9.4 9.4 0 0 1 422.8 749.9H413.4Z" fill="#0e0b2b"/><path d="M422.8 749.9A9.4 9.4 0 0 1 413.4 759.3V749.9Z" fill="#4c117a"/><path d="M413.4 759.3A9.4 9.4 0 0 1 404 749.9H413.4Z" fill="#440f76"/><path d="M404 749.9H422.8M413.4 740.5V759.3" stroke="#000" stroke-width=".85" fill="none"/><circle cx="413.4" cy="749.9" r="9.4" fill="none" stroke="#000" stroke-width=".9"/>
<path d="M426.5 749.9A9.4 9.4 0 0 1 435.9 740.5V749.9Z" fill="#140e36"/><path d="M435.9 740.5A9.4 9.4 0 0 1 445.3 749.9H435.9Z" fill="#140e36"/><path d="M445.3 749.9A9.4 9.4 0 0 1 435.9 759.3V749.9Z" fill="#54137d"/><path d="M435.9 759.3A9.4 9.4 0 0 1 426.5 749.9H435.9Z" fill="#4c117a"/><path d="M426.5 749.9H445.3M435.9 740.5V759.3" stroke="#000" stroke-width=".85" fill="none"/><circle cx="435.9" cy="749.9" r="9.4" fill="none" stroke="#000" stroke-width=".9"/>
<path d="M449 749.9A9.4 9.4 0 0 1 458.4 740.5V749.9Z" fill="#180f3d"/><path d="M458.4 740.5A9.4 9.4 0 0 1 467.8 749.9H458.4Z" fill="#180f3d"/><path d="M467.8 749.9A9.4 9.4 0 0 1 458.4 759.3V749.9Z" fill="#59157e"/><path d="M458.4 759.3A9.4 9.4 0 0 1 449 749.9H458.4Z" fill="#51127c"/><path d="M449 749.9H467.8M458.4 740.5V759.3" stroke="#000" stroke-width=".85" fill="none"/><circle cx="458.4" cy="749.9" r="9.4" fill="none" stroke="#000" stroke-width=".9"/>
<path d="M471.5 749.9A9.4 9.4 0 0 1 480.9 740.5V749.9Z" fill="#180f3d"/><path d="M480.9 740.5A9.4 9.4 0 0 1 490.3 749.9H480.9Z" fill="#180f3d"/><path d="M490.3 749.9A9.4 9.4 0 0 1 480.9 759.3V749.9Z" fill="#5c167f"/><path d="M480.9 759.3A9.4 9.4 0 0 1 471.5 749.9H480.9Z" fill="#54137d"/><path d="M471.5 749.9H490.3M480.9 740.5V759.3" stroke="#000" stroke-width=".85" fill="none"/><circle cx="480.9" cy="749.9" r="9.4" fill="none" stroke="#000" stroke-width=".9"/>
<path d="M494 749.9A9.4 9.4 0 0 1 503.4 740.5V749.9Z" fill="#180f3d"/><path d="M503.4 740.5A9.4 9.4 0 0 1 512.8 749.9H503.4Z" fill="#180f3d"/><path d="M512.8 749.9A9.4 9.4 0 0 1 503.4 759.3V749.9Z" fill="#601880"/><path d="M503.4 759.3A9.4 9.4 0 0 1 494 749.9H503.4Z" fill="#59157e"/><path d="M494 749.9H512.8M503.4 740.5V759.3" stroke="#000" stroke-width=".85" fill="none"/><circle cx="503.4" cy="749.9" r="9.4" fill="none" stroke="#000" stroke-width=".9"/>
<path d="M516.5 749.9A9.4 9.4 0 0 1 525.9 740.5V749.9Z" fill="#180f3d"/><path d="M525.9 740.5A9.4 9.4 0 0 1 535.3 749.9H525.9Z" fill="#180f3d"/><path d="M535.3 749.9A9.4 9.4 0 0 1 525.9 759.3V749.9Z" fill="#601880"/><path d="M525.9 759.3A9.4 9.4 0 0 1 516.5 749.9H525.9Z" fill="#5c167f"/><path d="M516.5 749.9H535.3M525.9 740.5V759.3" stroke="#000" stroke-width=".85" fill="none"/><circle cx="525.9" cy="749.9" r="9.4" fill="none" stroke="#000" stroke-width=".9"/>
<path d="M539 749.9A9.4 9.4 0 0 1 548.4 740.5V749.9Z" fill="#180f3d"/><path d="M548.4 740.5A9.4 9.4 0 0 1 557.8 749.9H548.4Z" fill="#180f3d"/><path d="M557.8 749.9A9.4 9.4 0 0 1 548.4 759.3V749.9Z" fill="#641a80"/><path d="M548.4 759.3A9.4 9.4 0 0 1 539 749.9H548.4Z" fill="#5c167f"/><path d="M539 749.9H557.8M548.4 740.5V759.3" stroke="#000" stroke-width=".85" fill="none"/><circle cx="548.4" cy="749.9" r="9.4" fill="none" stroke="#000" stroke-width=".9"/>
<text x="346.5" y="771.5" font-size="9.6" text-anchor="middle" fill="#1a1a1a">1,000</text>
<text x="435.9" y="771.5" font-size="9.6" text-anchor="middle" fill="#1a1a1a">5,000</text>
<text x="548.4" y="771.5" font-size="9.6" text-anchor="middle" fill="#1a1a1a">10,000</text>
<text x="445.8" y="788.2" font-size="11.9" text-anchor="middle" fill="#111">training set size (no. of TEVp variants)</text>
<circle cx="616.1" cy="698.4" r="34.8" fill="#e8e8e8" stroke="#9a9a9a" stroke-width=".8"/>
<path d="M616.1 663.6V684.6M616.1 712.2V733.2M581.3 698.4H602.3M629.9 698.4H650.9" stroke="#9a9a9a" stroke-width=".8" fill="none"/>
<circle cx="616.1" cy="698.4" r="13.8" fill="none" stroke="#9a9a9a" stroke-width=".7" stroke-dasharray="2.2 1.6"/>
<text x="616.1" y="702.6" font-size="12" text-anchor="middle" fill="#111">%</text>
<text font-size="10.3" text-anchor="middle" fill="#111" transform="translate(599.13 681.43) rotate(-45)" dy="3.6">AUROC</text>
<text font-size="10.3" text-anchor="middle" fill="#111" transform="translate(633.07 681.43) rotate(45)" dy="3.6">AUPRC</text>
<text font-size="10.3" text-anchor="middle" fill="#111" transform="translate(599.13 715.37) rotate(45)" dy="3.6">F1</text>
<text font-size="10.3" text-anchor="middle" fill="#111" transform="translate(633.07 715.37) rotate(-45)" dy="3.6">MCC</text>
<g transform="translate(569.6 691) rotate(-45)"><rect x="0" y="-2.5" width="57.98" height="5" fill="url(#magH)"/></g>
<line x1="569.06" y1="688" x2="567.29" y2="686.23" stroke="#222" stroke-width="0.8"/>
<text font-size="8" text-anchor="middle" fill="#1a1a1a" transform="translate(564.32 683.26) rotate(-45)" dy="2.6">54</text>
<line x1="588.33" y1="668.73" x2="586.56" y2="666.96" stroke="#222" stroke-width="0.8"/>
<text font-size="8" text-anchor="middle" fill="#1a1a1a" transform="translate(583.59 663.99) rotate(-45)" dy="2.6">73</text>
<line x1="607.6" y1="649.46" x2="605.83" y2="647.69" stroke="#222" stroke-width="0.8"/>
<text font-size="8" text-anchor="middle" fill="#1a1a1a" transform="translate(602.86 644.72) rotate(-45)" dy="2.6">91</text>
<g transform="translate(664 691) rotate(-135)"><rect x="0" y="-2.5" width="57.98" height="5" fill="url(#magH)"/></g>
<line x1="664.54" y1="688" x2="666.31" y2="686.23" stroke="#222" stroke-width="0.8"/>
<text font-size="8" text-anchor="middle" fill="#1a1a1a" transform="translate(669.28 683.26) rotate(45)" dy="2.6">6</text>
<line x1="645.27" y1="668.73" x2="647.04" y2="666.96" stroke="#222" stroke-width="0.8"/>
<text font-size="8" text-anchor="middle" fill="#1a1a1a" transform="translate(650.01 663.99) rotate(45)" dy="2.6">33</text>
<line x1="626" y1="649.46" x2="627.77" y2="647.69" stroke="#222" stroke-width="0.8"/>
<text font-size="8" text-anchor="middle" fill="#1a1a1a" transform="translate(630.74 644.72) rotate(45)" dy="2.6">59</text>
<g transform="translate(610.6 746.2) rotate(-135)"><rect x="0" y="-2.5" width="57.98" height="5" fill="url(#magH)"/></g>
<line x1="607.6" y1="746.74" x2="605.83" y2="748.51" stroke="#222" stroke-width="0.8"/>
<text font-size="8" text-anchor="middle" fill="#1a1a1a" transform="translate(602.86 751.48) rotate(45)" dy="2.6">13</text>
<line x1="588.33" y1="727.47" x2="586.56" y2="729.24" stroke="#222" stroke-width="0.8"/>
<text font-size="8" text-anchor="middle" fill="#1a1a1a" transform="translate(583.59 732.21) rotate(45)" dy="2.6">37</text>
<line x1="569.06" y1="708.2" x2="567.29" y2="709.97" stroke="#222" stroke-width="0.8"/>
<text font-size="8" text-anchor="middle" fill="#1a1a1a" transform="translate(564.32 712.94) rotate(45)" dy="2.6">60</text>
<g transform="translate(623 746.2) rotate(-45)"><rect x="0" y="-2.5" width="57.98" height="5" fill="url(#magH)"/></g>
<line x1="626" y1="746.74" x2="627.77" y2="748.51" stroke="#222" stroke-width="0.8"/>
<text font-size="8" text-anchor="middle" fill="#1a1a1a" transform="translate(630.74 751.48) rotate(-45)" dy="2.6">17</text>
<line x1="645.27" y1="727.47" x2="647.04" y2="729.24" stroke="#222" stroke-width="0.8"/>
<text font-size="8" text-anchor="middle" fill="#1a1a1a" transform="translate(650.01 732.21) rotate(-45)" dy="2.6">38</text>
<line x1="664.54" y1="708.2" x2="666.31" y2="709.97" stroke="#222" stroke-width="0.8"/>
<text font-size="8" text-anchor="middle" fill="#1a1a1a" transform="translate(669.28 712.94) rotate(-45)" dy="2.6">59</text>
<text x="2" y="817.5" font-size="17.5" font-weight="bold">h</text>
<text x="313" y="820.3" font-size="12" text-anchor="middle" fill="#111">design goal</text>
<text x="175.6" y="834.6" font-size="12" text-anchor="middle" fill="#111">active on target</text>
<text x="457.6" y="834.6" font-size="12" text-anchor="middle" fill="#111">inactive on off-target</text>
<line x1="44.7" y1="839.2" x2="311" y2="839.2" stroke="#222" stroke-width="1.1"/>
<line x1="330.2" y1="839.2" x2="588.8" y2="839.2" stroke="#222" stroke-width="1.1"/>
<line x1="41.6" y1="843.4" x2="41.6" y2="930.8" stroke="#222" stroke-width="1.05"/>
<line x1="41.1" y1="930.3" x2="588.8" y2="930.3" stroke="#222" stroke-width="1.05"/>
<line x1="36.6" y1="930.3" x2="41.6" y2="930.3" stroke="#222" stroke-width="1"/>
<text x="34.4" y="933.6" font-size="9.5" text-anchor="end" fill="#333">0</text>
<line x1="36.6" y1="890.95" x2="41.6" y2="890.95" stroke="#222" stroke-width="1"/>
<text x="34.4" y="894.25" font-size="9.5" text-anchor="end" fill="#333">50</text>
<line x1="36.6" y1="851.6" x2="41.6" y2="851.6" stroke="#222" stroke-width="1"/>
<text x="34.4" y="854.9" font-size="9.5" text-anchor="end" fill="#333">100</text>
<text font-size="12" text-anchor="middle" fill="#111" transform="translate(17.5 888) rotate(-90)">hit rate , %</text>
<line x1="52.4" y1="930.3" x2="52.4" y2="933" stroke="#222" stroke-width="0.9"/>
<text x="52.4" y="945" font-size="10" text-anchor="middle" fill="#222">A</text>
<rect x="46.8" y="861.04" width="11.2" height="69.26" fill="#5c5c5c"/>
<circle cx="52.81" cy="861.01" r="1.6" fill="#000" fill-opacity=".45" stroke="#000" stroke-width=".7"/><circle cx="52.3" cy="860.31" r="1.6" fill="#000" fill-opacity=".45" stroke="#000" stroke-width=".7"/><circle cx="52.41" cy="860.51" r="1.6" fill="#000" fill-opacity=".45" stroke="#000" stroke-width=".7"/><circle cx="52.74" cy="860.37" r="1.6" fill="#000" fill-opacity=".45" stroke="#000" stroke-width=".7"/>
<path d="M48 924.79L52.4 922.29L56.8 924.79L52.4 927.29Z" fill="#fff"/>
<line x1="65.67" y1="930.3" x2="65.67" y2="933" stroke="#222" stroke-width="0.9"/>
<text x="65.67" y="945" font-size="10" text-anchor="middle" fill="#222">C</text>
<rect x="60.07" y="856.32" width="11.2" height="73.98" fill="#5c5c5c"/>
<circle cx="65.23" cy="856.41" r="1.6" fill="#000" fill-opacity=".45" stroke="#000" stroke-width=".7"/><circle cx="65.99" cy="855.58" r="1.6" fill="#000" fill-opacity=".45" stroke="#000" stroke-width=".7"/><circle cx="65.66" cy="855.85" r="1.6" fill="#000" fill-opacity=".45" stroke="#000" stroke-width=".7"/><circle cx="65.85" cy="856.33" r="1.6" fill="#000" fill-opacity=".45" stroke="#000" stroke-width=".7"/>
<path d="M61.27 923.22L65.67 920.72L70.07 923.22L65.67 925.72Z" fill="#fff"/>
<line x1="78.94" y1="930.3" x2="78.94" y2="933" stroke="#222" stroke-width="0.9"/>
<text x="78.94" y="945" font-size="10" text-anchor="middle" fill="#222">D</text>
<path d="M74.54 929.36L78.94 926.86L83.34 929.36L78.94 931.86Z" fill="#fff" stroke="#555" stroke-width=".6"/>
<line x1="92.21" y1="930.3" x2="92.21" y2="933" stroke="#222" stroke-width="0.9"/>
<text x="92.21" y="945" font-size="10" text-anchor="middle" fill="#222">E</text>
<path d="M87.81 929.36L92.21 926.86L96.61 929.36L92.21 931.86Z" fill="#fff" stroke="#555" stroke-width=".6"/>
<line x1="105.48" y1="930.3" x2="105.48" y2="933" stroke="#222" stroke-width="0.9"/>
<text x="105.48" y="945" font-size="10" text-anchor="middle" fill="#222">F</text>
<path d="M101.08 929.36L105.48 926.86L109.88 929.36L105.48 931.86Z" fill="#fff" stroke="#555" stroke-width=".6"/>
<line x1="118.75" y1="930.3" x2="118.75" y2="933" stroke="#222" stroke-width="0.9"/>
<text x="118.75" y="945" font-size="10" text-anchor="middle" fill="#222">G</text>
<rect x="113.15" y="862.62" width="11.2" height="67.68" fill="#5c5c5c"/>
<circle cx="118.9" cy="862.56" r="1.6" fill="#000" fill-opacity=".45" stroke="#000" stroke-width=".7"/><circle cx="119.1" cy="862.84" r="1.6" fill="#000" fill-opacity=".45" stroke="#000" stroke-width=".7"/><circle cx="119.04" cy="862.81" r="1.6" fill="#000" fill-opacity=".45" stroke="#000" stroke-width=".7"/><circle cx="118.18" cy="862.17" r="1.6" fill="#000" fill-opacity=".45" stroke="#000" stroke-width=".7"/>
<path d="M114.35 924L118.75 921.5L123.15 924L118.75 926.5Z" fill="#fff"/>
<line x1="132.02" y1="930.3" x2="132.02" y2="933" stroke="#222" stroke-width="0.9"/>
<text x="132.02" y="945" font-size="10" text-anchor="middle" fill="#222">H</text>
<rect x="126.42" y="914.56" width="11.2" height="15.74" fill="#5c5c5c"/>
<path d="M132.02 879.14V930.3M130.52 879.14H133.52" stroke="#777" stroke-width=".6" fill="none"/>
<circle cx="132.02" cy="851.6" r="1.6" fill="none" stroke="#222" stroke-width=".6"/>
<circle cx="131.71" cy="929.55" r="1.6" fill="#000" fill-opacity=".45" stroke="#000" stroke-width=".7"/><circle cx="131.86" cy="929.6" r="1.6" fill="#000" fill-opacity=".45" stroke="#000" stroke-width=".7"/>
<path d="M127.62 927.94L132.02 925.44L136.42 927.94L132.02 930.44Z" fill="#fff"/>
<line x1="145.29" y1="930.3" x2="145.29" y2="933" stroke="#222" stroke-width="0.9"/>
<text x="145.29" y="945" font-size="10" text-anchor="middle" fill="#222">I</text>
<path d="M140.89 929.36L145.29 926.86L149.69 929.36L145.29 931.86Z" fill="#fff" stroke="#555" stroke-width=".6"/>
<line x1="158.56" y1="930.3" x2="158.56" y2="933" stroke="#222" stroke-width="0.9"/>
<text x="158.56" y="945" font-size="10" text-anchor="middle" fill="#222">K</text>
<path d="M154.16 929.36L158.56 926.86L162.96 929.36L158.56 931.86Z" fill="#fff" stroke="#555" stroke-width=".6"/>
<line x1="171.83" y1="930.3" x2="171.83" y2="933" stroke="#222" stroke-width="0.9"/>
<text x="171.83" y="945" font-size="10" text-anchor="middle" fill="#222">L</text>
<path d="M167.43 929.36L171.83 926.86L176.23 929.36L171.83 931.86Z" fill="#fff" stroke="#555" stroke-width=".6"/>
<line x1="185.1" y1="930.3" x2="185.1" y2="933" stroke="#222" stroke-width="0.9"/>
<text x="185.1" y="945" font-size="10" text-anchor="middle" fill="#222">M</text>
<rect x="179.5" y="877.57" width="11.2" height="52.73" fill="#5c5c5c"/>
<circle cx="185.19" cy="877.07" r="1.6" fill="#000" fill-opacity=".45" stroke="#000" stroke-width=".7"/><circle cx="185.19" cy="876.76" r="1.6" fill="#000" fill-opacity=".45" stroke="#000" stroke-width=".7"/><circle cx="185.48" cy="877.62" r="1.6" fill="#000" fill-opacity=".45" stroke="#000" stroke-width=".7"/><circle cx="185.28" cy="876.7" r="1.6" fill="#000" fill-opacity=".45" stroke="#000" stroke-width=".7"/>
<path d="M180.7 927.94L185.1 925.44L189.5 927.94L185.1 930.44Z" fill="#fff"/>
<line x1="198.37" y1="930.3" x2="198.37" y2="933" stroke="#222" stroke-width="0.9"/>
<text x="198.37" y="945" font-size="10" text-anchor="middle" fill="#222">N</text>
<rect x="192.77" y="883.87" width="11.2" height="46.43" fill="#5c5c5c"/>
<path d="M198.37 878.36V889.38" stroke="#333" stroke-width=".6"/>
<circle cx="198.37" cy="878.36" r="1.5" fill="none" stroke="#000" stroke-width=".6"/>
<circle cx="198.37" cy="882.29" r="1.5" fill="none" stroke="#000" stroke-width=".6"/>
<circle cx="198.37" cy="885.44" r="1.5" fill="none" stroke="#000" stroke-width=".6"/>
<circle cx="198.37" cy="889.38" r="1.5" fill="none" stroke="#000" stroke-width=".6"/>
<path d="M193.97 927.15L198.37 924.65L202.77 927.15L198.37 929.65Z" fill="#fff"/>
<line x1="211.64" y1="930.3" x2="211.64" y2="933" stroke="#222" stroke-width="0.9"/>
<text x="211.64" y="945" font-size="10" text-anchor="middle" fill="#222">P</text>
<path d="M207.24 929.36L211.64 926.86L216.04 929.36L211.64 931.86Z" fill="#fff" stroke="#555" stroke-width=".6"/>
<line x1="224.91" y1="930.3" x2="224.91" y2="933" stroke="#222" stroke-width="0.9"/>
<text x="224.91" y="945" font-size="10" text-anchor="middle" fill="#222">Q</text>
<path d="M220.51 929.36L224.91 926.86L229.31 929.36L224.91 931.86Z" fill="#fff" stroke="#555" stroke-width=".6"/>
<line x1="238.18" y1="930.3" x2="238.18" y2="933" stroke="#222" stroke-width="0.9"/>
<text x="238.18" y="945" font-size="10" text-anchor="middle" fill="#222">R</text>
<path d="M233.78 929.36L238.18 926.86L242.58 929.36L238.18 931.86Z" fill="#fff" stroke="#555" stroke-width=".6"/>
<line x1="251.45" y1="930.3" x2="251.45" y2="933" stroke="#222" stroke-width="0.9"/>
<text x="251.45" y="945" font-size="10" text-anchor="middle" fill="#222">S</text>
<rect x="245.85" y="857.11" width="11.2" height="73.19" fill="#5c5c5c"/>
<circle cx="252.01" cy="856.03" r="1.6" fill="#000" fill-opacity=".45" stroke="#000" stroke-width=".7"/><circle cx="251.73" cy="856.23" r="1.6" fill="#000" fill-opacity=".45" stroke="#000" stroke-width=".7"/><circle cx="252.03" cy="856.03" r="1.6" fill="#000" fill-opacity=".45" stroke="#000" stroke-width=".7"/><circle cx="251.91" cy="856.96" r="1.6" fill="#000" fill-opacity=".45" stroke="#000" stroke-width=".7"/>
<path d="M247.05 921.64L251.45 919.14L255.85 921.64L251.45 924.14Z" fill="#fff"/>
<line x1="264.72" y1="930.3" x2="264.72" y2="933" stroke="#222" stroke-width="0.9"/>
<text x="264.72" y="945" font-size="10" text-anchor="middle" fill="#222">T</text>
<path d="M260.32 929.36L264.72 926.86L269.12 929.36L264.72 931.86Z" fill="#fff" stroke="#555" stroke-width=".6"/>
<line x1="277.99" y1="930.3" x2="277.99" y2="933" stroke="#222" stroke-width="0.9"/>
<text x="277.99" y="945" font-size="10" text-anchor="middle" fill="#222">V</text>
<path d="M273.59 929.36L277.99 926.86L282.39 929.36L277.99 931.86Z" fill="#fff" stroke="#555" stroke-width=".6"/>
<line x1="291.26" y1="930.3" x2="291.26" y2="933" stroke="#222" stroke-width="0.9"/>
<text x="291.26" y="945" font-size="10" text-anchor="middle" fill="#222">W</text>
<path d="M286.86 929.36L291.26 926.86L295.66 929.36L291.26 931.86Z" fill="#fff" stroke="#555" stroke-width=".6"/>
<line x1="304.53" y1="930.3" x2="304.53" y2="933" stroke="#222" stroke-width="0.9"/>
<text x="304.53" y="945" font-size="10" text-anchor="middle" fill="#222">Y</text>
<path d="M300.13 929.36L304.53 926.86L308.93 929.36L304.53 931.86Z" fill="#fff" stroke="#555" stroke-width=".6"/>
<line x1="338.8" y1="930.3" x2="338.8" y2="933" stroke="#222" stroke-width="0.9"/>
<text x="338.8" y="945" font-size="10" text-anchor="middle" fill="#222">A</text>
<rect x="333.2" y="912.2" width="11.2" height="18.1" fill="#5c5c5c"/>
<circle cx="338.8" cy="909.05" r="1.5" fill="none" stroke="#000" stroke-width=".6"/>
<circle cx="338.8" cy="912.2" r="1.5" fill="none" stroke="#000" stroke-width=".6"/>
<circle cx="338.8" cy="913.77" r="1.5" fill="none" stroke="#000" stroke-width=".6"/>
<path d="M334.4 926.76L338.8 924.26L343.2 926.76L338.8 929.26Z" fill="#fff"/>
<line x1="352.06" y1="930.3" x2="352.06" y2="933" stroke="#222" stroke-width="0.9"/>
<text x="352.06" y="945" font-size="10" text-anchor="middle" fill="#222">C</text>
<rect x="346.46" y="912.99" width="11.2" height="17.31" fill="#5c5c5c"/>
<path d="M352.06 900.39V927.15M350.56 900.39H353.56" stroke="#444" stroke-width=".6" fill="none"/>
<circle cx="352.06" cy="894.88" r="1.5" fill="none" stroke="#000" stroke-width=".6"/>
<circle cx="352.06" cy="910.62" r="1.5" fill="none" stroke="#000" stroke-width=".6"/>
<circle cx="352.06" cy="914.56" r="1.5" fill="none" stroke="#000" stroke-width=".6"/>
<circle cx="352.06" cy="916.92" r="1.5" fill="none" stroke="#000" stroke-width=".6"/>
<path d="M347.66 926.76L352.06 924.26L356.46 926.76L352.06 929.26Z" fill="#fff"/>
<line x1="365.32" y1="930.3" x2="365.32" y2="933" stroke="#222" stroke-width="0.9"/>
<text x="365.32" y="945" font-size="10" text-anchor="middle" fill="#222">D</text>
<rect x="359.72" y="860.26" width="11.2" height="70.04" fill="#5c5c5c"/>
<circle cx="365.49" cy="859.1" r="1.6" fill="#000" fill-opacity=".45" stroke="#000" stroke-width=".7"/><circle cx="365.05" cy="859.41" r="1.6" fill="#000" fill-opacity=".45" stroke="#000" stroke-width=".7"/><circle cx="365.6" cy="860.14" r="1.6" fill="#000" fill-opacity=".45" stroke="#000" stroke-width=".7"/><circle cx="365.79" cy="859.2" r="1.6" fill="#000" fill-opacity=".45" stroke="#000" stroke-width=".7"/>
<path d="M360.92 922.04L365.32 919.54L369.72 922.04L365.32 924.54Z" fill="#fff"/>
<line x1="378.58" y1="930.3" x2="378.58" y2="933" stroke="#222" stroke-width="0.9"/>
<text x="378.58" y="945" font-size="10" text-anchor="middle" fill="#222">E</text>
<rect x="372.98" y="859.47" width="11.2" height="70.83" fill="#5c5c5c"/>
<circle cx="378.03" cy="859.38" r="1.6" fill="#000" fill-opacity=".45" stroke="#000" stroke-width=".7"/><circle cx="378.15" cy="859.01" r="1.6" fill="#000" fill-opacity=".45" stroke="#000" stroke-width=".7"/><circle cx="378.79" cy="859.54" r="1.6" fill="#000" fill-opacity=".45" stroke="#000" stroke-width=".7"/><circle cx="378.52" cy="859.07" r="1.6" fill="#000" fill-opacity=".45" stroke="#000" stroke-width=".7"/>
<path d="M374.18 922.04L378.58 919.54L382.98 922.04L378.58 924.54Z" fill="#fff"/>
<line x1="391.84" y1="930.3" x2="391.84" y2="933" stroke="#222" stroke-width="0.9"/>
<text x="391.84" y="945" font-size="10" text-anchor="middle" fill="#222">F</text>
<rect x="386.24" y="872.06" width="11.2" height="58.24" fill="#5c5c5c"/>
<circle cx="391.73" cy="871.73" r="1.6" fill="#000" fill-opacity=".45" stroke="#000" stroke-width=".7"/><circle cx="392.27" cy="871.14" r="1.6" fill="#000" fill-opacity=".45" stroke="#000" stroke-width=".7"/><circle cx="391.51" cy="870.91" r="1.6" fill="#000" fill-opacity=".45" stroke="#000" stroke-width=".7"/><circle cx="391.38" cy="870.88" r="1.6" fill="#000" fill-opacity=".45" stroke="#000" stroke-width=".7"/>
<path d="M387.44 922.04L391.84 919.54L396.24 922.04L391.84 924.54Z" fill="#fff"/>
<line x1="405.1" y1="930.3" x2="405.1" y2="933" stroke="#222" stroke-width="0.9"/>
<text x="405.1" y="945" font-size="10" text-anchor="middle" fill="#222">G</text>
<rect x="399.5" y="910.62" width="11.2" height="19.68" fill="#5c5c5c"/>
<circle cx="405.1" cy="907.48" r="1.5" fill="none" stroke="#000" stroke-width=".6"/>
<circle cx="405.1" cy="910.62" r="1.5" fill="none" stroke="#000" stroke-width=".6"/>
<circle cx="405.1" cy="912.2" r="1.5" fill="none" stroke="#000" stroke-width=".6"/>
<path d="M400.7 926.76L405.1 924.26L409.5 926.76L405.1 929.26Z" fill="#fff"/>
<line x1="418.36" y1="930.3" x2="418.36" y2="933" stroke="#222" stroke-width="0.9"/>
<text x="418.36" y="945" font-size="10" text-anchor="middle" fill="#222">H</text>
<rect x="412.76" y="879.14" width="11.2" height="51.16" fill="#5c5c5c"/>
<circle cx="418.83" cy="878.58" r="1.6" fill="#000" fill-opacity=".45" stroke="#000" stroke-width=".7"/><circle cx="418.47" cy="879.32" r="1.6" fill="#000" fill-opacity=".45" stroke="#000" stroke-width=".7"/><circle cx="418.03" cy="878.77" r="1.6" fill="#000" fill-opacity=".45" stroke="#000" stroke-width=".7"/><circle cx="418.46" cy="879.46" r="1.6" fill="#000" fill-opacity=".45" stroke="#000" stroke-width=".7"/>
<path d="M413.96 922.04L418.36 919.54L422.76 922.04L418.36 924.54Z" fill="#fff"/>
<line x1="431.62" y1="930.3" x2="431.62" y2="933" stroke="#222" stroke-width="0.9"/>
<text x="431.62" y="945" font-size="10" text-anchor="middle" fill="#222">I</text>
<rect x="426.02" y="859.47" width="11.2" height="70.83" fill="#5c5c5c"/>
<circle cx="431.44" cy="858.96" r="1.6" fill="#000" fill-opacity=".45" stroke="#000" stroke-width=".7"/><circle cx="431.56" cy="858.82" r="1.6" fill="#000" fill-opacity=".45" stroke="#000" stroke-width=".7"/><circle cx="431.63" cy="858.9" r="1.6" fill="#000" fill-opacity=".45" stroke="#000" stroke-width=".7"/><circle cx="431.07" cy="858.94" r="1.6" fill="#000" fill-opacity=".45" stroke="#000" stroke-width=".7"/>
<path d="M427.22 922.04L431.62 919.54L436.02 922.04L431.62 924.54Z" fill="#fff"/>
<line x1="444.88" y1="930.3" x2="444.88" y2="933" stroke="#222" stroke-width="0.9"/>
<text x="444.88" y="945" font-size="10" text-anchor="middle" fill="#222">K</text>
<rect x="439.28" y="856.32" width="11.2" height="73.98" fill="#5c5c5c"/>
<circle cx="444.94" cy="855.33" r="1.6" fill="#000" fill-opacity=".45" stroke="#000" stroke-width=".7"/><circle cx="445.13" cy="855.61" r="1.6" fill="#000" fill-opacity=".45" stroke="#000" stroke-width=".7"/><circle cx="445.41" cy="855.43" r="1.6" fill="#000" fill-opacity=".45" stroke="#000" stroke-width=".7"/><circle cx="445.19" cy="855.39" r="1.6" fill="#000" fill-opacity=".45" stroke="#000" stroke-width=".7"/>
<path d="M440.48 922.04L444.88 919.54L449.28 922.04L444.88 924.54Z" fill="#fff"/>
<line x1="458.14" y1="930.3" x2="458.14" y2="933" stroke="#222" stroke-width="0.9"/>
<text x="458.14" y="945" font-size="10" text-anchor="middle" fill="#222">L</text>
<rect x="452.54" y="857.9" width="11.2" height="72.4" fill="#5c5c5c"/>
<circle cx="457.62" cy="857.36" r="1.6" fill="#000" fill-opacity=".45" stroke="#000" stroke-width=".7"/><circle cx="457.67" cy="857.9" r="1.6" fill="#000" fill-opacity=".45" stroke="#000" stroke-width=".7"/><circle cx="458.15" cy="856.78" r="1.6" fill="#000" fill-opacity=".45" stroke="#000" stroke-width=".7"/><circle cx="457.59" cy="857.87" r="1.6" fill="#000" fill-opacity=".45" stroke="#000" stroke-width=".7"/>
<path d="M453.74 922.04L458.14 919.54L462.54 922.04L458.14 924.54Z" fill="#fff"/>
<line x1="471.4" y1="930.3" x2="471.4" y2="933" stroke="#222" stroke-width="0.9"/>
<text x="471.4" y="945" font-size="10" text-anchor="middle" fill="#222">M</text>
<rect x="465.8" y="881.51" width="11.2" height="48.79" fill="#5c5c5c"/>
<circle cx="471.4" cy="880.73" r="1.6" fill="#000" fill-opacity=".45" stroke="#000" stroke-width=".7"/><circle cx="471.56" cy="880.69" r="1.6" fill="#000" fill-opacity=".45" stroke="#000" stroke-width=".7"/><circle cx="471.37" cy="881.86" r="1.6" fill="#000" fill-opacity=".45" stroke="#000" stroke-width=".7"/><circle cx="470.9" cy="880.81" r="1.6" fill="#000" fill-opacity=".45" stroke="#000" stroke-width=".7"/>
<path d="M467 922.04L471.4 919.54L475.8 922.04L471.4 924.54Z" fill="#fff"/>
<line x1="484.66" y1="930.3" x2="484.66" y2="933" stroke="#222" stroke-width="0.9"/>
<text x="484.66" y="945" font-size="10" text-anchor="middle" fill="#222">N</text>
<rect x="479.06" y="883.08" width="11.2" height="47.22" fill="#5c5c5c"/>
<circle cx="484.35" cy="882.68" r="1.6" fill="#000" fill-opacity=".45" stroke="#000" stroke-width=".7"/><circle cx="484.25" cy="883.19" r="1.6" fill="#000" fill-opacity=".45" stroke="#000" stroke-width=".7"/><circle cx="484.34" cy="882.76" r="1.6" fill="#000" fill-opacity=".45" stroke="#000" stroke-width=".7"/><circle cx="485.17" cy="882.52" r="1.6" fill="#000" fill-opacity=".45" stroke="#000" stroke-width=".7"/>
<path d="M480.26 922.04L484.66 919.54L489.06 922.04L484.66 924.54Z" fill="#fff"/>
<line x1="497.92" y1="930.3" x2="497.92" y2="933" stroke="#222" stroke-width="0.9"/>
<text x="497.92" y="945" font-size="10" text-anchor="middle" fill="#222">P</text>
<rect x="492.32" y="859.47" width="11.2" height="70.83" fill="#5c5c5c"/>
<circle cx="498.49" cy="858.36" r="1.6" fill="#000" fill-opacity=".45" stroke="#000" stroke-width=".7"/><circle cx="498.19" cy="859.04" r="1.6" fill="#000" fill-opacity=".45" stroke="#000" stroke-width=".7"/><circle cx="498.45" cy="858.92" r="1.6" fill="#000" fill-opacity=".45" stroke="#000" stroke-width=".7"/><circle cx="498.42" cy="858.52" r="1.6" fill="#000" fill-opacity=".45" stroke="#000" stroke-width=".7"/>
<path d="M493.52 922.04L497.92 919.54L502.32 922.04L497.92 924.54Z" fill="#fff"/>
<line x1="511.18" y1="930.3" x2="511.18" y2="933" stroke="#222" stroke-width="0.9"/>
<text x="511.18" y="945" font-size="10" text-anchor="middle" fill="#222">Q</text>
<rect x="505.58" y="859.47" width="11.2" height="70.83" fill="#5c5c5c"/>
<circle cx="511.32" cy="859.69" r="1.6" fill="#000" fill-opacity=".45" stroke="#000" stroke-width=".7"/><circle cx="511.13" cy="859.41" r="1.6" fill="#000" fill-opacity=".45" stroke="#000" stroke-width=".7"/><circle cx="511.7" cy="859.1" r="1.6" fill="#000" fill-opacity=".45" stroke="#000" stroke-width=".7"/><circle cx="511.46" cy="859.43" r="1.6" fill="#000" fill-opacity=".45" stroke="#000" stroke-width=".7"/>
<path d="M506.78 922.04L511.18 919.54L515.58 922.04L511.18 924.54Z" fill="#fff"/>
<line x1="524.44" y1="930.3" x2="524.44" y2="933" stroke="#222" stroke-width="0.9"/>
<text x="524.44" y="945" font-size="10" text-anchor="middle" fill="#222">R</text>
<rect x="518.84" y="857.11" width="11.2" height="73.19" fill="#5c5c5c"/>
<circle cx="524.94" cy="856.13" r="1.6" fill="#000" fill-opacity=".45" stroke="#000" stroke-width=".7"/><circle cx="524.51" cy="856.68" r="1.6" fill="#000" fill-opacity=".45" stroke="#000" stroke-width=".7"/><circle cx="524.99" cy="856.52" r="1.6" fill="#000" fill-opacity=".45" stroke="#000" stroke-width=".7"/><circle cx="524.38" cy="856.83" r="1.6" fill="#000" fill-opacity=".45" stroke="#000" stroke-width=".7"/>
<path d="M520.04 922.04L524.44 919.54L528.84 922.04L524.44 924.54Z" fill="#fff"/>
<line x1="537.7" y1="930.3" x2="537.7" y2="933" stroke="#222" stroke-width="0.9"/>
<text x="537.7" y="945" font-size="10" text-anchor="middle" fill="#222">T</text>
<rect x="532.1" y="875.21" width="11.2" height="55.09" fill="#5c5c5c"/>
<circle cx="537.21" cy="875.53" r="1.6" fill="#000" fill-opacity=".45" stroke="#000" stroke-width=".7"/><circle cx="537.28" cy="875.19" r="1.6" fill="#000" fill-opacity=".45" stroke="#000" stroke-width=".7"/><circle cx="538.11" cy="875.21" r="1.6" fill="#000" fill-opacity=".45" stroke="#000" stroke-width=".7"/><circle cx="537.46" cy="874.57" r="1.6" fill="#000" fill-opacity=".45" stroke="#000" stroke-width=".7"/>
<path d="M533.3 922.04L537.7 919.54L542.1 922.04L537.7 924.54Z" fill="#fff"/>
<line x1="550.96" y1="930.3" x2="550.96" y2="933" stroke="#222" stroke-width="0.9"/>
<text x="550.96" y="945" font-size="10" text-anchor="middle" fill="#222">V</text>
<rect x="545.36" y="862.62" width="11.2" height="67.68" fill="#5c5c5c"/>
<circle cx="551.52" cy="862.31" r="1.6" fill="#000" fill-opacity=".45" stroke="#000" stroke-width=".7"/><circle cx="550.93" cy="862.26" r="1.6" fill="#000" fill-opacity=".45" stroke="#000" stroke-width=".7"/><circle cx="551.28" cy="863" r="1.6" fill="#000" fill-opacity=".45" stroke="#000" stroke-width=".7"/><circle cx="550.86" cy="861.79" r="1.6" fill="#000" fill-opacity=".45" stroke="#000" stroke-width=".7"/>
<path d="M546.56 922.04L550.96 919.54L555.36 922.04L550.96 924.54Z" fill="#fff"/>
<line x1="564.22" y1="930.3" x2="564.22" y2="933" stroke="#222" stroke-width="0.9"/>
<text x="564.22" y="945" font-size="10" text-anchor="middle" fill="#222">W</text>
<rect x="558.62" y="857.9" width="11.2" height="72.4" fill="#5c5c5c"/>
<circle cx="563.67" cy="857.64" r="1.6" fill="#000" fill-opacity=".45" stroke="#000" stroke-width=".7"/><circle cx="563.64" cy="857.52" r="1.6" fill="#000" fill-opacity=".45" stroke="#000" stroke-width=".7"/><circle cx="564.79" cy="857.16" r="1.6" fill="#000" fill-opacity=".45" stroke="#000" stroke-width=".7"/><circle cx="564.79" cy="857.71" r="1.6" fill="#000" fill-opacity=".45" stroke="#000" stroke-width=".7"/>
<path d="M559.82 922.04L564.22 919.54L568.62 922.04L564.22 924.54Z" fill="#fff"/>
<line x1="577.48" y1="930.3" x2="577.48" y2="933" stroke="#222" stroke-width="0.9"/>
<text x="577.48" y="945" font-size="10" text-anchor="middle" fill="#222">Y</text>
<rect x="571.88" y="873.64" width="11.2" height="56.66" fill="#5c5c5c"/>
<circle cx="577.58" cy="872.77" r="1.6" fill="#000" fill-opacity=".45" stroke="#000" stroke-width=".7"/><circle cx="577.65" cy="873.95" r="1.6" fill="#000" fill-opacity=".45" stroke="#000" stroke-width=".7"/><circle cx="576.93" cy="873.16" r="1.6" fill="#000" fill-opacity=".45" stroke="#000" stroke-width=".7"/><circle cx="577.3" cy="872.9" r="1.6" fill="#000" fill-opacity=".45" stroke="#000" stroke-width=".7"/>
<path d="M573.08 922.04L577.48 919.54L581.88 922.04L577.48 924.54Z" fill="#fff"/>
<text x="177.8" y="959.8" font-size="12" text-anchor="middle" fill="#111">target amino acid in P1’</text>
<text x="459.4" y="959.8" font-size="12" text-anchor="middle" fill="#111">off-target amino acid in P1’</text>
<path d="M596.2 867.6L606.8 861.4L617.4 867.6L606.8 873.8Z" fill="#fff" stroke="#555" stroke-width=".6"/>
<text x="621.4" y="866" font-size="9.8" fill="#111">random</text>
<text x="621.4" y="878" font-size="9.8" fill="#111">screen</text>
<rect x="601.6" y="889.7" width="12" height="19.9" fill="#5c5c5c"/>
<text x="621.4" y="896.8" font-size="9.8" fill="#111">MLP-guided</text>
<text x="621.4" y="908.8" font-size="9.8" fill="#111">design</text>
</svg>
</body></html>
